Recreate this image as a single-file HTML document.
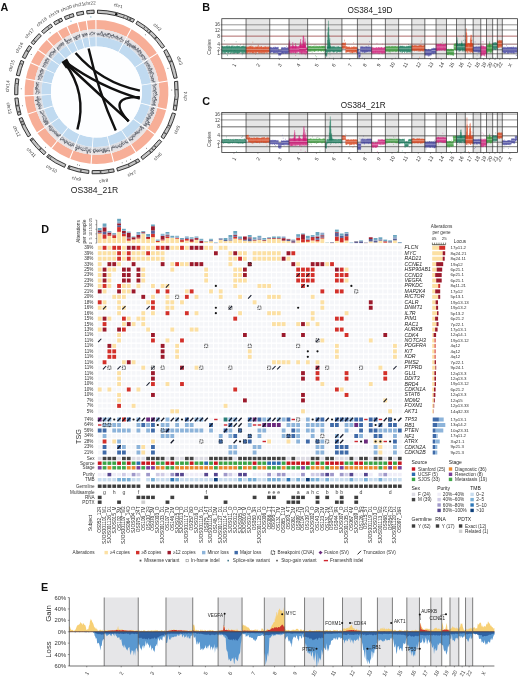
<!DOCTYPE html>
<html><head><meta charset="utf-8"><title>Figure</title>
<style>html,body{margin:0;padding:0;background:#fff;}svg{display:block;}</style></head>
<body><svg width="520" height="678" viewBox="0 0 520 678" font-family="'Liberation Sans', Arial, sans-serif">
<rect width="520" height="678" fill="#fff"/>
<text x="0.6" y="11" font-size="10.8" font-weight="bold" fill="#111">A</text>
<text x="202.3" y="11" font-size="10.8" font-weight="bold" fill="#111">B</text>
<text x="202.2" y="104.7" font-size="10.8" font-weight="bold" fill="#111">C</text>
<text x="41.2" y="233" font-size="10.8" font-weight="bold" fill="#111">D</text>
<text x="41" y="590.7" font-size="10.8" font-weight="bold" fill="#111">E</text>
<path d="M96.44,20.1A71.9,71.9 0 0 1 130.68,28.74L126.35,36.75A62.8,62.8 0 0 0 96.45,29.2Z" fill="#f7ae97"/>
<path d="M96.45,29.2A62.8,62.8 0 0 1 126.35,36.75L122.64,43.61A55,55 0 0 0 96.45,37Z" fill="#dcdde2"/>
<path d="M96.45,37A55,55 0 0 1 122.64,43.61L118.17,51.88A45.6,45.6 0 0 0 96.46,46.4Z" fill="#c0daf0"/>
<path d="M131.67,29.29A71.9,71.9 0 0 1 156.84,52.9L149.2,57.84A62.8,62.8 0 0 0 127.21,37.22Z" fill="#f7ae97"/>
<path d="M127.21,37.22A62.8,62.8 0 0 1 149.2,57.84L142.65,62.09A55,55 0 0 0 123.4,44.03Z" fill="#dcdde2"/>
<path d="M123.4,44.03A55,55 0 0 1 142.65,62.09L134.77,67.2A45.6,45.6 0 0 0 118.8,52.23Z" fill="#c0daf0"/>
<path d="M157.44,53.85A71.9,71.9 0 0 1 167.47,80.49L158.49,81.94A62.8,62.8 0 0 0 149.73,58.68Z" fill="#f7ae97"/>
<path d="M149.73,58.68A62.8,62.8 0 0 1 158.49,81.94L150.79,83.19A55,55 0 0 0 143.12,62.82Z" fill="#dcdde2"/>
<path d="M143.12,62.82A55,55 0 0 1 150.79,83.19L141.51,84.7A45.6,45.6 0 0 0 135.15,67.8Z" fill="#c0daf0"/>
<path d="M167.64,81.6A71.9,71.9 0 0 1 166.34,109.09L157.5,106.93A62.8,62.8 0 0 0 158.64,82.92Z" fill="#f7ae97"/>
<path d="M158.64,82.92A62.8,62.8 0 0 1 157.5,106.93L149.92,105.07A55,55 0 0 0 150.92,84.05Z" fill="#dcdde2"/>
<path d="M150.92,84.05A55,55 0 0 1 149.92,105.07L140.79,102.84A45.6,45.6 0 0 0 141.62,85.41Z" fill="#c0daf0"/>
<path d="M166.06,110.18A71.9,71.9 0 0 1 154.95,133.87L147.55,128.57A62.8,62.8 0 0 0 157.26,107.88Z" fill="#f7ae97"/>
<path d="M157.26,107.88A62.8,62.8 0 0 1 147.55,128.57L141.21,124.03A55,55 0 0 0 149.71,105.91Z" fill="#dcdde2"/>
<path d="M149.71,105.91A55,55 0 0 1 141.21,124.03L133.57,118.55A45.6,45.6 0 0 0 140.62,103.53Z" fill="#c0daf0"/>
<path d="M154.29,134.78A71.9,71.9 0 0 1 136.31,151.88L131.27,144.3A62.8,62.8 0 0 0 146.97,129.37Z" fill="#f7ae97"/>
<path d="M146.97,129.37A62.8,62.8 0 0 1 131.27,144.3L126.95,137.8A55,55 0 0 0 140.7,124.73Z" fill="#dcdde2"/>
<path d="M140.7,124.73A55,55 0 0 1 126.95,137.8L121.74,129.97A45.6,45.6 0 0 0 133.15,119.13Z" fill="#c0daf0"/>
<path d="M135.36,152.49A71.9,71.9 0 0 1 114.09,161.71L111.87,152.89A62.8,62.8 0 0 0 130.44,144.84Z" fill="#f7ae97"/>
<path d="M130.44,144.84A62.8,62.8 0 0 1 111.87,152.89L109.96,145.33A55,55 0 0 0 126.23,138.28Z" fill="#dcdde2"/>
<path d="M126.23,138.28A55,55 0 0 1 109.96,145.33L107.66,136.21A45.6,45.6 0 0 0 121.15,130.37Z" fill="#c0daf0"/>
<path d="M113,161.98A71.9,71.9 0 0 1 91.66,163.74L92.27,154.66A62.8,62.8 0 0 0 110.91,153.12Z" fill="#f7ae97"/>
<path d="M110.91,153.12A62.8,62.8 0 0 1 92.27,154.66L92.8,146.88A55,55 0 0 0 109.12,145.53Z" fill="#dcdde2"/>
<path d="M109.12,145.53A55,55 0 0 1 92.8,146.88L93.43,137.5A45.6,45.6 0 0 0 106.96,136.38Z" fill="#c0daf0"/>
<path d="M90.53,163.65A71.9,71.9 0 0 1 70.34,158.97L73.65,150.5A62.8,62.8 0 0 0 91.29,154.58Z" fill="#f7ae97"/>
<path d="M91.29,154.58A62.8,62.8 0 0 1 73.65,150.5L76.49,143.23A55,55 0 0 0 91.93,146.81Z" fill="#dcdde2"/>
<path d="M91.93,146.81A55,55 0 0 1 76.49,143.23L79.91,134.47A45.6,45.6 0 0 0 92.71,137.44Z" fill="#c0daf0"/>
<path d="M69.29,158.55A71.9,71.9 0 0 1 51.97,148.45L57.61,141.31A62.8,62.8 0 0 0 72.73,150.13Z" fill="#f7ae97"/>
<path d="M72.73,150.13A62.8,62.8 0 0 1 57.61,141.31L62.44,135.18A55,55 0 0 0 75.69,142.91Z" fill="#dcdde2"/>
<path d="M75.69,142.91A55,55 0 0 1 62.44,135.18L68.26,127.8A45.6,45.6 0 0 0 79.24,134.21Z" fill="#c0daf0"/>
<path d="M51.09,147.75A71.9,71.9 0 0 1 37.54,133.16L45.01,127.95A62.8,62.8 0 0 0 56.84,140.69Z" fill="#f7ae97"/>
<path d="M56.84,140.69A62.8,62.8 0 0 1 45.01,127.95L51.4,123.48A55,55 0 0 0 61.76,134.64Z" fill="#dcdde2"/>
<path d="M61.76,134.64A55,55 0 0 1 51.4,123.48L59.11,118.1A45.6,45.6 0 0 0 67.7,127.36Z" fill="#c0daf0"/>
<path d="M36.9,132.22A71.9,71.9 0 0 1 28.2,114.47L36.84,111.62A62.8,62.8 0 0 0 44.45,127.13Z" fill="#f7ae97"/>
<path d="M44.45,127.13A62.8,62.8 0 0 1 36.84,111.62L44.25,109.19A55,55 0 0 0 50.91,122.77Z" fill="#dcdde2"/>
<path d="M50.91,122.77A55,55 0 0 1 44.25,109.19L53.18,106.25A45.6,45.6 0 0 0 58.7,117.51Z" fill="#c0daf0"/>
<path d="M27.86,113.39A71.9,71.9 0 0 1 24.74,96.5L33.82,95.93A62.8,62.8 0 0 0 36.54,110.69Z" fill="#f7ae97"/>
<path d="M36.54,110.69A62.8,62.8 0 0 1 33.82,95.93L41.61,95.44A55,55 0 0 0 43.99,108.36Z" fill="#dcdde2"/>
<path d="M43.99,108.36A55,55 0 0 1 41.61,95.44L50.99,94.85A45.6,45.6 0 0 0 52.97,105.57Z" fill="#c0daf0"/>
<path d="M24.68,95.37A71.9,71.9 0 0 1 25.73,79.32L34.68,80.93A62.8,62.8 0 0 0 33.77,94.94Z" fill="#f7ae97"/>
<path d="M33.77,94.94A62.8,62.8 0 0 1 34.68,80.93L42.36,82.3A55,55 0 0 0 41.56,94.58Z" fill="#dcdde2"/>
<path d="M41.56,94.58A55,55 0 0 1 42.36,82.3L51.61,83.96A45.6,45.6 0 0 0 50.95,94.14Z" fill="#c0daf0"/>
<path d="M25.93,78.21A71.9,71.9 0 0 1 30.54,63.37L38.89,67A62.8,62.8 0 0 0 34.87,79.96Z" fill="#f7ae97"/>
<path d="M34.87,79.96A62.8,62.8 0 0 1 38.89,67L46.05,70.1A55,55 0 0 0 42.52,81.45Z" fill="#dcdde2"/>
<path d="M42.52,81.45A55,55 0 0 1 46.05,70.1L54.67,73.84A45.6,45.6 0 0 0 51.75,83.25Z" fill="#c0daf0"/>
<path d="M31,62.34A71.9,71.9 0 0 1 37.85,50.41L45.27,55.67A62.8,62.8 0 0 0 39.29,66.09Z" fill="#f7ae97"/>
<path d="M39.29,66.09A62.8,62.8 0 0 1 45.27,55.67L51.64,60.19A55,55 0 0 0 46.4,69.31Z" fill="#dcdde2"/>
<path d="M46.4,69.31A55,55 0 0 1 51.64,60.19L59.3,65.62A45.6,45.6 0 0 0 54.96,73.19Z" fill="#c0daf0"/>
<path d="M38.51,49.49A71.9,71.9 0 0 1 46.76,40.08L53.06,46.65A62.8,62.8 0 0 0 45.85,54.87Z" fill="#f7ae97"/>
<path d="M45.85,54.87A62.8,62.8 0 0 1 53.06,46.65L58.45,52.28A55,55 0 0 0 52.14,59.48Z" fill="#dcdde2"/>
<path d="M52.14,59.48A55,55 0 0 1 58.45,52.28L64.96,59.07A45.6,45.6 0 0 0 59.72,65.04Z" fill="#c0daf0"/>
<path d="M47.59,39.3A71.9,71.9 0 0 1 57.12,31.84L62.11,39.46A62.8,62.8 0 0 0 53.78,45.97Z" fill="#f7ae97"/>
<path d="M53.78,45.97A62.8,62.8 0 0 1 62.11,39.46L66.38,45.98A55,55 0 0 0 59.08,51.69Z" fill="#dcdde2"/>
<path d="M59.08,51.69A55,55 0 0 1 66.38,45.98L71.53,53.85A45.6,45.6 0 0 0 65.48,58.58Z" fill="#c0daf0"/>
<path d="M58.07,31.23A71.9,71.9 0 0 1 66.42,26.69L70.23,34.96A62.8,62.8 0 0 0 62.94,38.92Z" fill="#f7ae97"/>
<path d="M62.94,38.92A62.8,62.8 0 0 1 70.23,34.96L73.49,42.04A55,55 0 0 0 67.1,45.51Z" fill="#dcdde2"/>
<path d="M67.1,45.51A55,55 0 0 1 73.49,42.04L77.42,50.58A45.6,45.6 0 0 0 72.13,53.46Z" fill="#c0daf0"/>
<path d="M67.45,26.23A71.9,71.9 0 0 1 76.9,22.82L79.38,31.58A62.8,62.8 0 0 0 71.13,34.55Z" fill="#f7ae97"/>
<path d="M71.13,34.55A62.8,62.8 0 0 1 79.38,31.58L81.51,39.08A55,55 0 0 0 74.28,41.69Z" fill="#dcdde2"/>
<path d="M74.28,41.69A55,55 0 0 1 81.51,39.08L84.07,48.13A45.6,45.6 0 0 0 78.08,50.29Z" fill="#c0daf0"/>
<path d="M77.99,22.52A71.9,71.9 0 0 1 85.81,20.9L87.17,29.9A62.8,62.8 0 0 0 80.33,31.32Z" fill="#f7ae97"/>
<path d="M80.33,31.32A62.8,62.8 0 0 1 87.17,29.9L88.33,37.61A55,55 0 0 0 82.34,38.85Z" fill="#dcdde2"/>
<path d="M82.34,38.85A55,55 0 0 1 88.33,37.61L89.72,46.91A45.6,45.6 0 0 0 84.76,47.94Z" fill="#c0daf0"/>
<path d="M86.93,20.74A71.9,71.9 0 0 1 95.31,20.11L95.46,29.21A62.8,62.8 0 0 0 88.14,29.76Z" fill="#f7ae97"/>
<path d="M88.14,29.76A62.8,62.8 0 0 1 95.46,29.21L95.59,37.01A55,55 0 0 0 89.18,37.49Z" fill="#dcdde2"/>
<path d="M89.18,37.49A55,55 0 0 1 95.59,37.01L95.74,46.41A45.6,45.6 0 0 0 90.43,46.81Z" fill="#c0daf0"/>
<path d="M96.45,29.2A62.8,62.8 0 0 1 126.35,36.75L125.3,38.68A60.6,60.6 0 0 0 96.45,31.4Z" fill="#ece4e4"/>
<path d="M127.21,37.22A62.8,62.8 0 0 1 149.2,57.84L147.35,59.04A60.6,60.6 0 0 0 126.14,39.14Z" fill="#ece4e4"/>
<path d="M149.73,58.68A62.8,62.8 0 0 1 158.49,81.94L156.32,82.3A60.6,60.6 0 0 0 147.86,59.84Z" fill="#ece4e4"/>
<path d="M158.64,82.92A62.8,62.8 0 0 1 157.5,106.93L155.36,106.4A60.6,60.6 0 0 0 156.46,83.24Z" fill="#ece4e4"/>
<path d="M157.26,107.88A62.8,62.8 0 0 1 147.55,128.57L145.76,127.29A60.6,60.6 0 0 0 155.13,107.33Z" fill="#ece4e4"/>
<path d="M146.97,129.37A62.8,62.8 0 0 1 131.27,144.3L130.05,142.47A60.6,60.6 0 0 0 145.2,128.06Z" fill="#ece4e4"/>
<path d="M130.44,144.84A62.8,62.8 0 0 1 111.87,152.89L111.33,150.76A60.6,60.6 0 0 0 129.25,142.99Z" fill="#ece4e4"/>
<path d="M110.91,153.12A62.8,62.8 0 0 1 92.27,154.66L92.42,152.46A60.6,60.6 0 0 0 110.4,150.98Z" fill="#ece4e4"/>
<path d="M91.29,154.58A62.8,62.8 0 0 1 73.65,150.5L74.45,148.45A60.6,60.6 0 0 0 91.47,152.39Z" fill="#ece4e4"/>
<path d="M72.73,150.13A62.8,62.8 0 0 1 57.61,141.31L58.97,139.58A60.6,60.6 0 0 0 73.57,148.09Z" fill="#ece4e4"/>
<path d="M56.84,140.69A62.8,62.8 0 0 1 45.01,127.95L46.81,126.69A60.6,60.6 0 0 0 58.23,138.99Z" fill="#ece4e4"/>
<path d="M44.45,127.13A62.8,62.8 0 0 1 36.84,111.62L38.93,110.94A60.6,60.6 0 0 0 46.27,125.9Z" fill="#ece4e4"/>
<path d="M36.54,110.69A62.8,62.8 0 0 1 33.82,95.93L36.02,95.79A60.6,60.6 0 0 0 38.64,110.03Z" fill="#ece4e4"/>
<path d="M33.77,94.94A62.8,62.8 0 0 1 34.68,80.93L36.85,81.31A60.6,60.6 0 0 0 35.97,94.84Z" fill="#ece4e4"/>
<path d="M34.87,79.96A62.8,62.8 0 0 1 38.89,67L40.91,67.87A60.6,60.6 0 0 0 37.02,80.38Z" fill="#ece4e4"/>
<path d="M39.29,66.09A62.8,62.8 0 0 1 45.27,55.67L47.07,56.95A60.6,60.6 0 0 0 41.3,67Z" fill="#ece4e4"/>
<path d="M45.85,54.87A62.8,62.8 0 0 1 53.06,46.65L54.58,48.24A60.6,60.6 0 0 0 47.62,56.17Z" fill="#ece4e4"/>
<path d="M53.78,45.97A62.8,62.8 0 0 1 62.11,39.46L63.31,41.3A60.6,60.6 0 0 0 55.27,47.59Z" fill="#ece4e4"/>
<path d="M62.94,38.92A62.8,62.8 0 0 1 70.23,34.96L71.15,36.96A60.6,60.6 0 0 0 64.11,40.78Z" fill="#ece4e4"/>
<path d="M71.13,34.55A62.8,62.8 0 0 1 79.38,31.58L79.98,33.69A60.6,60.6 0 0 0 72.01,36.57Z" fill="#ece4e4"/>
<path d="M80.33,31.32A62.8,62.8 0 0 1 87.17,29.9L87.49,32.07A60.6,60.6 0 0 0 80.9,33.44Z" fill="#ece4e4"/>
<path d="M88.14,29.76A62.8,62.8 0 0 1 95.46,29.21L95.5,31.41A60.6,60.6 0 0 0 88.44,31.94Z" fill="#ece4e4"/>
<polyline points="97.01,33.27 97.64,34.67 98.31,33.41 98.9,34.93 99.59,33.79 100.24,33.86 100.92,33.41 101.75,31.37 102.25,33.23 102.8,34.18 103.21,36.22 104.11,34.1 104.79,33.98 105.49,33.7 105.89,35.29 106.58,35.02 107.15,35.46 108.28,33.06 108.57,34.92 109.58,33.36 110.01,34.44 110.6,34.82 110.92,36.18 111.89,35.04 112.35,35.8 113.45,34.38 113.56,36.28 114.2,36.41 114.95,36.2 115.45,36.75 115.9,37.41 117.18,35.8 117.48,36.88 117.67,38.18 118.55,37.73 118.97,38.41 119.53,38.73 120.14,38.94 121.85,36.77 121.64,38.79 121.85,39.86 122.49,40.01 123.04,40.35 123.72,40.44" fill="none" stroke="#5c6068" stroke-width="0.85" stroke-linejoin="round"/>
<polyline points="97.01,34.01 97.62,35.3 98.26,34.98 98.92,34.48 99.54,34.8 100.15,35.29 100.84,34.43 101.35,35.95 102.08,34.93 102.74,34.77 103.25,35.82 103.74,36.94 104.44,36.41 105.18,35.71 105.83,35.61 106.58,35.01 106.88,36.88 107.63,36.31 108.34,36 108.84,36.68 109.1,38.33 110.23,36.31 111.11,35.45 111.49,36.5 111.74,37.96 112.44,37.8 113.17,37.55 114.26,36.23 114.46,37.67 114.95,38.21 115.88,37.46 116.09,38.76 117.17,37.71 117.11,39.6 117.75,39.7 118.65,39.16 119.43,38.96 119.8,39.71 120.27,40.2 120.21,41.81 121.11,41.37 121.7,41.59 122.28,41.82 123.2,41.42" fill="none" stroke="#7a7e86" stroke-width="0.8" opacity="0.8"/>
<polyline points="126.12,40.35 125.38,42.9 126.48,42.31 127.9,41.23 129.05,40.66 127.68,44 127.25,45.78 129.49,43.59 130.24,43.66 129.42,45.92 131.17,44.59 131.45,45.31 132.18,45.42 131.6,47.21 133.64,45.68 132.59,48 135.26,45.79 134.11,48.15 135.81,47.2 135.19,48.87 135.55,49.43 136.33,49.54 138.5,48.2 137.64,50.05 138.07,50.53 137.76,51.74 140.44,50.07 140.06,51.34 140.08,52.22 141.42,51.9 140.38,53.7 141,54.02 141.79,54.2 142.49,54.47 141.11,56.42 143.43,55.41 143.54,56.16 144.41,56.32 144.6,57.01 143.96,58.27 145.4,58.06 145.86,58.54 145.12,59.82" fill="none" stroke="#5c6068" stroke-width="0.85" stroke-linejoin="round"/>
<polyline points="124.14,43.79 125.71,42.35 126.41,42.42 126.56,43.39 127.4,43.26 127.22,44.71 128.49,43.93 128.39,45.21 129.27,45.05 130.39,44.58 129.29,47.16 130.64,46.39 131.35,46.5 132.66,45.86 132.48,47.13 133.47,46.93 133.46,47.93 133.41,48.97 134.07,49.17 134.74,49.37 135.1,49.92 136,49.89 136.52,50.27 137.48,50.21 137.16,51.44 137.49,52.01 138.18,52.22 139.03,52.31 138.98,53.22 138.5,54.51 139.86,54.15 139.49,55.31 139.63,56 141.64,55.17 141.03,56.48 141.83,56.66 142.62,56.85 142.44,57.79 142.85,58.27 142.26,59.48 143.67,59.25 144.07,59.75 144.65,60.14" fill="none" stroke="#7a7e86" stroke-width="0.8" opacity="0.8"/>
<polyline points="147.41,60.8 145.8,62.55 146.24,63.03 147.71,62.93 147.56,63.76 148.66,63.91 149.01,64.48 147.93,65.77 149.69,65.61 150.1,66.15 149.22,67.3 149.54,67.87 148.57,69 150.74,68.77 152.32,68.82 149.4,70.73 150.73,70.89 151.79,71.18 150.92,72.2 150.37,73.08 153.27,72.77 153.58,73.37 152.98,74.26 152.68,75.04 152.29,75.84 152.65,76.41 151.46,77.4 151.14,78.13 153.52,78.2 152.85,79.03 153.59,79.53 152.17,80.49 153.74,80.83 152.84,81.65 155.38,81.87" fill="none" stroke="#5c6068" stroke-width="0.85" stroke-linejoin="round"/>
<polyline points="146,61.67 144.13,63.54 144.94,63.78 145.92,63.95 146.58,64.31 147.38,64.6 146.11,66 147.23,66.13 149.16,65.88 148.1,67.12 147.44,68.13 148.28,68.44 148.87,68.87 148.08,69.91 148.12,70.57 149.4,70.72 150.32,71.05 150.14,71.81 148.62,73.04 151.1,72.82 150.92,73.57 150.41,74.41 150.5,75.04 151.09,75.52 150.08,76.48 151.89,76.62 152.18,77.21 151.26,78.1 151.68,78.65 152.42,79.13 151,80.09 151.23,80.68 153.23,80.93 153.4,81.55 153.09,82.26" fill="none" stroke="#7a7e86" stroke-width="0.8" opacity="0.8"/>
<polyline points="155.2,84 156.44,84.5 154.86,85.36 154.95,86 154.62,86.69 155.31,87.28 154.6,87.98 155.79,88.56 155.81,89.22 156.02,89.87 153.8,90.59 155.22,91.2 155.71,91.85 157.01,92.52 155.22,93.16 156.24,93.84 157.37,94.55 155.44,95.12 155.32,95.77 154.69,96.38 153.93,96.96 156.02,97.81 155.13,98.38 154.97,99.02 157.04,99.95 153.72,100.16 154.91,100.99 153.71,101.46 155.33,102.4 154.71,102.95 153.95,103.47 154.06,104.16 155.57,105.16 151.74,104.95" fill="none" stroke="#5c6068" stroke-width="0.85" stroke-linejoin="round"/>
<polyline points="155,84.02 154.15,84.79 152.43,85.63 153.93,86.11 153.35,86.8 154.46,87.35 153.07,88.09 153.78,88.68 153.79,89.32 153.84,89.95 153.52,90.59 152.66,91.24 154.27,91.86 154.64,92.5 153.89,93.13 153.21,93.75 154.04,94.41 154.26,95.06 153.71,95.67 153.78,96.31 154.72,97.03 152.9,97.51 153.22,98.17 152.21,98.69 152.97,99.42 152.86,100.04 152.61,100.64 152.7,101.29 154.31,102.22 152.82,102.6 152.76,103.23 154.21,104.19 152.53,104.49 151.25,104.84" fill="none" stroke="#7a7e86" stroke-width="0.8" opacity="0.8"/>
<polyline points="152.82,107.3 154.43,108.43 152.36,108.53 151.03,108.8 153.65,110.31 153.47,110.96 152.51,111.34 152.47,112.02 154.03,113.31 151.2,112.96 150.62,113.44 152.49,114.9 151.04,115.03 150.95,115.71 150.49,116.23 148.54,116.06 150.78,117.83 150.17,118.28 149.73,118.81 146.99,118.14 148.66,119.75 148.03,120.16 147.04,120.36 149.53,122.54 147.97,122.41 147.57,122.95 149.83,125.15 145.61,123.29 146.51,124.65 145.46,124.76 146.39,126.19 143.58,125.04" fill="none" stroke="#5c6068" stroke-width="0.85" stroke-linejoin="round"/>
<polyline points="151.53,106.95 152.29,107.83 151.84,108.37 151.57,108.96 150.69,109.36 152.04,110.48 150.29,110.57 152.61,112.07 151.12,112.23 150.53,112.7 149.97,113.18 150.38,114.04 149.18,114.24 147.6,114.25 149.29,115.69 148.81,116.19 149.28,117.12 149.16,117.79 147.56,117.72 145.96,117.61 147.69,119.24 147.39,119.81 145.97,119.76 147.05,121.11 146.65,121.63 145.37,121.62 145.53,122.47 145.76,123.39 144.96,123.64 144.82,124.33 144.45,124.86 143.33,124.87" fill="none" stroke="#7a7e86" stroke-width="0.8" opacity="0.8"/>
<polyline points="143.12,127.22 143.75,128.5 140,126.38 141.55,128.4 141.64,129.3 141.54,130.05 140.33,129.86 139.92,130.34 139.12,130.47 139.16,131.36 139.26,132.32 139.09,133.05 137.34,132.24 137.61,133.4 137.07,133.76 134.91,132.4 136.01,134.48 135.2,134.53 135,135.25 134.98,136.2 134.57,136.69 133.76,136.73 132.77,136.52 132.29,136.92 132.41,138.1 132.95,139.86 131.92,139.58 130.9,139.27 130.9,140.37 129.63,139.69 129.51,140.63" fill="none" stroke="#5c6068" stroke-width="0.85" stroke-linejoin="round"/>
<polyline points="141.76,126.19 140.96,126.35 140.91,127.09 140.59,127.63 139.96,127.91 140.01,128.76 139.37,129.03 139.34,129.83 139.5,130.81 138.72,130.95 138.12,131.25 137.36,131.39 136.29,131.2 136.55,132.33 136.43,133.1 135.23,132.74 135.86,134.32 134.65,133.93 134.52,134.71 133.73,134.75 132.84,134.66 133.86,136.85 131.94,135.5 132.37,137.02 131.24,136.6 131.11,137.44 130.15,137.2 129.82,137.79 129.86,138.91 129.76,139.86 128.13,138.61" fill="none" stroke="#7a7e86" stroke-width="0.8" opacity="0.8"/>
<polyline points="128.37,142.67 127.04,141.8 127.13,143.23 125.46,141.7 125.32,142.77 124.8,143.19 124.36,143.77 123.86,144.24 123.37,144.74 121.74,142.96 121.67,144.3 121.93,146.4 121.07,146.13 120.79,147.18 119.95,146.93 118.92,146.22 118.3,146.43 117.82,147.04 117.42,147.85 116.6,147.57 115.65,146.86 115.16,147.46 114.39,147.25 113.89,147.84 112.86,146.68 112.53,147.87 111.72,147.42 111.93,150.75" fill="none" stroke="#5c6068" stroke-width="0.85" stroke-linejoin="round"/>
<polyline points="126.46,139.63 125.94,140.01 125.87,141.13 125.52,141.8 124.5,141.32 124.11,141.94 123.79,142.72 123.08,142.75 121.58,141.24 121.84,143.17 121.53,143.99 120.9,144.19 120.51,144.92 119.44,144.1 119.74,146.44 118.65,145.56 117.92,145.49 117.51,146.24 116.87,146.38 116.05,146.05 115.27,145.79 115.03,147.09 114.28,146.89 113.18,145.54 112.73,146.26 112.42,147.49 111.73,147.43 111.13,147.71" fill="none" stroke="#7a7e86" stroke-width="0.8" opacity="0.8"/>
<polyline points="109.58,149.99 109.2,151.4 108.31,150.43 107.73,150.93 106.88,149.97 106.47,151.54 105.63,150.49 105.26,152.57 104.05,148.66 103.59,150.23 103.24,153.03 102.42,151.7 101.6,150.03 101.02,150.96 100.33,150.67 99.68,150.68 99.06,151.68 98.34,149.93 97.73,151.75 97.06,151.98 96.39,150.05 95.73,151.19 95.07,150.8 94.33,153.1 93.69,152.21 93.15,149.85" fill="none" stroke="#5c6068" stroke-width="0.85" stroke-linejoin="round"/>
<polyline points="109.19,148.24 108.51,148.14 107.79,147.81 107.32,148.8 106.83,149.7 105.99,148.67 105.46,149.4 104.69,148.67 104.14,149.39 103.39,148.6 102.87,149.64 102.18,149.29 101.57,149.72 100.88,149.13 100.21,148.78 99.61,149.41 99.01,150.39 98.36,150.8 97.68,149.48 97.04,150.28 96.39,150.25 95.74,149.99 95.13,148.62 94.45,149.91 93.84,148.98 93.12,150.45" fill="none" stroke="#7a7e86" stroke-width="0.8" opacity="0.8"/>
<polyline points="90.95,151.69 90.16,152.72 89.8,149.92 89.03,150.76 88.43,150.2 87.27,153.48 86.99,150.81 86.46,149.98 85.8,149.92 85.1,150.04 84.24,150.91 83.75,149.98 82.95,150.45 82.18,150.76 81.89,149.16 81.1,149.55 80.59,148.86 80.03,148.42 79.59,147.61 78.39,149.22 78.26,147.44 77.22,148.45 75.7,150.73 76.38,146.85 75.25,147.97" fill="none" stroke="#5c6068" stroke-width="0.85" stroke-linejoin="round"/>
<polyline points="91.12,149.84 90.57,148.86 89.9,149.06 89.13,149.96 88.47,149.95 87.91,149.22 87.38,148.45 86.96,147.09 85.95,149.08 85.55,147.73 84.74,148.48 84.1,148.36 83.52,148 82.69,148.69 82.23,147.81 81.63,147.57 81.09,147.08 80.14,148.04 79.59,147.59 79.44,145.89 78.54,146.6 77.91,146.44 77.16,146.63 77.12,144.85 76.21,145.45" fill="none" stroke="#7a7e86" stroke-width="0.8" opacity="0.8"/>
<polyline points="73.9,145.81 73.09,146 73.06,144.44 71.93,145.33 70.76,146.25 70.86,144.5 70.05,144.63 68.93,145.34 68.52,144.66 68.47,143.34 67.48,143.76 67.17,142.94 67.1,141.75 66.21,141.97 64.54,143.39 64.9,141.56 64.11,141.55 64.11,140.35 64.05,139.27 63.07,139.53 61.98,139.92 61.49,139.45 60.28,139.94 60.79,138.18" fill="none" stroke="#5c6068" stroke-width="0.85" stroke-linejoin="round"/>
<polyline points="74.34,144.74 74,143.91 73.56,143.31 72.83,143.38 71.75,144.15 71.35,143.49 70.96,142.82 70.17,142.94 69.96,141.96 68.78,142.78 68.31,142.29 67.56,142.28 67.41,141.23 66.35,141.74 66.52,140.21 65.25,141.02 64.61,140.78 64.49,139.78 63.48,140.1 62.76,139.98 63.4,137.94 62.78,137.71 62.49,137.03 61.16,137.71" fill="none" stroke="#7a7e86" stroke-width="0.8" opacity="0.8"/>
<polyline points="59.9,136.06 60.37,134.51 57.83,136.48 58.04,135.25 56.66,135.8 57.26,134.17 56.17,134.38 55.66,133.96 54.91,133.79 54.73,133.03 55.04,131.82 53.93,131.98 53.41,131.56 52.63,131.38 52.4,130.7 51.92,130.24 50.94,130.2 49.71,130.34 50.05,129.2 49.79,128.55 50.43,127.22 49.5,127.1 50.03,125.9 48.6,126.12" fill="none" stroke="#5c6068" stroke-width="0.85" stroke-linejoin="round"/>
<polyline points="60.25,135.65 59.52,135.52 59.05,135.08 58.55,134.67 57.69,134.66 57.69,133.71 56.99,133.52 55.97,133.64 56.78,131.9 56.15,131.64 55.04,131.82 55.02,130.95 54.53,130.53 52.92,131.11 53.37,129.84 53.39,128.98 52.17,129.17 50.98,129.3 52.55,127.2 51.91,126.89 51.08,126.72 51.12,125.89 49.15,126.54 49.71,125.34" fill="none" stroke="#7a7e86" stroke-width="0.8" opacity="0.8"/>
<polyline points="47.08,124.67 47.69,123.49 44.92,124.47 48.12,121.71 47.51,121.33 44.22,122.51 46.04,120.7 43.51,121.36 43.94,120.36 43.52,119.83 43.64,119.02 43.57,118.31 43.39,117.67 42.79,117.22 42.8,116.49 43.5,115.46 42.97,114.98 42.53,114.46 42.3,113.85 42.31,113.15 40.59,113.1 41.36,112.11 39.93,111.92 40.5,111.02" fill="none" stroke="#5c6068" stroke-width="0.85" stroke-linejoin="round"/>
<polyline points="48.7,123.6 48.67,122.86 48.31,122.33 46.78,122.53 47.41,121.39 46.61,121.12 47.15,120.07 46.58,119.66 44.7,119.95 46.97,118.02 44.89,118.38 45.13,117.54 45,116.89 45.35,116.02 43.78,116.04 44.52,115.01 43.59,114.72 42.95,114.29 43.82,113.24 43.7,112.6 43.61,111.96 43.73,111.25 43.33,110.72 42.42,110.37" fill="none" stroke="#7a7e86" stroke-width="0.8" opacity="0.8"/>
<polyline points="40.68,108.81 38.9,108.66 39.39,107.83 39.56,107.12 39.3,106.51 38.39,106.06 40.1,104.99 38.24,104.75 36.6,104.42 38.43,103.37 39.18,102.57 37.84,102.15 37.7,101.51 38.38,100.74 34.97,100.56 38.57,99.41 37.94,98.84 38.04,98.18 36.72,97.65 37.97,96.88 37.34,96.28" fill="none" stroke="#5c6068" stroke-width="0.85" stroke-linejoin="round"/>
<polyline points="40.95,108.73 41.32,107.96 40.79,107.45 40.21,106.94 40.91,106.1 41.49,105.31 40.09,104.99 40.24,104.31 40.43,103.62 39.4,103.18 39.25,102.56 37.73,102.17 38.64,101.36 39.11,100.63 39.08,99.99 41.17,99.08 38.59,98.76 38.39,98.14 38.93,97.44 39.07,96.79 38.74,96.18" fill="none" stroke="#7a7e86" stroke-width="0.8" opacity="0.8"/>
<polyline points="35.93,94.26 35.77,93.57 36.25,92.88 36.34,92.19 36.52,91.5 37.11,90.83 36.43,90.14 35.51,89.41 37.86,88.84 35,87.98 36.81,87.42 36.93,86.75 35.96,85.97 37.72,85.46 38.24,84.85 35.92,83.86 36.9,83.3 36.38,82.53 36.98,81.93" fill="none" stroke="#5c6068" stroke-width="0.85" stroke-linejoin="round"/>
<polyline points="37.69,94.19 38.66,93.5 37.94,92.85 40.15,92.18 37.33,91.51 38.66,90.86 39.34,90.23 37.91,89.51 37.48,88.82 37.21,88.13 37.75,87.49 38.64,86.9 37.92,86.16 37.97,85.49 38.44,84.87 38.62,84.23 37.97,83.46 37.79,82.75 39.38,82.33" fill="none" stroke="#7a7e86" stroke-width="0.8" opacity="0.8"/>
<polyline points="37.93,79.97 38.13,79.34 39.36,78.95 39.03,78.21 39.43,77.65 37.94,76.58 38.77,76.12 40.13,75.83 40.06,75.14 39.73,74.36 41.35,74.2 41.56,73.6 40.33,72.5 41.12,72.09 39.9,70.95 41.29,70.78 41.06,69.99 43.22,70.17 41.12,68.59" fill="none" stroke="#5c6068" stroke-width="0.85" stroke-linejoin="round"/>
<polyline points="40.6,80.52 40.06,79.76 40.45,79.2 40.7,78.61 41.49,78.16 41.68,77.57 40.54,76.61 43.09,76.68 41.85,75.68 40.79,74.69 41.52,74.25 42.35,73.86 42.69,73.32 43.44,72.93 41.48,71.54 43.34,71.56 43.11,70.8 42.53,69.88 43.1,69.43" fill="none" stroke="#7a7e86" stroke-width="0.8" opacity="0.8"/>
<polyline points="42.96,67.13 42.85,66.33 43.98,66.12 43.61,65.18 44.41,64.83 44.18,63.94 43.98,63.05 44.52,62.56 46.3,62.81 46.2,61.97 45.2,60.56 46.69,60.68 45.84,59.34 46.75,59.11 48.45,59.43 47.31,57.82" fill="none" stroke="#5c6068" stroke-width="0.85" stroke-linejoin="round"/>
<polyline points="44.64,67.91 44.66,67.2 44.96,66.6 45.4,66.09 46.2,65.76 45.5,64.65 45.42,63.85 46.47,63.67 47.92,63.75 47.63,62.82 47.2,61.79 48.49,61.82 48.46,61.02 48.8,60.46 49.16,59.91 48.89,58.92" fill="none" stroke="#7a7e86" stroke-width="0.8" opacity="0.8"/>
<polyline points="50.16,57.34 49.09,55.71 49.76,55.41 50.31,55 49.87,53.79 50.73,53.64 50.87,52.89 50.91,52.04 52.19,52.29 53.6,52.68 53.05,51.28 54.68,51.93 54.45,50.81 55.22,50.66 53.86,48.33" fill="none" stroke="#5c6068" stroke-width="0.85" stroke-linejoin="round"/>
<polyline points="50.42,57.54 51.32,57.43 49.92,55.52 51.54,55.99 51.31,54.97 51.5,54.28 53.23,54.91 52.92,53.8 53.68,53.62 53.51,52.6 54.26,52.42 55.32,52.54 55.11,51.46 55.22,50.66 56.19,50.72" fill="none" stroke="#7a7e86" stroke-width="0.8" opacity="0.8"/>
<polyline points="58.65,50.43 57.12,47.74 57.69,47.36 58.4,47.14 58.99,46.79 59.13,45.9 59.3,45.01 60.1,44.92 61.45,45.58 60.8,43.56 62.1,44.19 62.02,42.9 62.68,42.64 64.13,43.57" fill="none" stroke="#5c6068" stroke-width="0.85" stroke-linejoin="round"/>
<polyline points="58.3,50.05 58.77,49.6 58.58,48.38 59.38,48.3 60.14,48.19 59.72,46.63 60.67,46.74 60.95,46.02 61.19,45.23 62.23,45.51 61.8,43.77 63.74,45.35 63.5,43.83 64.01,43.38" fill="none" stroke="#7a7e86" stroke-width="0.8" opacity="0.8"/>
<polyline points="65.45,41.83 64.4,38.81 67.46,42.62 67.12,40.73 67.95,40.85 68.22,39.96 68.95,39.9 70.04,40.57 70.13,39.29 71.05,39.66 71.19,38.42" fill="none" stroke="#5c6068" stroke-width="0.85" stroke-linejoin="round"/>
<polyline points="66.25,43.13 67.2,43.45 67.87,43.32 68.68,43.45 68.77,42.31 69.57,42.44 69.88,41.67 70.39,41.24 70.88,40.78 71.77,41.13 72.4,40.98" fill="none" stroke="#7a7e86" stroke-width="0.8" opacity="0.8"/>
<polyline points="73.2,37.86 73.71,37.39 74.56,37.76 75.16,37.52 76.67,39.69 76,36.1 76.83,36.49 77.29,35.84 77.83,35.38 78.63,35.76 79.66,36.9 79.55,34.28" fill="none" stroke="#5c6068" stroke-width="0.85" stroke-linejoin="round"/>
<polyline points="74.02,39.75 74.7,39.76 75.07,39.03 74.96,37.02 75.62,36.92 77.31,39.68 77.74,39.05 77.77,37.23 78.54,37.53 79.25,37.69 79.59,36.69 80.3,36.84" fill="none" stroke="#7a7e86" stroke-width="0.8" opacity="0.8"/>
<polyline points="81.77,34.47 82.48,34.52 83.71,36.83 83.78,34.11 84.48,34.12 85.07,33.58 86.06,35.22 86.36,33 87.36,34.94" fill="none" stroke="#5c6068" stroke-width="0.85" stroke-linejoin="round"/>
<polyline points="82.05,35.6 82.92,36.31 83.54,36.09 84.26,36.29 84.77,35.53 85.46,35.61 86.18,35.84 86.79,35.52 87.48,35.69" fill="none" stroke="#7a7e86" stroke-width="0.8" opacity="0.8"/>
<polyline points="89.28,34.04 90.04,34.42 90.66,33.42 91.28,32.34 92,32.18 92.75,32.35 93.5,32.81 94.27,33.86 94.94,32.32" fill="none" stroke="#5c6068" stroke-width="0.85" stroke-linejoin="round"/>
<polyline points="89.34,34.49 90.08,34.74 90.77,34.54 91.53,35.22 92.17,34.46 92.9,34.78 93.54,33.58 94.27,33.88 94.99,34.45" fill="none" stroke="#7a7e86" stroke-width="0.8" opacity="0.8"/>
<path d="M97.5,10.11A81.9,81.9 0 0 1 134.48,19.44L133,22.28A78.7,78.7 0 0 0 97.46,13.31Z" fill="#c4c4c4" stroke="#222" stroke-width="0.9"/>
<path d="M127.78,16.42A81.8,81.8 0 0 1 128.65,16.78L127.39,19.72A78.6,78.6 0 0 0 126.56,19.37Z" fill="#555"/>
<path d="M124.1,15A81.8,81.8 0 0 1 124.76,15.24L123.65,18.24A78.6,78.6 0 0 0 123.02,18.01Z" fill="#555"/>
<path d="M130.84,17.76A81.8,81.8 0 0 1 131.8,18.21L130.42,21.1A78.6,78.6 0 0 0 129.5,20.66Z" fill="#555"/>
<path d="M130.14,17.44A81.8,81.8 0 0 1 130.88,17.78L129.54,20.68A78.6,78.6 0 0 0 128.82,20.35Z" fill="#555"/>
<path d="M137.49,21.09A81.9,81.9 0 0 1 164.64,46.56L161.98,48.34A78.7,78.7 0 0 0 135.89,23.86Z" fill="#c4c4c4" stroke="#222" stroke-width="0.9"/>
<path d="M150.39,30.46A81.8,81.8 0 0 1 151.42,31.38L149.27,33.75A78.6,78.6 0 0 0 148.28,32.87Z" fill="#555"/>
<path d="M144.92,26.07A81.8,81.8 0 0 1 145.63,26.59L143.7,29.15A78.6,78.6 0 0 0 143.02,28.65Z" fill="#555"/>
<path d="M156.27,36.16A81.8,81.8 0 0 1 157.39,37.38L155.01,39.51A78.6,78.6 0 0 0 153.94,38.34Z" fill="#555"/>
<path d="M148.39,28.77A81.8,81.8 0 0 1 148.99,29.26L146.94,31.72A78.6,78.6 0 0 0 146.36,31.24Z" fill="#555"/>
<path d="M166.48,49.45A81.9,81.9 0 0 1 177.16,77.83L174.01,78.38A78.7,78.7 0 0 0 163.75,51.12Z" fill="#c4c4c4" stroke="#222" stroke-width="0.9"/>
<path d="M171.73,59.89A81.8,81.8 0 0 1 172.38,61.46L169.42,62.65A78.6,78.6 0 0 0 168.79,61.14Z" fill="#555"/>
<path d="M169.55,55.18A81.8,81.8 0 0 1 170.12,56.34L167.24,57.74A78.6,78.6 0 0 0 166.69,56.62Z" fill="#555"/>
<path d="M171.94,60.37A81.8,81.8 0 0 1 172.43,61.57L169.46,62.77A78.6,78.6 0 0 0 168.98,61.6Z" fill="#555"/>
<path d="M177.69,81.22A81.9,81.9 0 0 1 176.3,110.42L173.18,109.7A78.7,78.7 0 0 0 174.51,81.64Z" fill="#c4c4c4" stroke="#222" stroke-width="0.9"/>
<path d="M178.24,88.99A81.8,81.8 0 0 1 178.28,90.26L175.08,90.33A78.6,78.6 0 0 0 175.05,89.11Z" fill="#555"/>
<path d="M177.24,105.1A81.8,81.8 0 0 1 176.98,106.63L173.83,106.06A78.6,78.6 0 0 0 174.08,104.59Z" fill="#555"/>
<path d="M178,98.95A81.8,81.8 0 0 1 177.9,100.09L174.71,99.78A78.6,78.6 0 0 0 174.82,98.68Z" fill="#555"/>
<path d="M175.46,113.75A81.9,81.9 0 0 1 163.7,138.82L161.07,136.99A78.7,78.7 0 0 0 172.37,112.9Z" fill="#c4c4c4" stroke="#222" stroke-width="0.9"/>
<path d="M169.89,128.13A81.8,81.8 0 0 1 169.58,128.75L166.72,127.32A78.6,78.6 0 0 0 167.02,126.71Z" fill="#555"/>
<path d="M166.98,133.51A81.8,81.8 0 0 1 166.28,134.68L163.55,133.01A78.6,78.6 0 0 0 164.23,131.89Z" fill="#555"/>
<path d="M171,125.78A81.8,81.8 0 0 1 170.44,126.98L167.55,125.62A78.6,78.6 0 0 0 168.09,124.46Z" fill="#555"/>
<path d="M161.68,141.59A81.9,81.9 0 0 1 142.73,159.6L140.92,156.96A78.7,78.7 0 0 0 159.13,139.65Z" fill="#c4c4c4" stroke="#222" stroke-width="0.9"/>
<path d="M154.1,150.08A81.8,81.8 0 0 1 153.38,150.79L151.15,148.49A78.6,78.6 0 0 0 151.85,147.81Z" fill="#555"/>
<path d="M156.91,147.15A81.8,81.8 0 0 1 156.05,148.08L153.72,145.88A78.6,78.6 0 0 0 154.55,145Z" fill="#555"/>
<path d="M151.72,152.35A81.8,81.8 0 0 1 150.86,153.13L148.73,150.74A78.6,78.6 0 0 0 149.56,149.99Z" fill="#555"/>
<path d="M139.86,161.48A81.9,81.9 0 0 1 117.58,171.14L116.75,168.05A78.7,78.7 0 0 0 138.16,158.77Z" fill="#c4c4c4" stroke="#222" stroke-width="0.9"/>
<path d="M137.36,162.86A81.8,81.8 0 0 1 136.24,163.5L134.69,160.7A78.6,78.6 0 0 0 135.77,160.09Z" fill="#555"/>
<path d="M130.01,166.62A81.8,81.8 0 0 1 128.87,167.12L127.6,164.19A78.6,78.6 0 0 0 128.7,163.7Z" fill="#555"/>
<path d="M114.25,171.95A81.9,81.9 0 0 1 92.05,173.78L92.23,170.58A78.7,78.7 0 0 0 113.55,168.83Z" fill="#c4c4c4" stroke="#222" stroke-width="0.9"/>
<path d="M101.48,173.65A81.8,81.8 0 0 1 99.84,173.73L99.71,170.53A78.6,78.6 0 0 0 101.28,170.45Z" fill="#555"/>
<path d="M109.53,172.76A81.8,81.8 0 0 1 108.43,172.92L107.97,169.76A78.6,78.6 0 0 0 109.02,169.6Z" fill="#555"/>
<path d="M88.63,173.52A81.9,81.9 0 0 1 67.7,168.67L68.83,165.67A78.7,78.7 0 0 0 88.94,170.34Z" fill="#c4c4c4" stroke="#222" stroke-width="0.9"/>
<path d="M69.66,169.27A81.8,81.8 0 0 1 68.33,168.8L69.43,165.79A78.6,78.6 0 0 0 70.71,166.25Z" fill="#555"/>
<path d="M81.27,172.37A81.8,81.8 0 0 1 79.88,172.09L80.53,168.96A78.6,78.6 0 0 0 81.86,169.22Z" fill="#555"/>
<path d="M64.52,167.4A81.9,81.9 0 0 1 46.63,156.96L48.57,154.42A78.7,78.7 0 0 0 65.77,164.45Z" fill="#c4c4c4" stroke="#222" stroke-width="0.9"/>
<path d="M48.31,158.1A81.8,81.8 0 0 1 47.48,157.48L49.4,154.92A78.6,78.6 0 0 0 50.19,155.51Z" fill="#555"/>
<path d="M50,159.3A81.8,81.8 0 0 1 49.42,158.89L51.26,156.27A78.6,78.6 0 0 0 51.82,156.67Z" fill="#555"/>
<path d="M43.95,154.82A81.9,81.9 0 0 1 29.96,139.75L32.56,137.89A78.7,78.7 0 0 0 46,152.36Z" fill="#c4c4c4" stroke="#222" stroke-width="0.9"/>
<path d="M31.23,141.3A81.8,81.8 0 0 1 30.55,140.4L33.13,138.5A78.6,78.6 0 0 0 33.78,139.38Z" fill="#555"/>
<path d="M39.71,150.87A81.8,81.8 0 0 1 38.61,149.8L40.88,147.54A78.6,78.6 0 0 0 41.93,148.57Z" fill="#555"/>
<path d="M28.02,136.93A81.9,81.9 0 0 1 19.04,118.61L22.07,117.57A78.7,78.7 0 0 0 30.7,135.17Z" fill="#c4c4c4" stroke="#222" stroke-width="0.9"/>
<path d="M21.98,125.74A81.8,81.8 0 0 1 21.32,124.23L24.26,122.97A78.6,78.6 0 0 0 24.9,124.42Z" fill="#555"/>
<path d="M20.78,122.96A81.8,81.8 0 0 1 20.24,121.58L23.22,120.42A78.6,78.6 0 0 0 23.75,121.75Z" fill="#555"/>
<path d="M18,115.34A81.9,81.9 0 0 1 14.83,98.19L18.03,97.95A78.7,78.7 0 0 0 21.06,114.43Z" fill="#c4c4c4" stroke="#222" stroke-width="0.9"/>
<path d="M16.03,106.67A81.8,81.8 0 0 1 15.74,104.99L18.9,104.48A78.6,78.6 0 0 0 19.17,106.1Z" fill="#555"/>
<path d="M17.43,112.95A81.8,81.8 0 0 1 17.04,111.44L20.15,110.68A78.6,78.6 0 0 0 20.52,112.13Z" fill="#555"/>
<path d="M14.65,94.77A81.9,81.9 0 0 1 15.7,78.61L18.86,79.14A78.7,78.7 0 0 0 17.84,94.66Z" fill="#c4c4c4" stroke="#222" stroke-width="0.9"/>
<path d="M15.11,83.84A81.8,81.8 0 0 1 15.2,82.99L18.38,83.34A78.6,78.6 0 0 0 18.29,84.16Z" fill="#555"/>
<path d="M16.33,75.24A81.9,81.9 0 0 1 20.95,60.38L23.9,61.61A78.7,78.7 0 0 0 19.47,75.9Z" fill="#c4c4c4" stroke="#222" stroke-width="0.9"/>
<path d="M19.65,63.97A81.8,81.8 0 0 1 20.03,62.95L23.02,64.09A78.6,78.6 0 0 0 22.66,65.07Z" fill="#555"/>
<path d="M22.34,57.24A81.9,81.9 0 0 1 29.08,45.5L31.71,47.32A78.7,78.7 0 0 0 25.24,58.6Z" fill="#c4c4c4" stroke="#222" stroke-width="0.9"/>
<path d="M25.76,50.93A81.8,81.8 0 0 1 26.55,49.59L29.29,51.25A78.6,78.6 0 0 0 28.53,52.54Z" fill="#555"/>
<path d="M31.08,42.72A81.9,81.9 0 0 1 39.08,33.6L41.32,35.88A78.7,78.7 0 0 0 33.64,44.65Z" fill="#c4c4c4" stroke="#222" stroke-width="0.9"/>
<path d="M33,40.44A81.8,81.8 0 0 1 33.56,39.75L36.02,41.8A78.6,78.6 0 0 0 35.48,42.46Z" fill="#555"/>
<path d="M41.57,31.25A81.9,81.9 0 0 1 50.75,24.07L52.54,26.72A78.7,78.7 0 0 0 43.72,33.62Z" fill="#c4c4c4" stroke="#222" stroke-width="0.9"/>
<path d="M47.21,26.72A81.8,81.8 0 0 1 47.74,26.32L49.64,28.89A78.6,78.6 0 0 0 49.14,29.27Z" fill="#555"/>
<path d="M53.64,22.21A81.9,81.9 0 0 1 61.27,18.07L62.64,20.96A78.7,78.7 0 0 0 55.31,24.94Z" fill="#c4c4c4" stroke="#222" stroke-width="0.9"/>
<path d="M57.8,19.93A81.8,81.8 0 0 1 59.1,19.25L60.57,22.09A78.6,78.6 0 0 0 59.32,22.75Z" fill="#555"/>
<path d="M64.39,16.66A81.9,81.9 0 0 1 73.15,13.5L74.06,16.57A78.7,78.7 0 0 0 65.65,19.6Z" fill="#c4c4c4" stroke="#222" stroke-width="0.9"/>
<path d="M68.69,15.07A81.8,81.8 0 0 1 69.49,14.79L70.55,17.81A78.6,78.6 0 0 0 69.78,18.08Z" fill="#555"/>
<path d="M76.46,12.59A81.9,81.9 0 0 1 83.27,11.18L83.78,14.33A78.7,78.7 0 0 0 77.24,15.69Z" fill="#c4c4c4" stroke="#222" stroke-width="0.9"/>
<path d="M86.66,10.69A81.9,81.9 0 0 1 94.07,10.14L94.17,13.33A78.7,78.7 0 0 0 87.05,13.87Z" fill="#c4c4c4" stroke="#222" stroke-width="0.9"/>
<circle cx="116.2" cy="14.26" r="1.2" fill="#111"/>
<text x="118.28" y="5.71" transform="rotate(14.17 118.28 5.71)" font-size="4.7" fill="#3a3a3a" text-anchor="middle" dominant-baseline="central">chr1</text>
<text x="157.39" y="27.09" transform="rotate(43.17 157.39 27.09)" font-size="4.7" fill="#3a3a3a" text-anchor="middle" dominant-baseline="central">chr2</text>
<text x="179.79" y="60.64" transform="rotate(69.37 179.79 60.64)" font-size="4.7" fill="#3a3a3a" text-anchor="middle" dominant-baseline="central">chr3</text>
<text x="185.4" y="96.22" transform="rotate(-87.28 185.4 96.22)" font-size="4.7" fill="#3a3a3a" text-anchor="middle" dominant-baseline="central">chr4</text>
<text x="177.07" y="129.8" transform="rotate(-64.87 177.07 129.8)" font-size="4.7" fill="#3a3a3a" text-anchor="middle" dominant-baseline="central">chr5</text>
<text x="157.82" y="156.5" transform="rotate(-43.55 157.82 156.5)" font-size="4.7" fill="#3a3a3a" text-anchor="middle" dominant-baseline="central">chr6</text>
<text x="131.9" y="173.66" transform="rotate(-23.44 131.9 173.66)" font-size="4.7" fill="#3a3a3a" text-anchor="middle" dominant-baseline="central">chr7</text>
<text x="103.79" y="180.7" transform="rotate(-4.7 103.79 180.7)" font-size="4.7" fill="#3a3a3a" text-anchor="middle" dominant-baseline="central">chr8</text>
<text x="76.4" y="178.7" transform="rotate(13.05 76.4 178.7)" font-size="4.7" fill="#3a3a3a" text-anchor="middle" dominant-baseline="central">chr9</text>
<text x="51.66" y="168.88" transform="rotate(30.25 51.66 168.88)" font-size="4.7" fill="#3a3a3a" text-anchor="middle" dominant-baseline="central">chr10</text>
<text x="31.28" y="152.56" transform="rotate(47.12 31.28 152.56)" font-size="4.7" fill="#3a3a3a" text-anchor="middle" dominant-baseline="central">chr11</text>
<text x="16.58" y="131.17" transform="rotate(63.89 16.58 131.17)" font-size="4.7" fill="#3a3a3a" text-anchor="middle" dominant-baseline="central">chr12</text>
<text x="8.98" y="108.14" transform="rotate(79.55 8.98 108.14)" font-size="4.7" fill="#3a3a3a" text-anchor="middle" dominant-baseline="central">chr13</text>
<text x="7.69" y="86.2" transform="rotate(273.74 7.69 86.2)" font-size="4.7" fill="#3a3a3a" text-anchor="middle" dominant-baseline="central">chr14</text>
<text x="11.51" y="65.59" transform="rotate(287.26 11.51 65.59)" font-size="4.7" fill="#3a3a3a" text-anchor="middle" dominant-baseline="central">chr15</text>
<text x="19.31" y="47.7" transform="rotate(299.85 19.31 47.7)" font-size="4.7" fill="#3a3a3a" text-anchor="middle" dominant-baseline="central">chr16</text>
<text x="29.57" y="33.33" transform="rotate(311.24 29.57 33.33)" font-size="4.7" fill="#3a3a3a" text-anchor="middle" dominant-baseline="central">chr17</text>
<text x="41.66" y="21.9" transform="rotate(321.96 41.66 21.9)" font-size="4.7" fill="#3a3a3a" text-anchor="middle" dominant-baseline="central">chr18</text>
<text x="54.01" y="13.8" transform="rotate(331.48 54.01 13.8)" font-size="4.7" fill="#3a3a3a" text-anchor="middle" dominant-baseline="central">chr19</text>
<text x="66.32" y="8.27" transform="rotate(340.18 66.32 8.27)" font-size="4.7" fill="#3a3a3a" text-anchor="middle" dominant-baseline="central">chr20</text>
<text x="78.4" y="4.86" transform="rotate(348.27 78.4 4.86)" font-size="4.7" fill="#3a3a3a" text-anchor="middle" dominant-baseline="central">chr21</text>
<text x="89.83" y="3.25" transform="rotate(355.7 89.83 3.25)" font-size="4.7" fill="#3a3a3a" text-anchor="middle" dominant-baseline="central">chr22</text>
<circle cx="130.6" cy="159.13" r="0.5" fill="#666"/>
<circle cx="126.45" cy="161.09" r="0.5" fill="#666"/>
<circle cx="122.19" cy="162.78" r="0.5" fill="#666"/>
<circle cx="79.5" cy="165.36" r="0.5" fill="#666"/>
<circle cx="77.52" cy="164.87" r="0.5" fill="#666"/>
<circle cx="22.45" cy="105.66" r="0.5" fill="#666"/>
<circle cx="21.28" cy="88.64" r="0.5" fill="#666"/>
<circle cx="45.46" cy="147.36" r="0.5" fill="#666"/>
<circle cx="145.4" cy="34.74" r="0.5" fill="#666"/>
<circle cx="171.78" cy="90.06" r="0.5" fill="#666"/>
<circle cx="146.57" cy="148.25" r="0.5" fill="#666"/>
<circle cx="167.93" cy="68.16" r="0.5" fill="#666"/>
<circle cx="31.19" cy="54.52" r="0.5" fill="#666"/>
<circle cx="50.1" cy="32.69" r="0.5" fill="#666"/>
<circle cx="70.96" cy="21.16" r="0.7" fill="#7fb6cf"/>
<circle cx="90.86" cy="16.91" r="0.7" fill="#7fb6cf"/>
<circle cx="96.5" cy="92.0" r="45.5" fill="#fdfeff"/>
<path d="M64.5,62.5Q87.56,93.4 77.4,129.5" fill="none" stroke="#111" stroke-width="2.4" stroke-linecap="butt"/>
<path d="M65.5,62Q99.27,86.73 139.8,98.6" fill="none" stroke="#111" stroke-width="2.4" stroke-linecap="butt"/>
<path d="M66,63.5Q96.86,92.14 128.8,121.2" fill="none" stroke="#111" stroke-width="2.4" stroke-linecap="butt"/>
<path d="M75.6,53Q101.56,82.91 139.9,90.6" fill="none" stroke="#111" stroke-width="2.4" stroke-linecap="butt"/>
<path d="M88.6,48.4Q98.21,91.25 115.8,130.6" fill="none" stroke="#111" stroke-width="2.4" stroke-linecap="butt"/>
<path d="M139.8,97.2Q105.92,96.33 128.6,121.4" fill="none" stroke="#111" stroke-width="2.4" stroke-linecap="butt"/>
<path d="M61.5,62 L67,58.5 L71,66 L66,68.5 Z" fill="#111"/>
<text x="94.5" y="193" font-size="8.6" fill="#222" text-anchor="middle">OS384_21R</text>
<rect x="246.06" y="18.7" width="23.68" height="40" fill="#e6e6e6"/>
<rect x="289.03" y="18.7" width="18.61" height="40" fill="#e6e6e6"/>
<rect x="325.27" y="18.7" width="16.66" height="40" fill="#e6e6e6"/>
<rect x="357.42" y="18.7" width="14.22" height="40" fill="#e6e6e6"/>
<rect x="385.38" y="18.7" width="13.25" height="40" fill="#e6e6e6"/>
<rect x="411.79" y="18.7" width="13.06" height="40" fill="#e6e6e6"/>
<rect x="436.05" y="18.7" width="10.42" height="40" fill="#e6e6e6"/>
<rect x="456.51" y="18.7" width="8.77" height="40" fill="#e6e6e6"/>
<rect x="473.17" y="18.7" width="7.6" height="40" fill="#e6e6e6"/>
<rect x="486.51" y="18.7" width="6.14" height="40" fill="#e6e6e6"/>
<rect x="497.33" y="18.7" width="4.97" height="40" fill="#e6e6e6"/>
<line x1="221.8" x2="517.4" y1="24.8" y2="24.8" stroke="#7a7a7a" stroke-width="0.8"/>
<line x1="221.8" x2="517.4" y1="29.98" y2="29.98" stroke="#7a7a7a" stroke-width="0.8"/>
<line x1="221.8" x2="517.4" y1="36.13" y2="36.13" stroke="#9a4444" stroke-width="0.8"/>
<line x1="221.8" x2="517.4" y1="44.13" y2="44.13" stroke="#7a4444" stroke-width="0.8"/>
<line x1="221.8" x2="517.4" y1="49.8" y2="49.8" stroke="#555" stroke-width="0.8"/>
<line x1="221.8" x2="517.4" y1="53.8" y2="53.8" stroke="#555" stroke-width="0.8"/>
<path d="M221.94 45.99V52.89M222.23 45.99V53.7M222.52 46.4V51.53M222.81 45.76V52.95M223.1 46.24V52.7M223.39 46.69V51.94M223.68 46.87V53.24M223.97 46.18V51.77M224.25 46.78V51.93M224.54 46.67V53.51M224.83 46.09V52.69M225.12 46.07V53.69M225.41 46.66V53.57M225.7 46.89V51.83M225.99 46.2V52.13M226.28 45.88V52.15M226.57 46.38V52.17M226.85 45.65V51.59M227.14 45.84V53.2M227.43 47.1V52.78M227.72 45.68V51.86M228.01 45.72V53.22M228.3 46.57V52.23M228.59 46.95V53.27M228.88 45.82V53.32M229.16 46.19V52.22M229.45 45.73V52.22M229.74 46.63V52.16M230.03 46.89V51.64M230.32 46.87V53.84M230.61 46.3V53.81M230.9 46.21V51.99M231.19 46.47V52.49M231.48 45.85V52.58M231.76 45.69V53.16M232.05 46.95V53.3M232.34 45.84V51.79M232.63 45.62V52.48M232.92 46.42V53.78M233.21 46.38V53.15M233.5 46.89V52.37M233.79 45.67V53.82M234.07 46.6V52.59M234.36 46.56V53.5M234.65 46.06V53.26M234.94 46.56V53.23M235.23 46.37V52.09M235.52 46.66V53.06M235.81 46.23V52.95M236.1 46.73V52.71M236.38 45.88V52.51M236.67 46.58V53.32M236.96 45.87V53.17M237.25 45.8V53.44M237.54 45.68V53.78M237.83 46.86V52.66M238.12 46.39V53.68M238.41 46.01V53.13M238.7 46.23V53.28M238.98 46.17V52.41M239.27 46.02V52.92M239.56 46.78V52.96M239.85 47.05V52.91M240.14 47.03V51.97M240.43 46.84V52.17M240.72 46.4V51.55M241.01 46.22V52.86M241.29 47.12V53.59M241.58 46.49V52.08M241.87 46.18V51.55M242.16 46.59V52.7M242.45 45.88V53.74M242.74 46.14V53.36M243.03 46.21V51.78M243.32 45.66V53.73M243.6 45.77V52.25M243.89 46.9V52.87M244.18 46.54V53.56M244.47 46.67V51.97M244.76 45.67V52.31M245.05 46.72V52.82M245.34 46.48V52.59M245.63 46.36V53.81M245.92 46.93V52.54" stroke="#16785a" stroke-width="0.45" fill="none"/>
<path d="M222.81,53.89h0.6M223.1,48.37h0.6M223.97,40.71h0.6M225.7,49.01h0.6M225.99,51.45h0.6M226.85,54.54h0.6M227.14,47.97h0.6M227.43,55.56h0.6M228.88,47.06h0.6M230.32,49.94h0.6M231.19,47.98h0.6M231.48,49.84h0.6M234.07,50.51h0.6M235.81,41.74h0.6M239.27,46.3h0.6M240.14,44.87h0.6M241.58,46.78h0.6M241.87,54.78h0.6M243.6,44.48h0.6" stroke="#16785a" stroke-width="0.6" fill="none"/>
<path d="M221.8,49.13H246.06" stroke="#ffffff" stroke-width="0.45" fill="none" opacity="0.8"/>
<path d="M246.2 47.16V52.54M246.49 47.56V53.39M246.78 46.26V52.18M247.07 47.19V52.12M247.36 47.16V53.77M247.65 46.66V52.6M247.94 47.41V53.2M248.23 46.82V52.24M248.51 46.82V52.23M248.8 46.52V52.36M249.09 47.22V51.7M249.38 46.33V53.6M249.67 46.48V51.66M249.96 46.57V52.82M250.25 46.29V52.62M250.54 46.38V52.43M250.82 46.41V52.23M251.11 46.59V53.41M251.4 46.47V52.21M251.69 46.89V51.91M251.98 47.1V52.65M252.27 46.43V52.85M252.56 46.64V53.31M252.84 46.2V53.15M253.13 47.51V53.1M253.42 46.66V52.07M253.71 47.39V53.13M254 47.36V53.6M254.29 47.35V52.47M254.58 47.42V51.71M254.87 47.5V51.77M255.15 46.34V53.2M255.44 46.88V52.88M255.73 47.5V52.39M256.02 46.68V51.93M256.31 46.79V53.59M256.6 46.79V52.16M256.89 46.84V53.21M257.18 47.05V52.1M257.46 46.57V51.99M257.75 46.63V51.8M258.04 46.34V52.11M258.33 46.45V52.28M258.62 47.5V53.16M258.91 46.61V53.68M259.2 46.21V51.86M259.49 47.38V53.38M259.77 47.24V52.35M260.06 47.08V52.91M260.35 46.4V51.9M260.64 46.96V53.34M260.93 46.73V52.7M261.22 47.01V53.19M261.51 46.32V51.71M261.8 47.58V53.24M262.08 46.7V53.54M262.37 47.44V52.58M262.66 47.04V51.95M262.95 47.36V53.52M263.24 47.35V52.19M263.53 46.89V52.1M263.82 47.05V53.62M264.11 46.62V53.07M264.39 47.41V53.67M264.68 46.62V52.22M264.97 47.29V51.95M265.26 46.21V52.45M265.55 46.91V52.26M265.84 46.56V53.17M266.13 46.62V52.11M266.41 46.96V52.98M266.7 47.49V51.64M266.99 47.52V52.47M267.28 46.84V53.77M267.57 47.48V51.81M267.86 46.26V52.64M268.15 47.51V52.12M268.44 47.21V51.75M268.72 47.51V52.25M269.01 47V52.68M269.3 47.13V51.8M269.59 46.28V52.75" stroke="#d8431a" stroke-width="0.45" fill="none"/>
<path d="M250.82,45.87h0.6M252.27,48.34h0.6M252.56,42.17h0.6M255.15,54.22h0.6M256.89,47.75h0.6M257.75,45.32h0.6M258.33,45.32h0.6M261.22,46.48h0.6M263.53,48.78h0.6M264.97,49.21h0.6M267.86,47.58h0.6M268.72,46.64h0.6M269.3,50.03h0.6" stroke="#d8431a" stroke-width="0.6" fill="none"/>
<path d="M246.06,49.46H269.74" stroke="#ffffff" stroke-width="0.45" fill="none" opacity="0.8"/>
<path d="M269.88 47.77V53.45M270.17 47.55V52.86M270.45 46.86V53.18M270.74 46.97V52.62M271.03 47.64V52M271.32 46.98V53.27M271.61 47.95V52.02M271.89 47.49V51.94M272.18 47.98V52.24M272.47 47.79V51.87M272.76 47.93V52.48M273.05 47.07V52.37M273.33 47.19V53.53M273.62 47.47V52.87M273.91 46.81V53.03M274.2 47.7V53.13M274.49 47.88V52.5M274.77 47.68V53.07M275.06 47.32V53.25M275.35 46.93V52.45M275.64 47.75V52.95M275.93 47.62V52.46M276.21 46.97V52.89M276.5 47.35V51.96M276.79 47.46V53.14M277.08 47.9V53.32M277.37 47.44V53.57M277.65 47.05V52.61M277.94 46.79V52.79M278.23 46.99V51.97M278.52 49.58V54.49M278.8 50.29V56.16M279.09 50.53V54.91M279.38 49.85V55.07M279.67 50.47V55.06M279.96 49.74V56.07M280.24 50.61V55.15M280.53 50.74V55.33M280.82 49.89V54.58M281.11 49.8V54.77M281.4 47.21V53.55M281.68 47.85V53.8M281.97 47.57V53.19M282.26 47.93V52.94M282.55 47.42V53.12M282.84 47.27V54.21M283.12 47.46V53.57M283.41 47.87V53.8M283.7 47.66V53.54M283.99 48.25V52.34M284.28 47.34V53.33M284.56 47.12V52.78M284.85 48.27V53.62M285.14 47.09V53.52M285.43 47.24V53.56M285.71 48.08V53.4M286 48.04V54.01M286.29 47.83V53.26M286.58 48.12V52.95M286.87 47.15V54.02M287.15 48.22V52.94M287.44 47.4V53.28M287.73 48.07V53.99M288.02 47.52V52.7M288.31 47.51V52.51M288.59 48.28V52.62M288.88 47.19V53.87" stroke="#44449e" stroke-width="0.45" fill="none"/>
<path d="M269.88,56.7h0.6M271.03,51.18h0.6M274.49,48.15h0.6M274.77,46.94h0.6M275.06,47.65h0.6M275.93,49.05h0.6M278.52,58.17h0.6M281.68,52.97h0.6M282.26,52.05h0.6M286.29,46.37h0.6" stroke="#44449e" stroke-width="0.6" fill="none"/>
<path d="M269.74,49.8H278.42M278.42,52.44H281.31M281.31,50.14H289.03" stroke="#ffffff" stroke-width="0.45" fill="none" opacity="0.8"/>
<path d="M289.17 46.46V52.4M289.46 46.65V53.6M289.74 45.66V52.85M290.03 46.94V51.54M290.31 46.83V52.84M290.6 46.13V52.82M290.89 47.02V53.15M291.17 45.68V53.42M291.46 46.13V53.46M291.75 46.06V51.97M292.03 46.96V52.54M292.32 46.97V51.81M292.6 46.95V52.87M292.89 45.88V53.17M293.18 45.73V53.11M293.46 45.67V52.89M293.75 46.54V51.92M294.04 45.99V53.03M294.32 46.29V52.37M294.61 46.21V51.73M294.9 46.36V53.04M295.18 47.01V53.7M295.47 46.66V53.13M295.75 45.73V53.17M296.04 46.35V52.11M296.33 46.24V53.3M296.61 45.84V52.22M296.9 46.47V51.58M297.19 47V52.99M297.47 46.38V51.68M297.76 46.52V52.69M298.04 46.57V51.67M298.33 45.96V51.48M298.62 46.73V51.51M298.9 46.33V52.32M299.19 45.65V51.95M299.48 45.91V52.75M299.76 44.82V54.34M300.05 45.34V51.54M300.33 44.98V52.63M300.62 44.91V53.29M300.91 44.49V52.57M301.19 45.37V54.2M301.48 44.46V53.65M301.77 45.29V53.74M302.05 45.66V54.48M302.34 45.2V52.15M302.62 45.84V53.36M302.91 45.93V52.7M303.2 44.48V54.14M303.48 44.57V51.44M303.77 45.81V53.14M304.06 44.39V54.22M304.34 44.7V52.14M304.63 45.78V53.72M304.92 44.79V54.41M305.2 44.9V51.7M305.49 45.19V52.44M305.77 48.12V55.28M306.06 47.66V53.47M306.35 47.76V53.18M306.63 47.33V52.9M306.92 47.57V54.06M307.21 47.73V53M307.49 48.03V52.92M288.47 49.13V49.13M288.77 44.84V49.13M289.07 42.49V49.13M289.37 39.42V49.13M289.67 41.18V49.13M289.97 44.07V49.13M290.27 48.15V49.13M291.85 49.13V49.13M292.15 46.9V49.13M292.45 45.13V49.13M292.75 41.98V49.13M293.05 45.25V49.13M293.35 46.78V49.13M294.64 49.13V49.13M294.94 47.12V49.13M295.24 45.51V49.13M295.54 43.08V49.13M295.84 45.61V49.13M296.14 47.11V49.13M299.66 48.49V48.49M299.96 45.29V48.49M300.26 42.14V48.49M300.56 39.2V48.49M300.86 41.71V48.49M301.16 45.21V48.49M302.24 48.49V48.49M302.54 43.99V48.49M302.84 40.27V48.49M303.14 36.19V48.49M303.44 35.6V48.49M303.74 36.14V48.49M304.04 41.85V48.49M304.34 46.17V48.49M304.13 48.49V48.49M304.43 44.59V48.49M304.73 42.31V48.49M305.03 38.33V48.49M305.33 41.59V48.49M305.63 44.99V48.49" stroke="#cf1d78" stroke-width="0.45" fill="none"/>
<path d="M293.46,47.64h0.6M294.04,47.99h0.6M295.47,55.55h0.6M298.9,48.48h0.6M300.62,39.87h0.6M301.48,46.9h0.6M304.06,45.94h0.6M304.92,43.1h0.6M307.21,55.04h0.6" stroke="#cf1d78" stroke-width="0.6" fill="none"/>
<path d="M289.03,49.13H299.26M299.26,48.49H305.77M305.77,50.5H307.64" stroke="#ffffff" stroke-width="0.45" fill="none" opacity="0.8"/>
<path d="M307.78 46.58V51.33M308.07 46.34V51.76M308.36 46.72V50.57M308.65 46.19V51.52M308.94 45.82V51.1M309.23 46.74V51.26M309.51 46.13V51.3M309.8 46.75V51.9M310.09 46.32V50.39M310.38 46V51.79M310.67 45.85V51.35M310.96 46.89V50.77M311.25 45.78V51.13M311.54 46.62V50.53M311.83 46.63V51.89M312.12 46.79V50.86M312.41 46.09V51.31M312.69 46.28V50.51M312.98 46.18V51.02M313.27 46.56V50.52M313.56 45.79V51.17M313.85 46.37V51.39M314.14 46.52V51.69M314.43 46.56V51.79M314.72 45.72V51.35M315.01 46.47V51.57M315.3 46.83V51.25M315.59 46.1V50.91M315.87 46.38V50.71M316.16 46.81V50.44M316.45 45.82V50.95M316.74 46.66V50.77M317.03 45.79V51.61M317.32 46.37V50.45M317.61 46.19V50.33M317.9 46.26V50.46M318.19 46.31V51.89M318.48 46.79V51.17M318.77 46.35V51.18M319.05 45.7V51.19M319.34 46.25V50.62M319.63 46.11V50.91M319.92 45.89V50.81M320.21 46.82V50.51M320.5 46.34V51.05M320.79 46.27V51.23M321.08 46.57V51.53M321.37 46.14V51.55M321.66 46.03V50.61M321.95 45.67V50.45M322.23 46.12V51.02M322.52 46.03V50.55M322.81 46.58V51.24M323.1 46V50.37M323.39 46.1V51.26M323.68 45.76V51.76M323.97 45.81V50.83M324.26 46.37V50.97M324.55 46.08V50.49M324.84 46.89V51.5M325.13 45.84V50.79" stroke="#379837" stroke-width="0.45" fill="none"/>
<path d="M308.36,46.12h0.6M308.65,42.23h0.6M308.94,46.51h0.6M309.8,49.26h0.6M310.38,50.3h0.6M310.67,48.4h0.6M311.83,52.21h0.6M314.14,48.72h0.6M314.72,44.95h0.6M315.01,55.72h0.6M316.45,56.77h0.6M318.19,48.25h0.6M321.37,50.72h0.6M321.95,47.61h0.6M322.52,46.98h0.6M323.1,48.16h0.6M323.97,52.96h0.6" stroke="#379837" stroke-width="0.6" fill="none"/>
<path d="M307.64,48.49H325.27" stroke="#ffffff" stroke-width="0.45" fill="none" opacity="0.8"/>
<path d="M325.41 49.41V55.66M325.7 49.55V55.47M325.99 49.71V56.39M326.28 49.87V55.06M326.56 50.51V56.73M326.85 50.4V55.8M327.14 46.38V52.78M327.42 46.63V52.5M327.71 47.17V52.15M328 46.62V51.03M328.29 46.82V52.34M328.57 46.53V51.54M328.86 46.5V52.06M329.15 47.38V52.23M329.43 47.27V52.52M329.72 46.49V51.04M330.01 46.85V52.45M330.3 46.45V51.05M330.58 46.4V52.11M330.87 46.38V52.29M331.16 46.34V51.05M331.45 47.38V51.36M331.73 46.99V51.18M332.02 47.46V51.39M332.31 46.53V51.53M332.59 46.26V51.3M332.88 47.18V52.24M333.17 46.94V51.8M333.46 46.37V52.24M333.74 46.36V52.37M334.03 46.93V52.43M334.32 46.34V52.18M334.61 47.22V51.78M334.89 46.59V51.44M335.18 46.78V51.34M335.47 47.34V51.65M335.75 47.28V51.64M336.04 47.27V51.02M336.33 47.46V51.19M336.62 46.4V52.75M336.9 47.36V52.69M337.19 47.39V51.02M337.48 46.85V52.36M337.77 46.3V51.8M338.05 47.24V51.95M338.34 46.42V51.78M338.63 46.43V51.52M338.91 47.18V51.95M339.2 47.34V52.06M339.49 47.05V51.72M339.78 47.06V52.4M340.06 46.8V51.22M340.35 47.41V52.14M340.64 46.89V51.83M340.92 46.89V51.49M341.21 47.15V52.21M341.5 47.07V51.17M341.79 47.34V51.51M327.27 49.13V49.13M327.57 39.99V49.13M327.87 32.33V49.13M328.17 27.49V49.13M328.47 20.68V49.13M328.77 27.23V49.13M329.07 34.8V49.13M329.37 39.82V49.13M328.87 49.13V49.13M329.17 45V49.13M329.47 42.12V49.13M329.77 38.23V49.13M330.07 42.97V49.13M330.37 45.57V49.13" stroke="#16785a" stroke-width="0.45" fill="none"/>
<path d="M326.28,50.41h0.6M329.43,58.17h0.6M329.72,54.82h0.6M331.73,47.95h0.6M333.17,58.17h0.6M338.63,47.19h0.6M340.06,58.17h0.6M340.92,58.17h0.6" stroke="#16785a" stroke-width="0.6" fill="none"/>
<path d="M325.27,52.44H326.94M326.94,49.13H341.93" stroke="#ffffff" stroke-width="0.45" fill="none" opacity="0.8"/>
<path d="M342.07 43.24V47.85M342.36 43.13V48.25M342.65 42.82V48.89M342.93 42.76V48.54M343.22 43.42V48.11M343.51 43.18V48.96M343.79 42.79V48.44M344.08 42.6V48.14M344.37 43.51V49.01M344.66 43.21V48.48M344.94 42.97V47.41M345.23 42.65V47.94M345.52 42.45V48.91M345.8 47.52V52.97M346.09 46.94V51.96M346.38 46.55V52.85M346.66 46.65V52.09M346.95 46.79V51.62M347.24 47.39V52.22M347.52 46.56V52.13M347.81 46.95V51.85M348.1 47.16V52.51M348.38 46.7V51.45M348.67 47.11V51.83M348.96 46.6V52.3M349.25 47.31V51.94M349.53 46.56V51.68M349.82 47.4V52.3M350.11 47.46V51.47M350.39 47.47V52.85M350.68 47.6V51.45M350.97 47.35V53.25M351.25 47.61V51.51M351.54 46.57V52.76M351.83 47.42V52.84M352.11 47.67V51.87M352.4 47.12V52.72M352.69 46.81V52.98M352.97 47.03V53.1M353.26 47.39V52.44M353.55 47.16V51.85M353.84 46.53V52.05M354.12 46.79V52.95M354.41 47.24V51.97M354.7 46.65V52.55M354.98 47.56V51.92M355.27 47.46V52.46M355.56 46.89V51.76M355.84 46.81V51.89M356.13 47.6V53.12M356.42 46.81V52.69M356.7 46.94V53.02M356.99 47.51V51.53M357.28 47.63V52.38" stroke="#d8431a" stroke-width="0.45" fill="none"/>
<path d="M344.08,40.1h0.6M344.37,40.99h0.6M346.09,46.51h0.6M349.53,52.69h0.6M352.4,52.81h0.6M353.26,42.79h0.6M353.55,46.75h0.6M354.98,47.9h0.6M355.27,50.54h0.6" stroke="#d8431a" stroke-width="0.6" fill="none"/>
<path d="M341.93,45.38H345.8M345.8,49.46H357.42" stroke="#ffffff" stroke-width="0.45" fill="none" opacity="0.8"/>
<path d="M357.57 48.9V53.89M357.86 49.13V54.9M358.15 48.67V54.41M358.44 48.91V53.76M358.73 52.44V57.78M359.02 52.37V57.57M359.31 52.59V58.53M359.6 52.58V56.97M359.89 52.11V56.69M360.18 52.17V56.52M360.47 47.44V52.12M360.76 46.33V51.5M361.05 46.85V51.45M361.34 46.61V51.27M361.63 46.77V51.85M361.92 46.68V52.75M362.21 46.59V51.58M362.5 46.68V52.1M362.79 46.56V52.69M363.08 47.17V52.26M363.37 47.39V52.11M363.66 46.83V51.4M363.95 46.49V52.3M364.24 46.89V52.71M364.53 47.05V52.82M364.82 47.35V52.75M365.11 46.77V52.17M365.4 47.27V52.56M365.69 46.57V52.1M365.99 46.41V52.45M366.28 46.31V51.75M366.57 47.03V52.36M366.86 46.61V51.94M367.15 46.55V52.57M367.44 46.83V51.88M367.73 47.4V52M368.02 46.82V51.56M368.31 47.08V51.49M368.6 46.61V51.43M368.89 46.85V52.63M369.18 46.99V51.46M369.47 47.27V51.22M369.76 46.27V52.38M370.05 47.08V51.44M370.34 47.31V51.85M370.63 47.28V51.47M370.92 46.9V51.19M371.21 46.36V51.96M371.5 47.41V52.73" stroke="#44449e" stroke-width="0.45" fill="none"/>
<path d="M359.02,51.57h0.6M361.92,58.17h0.6M365.99,49.34h0.6M368.02,45.81h0.6M369.18,41.66h0.6" stroke="#44449e" stroke-width="0.6" fill="none"/>
<path d="M357.42,51.24H358.56M358.56,54.3H360.27M360.27,49.13H371.65" stroke="#ffffff" stroke-width="0.45" fill="none" opacity="0.8"/>
<path d="M371.79 48.36V53.01M372.08 47.4V54.22M372.36 48.36V53.82M372.65 47.15V53.1M372.93 47.05V52.48M373.22 48.25V52.78M373.51 47.75V53.21M373.79 47.72V54.13M374.08 48.03V53.75M374.36 48.04V52.39M374.65 47.65V53.42M374.94 47.66V53.53M375.22 48.33V52.47M375.51 47.9V53.53M375.8 47.7V52.79M376.08 47.71V53.91M376.37 47.17V52.35M376.65 47.4V52.75M376.94 48.3V53.51M377.23 47.56V53.88M377.51 48.28V52.64M377.8 47.76V52.54M378.09 47.7V54.02M378.37 47.1V52.45M378.66 47.18V53.13M378.94 47.92V54.2M379.23 47.12V53.88M379.52 47.98V52.33M379.8 47.45V54.04M380.09 47.89V52.86M380.38 47.66V52.62M380.66 47.8V52.7M380.95 47.35V53.37M381.23 47.19V52.25M381.52 47.53V53.7M381.81 47.78V53.63M382.09 48.21V52.61M382.38 47.1V54.14M382.66 47.98V52.99M382.95 48.13V53.15M383.24 48.3V54.08M383.52 47.5V52.61M383.81 47.95V52.76M384.1 47.7V53.17M384.38 47.1V53.11M384.67 47.12V53.78M384.95 47.3V53.35M385.24 47.8V52.56" stroke="#cf1d78" stroke-width="0.45" fill="none"/>
<path d="M375.22,50.72h0.6M376.08,49.77h0.6M376.65,43.36h0.6M379.8,58.17h0.6M381.23,47.78h0.6M382.09,44.16h0.6" stroke="#cf1d78" stroke-width="0.6" fill="none"/>
<path d="M371.65,50.14H385.38" stroke="#ffffff" stroke-width="0.45" fill="none" opacity="0.8"/>
<path d="M385.53 46.31V50.68M385.82 47.14V51.07M386.1 46.33V51.38M386.39 46.9V51.85M386.68 46.44V50.95M386.97 46.07V51.12M387.26 47V51.86M387.54 46.4V51.12M387.83 46.84V51.18M388.12 46.35V52.36M388.41 46.35V51.6M388.7 47.04V50.77M388.98 45.96V51.66M389.27 45.95V52.13M389.56 46.58V51.35M389.85 46.45V51.96M390.14 46.51V52.32M390.42 46.43V51.57M390.71 47.01V50.83M391 47.01V51.23M391.29 46.22V51.93M391.58 46.22V50.86M391.86 46.3V51.79M392.15 46.43V50.65M392.44 45.95V51.65M392.73 46.62V51.9M393.02 46.88V51.15M393.3 46.04V51.68M393.59 46.36V51.49M393.88 46.84V51.33M394.17 47.13V51.29M394.46 46.31V51.25M394.75 46.15V51.47M395.03 46.23V51.23M395.32 46.07V51.36M395.61 46.93V52.18M395.9 46.01V51.55M396.19 46.37V51.78M396.47 46.68V51.21M396.76 47.09V51.82M397.05 46.93V50.88M397.34 46.23V51.49M397.63 46.71V51.05M397.91 46.05V50.96M398.2 46.84V51.81M398.49 46.43V52.22" stroke="#379837" stroke-width="0.45" fill="none"/>
<path d="M385.82,50.86h0.6M389.85,52.97h0.6M395.32,58.17h0.6M396.47,50.88h0.6" stroke="#379837" stroke-width="0.6" fill="none"/>
<path d="M385.38,48.81H398.63" stroke="#ffffff" stroke-width="0.45" fill="none" opacity="0.8"/>
<path d="M398.78 45.7V52.05M399.06 46.72V51.14M399.35 47V50.95M399.63 46.32V51.35M399.92 46.2V51.46M400.21 46.21V52.42M400.49 45.88V51.96M400.78 45.82V51.08M401.06 45.78V50.88M401.35 46.04V52.56M401.64 45.95V51.08M401.92 46.62V51.77M402.21 46.36V52.74M402.49 45.67V52.85M402.78 46V51.23M403.07 46.06V51.77M403.35 46.72V52.02M403.64 46.41V51.92M403.92 45.75V51.13M404.21 46.85V51.52M404.5 46.5V52.84M404.78 46.05V52.83M405.07 46.77V51.69M405.35 46.77V51.5M405.64 46.6V51.87M405.93 46.84V51.13M406.21 46.28V51M406.5 46.63V52.39M406.78 45.73V52.76M407.07 46.35V52.72M407.35 46.25V51.75M407.64 46.49V52.36M407.93 46.41V52.25M408.21 46.2V51.57M408.5 45.78V51.76M408.78 46.06V52.21M409.07 45.92V52.88M409.36 45.72V51.82M409.64 46.57V52.03M409.93 45.72V51.8M410.21 45.71V52.87M410.5 46.23V52.5M410.79 46.65V51.05M411.07 45.98V51.13M411.36 46.15V51.18M411.64 46.01V52.61" stroke="#16785a" stroke-width="0.45" fill="none"/>
<path d="M399.63,58.17h0.6M400.49,51.72h0.6M407.93,49.4h0.6M408.21,44.5h0.6M410.21,45.32h0.6M410.79,47h0.6M411.36,45.68h0.6" stroke="#16785a" stroke-width="0.6" fill="none"/>
<path d="M398.63,48.81H411.79" stroke="#ffffff" stroke-width="0.45" fill="none" opacity="0.8"/>
<path d="M411.93 45.61V50.26M412.22 44.98V50.48M412.51 45.34V51.24M412.8 45.41V50.16M413.09 45.84V50.2M413.38 45.62V50.6M413.67 45.8V50.88M413.96 45.96V50.69M414.25 45.31V49.91M414.54 45.39V51.43M414.83 45.44V50.79M415.12 45.52V50.75M415.41 45.08V50.57M415.7 45.86V50.37M415.99 45.78V50.78M416.28 45.35V50.51M416.57 45.46V50.45M416.86 45.85V50.99M417.15 45.98V51.48M417.44 45.52V50.25M417.73 45.94V50.21M418.02 45.98V49.86M418.31 45.91V50.45M418.6 45.9V51.59M418.89 44.88V50.49M419.18 45.3V51.42M419.48 46.06V50.06M419.77 45.32V51.48M420.06 44.89V51.05M420.35 45.59V51.08M420.64 45.51V51.48M420.93 44.95V51.07M421.22 45.27V49.98M421.51 45.86V50.61M421.8 45.22V51.2M422.09 45.65V50.66M422.38 45.55V50.36M422.67 45.99V51.24M422.96 45.71V51.28M423.25 46.08V51.51M423.54 45.56V50.46M423.83 45.34V51.35M424.12 45.13V50.23M424.41 45.12V50.11M424.7 45.01V50.19" stroke="#d8431a" stroke-width="0.45" fill="none"/>
<path d="M412.51,55.28h0.6M419.18,57.28h0.6M419.77,45.54h0.6M420.64,42.15h0.6M420.93,40.74h0.6" stroke="#d8431a" stroke-width="0.6" fill="none"/>
<path d="M411.79,47.88H424.84" stroke="#ffffff" stroke-width="0.45" fill="none" opacity="0.8"/>
<path d="M424.99 48.89V55.67M425.27 49.46V55.36M425.56 48.91V55.34M425.85 49.28V54.75M426.14 49.3V54.97M426.42 49.68V55.93M426.71 49.97V54.81M427 49.03V54.45M427.28 49.88V55.08M427.57 49.87V56.11M427.86 50.03V55.26M428.15 50.05V55.03M428.43 48.92V56.27M428.72 49.18V54.77M429.01 49.63V56.16M429.3 49.26V55.86M429.58 50V54.91M429.87 50.16V56.39M430.16 49.61V54.84M430.44 50.07V54.55M430.73 49.22V54.91M431.02 49.51V55.6M431.31 50.15V55.06M431.59 48.75V53.67M431.88 48.23V53.77M432.17 48.69V53.71M432.46 48.69V52.7M432.74 48.49V53.83M433.03 48.5V53.67M433.32 48.71V54.18M433.6 47.65V53.97M433.89 48.32V52.7M434.18 48.16V54.04M434.47 48.25V53.22M434.75 48.58V52.57M435.04 47.9V53.4M435.33 48.11V53.75M435.62 48.59V53.3M435.9 48.21V54.04" stroke="#44449e" stroke-width="0.45" fill="none"/>
<path d="M428.15,56h0.6M430.44,54.93h0.6M435.9,58.17h0.6" stroke="#44449e" stroke-width="0.6" fill="none"/>
<path d="M424.84,52.03H431.56M431.56,50.5H436.05" stroke="#ffffff" stroke-width="0.45" fill="none" opacity="0.8"/>
<path d="M436.19 44.34V50.48M436.48 44.16V50.49M436.77 43.77V51.1M437.06 44.01V50.7M437.35 44.67V50.19M437.64 44.73V51.2M437.93 44.47V50.94M438.22 44.12V49.55M438.51 44.18V49.91M438.8 43.92V50.55M439.09 44.22V50.35M439.38 44.96V49.34M439.67 44.24V50.61M439.96 44.13V51.02M440.25 43.65V49.99M440.54 43.87V49.5M440.82 44.04V49.89M441.11 44.24V50.74M441.4 43.75V49.31M441.69 44.63V50.78M441.98 44.26V49.42M442.27 44.64V50.15M442.56 44.72V50.08M442.85 44.89V49.86M443.14 44.45V51.07M443.43 44.32V50.06M443.72 44.02V49.79M444.01 44.46V49.55M444.3 44.9V49.83M444.59 44.56V51.01M444.88 44.15V51.17M445.17 44.58V50.17M445.46 43.64V50.46M445.75 43.88V50.23M446.04 44.08V49.58M446.33 44.49V49.62" stroke="#cf1d78" stroke-width="0.45" fill="none"/>
<path d="M437.93,58.17h0.6M439.09,47.55h0.6M442.27,42.45h0.6M442.85,45.38h0.6M443.14,47.29h0.6M443.43,47.61h0.6" stroke="#cf1d78" stroke-width="0.6" fill="none"/>
<path d="M436.05,47H446.47" stroke="#ffffff" stroke-width="0.45" fill="none" opacity="0.8"/>
<path d="M446.61 49.38V53.77M446.9 49.37V54.73M447.19 49.19V55.15M447.48 49.49V54.89M447.76 48.93V54.55M448.05 49.6V55.01M448.34 49.84V54.7M448.62 48.85V54.63M448.91 48.8V55.48M449.2 49.66V54.09M449.48 49.68V54.33M449.77 49.54V54.11M450.06 49.81V55.16M450.34 49.12V54.78M450.63 48.78V55.37M450.92 49.81V54.36M451.2 49.02V53.75M451.49 48.76V55.26M451.78 49.41V55.14M452.06 49.57V55.02M452.35 49.15V54.66M452.64 49.23V55.45M452.92 49.17V55.48M453.21 49.54V54.64M453.5 49.82V55.66M453.78 49.76V54.65M454.07 44.46V49.54M454.36 43.48V50.03M454.64 43.92V49.62M454.93 44.54V49.72M455.22 43.42V50.01M455.5 43.61V50.59M455.79 43.61V49.88M456.08 44.54V49.66M456.36 44.43V49.44" stroke="#379837" stroke-width="0.45" fill="none"/>
<path d="M448.34,51.78h0.6M449.2,50.84h0.6M453.5,55.1h0.6" stroke="#379837" stroke-width="0.6" fill="none"/>
<path d="M446.47,51.63H454M454,46.72H456.51" stroke="#ffffff" stroke-width="0.45" fill="none" opacity="0.8"/>
<path d="M456.65 43.44V50.94M456.95 43.71V50.69M457.24 43.53V49.58M457.53 44.26V50.05M457.82 43.16V50.24M458.11 44V49.32M458.41 44.47V49.88M458.7 43.76V50.06M458.99 44.34V51.74M459.28 44.03V51.52M459.58 43.04V49.98M459.87 44.36V50.64M460.16 43.57V50.99M460.45 44.42V50.2M460.74 43.87V51.31M461.04 43.33V49.65M461.33 43.23V50.18M461.62 43.45V49.44M461.91 43.94V49.38M462.21 43.83V50.48M462.5 43.41V51.55M462.79 44.41V50.23M463.08 44.43V50.13M463.38 43.04V51.54M463.67 44.01V49.65M463.96 44.47V49.75M464.25 44.4V51.17M464.54 43.21V49.57M464.84 43.62V51.44M465.13 44.4V51.02M456.05 46.72V46.72M456.35 42.71V46.72M456.65 40.55V46.72M456.95 36.8V46.72M457.25 40.13V46.72M457.55 43.45V46.72M460.87 46.72V46.72M461.17 44.55V46.72M461.47 42.98V46.72M461.77 40.61V46.72M462.07 42.47V46.72M462.37 44.35V46.72" stroke="#16785a" stroke-width="0.45" fill="none"/>
<path d="M457.53,39.09h0.6M458.99,45.17h0.6M462.21,48.69h0.6M463.08,40.36h0.6M463.38,35.91h0.6M464.84,39.97h0.6" stroke="#16785a" stroke-width="0.6" fill="none"/>
<path d="M456.51,46.72H465.28" stroke="#ffffff" stroke-width="0.45" fill="none" opacity="0.8"/>
<path d="M465.42 43.53V51.36M465.71 44.25V51.94M466.01 44.15V50.91M466.3 44.48V51.02M466.59 44.3V51.27M466.88 43.29V53.02M467.18 44.07V52.01M467.47 43.41V50.52M467.76 43.13V53.29M468.05 44.15V52.89M468.34 42.94V50.83M468.64 42.85V50.87M468.93 43.11V50.97M469.22 43.05V52.27M469.51 43.62V51.17M469.81 43.79V52.53M470.1 44.4V50.71M470.39 43.2V53.29M470.68 43.19V52.08M470.98 43V51.45M471.27 43.62V52.27M471.56 43.19V52.08M471.85 43.01V51.61M472.14 43.85V52.91M472.44 44.28V52.97M472.73 43.05V52.71M473.02 43.74V52.02M465.51 47.29V47.29M465.81 39.63V47.29M466.11 31.98V47.29M466.41 28.44V47.29M466.71 32.9V47.29M467.01 35.74V47.29M467.31 44.68V47.29M469.77 47.29V47.29M470.07 43.48V47.29M470.37 39.5V47.29M470.67 37.5V47.29M470.97 34.73V47.29M471.27 34.95V47.29M471.57 40.08V47.29M471.87 42.97V47.29" stroke="#d8431a" stroke-width="0.45" fill="none"/>
<path d="M466.01,50.19h0.6M471.27,40.48h0.6M471.85,40.14h0.6" stroke="#d8431a" stroke-width="0.6" fill="none"/>
<path d="M465.28,47.29H473.17" stroke="#ffffff" stroke-width="0.45" fill="none" opacity="0.8"/>
<path d="M473.31 47.45V51.38M473.61 46.26V51.22M473.9 47.4V51.44M474.19 47.23V51.56M474.48 47.02V52.28M474.77 46.75V51.33M475.07 46.85V52.03M475.36 46.72V52.35M475.65 46.95V51.78M475.94 47.02V51.32M476.24 46.37V51.36M476.53 47.4V52.33M476.82 46.52V51.83M477.11 46.43V52.08M477.41 46.97V51.17M477.7 47.38V52.37M477.99 47.09V52.67M478.28 46.57V51.79M478.57 47.22V52.52M478.87 46.46V52.68M479.16 46.23V51.7M479.45 46.81V52.45M479.74 46.82V52.59M480.04 47.29V52.09M480.33 46.82V52.01M480.62 46.26V52.48" stroke="#44449e" stroke-width="0.45" fill="none"/>
<path d="M473.31,53.46h0.6M474.77,41.98h0.6M476.82,55.08h0.6M477.99,44.4h0.6M479.74,57.67h0.6" stroke="#44449e" stroke-width="0.6" fill="none"/>
<path d="M473.17,49.13H480.77" stroke="#ffffff" stroke-width="0.45" fill="none" opacity="0.8"/>
<path d="M480.91 46.54V56.69M481.2 45.32V55.79M481.49 45.59V55.96M481.77 45.39V55.22M482.06 46.35V55.02M482.35 46.9V54.56M482.63 45.94V55.81M482.92 45.29V53.09M483.21 45.66V53.97M483.5 46.43V55.5M483.78 46.05V55.42M484.07 46.13V54.97M484.36 46.96V55.88M484.65 46.79V56.31M484.93 46.24V53.91M485.22 46.12V53.69M485.51 46.74V53.54M485.8 47.15V53.4M486.08 47.1V56.73M486.37 46.76V55.07" stroke="#cf1d78" stroke-width="0.45" fill="none"/>
<path d="M481.77,41.79h0.6M482.92,41.86h0.6M484.36,51.41h0.6" stroke="#cf1d78" stroke-width="0.6" fill="none"/>
<path d="M480.77,49.8H486.51" stroke="#ffffff" stroke-width="0.45" fill="none" opacity="0.8"/>
<path d="M486.66 44.41V50.94M486.95 45.11V52.57M487.25 45.01V52.37M487.54 45.48V52.69M487.83 44.82V53.45M488.12 44V51.51M488.41 44.64V50.9M488.71 45.17V52.19M489 44.84V52.09M489.29 43.93V50.74M489.58 44.73V51.31M489.88 43.83V52.27M490.17 44.06V53.09M490.46 44.63V51.87M490.75 45.38V53.36M491.05 45.22V52.28M491.34 45.52V51.43M491.63 44.27V51.66M491.92 44.01V53.34M492.21 44.32V52.31M492.51 44.94V51.01M488.66 47.88V47.88M488.96 45.33V47.88M489.26 43.76V47.88M489.56 41.45V47.88M489.86 44V47.88M490.16 45.02V47.88M490.46 47.5V47.88" stroke="#379837" stroke-width="0.45" fill="none"/>
<path d="M486.95,49.36h0.6M489.58,43.89h0.6M490.46,58.17h0.6" stroke="#379837" stroke-width="0.6" fill="none"/>
<path d="M486.51,47.88H492.65" stroke="#ffffff" stroke-width="0.45" fill="none" opacity="0.8"/>
<path d="M492.8 43.01V50.2M493.09 43.39V50.24M493.38 42.23V48.06M493.68 43.33V49.04M493.97 43.23V49.09M494.26 43.29V49.65M494.55 42.08V49.32M494.85 43.47V50.01M495.14 42.36V48.33M495.43 42.57V49.86M495.72 42.18V50.15M496.01 42.68V49.39M496.31 43.24V48.06M496.6 42.83V48.9M496.89 42.4V48.84M497.18 43.18V49.87" stroke="#16785a" stroke-width="0.45" fill="none"/>
<path d="M493.09,58.17h0.6M495.14,58.17h0.6" stroke="#16785a" stroke-width="0.6" fill="none"/>
<path d="M492.65,45.64H497.33" stroke="#ffffff" stroke-width="0.45" fill="none" opacity="0.8"/>
<path d="M497.48 40.53V47.1M497.77 40.21V47.84M498.06 40.77V47.42M498.35 40.93V46.65M498.64 41.3V48.08M498.94 40.77V48.04M499.23 40.5V47.41M499.52 40.09V46.4M499.81 41.01V46.23M500.11 40.54V47.89M500.4 40.87V46.48M500.69 40.35V47.39M500.98 40.22V46.28M501.28 40.17V46.22M501.57 41.36V46.72M501.86 40.62V47.47M502.15 40.48V46.44" stroke="#d8431a" stroke-width="0.45" fill="none"/>
<path d="M497.48,42.15h0.6M498.64,40.04h0.6M501.28,47.13h0.6" stroke="#d8431a" stroke-width="0.6" fill="none"/>
<path d="M497.33,43.66H502.3" stroke="#ffffff" stroke-width="0.45" fill="none" opacity="0.8"/>
<path d="M502.44 47.81V51.86M502.73 48.01V52.08M503.02 47.06V52.45M503.31 47.72V52.75M503.61 46.8V52.17M503.9 47.93V53.46M504.19 47.29V53.03M504.48 46.81V52.62M504.77 47.87V53.65M505.06 47.81V53.12M505.35 47.9V53.23M505.64 46.9V53.08M505.93 46.96V52.29M506.22 47.74V52.46M506.51 47.78V52.01M506.8 47.79V52.03M507.09 47.49V53.7M507.38 46.8V52.8M507.67 46.91V53.59M507.96 47.61V53.49M508.25 46.85V52.4M508.54 47.74V53.75M508.83 47.3V53.21M509.12 46.91V52.02M509.41 46.96V52.74M509.7 47.84V52.68M509.99 47.17V52.92M510.28 47.55V53.15M510.58 47.05V52.45M510.87 47.19V52.75M511.16 46.78V53.02M511.45 47.07V53.48M511.74 47.83V52.91M512.03 46.89V51.84M512.32 47.47V52.93M512.61 47.56V53.2M512.9 46.82V52.18M513.19 47.35V53.56M513.48 47.71V53.08M513.77 46.89V53.31M514.06 47.21V53.07M514.35 47.62V53.75M514.64 47.63V51.83M514.93 47.51V52.67M515.22 47.2V51.82M515.51 47.57V51.99M515.8 47.5V53.21M516.09 46.79V52.69M516.38 48.02V52.77M516.67 47.81V52.14M516.96 46.85V51.98M517.25 47.31V52.7" stroke="#44449e" stroke-width="0.45" fill="none"/>
<path d="M502.44,58.17h0.6M506.22,45.65h0.6M511.74,48.78h0.6M513.19,47.02h0.6M513.48,50.11h0.6M515.8,55.29h0.6M516.38,55.38h0.6" stroke="#44449e" stroke-width="0.6" fill="none"/>
<path d="M502.3,49.8H517.4" stroke="#ffffff" stroke-width="0.45" fill="none" opacity="0.8"/>
<line x1="246.06" x2="246.06" y1="18.7" y2="58.7" stroke="#333" stroke-width="0.7"/>
<line x1="269.74" x2="269.74" y1="18.7" y2="58.7" stroke="#333" stroke-width="0.7"/>
<line x1="289.03" x2="289.03" y1="18.7" y2="58.7" stroke="#333" stroke-width="0.7"/>
<line x1="307.64" x2="307.64" y1="18.7" y2="58.7" stroke="#333" stroke-width="0.7"/>
<line x1="325.27" x2="325.27" y1="18.7" y2="58.7" stroke="#333" stroke-width="0.7"/>
<line x1="341.93" x2="341.93" y1="18.7" y2="58.7" stroke="#333" stroke-width="0.7"/>
<line x1="357.42" x2="357.42" y1="18.7" y2="58.7" stroke="#333" stroke-width="0.7"/>
<line x1="371.65" x2="371.65" y1="18.7" y2="58.7" stroke="#333" stroke-width="0.7"/>
<line x1="385.38" x2="385.38" y1="18.7" y2="58.7" stroke="#333" stroke-width="0.7"/>
<line x1="398.63" x2="398.63" y1="18.7" y2="58.7" stroke="#333" stroke-width="0.7"/>
<line x1="411.79" x2="411.79" y1="18.7" y2="58.7" stroke="#333" stroke-width="0.7"/>
<line x1="424.84" x2="424.84" y1="18.7" y2="58.7" stroke="#333" stroke-width="0.7"/>
<line x1="436.05" x2="436.05" y1="18.7" y2="58.7" stroke="#333" stroke-width="0.7"/>
<line x1="446.47" x2="446.47" y1="18.7" y2="58.7" stroke="#333" stroke-width="0.7"/>
<line x1="456.51" x2="456.51" y1="18.7" y2="58.7" stroke="#333" stroke-width="0.7"/>
<line x1="465.28" x2="465.28" y1="18.7" y2="58.7" stroke="#333" stroke-width="0.7"/>
<line x1="473.17" x2="473.17" y1="18.7" y2="58.7" stroke="#333" stroke-width="0.7"/>
<line x1="480.77" x2="480.77" y1="18.7" y2="58.7" stroke="#333" stroke-width="0.7"/>
<line x1="486.51" x2="486.51" y1="18.7" y2="58.7" stroke="#333" stroke-width="0.7"/>
<line x1="492.65" x2="492.65" y1="18.7" y2="58.7" stroke="#333" stroke-width="0.7"/>
<line x1="497.33" x2="497.33" y1="18.7" y2="58.7" stroke="#333" stroke-width="0.7"/>
<line x1="502.3" x2="502.3" y1="18.7" y2="58.7" stroke="#333" stroke-width="0.7"/>
<rect x="221.8" y="18.7" width="295.6" height="40" fill="none" stroke="#333" stroke-width="0.8"/>
<line x1="233.93" x2="233.93" y1="58.7" y2="59.9" stroke="#333" stroke-width="0.5"/>
<text x="233.93" y="64.9" font-size="5.1" fill="#333" text-anchor="middle" dominant-baseline="central" transform="rotate(-60 233.93 64.9)">1</text>
<line x1="257.9" x2="257.9" y1="58.7" y2="59.9" stroke="#333" stroke-width="0.5"/>
<text x="257.9" y="64.9" font-size="5.1" fill="#333" text-anchor="middle" dominant-baseline="central" transform="rotate(-60 257.9 64.9)">2</text>
<line x1="279.38" x2="279.38" y1="58.7" y2="59.9" stroke="#333" stroke-width="0.5"/>
<text x="279.38" y="64.9" font-size="5.1" fill="#333" text-anchor="middle" dominant-baseline="central" transform="rotate(-60 279.38 64.9)">3</text>
<line x1="298.33" x2="298.33" y1="58.7" y2="59.9" stroke="#333" stroke-width="0.5"/>
<text x="298.33" y="64.9" font-size="5.1" fill="#333" text-anchor="middle" dominant-baseline="central" transform="rotate(-60 298.33 64.9)">4</text>
<line x1="316.45" x2="316.45" y1="58.7" y2="59.9" stroke="#333" stroke-width="0.5"/>
<text x="316.45" y="64.9" font-size="5.1" fill="#333" text-anchor="middle" dominant-baseline="central" transform="rotate(-60 316.45 64.9)">5</text>
<line x1="333.6" x2="333.6" y1="58.7" y2="59.9" stroke="#333" stroke-width="0.5"/>
<text x="333.6" y="64.9" font-size="5.1" fill="#333" text-anchor="middle" dominant-baseline="central" transform="rotate(-60 333.6 64.9)">6</text>
<line x1="349.68" x2="349.68" y1="58.7" y2="59.9" stroke="#333" stroke-width="0.5"/>
<text x="349.68" y="64.9" font-size="5.1" fill="#333" text-anchor="middle" dominant-baseline="central" transform="rotate(-60 349.68 64.9)">7</text>
<line x1="364.53" x2="364.53" y1="58.7" y2="59.9" stroke="#333" stroke-width="0.5"/>
<text x="364.53" y="64.9" font-size="5.1" fill="#333" text-anchor="middle" dominant-baseline="central" transform="rotate(-60 364.53 64.9)">8</text>
<line x1="378.51" x2="378.51" y1="58.7" y2="59.9" stroke="#333" stroke-width="0.5"/>
<text x="378.51" y="64.9" font-size="5.1" fill="#333" text-anchor="middle" dominant-baseline="central" transform="rotate(-60 378.51 64.9)">9</text>
<line x1="392.01" x2="392.01" y1="58.7" y2="59.9" stroke="#333" stroke-width="0.5"/>
<text x="392.01" y="64.9" font-size="5.1" fill="#333" text-anchor="middle" dominant-baseline="central" transform="rotate(-60 392.01 64.9)">10</text>
<line x1="405.21" x2="405.21" y1="58.7" y2="59.9" stroke="#333" stroke-width="0.5"/>
<text x="405.21" y="64.9" font-size="5.1" fill="#333" text-anchor="middle" dominant-baseline="central" transform="rotate(-60 405.21 64.9)">11</text>
<line x1="418.31" x2="418.31" y1="58.7" y2="59.9" stroke="#333" stroke-width="0.5"/>
<text x="418.31" y="64.9" font-size="5.1" fill="#333" text-anchor="middle" dominant-baseline="central" transform="rotate(-60 418.31 64.9)">12</text>
<line x1="430.44" x2="430.44" y1="58.7" y2="59.9" stroke="#333" stroke-width="0.5"/>
<text x="430.44" y="64.9" font-size="5.1" fill="#333" text-anchor="middle" dominant-baseline="central" transform="rotate(-60 430.44 64.9)">13</text>
<line x1="441.26" x2="441.26" y1="58.7" y2="59.9" stroke="#333" stroke-width="0.5"/>
<text x="441.26" y="64.9" font-size="5.1" fill="#333" text-anchor="middle" dominant-baseline="central" transform="rotate(-60 441.26 64.9)">14</text>
<line x1="451.49" x2="451.49" y1="58.7" y2="59.9" stroke="#333" stroke-width="0.5"/>
<text x="451.49" y="64.9" font-size="5.1" fill="#333" text-anchor="middle" dominant-baseline="central" transform="rotate(-60 451.49 64.9)">15</text>
<line x1="460.89" x2="460.89" y1="58.7" y2="59.9" stroke="#333" stroke-width="0.5"/>
<text x="460.89" y="64.9" font-size="5.1" fill="#333" text-anchor="middle" dominant-baseline="central" transform="rotate(-60 460.89 64.9)">16</text>
<line x1="469.22" x2="469.22" y1="58.7" y2="59.9" stroke="#333" stroke-width="0.5"/>
<text x="469.22" y="64.9" font-size="5.1" fill="#333" text-anchor="middle" dominant-baseline="central" transform="rotate(-60 469.22 64.9)">17</text>
<line x1="476.97" x2="476.97" y1="58.7" y2="59.9" stroke="#333" stroke-width="0.5"/>
<text x="476.97" y="64.9" font-size="5.1" fill="#333" text-anchor="middle" dominant-baseline="central" transform="rotate(-60 476.97 64.9)">18</text>
<line x1="483.64" x2="483.64" y1="58.7" y2="59.9" stroke="#333" stroke-width="0.5"/>
<text x="483.64" y="64.9" font-size="5.1" fill="#333" text-anchor="middle" dominant-baseline="central" transform="rotate(-60 483.64 64.9)">19</text>
<line x1="489.58" x2="489.58" y1="58.7" y2="59.9" stroke="#333" stroke-width="0.5"/>
<text x="489.58" y="64.9" font-size="5.1" fill="#333" text-anchor="middle" dominant-baseline="central" transform="rotate(-60 489.58 64.9)">20</text>
<line x1="494.99" x2="494.99" y1="58.7" y2="59.9" stroke="#333" stroke-width="0.5"/>
<text x="494.99" y="64.9" font-size="5.1" fill="#333" text-anchor="middle" dominant-baseline="central" transform="rotate(-60 494.99 64.9)">21</text>
<line x1="499.81" x2="499.81" y1="58.7" y2="59.9" stroke="#333" stroke-width="0.5"/>
<text x="499.81" y="64.9" font-size="5.1" fill="#333" text-anchor="middle" dominant-baseline="central" transform="rotate(-60 499.81 64.9)">22</text>
<line x1="509.85" x2="509.85" y1="58.7" y2="59.9" stroke="#333" stroke-width="0.5"/>
<text x="509.85" y="64.9" font-size="5.1" fill="#333" text-anchor="middle" dominant-baseline="central" transform="rotate(-60 509.85 64.9)">X</text>
<text x="220.1" y="26.4" font-size="4.9" fill="#444" text-anchor="end">16</text>
<line x1="220.6" x2="221.8" y1="24.8" y2="24.8" stroke="#333" stroke-width="0.5"/>
<text x="220.1" y="31.58" font-size="4.9" fill="#444" text-anchor="end">12</text>
<line x1="220.6" x2="221.8" y1="29.98" y2="29.98" stroke="#333" stroke-width="0.5"/>
<text x="220.1" y="37.73" font-size="4.9" fill="#444" text-anchor="end">8</text>
<line x1="220.6" x2="221.8" y1="36.13" y2="36.13" stroke="#333" stroke-width="0.5"/>
<text x="220.1" y="45.73" font-size="4.9" fill="#444" text-anchor="end">4</text>
<line x1="220.6" x2="221.8" y1="44.13" y2="44.13" stroke="#333" stroke-width="0.5"/>
<text x="220.1" y="51.4" font-size="4.9" fill="#444" text-anchor="end">2</text>
<line x1="220.6" x2="221.8" y1="49.8" y2="49.8" stroke="#333" stroke-width="0.5"/>
<text x="220.1" y="55.4" font-size="4.9" fill="#444" text-anchor="end">1</text>
<line x1="220.6" x2="221.8" y1="53.8" y2="53.8" stroke="#333" stroke-width="0.5"/>
<text x="210.6" y="46.97" font-size="5.0" fill="#444" text-anchor="middle" transform="rotate(-90 210.6 46.97)">Copies</text>
<text x="370" y="12.9" font-size="8.2" fill="#222" text-anchor="middle">OS384_19D</text>
<rect x="246.06" y="112.5" width="23.68" height="40" fill="#e6e6e6"/>
<rect x="289.03" y="112.5" width="18.61" height="40" fill="#e6e6e6"/>
<rect x="325.27" y="112.5" width="16.66" height="40" fill="#e6e6e6"/>
<rect x="357.42" y="112.5" width="14.22" height="40" fill="#e6e6e6"/>
<rect x="385.38" y="112.5" width="13.25" height="40" fill="#e6e6e6"/>
<rect x="411.79" y="112.5" width="13.06" height="40" fill="#e6e6e6"/>
<rect x="436.05" y="112.5" width="10.42" height="40" fill="#e6e6e6"/>
<rect x="456.51" y="112.5" width="8.77" height="40" fill="#e6e6e6"/>
<rect x="473.17" y="112.5" width="7.6" height="40" fill="#e6e6e6"/>
<rect x="486.51" y="112.5" width="6.14" height="40" fill="#e6e6e6"/>
<rect x="497.33" y="112.5" width="4.97" height="40" fill="#e6e6e6"/>
<line x1="221.8" x2="517.4" y1="114.1" y2="114.1" stroke="#7a7a7a" stroke-width="0.8"/>
<line x1="221.8" x2="517.4" y1="119.92" y2="119.92" stroke="#7a7a7a" stroke-width="0.8"/>
<line x1="221.8" x2="517.4" y1="126.83" y2="126.83" stroke="#444" stroke-width="0.8"/>
<line x1="221.8" x2="517.4" y1="135.83" y2="135.83" stroke="#444" stroke-width="0.8"/>
<line x1="221.8" x2="517.4" y1="142.2" y2="142.2" stroke="#555" stroke-width="0.8"/>
<line x1="221.8" x2="517.4" y1="146.7" y2="146.7" stroke="#555" stroke-width="0.8"/>
<path d="M221.94 139.69V142.81M222.23 139.32V142.52M222.52 139.34V142.5M222.81 139.42V142.54M223.1 139.62V142.58M223.39 139.28V143.58M223.68 139.8V143.62M223.97 139.7V142.77M224.25 139.05V142.8M224.54 139.22V143.13M224.83 139.78V143.09M225.12 139.53V142.94M225.41 139.55V142.97M225.7 139.6V143.27M225.99 138.99V143.06M226.28 138.89V142.77M226.57 139.1V142.93M226.85 139.8V143.01M227.14 139.28V143.35M227.43 139.16V142.8M227.72 139.39V143.13M228.01 139.38V143.58M228.3 139.16V142.5M228.59 139.04V143.64M228.88 139.19V142.89M229.16 139.78V142.57M229.45 139.6V142.58M229.74 139.76V143.49M230.03 138.98V143.09M230.32 139.57V143.48M230.61 138.98V142.86M230.9 139.67V142.61M231.19 139.37V142.71M231.48 139.84V142.74M231.76 139.29V142.87M232.05 139.34V143.26M232.34 139.79V143.24M232.63 138.99V143.37M232.92 139.45V142.9M233.21 139.78V143.19M233.5 139.79V142.83M233.79 139.74V142.61M234.07 138.99V142.46M234.36 139.59V142.61M234.65 139.72V142.86M234.94 139.38V143.64M235.23 139.74V142.53M235.52 139.03V142.74M235.81 138.92V142.46M236.1 139.31V142.6M236.38 139.16V143.48M236.67 139.68V142.87M236.96 139.08V143.07M237.25 139.05V142.69M237.54 139.06V143.46M237.83 139.62V143.32M238.12 139.81V142.85M238.41 139.59V142.76M238.7 139.4V143.6M238.98 138.91V143.64M239.27 139.62V142.69M239.56 139.23V142.67M239.85 139.37V143.45M240.14 139.76V143.4M240.43 139.08V143.54M240.72 139.67V143M241.01 139.06V142.83M241.29 139.45V142.9M241.58 139.67V143.3M241.87 139.7V143.41M242.16 139.2V143.63M242.45 139.71V143.09M242.74 139.21V143.61M243.03 139.42V143.57M243.32 139.63V143.43M243.6 139.6V142.78M243.89 139.43V142.74M244.18 139.27V142.98M244.47 138.95V142.93M244.76 139.33V143.07M245.05 139.66V142.96M245.34 139.13V143M245.63 139.33V142.82M245.92 139.74V143.38" stroke="#16785a" stroke-width="0.45" fill="none"/>
<path d="M222.52,142.25h0.6M223.97,140.6h0.6M224.83,139.81h0.6M226.28,136.93h0.6M228.88,143.11h0.6M232.92,140.63h0.6M233.21,140.6h0.6M233.5,139.33h0.6M236.1,151.61h0.6M238.12,142.74h0.6M241.58,137.42h0.6M242.45,136.14h0.6M243.89,138.71h0.6M244.76,142.79h0.6M245.05,140.49h0.6" stroke="#16785a" stroke-width="0.6" fill="none"/>
<path d="M221.8,141.09H246.06" stroke="#ffffff" stroke-width="0.45" fill="none" opacity="0.8"/>
<path d="M246.2 135.32V138.68M246.49 135.02V139.01M246.78 135.15V139.53M247.07 135.07V139M247.36 135.05V138.94M247.65 134.88V139.57M247.94 135.34V139.57M248.23 134.73V139.57M248.51 137.96V141.93M248.8 137.55V142.78M249.09 137.63V141.98M249.38 137.43V141.96M249.67 137.35V142.08M249.96 137.31V142.49M250.25 137.97V141.99M250.54 138.25V142.26M250.82 138.47V142.86M251.11 138.47V142.42M251.4 137.87V142.71M251.69 137.54V143.29M251.98 138.17V141.9M252.27 137.98V141.94M252.56 138.18V143.02M252.84 137.8V143.18M253.13 138.42V141.88M253.42 138.41V142.39M253.71 137.53V142.72M254 137.94V143.09M254.29 137.38V142.59M254.58 137.85V141.94M254.87 138.3V141.91M255.15 138.11V142.05M255.44 138.14V142.92M255.73 138.07V142.01M256.02 137.83V142.88M256.31 137.37V142.47M256.6 137.97V143.02M256.89 138.02V143.04M257.18 137.32V142.81M257.46 137.64V143.04M257.75 138.07V142.36M258.04 138.18V142.89M258.33 137.48V141.87M258.62 138.15V142.78M258.91 137.94V142.19M259.2 138.17V142.42M259.49 137.83V143.27M259.77 138.12V143.26M260.06 138.03V141.75M260.35 138.25V142.51M260.64 138.17V141.75M260.93 138.44V142.35M261.22 137.85V142.64M261.51 137.63V142.76M261.8 138.1V142.34M262.08 137.62V141.97M262.37 137.49V141.81M262.66 137.61V142.71M262.95 137.86V141.95M263.24 137.52V143.04M263.53 137.42V142.64M263.82 138.21V142.82M264.11 138.05V141.94M264.39 137.74V142.71M264.68 138.49V142.49M264.97 137.88V142.9M265.26 138.41V142.76M265.55 138.4V142.13M265.84 138.24V142.87M266.13 137.89V143.28M266.41 137.67V142.48M266.7 137.72V142.69M266.99 138.18V141.97M267.28 137.81V142.21M267.57 137.66V142.78M267.86 137.87V142.18M268.15 138.35V142.46M268.44 137.32V142.04M268.72 137.94V141.77M269.01 137.95V143.26M269.3 137.36V142.06M269.59 138.32V142.64" stroke="#d8431a" stroke-width="0.45" fill="none"/>
<path d="M248.23,139.07h0.6M248.51,139.95h0.6M251.4,138.54h0.6M251.98,139.47h0.6M252.56,143.55h0.6M253.71,139.14h0.6M254.87,141.27h0.6M255.73,140.05h0.6M256.31,139.35h0.6M257.75,139.01h0.6M260.64,138.95h0.6M260.93,141.06h0.6M263.82,137.46h0.6M264.11,137.57h0.6M266.7,145.26h0.6M267.28,137.29h0.6" stroke="#d8431a" stroke-width="0.6" fill="none"/>
<path d="M246.06,136.95H248.43M248.43,140.04H269.74" stroke="#ffffff" stroke-width="0.45" fill="none" opacity="0.8"/>
<path d="M269.88 140.73V144.92M270.17 139.96V144.31M270.45 139.95V143.95M270.74 140.87V143.68M271.03 140.56V144.24M271.32 140.54V144.1M271.61 140.09V143.65M271.89 139.92V143.8M272.18 140.57V144.85M272.47 139.84V144.16M272.76 140.42V144.12M273.05 140.77V143.71M273.33 139.91V144.02M273.62 140.34V143.99M273.91 139.89V144.13M274.2 140.22V144.73M274.49 140.3V144.9M274.77 140.11V143.71M275.06 140.2V144.64M275.35 139.92V143.71M275.64 140.11V144.03M275.93 140.19V143.99M276.21 140.46V144.38M276.5 140.65V143.86M276.79 140.64V144.3M277.08 140.4V144.98M277.37 140.78V143.9M277.65 140.62V143.77M277.94 139.96V144.4M278.23 140.44V144.19M278.52 143.14V147.68M278.8 142.94V147.24M279.09 143.3V148.6M279.38 143.07V147.46M279.67 142.53V148.78M279.96 143.53V147.07M280.24 142.98V148.66M280.53 143.08V147.03M280.82 142.52V148.52M281.11 143.43V147.46M281.4 140.51V144.79M281.68 140.54V145.07M281.97 140.64V144.7M282.26 140.98V145.15M282.55 140.9V144.96M282.84 141.11V145.03M283.12 140.61V144.79M283.41 140.59V144.38M283.7 140.55V145.41M283.99 140.98V144.72M284.28 140.48V145.41M284.56 140.7V144.11M284.85 140.95V144.64M285.14 140.99V145.36M285.43 140.78V144.53M285.71 140.39V144.34M286 141.01V144.76M286.29 140.36V144.5M286.58 140.43V144.38M286.87 140.7V145.4M287.15 140.78V144.38M287.44 141.07V145.39M287.73 140.21V144.36M288.02 140.28V144.61M288.31 140.18V145.08M288.59 141.03V144.52M288.88 141.2V145.1" stroke="#44449e" stroke-width="0.45" fill="none"/>
<path d="M271.03,141.21h0.6M275.35,145.73h0.6M277.08,141.66h0.6M278.52,147.29h0.6M281.97,135.24h0.6M282.55,142.64h0.6M282.84,138.19h0.6M283.41,143.9h0.6M285.14,139.23h0.6M287.73,141.45h0.6" stroke="#44449e" stroke-width="0.6" fill="none"/>
<path d="M269.74,142.2H278.42M278.42,145.18H281.31M281.31,142.59H289.03" stroke="#ffffff" stroke-width="0.45" fill="none" opacity="0.8"/>
<path d="M289.17 138.79V144.66M289.46 139.38V144.19M289.74 137.89V144.6M290.03 139.05V146.08M290.31 138.09V145.72M290.6 138.63V143.93M290.89 139.07V145.96M291.17 139.33V145.91M291.46 138.18V145.69M291.75 138.97V145.96M292.03 138.84V145.91M292.32 138.41V146.06M292.6 138.88V145.46M292.89 138.2V143.83M293.18 137.91V145.26M293.46 138.63V144.33M293.75 138.77V146.05M294.04 138.6V144.78M294.32 138.12V144.22M294.61 138.17V145.72M294.9 138.87V144.54M295.18 139.26V145.62M295.47 138.99V145.55M295.75 137.86V144.54M296.04 138.96V146.14M296.33 138.59V144.03M296.61 139.01V144.82M296.9 138.32V145.23M297.19 138.33V145.78M297.47 138.79V145.1M297.76 138.99V144.26M298.04 138V144.15M298.33 138.75V144.54M298.62 139.01V144.96M298.9 137.84V145.3M299.19 138.1V144.88M299.48 139.32V145.95M299.76 139.08V144.08M300.05 137.93V145.14M300.33 138.67V145.83M300.62 137.91V145.61M300.91 138.79V144.3M301.19 138.97V144.27M301.48 139.06V145.3M301.77 138.88V144.22M302.05 138.51V145.65M302.34 138.75V144.04M302.62 139.24V145.27M302.91 138.73V145.41M303.2 137.9V144.5M303.48 138.81V145.1M303.77 137.83V145.82M304.06 138.24V144.25M304.34 137.97V143.83M304.63 138.74V145.71M304.92 139.12V144.85M305.2 139.24V145.94M305.49 138.58V144.64M305.77 138.56V144.44M306.06 138.6V144.06M306.35 139.07V146.08M306.63 139.3V144.9M306.92 137.97V144.68M307.21 139.12V145.72M307.49 138.74V144.31M293.68 141.45V141.45M293.98 137.27V141.45M294.28 133.72V141.45M294.58 130.07V141.45M294.88 132.27V141.45M295.18 136.17V141.45M295.48 140.54V141.45M298.36 141.45V141.45M298.66 138.57V141.45M298.96 135.81V141.45M299.26 135.31V141.45M299.56 136.32V141.45M299.86 138.54V141.45M302.8 141.45V141.45M303.1 135.31V141.45M303.4 132.59V141.45M303.7 127.35V141.45M304 125.99V141.45M304.3 129.34V141.45M304.6 134.27V141.45M304.9 138.85V141.45M304.87 141.45V141.45M305.17 137.98V141.45M305.47 134.58V141.45M305.77 132.39V141.45M306.07 135.02V141.45M306.37 138.45V141.45" stroke="#cf1d78" stroke-width="0.45" fill="none"/>
<path d="M289.74,140.84h0.6M291.46,139.62h0.6M293.18,141.03h0.6M295.47,135.67h0.6M296.04,140.04h0.6M297.19,139.14h0.6M298.9,145.93h0.6M300.62,150.02h0.6M300.91,146.62h0.6M301.48,145.93h0.6M302.05,135.3h0.6M304.92,151.61h0.6M305.49,144.18h0.6M306.35,130.89h0.6" stroke="#cf1d78" stroke-width="0.6" fill="none"/>
<path d="M289.03,141.45H307.64" stroke="#ffffff" stroke-width="0.45" fill="none" opacity="0.8"/>
<path d="M307.78 139.04V142.77M308.07 138.76V142.94M308.36 139.06V142.25M308.65 139.1V142.19M308.94 138.9V142.09M309.23 138.77V142.91M309.51 139.03V142.11M309.8 139.38V143.17M310.09 138.81V143.23M310.38 138.57V142.27M310.67 138.64V143.18M310.96 138.62V142.97M311.25 138.65V142.23M311.54 139.37V143.01M311.83 139.31V143.13M312.12 139.2V142.63M312.41 139.36V142.26M312.69 138.66V142.84M312.98 139.4V142.97M313.27 139.16V142.79M313.56 138.95V142.69M313.85 138.56V142.17M314.14 138.75V142.5M314.43 138.96V143.22M314.72 139.08V142.94M315.01 139.47V142.92M315.3 138.9V142.34M315.59 138.87V142.73M315.87 139.48V142.05M316.16 138.66V142.64M316.45 138.88V142.31M316.74 139.17V142.17M317.03 138.94V142.73M317.32 139.05V142.78M317.61 139.28V143.15M317.9 138.76V143.07M318.19 139.5V142.35M318.48 139.17V142.7M318.77 138.62V142.56M319.05 138.65V142.33M319.34 139.12V142.66M319.63 138.76V142.11M319.92 139.32V142.21M320.21 138.89V142.64M320.5 139.21V142.25M320.79 138.66V142.1M321.08 139.51V142.89M321.37 139.06V142.92M321.66 139.29V142.57M321.95 139.48V142.31M322.23 138.84V142.93M322.52 139.25V142.88M322.81 138.76V142.55M323.1 138.89V142.35M323.39 138.67V142.3M323.68 138.61V142.92M323.97 138.67V142.42M324.26 138.64V142.32M324.55 138.87V142.86M324.84 138.71V142.59M325.13 139.09V143.06" stroke="#379837" stroke-width="0.45" fill="none"/>
<path d="M308.36,144.07h0.6M308.65,144.73h0.6M308.94,139.44h0.6M310.96,144.24h0.6M312.12,136.9h0.6M315.87,143.46h0.6M316.16,143.14h0.6M316.45,138h0.6M317.32,140.68h0.6M317.61,137.36h0.6M319.05,138.35h0.6M319.63,150.98h0.6M321.66,143.29h0.6M323.39,140.88h0.6" stroke="#379837" stroke-width="0.6" fill="none"/>
<path d="M307.64,140.73H325.27" stroke="#ffffff" stroke-width="0.45" fill="none" opacity="0.8"/>
<path d="M325.41 143.18V148.04M325.7 143.47V148.14M325.99 143.53V147.28M326.28 143.14V148.73M326.56 142.79V148.27M326.85 139.78V143.32M327.14 139.04V142.86M327.42 139.78V143.51M327.71 138.92V143.54M328 139.73V142.67M328.29 139.04V143.19M328.57 139.74V142.77M328.86 139.64V143.35M329.15 139.82V142.94M329.43 139.14V142.77M329.72 138.91V142.81M330.01 139.24V143.46M330.3 139.5V143.36M330.58 139.63V143.07M330.87 139.04V142.54M331.16 139.64V142.43M331.45 139.84V143.62M331.73 139.06V143.02M332.02 139.5V143.02M332.31 138.92V142.74M332.59 139.16V142.68M332.88 139.22V142.56M333.17 139.16V143.38M333.46 139.49V143.18M333.74 138.98V142.9M334.03 139.58V142.67M334.32 139.47V143.03M334.61 139.39V142.71M334.89 139.11V143.34M335.18 139.52V142.84M335.47 139.19V143.45M335.75 139.41V142.63M336.04 139.72V143.12M336.33 139.61V143.51M336.62 139.15V142.79M336.9 139.69V142.61M337.19 139.33V142.82M337.48 139.66V142.82M337.77 139.74V143.31M338.05 139.46V142.55M338.34 139.13V143.39M338.63 139.22V142.66M338.91 139.46V142.67M339.2 139.35V143.27M339.49 139.7V142.98M339.78 139.12V142.91M340.06 139.28V142.94M340.35 139.62V142.93M340.64 139.09V143.5M340.92 139.18V143.46M341.21 139.53V142.97M341.5 139.43V142.55M341.79 139.23V143.29M329.1 141.09V141.09M329.4 132.67V141.09M329.7 125.8V141.09M330 121.53V141.09M330.3 116.46V141.09M330.6 120.12V141.09M330.9 128.77V141.09M331.2 133.89V141.09M330.7 141.09V141.09M331 138.64V141.09M331.3 136.32V141.09M331.6 133.32V141.09M331.9 137V141.09M332.2 138.51V141.09" stroke="#16785a" stroke-width="0.45" fill="none"/>
<path d="M325.99,142.36h0.6M326.28,144h0.6M327.71,140.92h0.6M328,137.98h0.6M328.57,146.95h0.6M330.01,144.36h0.6M332.88,139.38h0.6M333.74,140.54h0.6M338.63,141.56h0.6M338.91,146.61h0.6" stroke="#16785a" stroke-width="0.6" fill="none"/>
<path d="M325.27,145.18H326.6M326.6,141.09H341.93" stroke="#ffffff" stroke-width="0.45" fill="none" opacity="0.8"/>
<path d="M342.07 135.58V139.53M342.36 136.33V140M342.65 135.65V140.03M342.93 135.53V140.17M343.22 135.41V139.86M343.51 136.01V140.23M343.79 135.37V139.48M344.08 136.13V139.39M344.37 135.98V139.34M344.66 136.05V140.25M344.94 135.63V139.61M345.23 136.2V140.01M345.52 136.2V139.83M345.8 139.37V144.67M346.09 139.66V144.19M346.38 139.9V144.98M346.66 139.36V144.74M346.95 139.67V143.92M347.24 140V144.79M347.52 139.81V143.86M347.81 139.47V143.49M348.1 139.96V143.85M348.38 139.57V144.13M348.67 139.24V144.02M348.96 139.35V143.57M349.25 140.15V144.68M349.53 140.3V144.44M349.82 139.55V144.96M350.11 140.15V143.63M350.39 139.91V144.67M350.68 139.39V144.88M350.97 139.6V144.86M351.25 139.28V144.5M351.54 140.08V144.77M351.83 139.45V144.28M352.11 139.66V144.84M352.4 140.15V143.83M352.69 139.77V143.57M352.97 139.31V144.3M353.26 139.76V144.77M353.55 139.34V144.49M353.84 139.2V144.11M354.12 139.6V143.52M354.41 139.92V144.92M354.7 139.75V144.25M354.98 139.48V143.53M355.27 139.31V143.99M355.56 139.7V144.2M355.84 139.8V143.79M356.13 139.35V144.32M356.42 139.84V144.75M356.7 139.72V143.89M356.99 139.39V144.48M357.28 139.96V143.96" stroke="#d8431a" stroke-width="0.45" fill="none"/>
<path d="M345.52,134.37h0.6M346.95,140.07h0.6M349.53,145.42h0.6M352.69,147.44h0.6M352.97,141.57h0.6M353.84,146.03h0.6" stroke="#d8431a" stroke-width="0.6" fill="none"/>
<path d="M341.93,137.83H345.8M345.8,141.82H357.42" stroke="#ffffff" stroke-width="0.45" fill="none" opacity="0.8"/>
<path d="M357.57 143.42V149.51M357.86 143.29V149.71M358.15 144.04V148.31M358.44 143.58V149.45M358.73 143.64V150.14M359.02 143.53V149.49M359.31 144.15V149.61M359.6 143.45V149.13M359.89 144.39V148.57M360.18 143.58V150.15M360.47 143.42V149.94M360.76 144.04V148.72M361.05 139.16V143.12M361.34 139.58V144.02M361.63 139.51V142.72M361.92 138.62V143.49M362.21 139.2V142.69M362.5 138.55V144.03M362.79 139.53V143.25M363.08 139.47V142.96M363.37 138.56V142.84M363.66 139.5V143.93M363.95 139.43V143.72M364.24 138.84V143.78M364.53 139.55V143.72M364.82 139.12V143.69M365.11 138.57V143.02M365.4 139.63V142.68M365.69 139.55V143.85M365.99 139.45V143.72M366.28 139.58V143.36M366.57 139.15V143.49M366.86 138.75V142.87M367.15 138.93V143.59M367.44 138.76V143.21M367.73 139V143.8M368.02 138.56V142.75M368.31 139.27V143.86M368.6 138.71V144.09M368.89 139.16V143.1M369.18 138.87V143.2M369.47 138.74V143.97M369.76 139.34V142.67M370.05 138.73V143.5M370.34 138.71V142.73M370.63 139V143.92M370.92 138.74V143.9M371.21 139.25V143.99M371.5 138.8V142.95" stroke="#44449e" stroke-width="0.45" fill="none"/>
<path d="M357.57,151.61h0.6M358.15,142.79h0.6M359.6,138.79h0.6M363.08,136.13h0.6M363.37,140.92h0.6M363.66,141.63h0.6M363.95,144.12h0.6M371.21,149.66h0.6" stroke="#44449e" stroke-width="0.6" fill="none"/>
<path d="M357.42,146.17H360.98M360.98,141.09H371.65" stroke="#ffffff" stroke-width="0.45" fill="none" opacity="0.8"/>
<path d="M371.79 142.42V146.87M372.08 142.9V147.26M372.36 142.21V147.76M372.65 142.19V146.63M372.93 142.46V146.86M373.22 142.52V148M373.51 142.92V147.47M373.79 142.31V146.78M374.08 142.66V147.43M374.36 143.1V146.73M374.65 143.02V147.1M374.94 142.96V147.82M375.22 142.53V147.05M375.51 141.98V146.54M375.8 142.47V147.29M376.08 142.64V147.81M376.37 142.18V147.79M376.65 143.1V146.9M376.94 143.05V146.78M377.23 142.03V147.24M377.51 142.43V146.59M377.8 142.02V146.68M378.09 139.57V144.34M378.37 139.85V144.5M378.66 139.2V143.72M378.94 140.27V143.81M379.23 139.27V144.01M379.52 140.26V144.77M379.8 139.56V144.56M380.09 140.14V143.56M380.38 139.52V144.94M380.66 139.43V144.38M380.95 140.01V143.97M381.23 140.15V143.84M381.52 139.48V143.5M381.81 139.24V143.53M382.09 139.31V144.93M382.38 139.79V143.69M382.66 139.34V144.92M382.95 139.91V144.16M383.24 139.58V144.2M383.52 139.67V144.57M383.81 140V144.82M384.1 139.99V143.71M384.38 140.12V143.98M384.67 139.27V143.96M384.95 139.53V144.86M385.24 139.98V144.2" stroke="#cf1d78" stroke-width="0.45" fill="none"/>
<path d="M375.22,147.44h0.6M376.94,151.61h0.6M380.66,144.94h0.6M380.95,144.41h0.6M382.38,141.54h0.6M383.24,141.58h0.6M383.52,140.55h0.6M384.67,140.54h0.6" stroke="#cf1d78" stroke-width="0.6" fill="none"/>
<path d="M371.65,144.71H377.83M377.83,141.82H385.38" stroke="#ffffff" stroke-width="0.45" fill="none" opacity="0.8"/>
<path d="M385.53 139.16V142.28M385.82 138.63V143.23M386.1 138.65V142.38M386.39 139.5V143.21M386.68 139.38V142.44M386.97 139V143.03M387.26 138.64V142.55M387.54 139.38V142.71M387.83 138.83V142.95M388.12 139.43V142.14M388.41 139.25V142.62M388.7 138.83V142.76M388.98 139.32V142.73M389.27 139.46V142.89M389.56 138.71V142.43M389.85 139.5V142.62M390.14 138.68V142.6M390.42 138.72V142.26M390.71 139.15V142.23M391 139.01V142.05M391.29 139.4V142.65M391.58 138.68V143.01M391.86 139.14V142.88M392.15 138.68V142.12M392.44 139.02V142.62M392.73 139.49V142.67M393.02 139.34V142.3M393.3 138.73V142.33M393.59 139.5V142.27M393.88 139.01V142.72M394.17 138.68V142.16M394.46 139.39V142.1M394.75 139.24V142.63M395.03 139.38V142.52M395.32 139.37V143.06M395.61 139.35V142.92M395.9 139.14V143.16M396.19 139.01V143.04M396.47 138.77V143.16M396.76 139.19V142.32M397.05 138.74V143.21M397.34 138.7V143.01M397.63 139.27V143.15M397.91 139.16V142.79M398.2 139.09V142.13M398.49 139.38V142.07" stroke="#379837" stroke-width="0.45" fill="none"/>
<path d="M385.82,140.88h0.6M386.1,141.12h0.6M386.68,143.57h0.6M388.98,141.09h0.6M393.02,144.33h0.6M393.3,137.1h0.6M394.75,138.14h0.6M397.34,151.61h0.6" stroke="#379837" stroke-width="0.6" fill="none"/>
<path d="M385.38,140.73H398.63" stroke="#ffffff" stroke-width="0.45" fill="none" opacity="0.8"/>
<path d="M398.78 138.6V143.79M399.06 138.65V143.84M399.35 138.92V142.71M399.63 139.33V143.64M399.92 138.94V144.01M400.21 139.15V143.41M400.49 139.3V143.07M400.78 138.97V142.83M401.06 139.34V143.4M401.35 139.47V143.43M401.64 139.31V142.85M401.92 139.37V143.07M402.21 139V143.54M402.49 138.84V142.95M402.78 138.95V143.45M403.07 139.37V143.1M403.35 139.21V143.4M403.64 139.24V142.68M403.92 139.01V143M404.21 138.54V143.07M404.5 139.46V143.78M404.78 141.85V146.82M405.07 142.23V146.6M405.35 141.52V146.96M405.64 141.95V145.97M405.93 141.39V146.4M406.21 141.52V146.25M406.5 141.81V146.63M406.78 141.32V146.55M407.07 142.35V146.82M407.35 141.78V146.36M407.64 141.87V146.33M407.93 141.66V146.82M408.21 141.83V146.15M408.5 139.52V143.49M408.78 139.6V143.63M409.07 139.4V144.33M409.36 139.62V143.33M409.64 138.93V143.19M409.93 139.02V144.33M410.21 139.48V143.36M410.5 139.92V143.08M410.79 138.93V143.8M411.07 138.84V143.86M411.36 139.19V143.83M411.64 139.29V143.59" stroke="#16785a" stroke-width="0.45" fill="none"/>
<path d="M401.35,142.15h0.6M401.92,150.91h0.6M404.5,143.3h0.6M404.78,147.48h0.6M406.78,141.35h0.6M409.36,146.88h0.6" stroke="#16785a" stroke-width="0.6" fill="none"/>
<path d="M398.63,141.09H404.55M404.55,143.82H408.5M408.5,141.45H411.79" stroke="#ffffff" stroke-width="0.45" fill="none" opacity="0.8"/>
<path d="M411.93 138.57V143.62M412.22 138.9V142.41M412.51 138.68V143.05M412.8 138.78V143.64M413.09 138.22V143.14M413.38 138.42V143.01M413.67 138.24V142.71M413.96 139.19V142.99M414.25 138.41V143.24M414.54 138.85V143.53M414.83 138.75V142.67M415.12 139.11V142.53M415.41 138.92V143.11M415.7 139.27V143.16M415.99 138.97V143.38M416.28 138.98V142.28M416.57 138.58V143.09M416.86 138.7V142.96M417.15 138.73V143.18M417.44 138.86V143.07M417.73 138.48V142.49M418.02 138.41V143M418.31 139.25V143.41M418.6 138.96V143.36M418.89 139.13V142.76M419.18 138.32V142.41M419.48 138.82V142.75M419.77 138.34V142.35M420.06 138.83V143.63M420.35 139.27V142.62M420.64 138.97V143.48M420.93 138.98V143.42M421.22 138.77V143.63M421.51 138.88V142.61M421.8 138.97V142.58M422.09 138.44V142.95M422.38 138.92V142.51M422.67 138.99V143.65M422.96 138.72V142.43M423.25 139.24V142.83M423.54 139.1V142.61M423.83 139.28V142.6M424.12 139.14V142.74M424.41 139.02V142.4M424.7 138.82V142.45" stroke="#d8431a" stroke-width="0.45" fill="none"/>
<path d="M417.44,143.12h0.6M417.73,139h0.6M418.31,139.46h0.6M423.25,139.23h0.6" stroke="#d8431a" stroke-width="0.6" fill="none"/>
<path d="M411.79,140.73H424.84" stroke="#ffffff" stroke-width="0.45" fill="none" opacity="0.8"/>
<path d="M424.99 142.29V147.86M425.27 142V147.68M425.56 141.26V146.66M425.85 141.9V146.7M426.14 142.16V147.65M426.42 142.01V147.41M426.71 142.22V147.45M427 141.82V146.5M427.28 141.49V146.78M427.57 141.75V147.55M427.86 142.39V147.01M428.15 142.08V147.96M428.43 141.76V146.47M428.72 142.11V147.23M429.01 141.56V146.51M429.3 141.31V147.04M429.58 141.37V148.02M429.87 142.47V146.79M430.16 142.03V147.56M430.44 141.58V147.55M430.73 142.03V147.95M431.02 142.35V146.61M431.31 141.56V147.71M431.59 142.1V146.64M431.88 142.09V146.35M432.17 141.4V146.61M432.46 142.16V147.67M432.74 142.04V147.6M433.03 141.48V147.92M433.32 141.38V146.35M433.6 142.18V146.36M433.89 141.51V148.09M434.18 141.98V147.63M434.47 142.13V147.91M434.75 141.59V148.13M435.04 141.67V147.91M435.33 141.58V146.37M435.62 141.29V147.25M435.9 142.45V147.77" stroke="#44449e" stroke-width="0.45" fill="none"/>
<path d="M425.85,148.93h0.6M428.72,145.58h0.6M429.58,141.46h0.6M431.31,141.8h0.6M432.74,143.59h0.6M433.6,143.46h0.6M433.89,147.83h0.6M434.47,140.25h0.6M435.62,145.99h0.6" stroke="#44449e" stroke-width="0.6" fill="none"/>
<path d="M424.84,144.26H436.05" stroke="#ffffff" stroke-width="0.45" fill="none" opacity="0.8"/>
<path d="M436.19 137.66V143M436.48 137.16V143.3M436.77 137.93V142.02M437.06 137.73V142.3M437.35 137.07V141.82M437.64 137.68V142M437.93 136.77V142.35M438.22 136.84V142.1M438.51 137.28V143.02M438.8 137.12V141.88M439.09 136.99V142.38M439.38 137.62V141.79M439.67 137.92V141.94M439.96 137.08V141.93M440.25 137.57V141.79M440.54 137.78V142.21M440.82 136.7V141.61M441.11 137.06V141.74M441.4 137.86V142.56M441.69 137.75V142.34M441.98 136.8V141.61M442.27 136.78V142.68M442.56 137.68V142.02M442.85 137.61V143.06M443.14 136.89V142.7M443.43 136.97V141.88M443.72 137.57V142.88M444.01 137.58V143.03M444.3 137.51V142.54M444.59 137.95V142M444.88 136.92V142.68M445.17 136.76V143.18M445.46 137.79V142.45M445.75 137.9V142.59M446.04 137.41V141.87M446.33 137.95V141.75" stroke="#cf1d78" stroke-width="0.45" fill="none"/>
<path d="M438.22,143.91h0.6M440.54,141.34h0.6M442.56,133.28h0.6" stroke="#cf1d78" stroke-width="0.6" fill="none"/>
<path d="M436.05,139.71H446.47" stroke="#ffffff" stroke-width="0.45" fill="none" opacity="0.8"/>
<path d="M446.61 141.18V146.1M446.9 141.02V147.34M447.19 141.75V146.53M447.48 141.57V146.7M447.76 141.26V146.56M448.05 141.9V147.47M448.34 141.39V146.57M448.62 142.01V146.11M448.91 140.87V146.6M449.2 140.87V147.39M449.48 141.07V146.9M449.77 141.38V146.29M450.06 141.28V146.64M450.34 140.98V146.38M450.63 141.24V146.1M450.92 141.26V145.91M451.2 141.57V146.83M451.49 141.6V146.8M451.78 141.97V146.76M452.06 142V146.21M452.35 141.48V146.21M452.64 141.37V146.17M452.92 141.35V146.7M453.21 141.01V146.56M453.5 135.89V142.04M453.78 135.94V142.57M454.07 135.62V141.04M454.36 136.75V142.15M454.64 136.61V140.83M454.93 136.11V140.76M455.22 135.96V141.27M455.5 136.08V142.37M455.79 135.67V141.75M456.08 135.91V141.03M456.36 136V142.13" stroke="#379837" stroke-width="0.45" fill="none"/>
<path d="M446.61,142.54h0.6M449.48,146.93h0.6M450.34,151.5h0.6M451.49,140.27h0.6M452.64,136.95h0.6M452.92,145.39h0.6M453.5,137.77h0.6M453.78,136.6h0.6" stroke="#379837" stroke-width="0.6" fill="none"/>
<path d="M446.47,143.82H453.5M453.5,138.75H456.51" stroke="#ffffff" stroke-width="0.45" fill="none" opacity="0.8"/>
<path d="M456.65 135.99V141.43M456.95 135.42V143.35M457.24 136.44V142.52M457.53 136.42V142.99M457.82 136.18V142.69M458.11 135.24V142.15M458.41 136.57V141.41M458.7 136.12V142.4M458.99 136.37V142M459.28 135.47V142.37M459.58 136.58V143.35M459.87 135.78V141.49M460.16 136.55V142.99M460.45 135.49V143.03M460.74 136.34V142.22M461.04 135.18V142.03M461.33 136.06V141.32M461.62 135.63V143.22M461.91 136.01V141.53M462.21 135.96V142.46M462.5 135.65V141.17M462.79 135.85V141.2M463.08 136.36V141.26M463.38 136.15V141.76M463.67 135.67V141.73M463.96 134.99V143.37M464.25 135.34V143.16M464.54 136V142.59M464.84 135.18V142.98M465.13 136.1V142.7M459.84 138.75V138.75M460.14 135.26V138.75M460.44 131.99V138.75M460.74 129.98V138.75M461.04 129.4V138.75M461.34 132.41V138.75M461.64 135.73V138.75M461.94 138.69V138.75" stroke="#16785a" stroke-width="0.45" fill="none"/>
<path d="M456.95,144.58h0.6M458.41,137.65h0.6M461.62,142.57h0.6M463.96,151.61h0.6" stroke="#16785a" stroke-width="0.6" fill="none"/>
<path d="M456.51,138.75H465.28" stroke="#ffffff" stroke-width="0.45" fill="none" opacity="0.8"/>
<path d="M465.42 134.95V143.26M465.71 136.35V143.39M466.01 136.57V143.33M466.3 135.95V144.94M466.59 136.24V143.99M466.88 136.24V142.53M467.18 135.76V144.48M467.47 135.07V143.31M467.76 136.48V142.57M468.05 136.13V145.33M468.34 135.17V143.57M468.64 136.33V143.12M468.93 136.31V142.81M469.22 136.05V142.96M469.51 135.18V144.09M469.81 135.42V142.9M470.1 136.68V144.08M470.39 136.17V144.95M470.68 135.6V144.95M470.98 136.19V142.94M471.27 136.04V144.23M471.56 136.72V143.3M471.85 135.62V142.48M472.14 135.68V143.76M472.44 136.81V143.67M472.73 134.95V143.97M473.02 135.44V144.12M466.06 139.38V139.38M466.36 131.65V139.38M466.66 125.81V139.38M466.96 117.52V139.38M467.26 124.43V139.38M467.56 127.62V139.38M467.86 136.38V139.38M469.06 139.38V139.38M469.36 133.29V139.38M469.66 128.55V139.38M469.96 124.03V139.38M470.26 122.86V139.38M470.56 127.76V139.38M470.86 131.07V139.38M471.16 137.21V139.38" stroke="#d8431a" stroke-width="0.45" fill="none"/>
<path d="M466.01,144.44h0.6M468.34,151.61h0.6M468.64,138.02h0.6M470.39,136.42h0.6M472.73,132.76h0.6" stroke="#d8431a" stroke-width="0.6" fill="none"/>
<path d="M465.28,139.38H473.17" stroke="#ffffff" stroke-width="0.45" fill="none" opacity="0.8"/>
<path d="M473.31 139.1V144.12M473.61 139.09V143.52M473.9 139.65V143.73M474.19 139.82V144.48M474.48 139.56V144.22M474.77 139.11V143.4M475.07 139.82V143.11M475.36 138.91V143.33M475.65 139.77V143.28M475.94 139.79V144.45M476.24 139.69V144.22M476.53 139.25V143.8M476.82 139.44V144.26M477.11 139.85V144.42M477.41 139.23V143.16M477.7 139.91V144.36M477.99 138.93V143.67M478.28 139.72V143.99M478.57 139.47V143.45M478.87 139.11V143.36M479.16 138.85V143.5M479.45 139.79V143.9M479.74 139.67V144.37M480.04 139.65V144.29M480.33 138.96V143.78M480.62 139.29V144.08" stroke="#44449e" stroke-width="0.45" fill="none"/>
<path d="M474.19,148.57h0.6M474.77,140.62h0.6M475.07,147.47h0.6M475.94,141.51h0.6" stroke="#44449e" stroke-width="0.6" fill="none"/>
<path d="M473.17,141.45H480.77" stroke="#ffffff" stroke-width="0.45" fill="none" opacity="0.8"/>
<path d="M480.91 138.62V146.12M481.2 139.45V146.93M481.49 139.74V146.87M481.77 139.55V147.24M482.06 138.57V144.73M482.35 139.88V146.53M482.63 139.89V146.39M482.92 138.88V147.03M483.21 139.99V147.2M483.5 138.92V146.68M483.78 139.66V145.93M484.07 140.01V144.95M484.36 138.62V145.46M484.65 139.75V145.73M484.93 138.84V145.05M485.22 139.46V144.97M485.51 139.47V147.03M485.8 138.62V147.16M486.08 139.75V145.35M486.37 139.97V144.87" stroke="#cf1d78" stroke-width="0.45" fill="none"/>
<path d="M481.77,133.02h0.6M483.5,134.21h0.6M484.36,145.7h0.6" stroke="#cf1d78" stroke-width="0.6" fill="none"/>
<path d="M480.77,142.2H486.51" stroke="#ffffff" stroke-width="0.45" fill="none" opacity="0.8"/>
<path d="M486.66 136.73V142.21M486.95 136.54V141.47M487.25 136.74V142.48M487.54 136.28V143.36M487.83 137.07V142.2M488.12 136.97V143.34M488.41 137.32V142.22M488.71 136.65V141.46M489 136.65V141.92M489.29 137.24V141.9M489.58 136.41V143.07M489.88 136.53V141.54M490.17 136.74V142.68M490.46 137.53V143.34M490.75 136.79V143.1M491.05 137.19V143.39M491.34 136.98V142.87M491.63 136.77V142.19M491.92 137.06V142.74M492.21 137.2V142.48M492.51 136.23V141.94M488.66 139.38V139.38M488.96 137.08V139.38M489.26 135.08V139.38M489.56 133.7V139.38M489.86 135.3V139.38M490.16 136.44V139.38M490.46 139.05V139.38" stroke="#379837" stroke-width="0.45" fill="none"/>
<path d="M489.29,139.18h0.6" stroke="#379837" stroke-width="0.6" fill="none"/>
<path d="M486.51,139.38H492.65" stroke="#ffffff" stroke-width="0.45" fill="none" opacity="0.8"/>
<path d="M492.8 135.66V140.95M493.09 136.14V140.45M493.38 135.51V140.84M493.68 135.21V141.62M493.97 136.21V141.48M494.26 136.24V140.47M494.55 135.67V141.45M494.85 135.84V140.19M495.14 135.77V141.26M495.43 135.35V141.45M495.72 135.88V141.23M496.01 135.87V140.45M496.31 136.36V140.7M496.6 136.3V141.03M496.89 136V141.3M497.18 135.25V140.46" stroke="#16785a" stroke-width="0.45" fill="none"/>
<path d="M493.68,146.07h0.6M495.43,132.97h0.6M497.18,145.4h0.6" stroke="#16785a" stroke-width="0.6" fill="none"/>
<path d="M492.65,138.13H497.33" stroke="#ffffff" stroke-width="0.45" fill="none" opacity="0.8"/>
<path d="M497.48 132.85V137.65M497.77 132.92V138.41M498.06 132.93V138.08M498.35 132.87V137.82M498.64 132.95V138.77M498.94 132.14V138.33M499.23 132.44V139.07M499.52 132.98V138.49M499.81 132.74V138.24M500.11 133.43V138.66M500.4 132.79V138.12M500.69 132.78V138.03M500.98 132.75V138.08M501.28 132.5V138.79M501.57 133.4V138.01M501.86 132.36V138.29M502.15 133.14V137.5" stroke="#d8431a" stroke-width="0.45" fill="none"/>
<path d="M497.77,144.21h0.6M499.52,135.12h0.6M502.15,140.58h0.6" stroke="#d8431a" stroke-width="0.6" fill="none"/>
<path d="M497.33,135.3H502.3" stroke="#ffffff" stroke-width="0.45" fill="none" opacity="0.8"/>
<path d="M502.44 141.12V145.2M502.73 140.51V144.15M503.02 141.17V144.73M503.31 140.61V144.64M503.61 140.31V145.2M503.9 140.68V144.53M504.19 140.89V144.43M504.48 140.64V145.26M504.77 141.18V144.65M505.06 140.38V145.27M505.35 141.01V144.42M505.64 140.83V144.81M505.93 140.61V144.74M506.22 141.01V145.18M506.51 141.18V144.83M506.8 140.79V144.8M507.09 140.94V144.51M507.38 140.48V144.47M507.67 140.74V144.88M507.96 140.3V144.68M508.25 140.32V144.15M508.54 141.04V144.89M508.83 140.38V144.84M509.12 140.51V145M509.41 140.35V144.36M509.7 141.13V144.21M509.99 140.79V145.39M510.28 140.28V144.42M510.58 141.17V144.29M510.87 140.35V144.14M511.16 140.61V144.39M511.45 139.14V143.05M511.74 138.39V142.72M512.03 138.24V143.4M512.32 138.89V142.32M512.61 138.71V142.58M512.9 138.51V142.92M513.19 139.19V143.22M513.48 138.3V142.44M513.77 138.73V143.6M514.06 138.49V142.75M514.35 139.21V143.59M514.64 138.65V143.49M514.93 139.16V142.4M515.22 135.78V140.86M515.51 136.68V140.91M515.8 136.33V140.97M516.09 136.66V140.53M516.38 136.44V140.25M516.67 135.85V139.88M516.96 136.1V139.74M517.25 136.2V140.45" stroke="#44449e" stroke-width="0.45" fill="none"/>
<path d="M502.44,142.49h0.6M503.61,148.22h0.6M503.9,139.98h0.6M505.35,142.79h0.6M507.96,148.32h0.6M508.25,140.66h0.6M509.41,140.62h0.6M512.61,142.02h0.6M516.96,145.68h0.6M517.25,140.29h0.6" stroke="#44449e" stroke-width="0.6" fill="none"/>
<path d="M502.3,142.59H511.36M511.36,140.73H515.13M515.13,138.13H517.4" stroke="#ffffff" stroke-width="0.45" fill="none" opacity="0.8"/>
<line x1="246.06" x2="246.06" y1="112.5" y2="152.5" stroke="#333" stroke-width="0.7"/>
<line x1="269.74" x2="269.74" y1="112.5" y2="152.5" stroke="#333" stroke-width="0.7"/>
<line x1="289.03" x2="289.03" y1="112.5" y2="152.5" stroke="#333" stroke-width="0.7"/>
<line x1="307.64" x2="307.64" y1="112.5" y2="152.5" stroke="#333" stroke-width="0.7"/>
<line x1="325.27" x2="325.27" y1="112.5" y2="152.5" stroke="#333" stroke-width="0.7"/>
<line x1="341.93" x2="341.93" y1="112.5" y2="152.5" stroke="#333" stroke-width="0.7"/>
<line x1="357.42" x2="357.42" y1="112.5" y2="152.5" stroke="#333" stroke-width="0.7"/>
<line x1="371.65" x2="371.65" y1="112.5" y2="152.5" stroke="#333" stroke-width="0.7"/>
<line x1="385.38" x2="385.38" y1="112.5" y2="152.5" stroke="#333" stroke-width="0.7"/>
<line x1="398.63" x2="398.63" y1="112.5" y2="152.5" stroke="#333" stroke-width="0.7"/>
<line x1="411.79" x2="411.79" y1="112.5" y2="152.5" stroke="#333" stroke-width="0.7"/>
<line x1="424.84" x2="424.84" y1="112.5" y2="152.5" stroke="#333" stroke-width="0.7"/>
<line x1="436.05" x2="436.05" y1="112.5" y2="152.5" stroke="#333" stroke-width="0.7"/>
<line x1="446.47" x2="446.47" y1="112.5" y2="152.5" stroke="#333" stroke-width="0.7"/>
<line x1="456.51" x2="456.51" y1="112.5" y2="152.5" stroke="#333" stroke-width="0.7"/>
<line x1="465.28" x2="465.28" y1="112.5" y2="152.5" stroke="#333" stroke-width="0.7"/>
<line x1="473.17" x2="473.17" y1="112.5" y2="152.5" stroke="#333" stroke-width="0.7"/>
<line x1="480.77" x2="480.77" y1="112.5" y2="152.5" stroke="#333" stroke-width="0.7"/>
<line x1="486.51" x2="486.51" y1="112.5" y2="152.5" stroke="#333" stroke-width="0.7"/>
<line x1="492.65" x2="492.65" y1="112.5" y2="152.5" stroke="#333" stroke-width="0.7"/>
<line x1="497.33" x2="497.33" y1="112.5" y2="152.5" stroke="#333" stroke-width="0.7"/>
<line x1="502.3" x2="502.3" y1="112.5" y2="152.5" stroke="#333" stroke-width="0.7"/>
<rect x="221.8" y="112.5" width="295.6" height="40" fill="none" stroke="#333" stroke-width="0.8"/>
<line x1="233.93" x2="233.93" y1="152.5" y2="153.7" stroke="#333" stroke-width="0.5"/>
<text x="233.93" y="158.7" font-size="5.1" fill="#333" text-anchor="middle" dominant-baseline="central" transform="rotate(-60 233.93 158.7)">1</text>
<line x1="257.9" x2="257.9" y1="152.5" y2="153.7" stroke="#333" stroke-width="0.5"/>
<text x="257.9" y="158.7" font-size="5.1" fill="#333" text-anchor="middle" dominant-baseline="central" transform="rotate(-60 257.9 158.7)">2</text>
<line x1="279.38" x2="279.38" y1="152.5" y2="153.7" stroke="#333" stroke-width="0.5"/>
<text x="279.38" y="158.7" font-size="5.1" fill="#333" text-anchor="middle" dominant-baseline="central" transform="rotate(-60 279.38 158.7)">3</text>
<line x1="298.33" x2="298.33" y1="152.5" y2="153.7" stroke="#333" stroke-width="0.5"/>
<text x="298.33" y="158.7" font-size="5.1" fill="#333" text-anchor="middle" dominant-baseline="central" transform="rotate(-60 298.33 158.7)">4</text>
<line x1="316.45" x2="316.45" y1="152.5" y2="153.7" stroke="#333" stroke-width="0.5"/>
<text x="316.45" y="158.7" font-size="5.1" fill="#333" text-anchor="middle" dominant-baseline="central" transform="rotate(-60 316.45 158.7)">5</text>
<line x1="333.6" x2="333.6" y1="152.5" y2="153.7" stroke="#333" stroke-width="0.5"/>
<text x="333.6" y="158.7" font-size="5.1" fill="#333" text-anchor="middle" dominant-baseline="central" transform="rotate(-60 333.6 158.7)">6</text>
<line x1="349.68" x2="349.68" y1="152.5" y2="153.7" stroke="#333" stroke-width="0.5"/>
<text x="349.68" y="158.7" font-size="5.1" fill="#333" text-anchor="middle" dominant-baseline="central" transform="rotate(-60 349.68 158.7)">7</text>
<line x1="364.53" x2="364.53" y1="152.5" y2="153.7" stroke="#333" stroke-width="0.5"/>
<text x="364.53" y="158.7" font-size="5.1" fill="#333" text-anchor="middle" dominant-baseline="central" transform="rotate(-60 364.53 158.7)">8</text>
<line x1="378.51" x2="378.51" y1="152.5" y2="153.7" stroke="#333" stroke-width="0.5"/>
<text x="378.51" y="158.7" font-size="5.1" fill="#333" text-anchor="middle" dominant-baseline="central" transform="rotate(-60 378.51 158.7)">9</text>
<line x1="392.01" x2="392.01" y1="152.5" y2="153.7" stroke="#333" stroke-width="0.5"/>
<text x="392.01" y="158.7" font-size="5.1" fill="#333" text-anchor="middle" dominant-baseline="central" transform="rotate(-60 392.01 158.7)">10</text>
<line x1="405.21" x2="405.21" y1="152.5" y2="153.7" stroke="#333" stroke-width="0.5"/>
<text x="405.21" y="158.7" font-size="5.1" fill="#333" text-anchor="middle" dominant-baseline="central" transform="rotate(-60 405.21 158.7)">11</text>
<line x1="418.31" x2="418.31" y1="152.5" y2="153.7" stroke="#333" stroke-width="0.5"/>
<text x="418.31" y="158.7" font-size="5.1" fill="#333" text-anchor="middle" dominant-baseline="central" transform="rotate(-60 418.31 158.7)">12</text>
<line x1="430.44" x2="430.44" y1="152.5" y2="153.7" stroke="#333" stroke-width="0.5"/>
<text x="430.44" y="158.7" font-size="5.1" fill="#333" text-anchor="middle" dominant-baseline="central" transform="rotate(-60 430.44 158.7)">13</text>
<line x1="441.26" x2="441.26" y1="152.5" y2="153.7" stroke="#333" stroke-width="0.5"/>
<text x="441.26" y="158.7" font-size="5.1" fill="#333" text-anchor="middle" dominant-baseline="central" transform="rotate(-60 441.26 158.7)">14</text>
<line x1="451.49" x2="451.49" y1="152.5" y2="153.7" stroke="#333" stroke-width="0.5"/>
<text x="451.49" y="158.7" font-size="5.1" fill="#333" text-anchor="middle" dominant-baseline="central" transform="rotate(-60 451.49 158.7)">15</text>
<line x1="460.89" x2="460.89" y1="152.5" y2="153.7" stroke="#333" stroke-width="0.5"/>
<text x="460.89" y="158.7" font-size="5.1" fill="#333" text-anchor="middle" dominant-baseline="central" transform="rotate(-60 460.89 158.7)">16</text>
<line x1="469.22" x2="469.22" y1="152.5" y2="153.7" stroke="#333" stroke-width="0.5"/>
<text x="469.22" y="158.7" font-size="5.1" fill="#333" text-anchor="middle" dominant-baseline="central" transform="rotate(-60 469.22 158.7)">17</text>
<line x1="476.97" x2="476.97" y1="152.5" y2="153.7" stroke="#333" stroke-width="0.5"/>
<text x="476.97" y="158.7" font-size="5.1" fill="#333" text-anchor="middle" dominant-baseline="central" transform="rotate(-60 476.97 158.7)">18</text>
<line x1="483.64" x2="483.64" y1="152.5" y2="153.7" stroke="#333" stroke-width="0.5"/>
<text x="483.64" y="158.7" font-size="5.1" fill="#333" text-anchor="middle" dominant-baseline="central" transform="rotate(-60 483.64 158.7)">19</text>
<line x1="489.58" x2="489.58" y1="152.5" y2="153.7" stroke="#333" stroke-width="0.5"/>
<text x="489.58" y="158.7" font-size="5.1" fill="#333" text-anchor="middle" dominant-baseline="central" transform="rotate(-60 489.58 158.7)">20</text>
<line x1="494.99" x2="494.99" y1="152.5" y2="153.7" stroke="#333" stroke-width="0.5"/>
<text x="494.99" y="158.7" font-size="5.1" fill="#333" text-anchor="middle" dominant-baseline="central" transform="rotate(-60 494.99 158.7)">21</text>
<line x1="499.81" x2="499.81" y1="152.5" y2="153.7" stroke="#333" stroke-width="0.5"/>
<text x="499.81" y="158.7" font-size="5.1" fill="#333" text-anchor="middle" dominant-baseline="central" transform="rotate(-60 499.81 158.7)">22</text>
<line x1="509.85" x2="509.85" y1="152.5" y2="153.7" stroke="#333" stroke-width="0.5"/>
<text x="509.85" y="158.7" font-size="5.1" fill="#333" text-anchor="middle" dominant-baseline="central" transform="rotate(-60 509.85 158.7)">X</text>
<text x="220.1" y="115.7" font-size="4.9" fill="#444" text-anchor="end">16</text>
<line x1="220.6" x2="221.8" y1="114.1" y2="114.1" stroke="#333" stroke-width="0.5"/>
<text x="220.1" y="121.52" font-size="4.9" fill="#444" text-anchor="end">12</text>
<line x1="220.6" x2="221.8" y1="119.92" y2="119.92" stroke="#333" stroke-width="0.5"/>
<text x="220.1" y="128.43" font-size="4.9" fill="#444" text-anchor="end">8</text>
<line x1="220.6" x2="221.8" y1="126.83" y2="126.83" stroke="#333" stroke-width="0.5"/>
<text x="220.1" y="137.43" font-size="4.9" fill="#444" text-anchor="end">4</text>
<line x1="220.6" x2="221.8" y1="135.83" y2="135.83" stroke="#333" stroke-width="0.5"/>
<text x="220.1" y="143.8" font-size="4.9" fill="#444" text-anchor="end">2</text>
<line x1="220.6" x2="221.8" y1="142.2" y2="142.2" stroke="#333" stroke-width="0.5"/>
<text x="220.1" y="148.3" font-size="4.9" fill="#444" text-anchor="end">1</text>
<line x1="220.6" x2="221.8" y1="146.7" y2="146.7" stroke="#333" stroke-width="0.5"/>
<text x="210.6" y="139.27" font-size="5.0" fill="#444" text-anchor="middle" transform="rotate(-90 210.6 139.27)">Copies</text>
<text x="363.2" y="107.7" font-size="8.2" fill="#222" text-anchor="middle">OS384_21R</text>
<defs><pattern id="pg1" x="97.8" y="245.8" width="4.84" height="5.45" patternUnits="userSpaceOnUse"><rect width="3.8" height="4.0" fill="#f5f6f9"/></pattern><pattern id="pg2" x="97.8" y="417.5" width="4.84" height="5.5" patternUnits="userSpaceOnUse"><rect width="3.8" height="4.0" fill="#f5f6f9"/></pattern></defs>
<rect x="97.8" y="245.8" width="304.92" height="168.95" fill="url(#pg1)"/>
<rect x="97.8" y="417.5" width="304.92" height="38.5" fill="url(#pg2)"/>
<rect x="97.8" y="245.8" width="3.8" height="4" fill="#fce0a3"/>
<rect x="102.64" y="245.8" width="3.8" height="4" fill="#d3302a"/>
<rect x="107.48" y="245.8" width="3.8" height="4" fill="#fce0a3"/>
<rect x="112.32" y="245.8" width="3.8" height="4" fill="#d3302a"/>
<rect x="117.16" y="245.8" width="3.8" height="4" fill="#d3302a"/>
<rect x="122" y="245.8" width="3.8" height="4" fill="#fce0a3"/>
<rect x="126.84" y="245.8" width="3.8" height="4" fill="#9b1a2c"/>
<rect x="131.68" y="245.8" width="3.8" height="4" fill="#9b1a2c"/>
<rect x="136.52" y="245.8" width="3.8" height="4" fill="#d3302a"/>
<rect x="141.36" y="245.8" width="3.8" height="4" fill="#fce0a3"/>
<rect x="146.2" y="245.8" width="3.8" height="4" fill="#fce0a3"/>
<rect x="151.04" y="245.8" width="3.8" height="4" fill="#fce0a3"/>
<rect x="155.88" y="245.8" width="3.8" height="4" fill="#d3302a"/>
<rect x="160.72" y="245.8" width="3.8" height="4" fill="#d3302a"/>
<rect x="165.56" y="245.8" width="3.8" height="4" fill="#9b1a2c"/>
<rect x="170.4" y="245.8" width="3.8" height="4" fill="#fce0a3"/>
<rect x="175.24" y="245.8" width="3.8" height="4" fill="#fce0a3"/>
<rect x="180.08" y="245.8" width="3.8" height="4" fill="#d3302a"/>
<rect x="184.92" y="245.8" width="3.8" height="4" fill="#fce0a3"/>
<rect x="189.76" y="245.8" width="3.8" height="4" fill="#9b1a2c"/>
<rect x="194.6" y="245.8" width="3.8" height="4" fill="#9b1a2c"/>
<rect x="199.44" y="245.8" width="3.8" height="4" fill="#9b1a2c"/>
<rect x="204.28" y="245.8" width="3.8" height="4" fill="#fce0a3"/>
<rect x="209.12" y="245.8" width="3.8" height="4" fill="#fce0a3"/>
<rect x="218.8" y="245.8" width="3.8" height="4" fill="#fce0a3"/>
<rect x="223.64" y="245.8" width="3.8" height="4" fill="#fce0a3"/>
<rect x="97.8" y="251.25" width="3.8" height="4" fill="#fce0a3"/>
<rect x="102.64" y="251.25" width="3.8" height="4" fill="#fce0a3"/>
<rect x="107.48" y="251.25" width="3.8" height="4" fill="#fce0a3"/>
<rect x="112.32" y="251.25" width="3.8" height="4" fill="#fce0a3"/>
<rect x="117.16" y="251.25" width="3.8" height="4" fill="#d3302a"/>
<rect x="122" y="251.25" width="3.8" height="4" fill="#fce0a3"/>
<rect x="126.84" y="251.25" width="3.8" height="4" fill="#d3302a"/>
<rect x="131.68" y="251.25" width="3.8" height="4" fill="#fce0a3"/>
<rect x="136.52" y="251.25" width="3.8" height="4" fill="#fce0a3"/>
<rect x="141.36" y="251.25" width="3.8" height="4" fill="#fce0a3"/>
<rect x="146.2" y="251.25" width="3.8" height="4" fill="#d3302a"/>
<rect x="151.04" y="251.25" width="3.8" height="4" fill="#fce0a3"/>
<rect x="155.88" y="251.25" width="3.8" height="4" fill="#fce0a3"/>
<rect x="160.72" y="251.25" width="3.8" height="4" fill="#fce0a3"/>
<rect x="213.96" y="251.25" width="3.8" height="4" fill="#9b1a2c"/>
<rect x="228.48" y="251.25" width="3.8" height="4" fill="#fce0a3"/>
<rect x="233.32" y="251.25" width="3.8" height="4" fill="#9b1a2c"/>
<rect x="238.16" y="251.25" width="3.8" height="4" fill="#fce0a3"/>
<rect x="243" y="251.25" width="3.8" height="4" fill="#fce0a3"/>
<rect x="252.68" y="251.25" width="3.8" height="4" fill="#fce0a3"/>
<rect x="257.52" y="251.25" width="3.8" height="4" fill="#fce0a3"/>
<rect x="262.36" y="251.25" width="3.8" height="4" fill="#fce0a3"/>
<rect x="267.2" y="251.25" width="3.8" height="4" fill="#fce0a3"/>
<rect x="272.04" y="251.25" width="3.8" height="4" fill="#fce0a3"/>
<rect x="276.88" y="251.25" width="3.8" height="4" fill="#fce0a3"/>
<rect x="286.56" y="251.25" width="3.8" height="4" fill="#9b1a2c"/>
<rect x="291.4" y="251.25" width="3.8" height="4" fill="#d3302a"/>
<rect x="97.8" y="256.7" width="3.8" height="4" fill="#fce0a3"/>
<rect x="102.64" y="256.7" width="3.8" height="4" fill="#fce0a3"/>
<rect x="107.48" y="256.7" width="3.8" height="4" fill="#fce0a3"/>
<rect x="112.32" y="256.7" width="3.8" height="4" fill="#fce0a3"/>
<rect x="117.16" y="256.7" width="3.8" height="4" fill="#d3302a"/>
<rect x="122" y="256.7" width="3.8" height="4" fill="#fce0a3"/>
<rect x="126.84" y="256.7" width="3.8" height="4" fill="#d3302a"/>
<rect x="131.68" y="256.7" width="3.8" height="4" fill="#fce0a3"/>
<rect x="136.52" y="256.7" width="3.8" height="4" fill="#fce0a3"/>
<rect x="141.36" y="256.7" width="3.8" height="4" fill="#fce0a3"/>
<rect x="146.2" y="256.7" width="3.8" height="4" fill="#fce0a3"/>
<rect x="151.04" y="256.7" width="3.8" height="4" fill="#fce0a3"/>
<rect x="155.88" y="256.7" width="3.8" height="4" fill="#fce0a3"/>
<rect x="160.72" y="256.7" width="3.8" height="4" fill="#fce0a3"/>
<rect x="228.48" y="256.7" width="3.8" height="4" fill="#fce0a3"/>
<rect x="233.32" y="256.7" width="3.8" height="4" fill="#fce0a3"/>
<rect x="238.16" y="256.7" width="3.8" height="4" fill="#d3302a"/>
<rect x="243" y="256.7" width="3.8" height="4" fill="#fce0a3"/>
<rect x="252.68" y="256.7" width="3.8" height="4" fill="#fce0a3"/>
<rect x="257.52" y="256.7" width="3.8" height="4" fill="#fce0a3"/>
<rect x="262.36" y="256.7" width="3.8" height="4" fill="#fce0a3"/>
<rect x="267.2" y="256.7" width="3.8" height="4" fill="#fce0a3"/>
<rect x="272.04" y="256.7" width="3.8" height="4" fill="#fce0a3"/>
<rect x="276.88" y="256.7" width="3.8" height="4" fill="#fce0a3"/>
<rect x="281.72" y="256.7" width="3.8" height="4" fill="#9b1a2c"/>
<rect x="286.56" y="256.7" width="3.8" height="4" fill="#fce0a3"/>
<rect x="97.8" y="262.15" width="3.8" height="4" fill="#fce0a3"/>
<rect x="107.48" y="262.15" width="3.8" height="4" fill="#9b1a2c"/>
<rect x="112.32" y="262.15" width="3.8" height="4" fill="#9b1a2c"/>
<rect x="117.16" y="262.15" width="3.8" height="4" fill="#fce0a3"/>
<rect x="131.68" y="262.15" width="3.8" height="4" fill="#9b1a2c"/>
<rect x="160.72" y="262.15" width="3.8" height="4" fill="#9b1a2c"/>
<rect x="170.4" y="262.15" width="3.8" height="4" fill="#fce0a3"/>
<rect x="175.24" y="262.15" width="3.8" height="4" fill="#d3302a"/>
<rect x="180.08" y="262.15" width="3.8" height="4" fill="#fce0a3"/>
<rect x="184.92" y="262.15" width="3.8" height="4" fill="#fce0a3"/>
<rect x="189.76" y="262.15" width="3.8" height="4" fill="#9b1a2c"/>
<rect x="194.6" y="262.15" width="3.8" height="4" fill="#9b1a2c"/>
<rect x="199.44" y="262.15" width="3.8" height="4" fill="#9b1a2c"/>
<rect x="228.48" y="262.15" width="3.8" height="4" fill="#fce0a3"/>
<rect x="247.84" y="262.15" width="3.8" height="4" fill="#9b1a2c"/><rect x="248.19" y="262.5" width="3.1" height="3.3" fill="none" stroke="#222" stroke-width="0.8" stroke-dasharray="1.1 0.7"/>
<rect x="291.4" y="262.15" width="3.8" height="4" fill="#9b1a2c"/>
<rect x="296.24" y="262.15" width="3.8" height="4" fill="#fce0a3"/>
<rect x="310.76" y="262.15" width="3.8" height="4" fill="#9b1a2c"/>
<rect x="315.6" y="262.15" width="3.8" height="4" fill="#9b1a2c"/>
<rect x="320.44" y="262.15" width="3.8" height="4" fill="#9b1a2c"/>
<rect x="325.28" y="262.15" width="3.8" height="4" fill="#fce0a3"/>
<rect x="330.12" y="262.15" width="3.8" height="4" fill="#d3302a"/>
<rect x="97.8" y="267.6" width="3.8" height="4" fill="#fce0a3"/>
<rect x="102.64" y="267.6" width="3.8" height="4" fill="#9b1a2c"/>
<rect x="107.48" y="267.6" width="3.8" height="4" fill="#fce0a3"/>
<rect x="112.32" y="267.6" width="3.8" height="4" fill="#fce0a3"/>
<rect x="122" y="267.6" width="3.8" height="4" fill="#9b1a2c"/>
<rect x="126.84" y="267.6" width="3.8" height="4" fill="#9b1a2c"/>
<rect x="136.52" y="267.6" width="3.8" height="4" fill="#9b1a2c"/>
<rect x="141.36" y="267.6" width="3.8" height="4" fill="#fce0a3"/>
<rect x="170.4" y="267.6" width="3.8" height="4" fill="#fce0a3"/>
<rect x="204.28" y="267.6" width="3.8" height="4" fill="#fce0a3"/>
<rect x="233.32" y="267.6" width="3.8" height="4" fill="#fce0a3"/>
<rect x="238.16" y="267.6" width="3.8" height="4" fill="#fce0a3"/>
<rect x="243" y="267.6" width="3.8" height="4" fill="#9b1a2c"/>
<rect x="296.24" y="267.6" width="3.8" height="4" fill="#d3302a"/>
<rect x="301.08" y="267.6" width="3.8" height="4" fill="#d3302a"/>
<rect x="305.92" y="267.6" width="3.8" height="4" fill="#d3302a"/>
<rect x="310.76" y="267.6" width="3.8" height="4" fill="#d3302a"/>
<rect x="334.96" y="267.6" width="3.8" height="4" fill="#9b1a2c"/>
<rect x="339.8" y="267.6" width="3.8" height="4" fill="#d3302a"/>
<rect x="344.64" y="267.6" width="3.8" height="4" fill="#fce0a3"/>
<rect x="97.8" y="273.05" width="3.8" height="4" fill="#fce0a3"/>
<rect x="102.64" y="273.05" width="3.8" height="4" fill="#9b1a2c"/>
<rect x="107.48" y="273.05" width="3.8" height="4" fill="#fce0a3"/>
<rect x="122" y="273.05" width="3.8" height="4" fill="#9b1a2c"/>
<rect x="126.84" y="273.05" width="3.8" height="4" fill="#9b1a2c"/>
<rect x="136.52" y="273.05" width="3.8" height="4" fill="#9b1a2c"/>
<rect x="141.36" y="273.05" width="3.8" height="4" fill="#fce0a3"/>
<rect x="204.28" y="273.05" width="3.8" height="4" fill="#fce0a3"/>
<rect x="233.32" y="273.05" width="3.8" height="4" fill="#fce0a3"/>
<rect x="238.16" y="273.05" width="3.8" height="4" fill="#fce0a3"/>
<rect x="243" y="273.05" width="3.8" height="4" fill="#9b1a2c"/>
<rect x="296.24" y="273.05" width="3.8" height="4" fill="#d3302a"/><path d="M296.54,276.75L299.74,273.35" stroke="#151a2a" stroke-width="1.05"/>
<rect x="301.08" y="273.05" width="3.8" height="4" fill="#d3302a"/>
<rect x="305.92" y="273.05" width="3.8" height="4" fill="#d3302a"/><path d="M306.22,276.75L309.42,273.35" stroke="#151a2a" stroke-width="1.05"/>
<rect x="310.76" y="273.05" width="3.8" height="4" fill="#d3302a"/>
<rect x="334.96" y="273.05" width="3.8" height="4" fill="#d3302a"/>
<rect x="339.8" y="273.05" width="3.8" height="4" fill="#d3302a"/>
<rect x="344.64" y="273.05" width="3.8" height="4" fill="#d3302a"/>
<rect x="97.8" y="278.5" width="3.8" height="4" fill="#fce0a3"/>
<rect x="102.64" y="278.5" width="3.8" height="4" fill="#9b1a2c"/>
<rect x="107.48" y="278.5" width="3.8" height="4" fill="#fce0a3"/>
<rect x="122" y="278.5" width="3.8" height="4" fill="#9b1a2c"/>
<rect x="126.84" y="278.5" width="3.8" height="4" fill="#9b1a2c"/>
<rect x="136.52" y="278.5" width="3.8" height="4" fill="#9b1a2c"/>
<rect x="141.36" y="278.5" width="3.8" height="4" fill="#fce0a3"/>
<rect x="204.28" y="278.5" width="3.8" height="4" fill="#fce0a3"/>
<rect x="233.32" y="278.5" width="3.8" height="4" fill="#fce0a3"/>
<rect x="238.16" y="278.5" width="3.8" height="4" fill="#fce0a3"/>
<rect x="243" y="278.5" width="3.8" height="4" fill="#fce0a3"/>
<rect x="296.24" y="278.5" width="3.8" height="4" fill="#d3302a"/>
<rect x="301.08" y="278.5" width="3.8" height="4" fill="#d3302a"/>
<rect x="305.92" y="278.5" width="3.8" height="4" fill="#d3302a"/>
<rect x="310.76" y="278.5" width="3.8" height="4" fill="#d3302a"/>
<rect x="334.96" y="278.5" width="3.8" height="4" fill="#d3302a"/>
<rect x="339.8" y="278.5" width="3.8" height="4" fill="#d3302a"/>
<rect x="344.64" y="278.5" width="3.8" height="4" fill="#fce0a3"/>
<rect x="97.8" y="283.95" width="3.8" height="4" fill="#fce0a3"/>
<rect x="102.64" y="283.95" width="3.8" height="4" fill="#d3302a"/>
<rect x="107.48" y="283.95" width="3.8" height="4" fill="#fce0a3"/>
<rect x="117.16" y="283.95" width="3.8" height="4" fill="#d3302a"/>
<rect x="122" y="283.95" width="3.8" height="4" fill="#fce0a3"/>
<rect x="126.84" y="283.95" width="3.8" height="4" fill="#fce0a3"/>
<rect x="136.52" y="283.95" width="3.8" height="4" fill="#fce0a3"/>
<rect x="151.04" y="283.95" width="3.8" height="4" fill="#fce0a3"/>
<rect x="160.72" y="283.95" width="3.8" height="4" fill="#fce0a3"/>
<rect x="165.56" y="283.95" width="3.8" height="4" fill="#fce0a3"/><path d="M165.86,287.65L169.06,284.25" stroke="#151a2a" stroke-width="1.05"/>
<circle cx="215.86" cy="285.95" r="1.1" fill="#151515"/>
<rect x="233.32" y="283.95" width="3.8" height="4" fill="#fce0a3"/>
<rect x="257.52" y="283.95" width="3.8" height="4" fill="#fce0a3"/>
<rect x="262.36" y="283.95" width="3.8" height="4" fill="#fce0a3"/>
<rect x="267.2" y="283.95" width="3.8" height="4" fill="#fce0a3"/>
<rect x="301.08" y="283.95" width="3.8" height="4" fill="#d3302a"/><path d="M301.38,287.65L304.58,284.25" stroke="#151a2a" stroke-width="1.05"/>
<circle cx="307.82" cy="285.95" r="1.1" fill="#151515"/>
<circle cx="351.38" cy="285.95" r="1.1" fill="#151515"/>
<rect x="97.8" y="289.4" width="3.8" height="4" fill="#9b1a2c"/>
<rect x="102.64" y="289.4" width="3.8" height="4" fill="#fce0a3"/>
<rect x="117.16" y="289.4" width="3.8" height="4" fill="#9b1a2c"/>
<rect x="122" y="289.4" width="3.8" height="4" fill="#fce0a3"/>
<rect x="126.84" y="289.4" width="3.8" height="4" fill="#fce0a3"/>
<rect x="131.68" y="289.4" width="3.8" height="4" fill="#9b1a2c"/>
<rect x="155.88" y="289.4" width="3.8" height="4" fill="#d3302a"/>
<rect x="165.56" y="289.4" width="3.8" height="4" fill="#d3302a"/>
<rect x="184.92" y="289.4" width="3.8" height="4" fill="#fce0a3"/>
<rect x="189.76" y="289.4" width="3.8" height="4" fill="#d3302a"/>
<rect x="209.12" y="289.4" width="3.8" height="4" fill="#fce0a3"/>
<rect x="218.8" y="289.4" width="3.8" height="4" fill="#fce0a3"/>
<rect x="320.44" y="289.4" width="3.8" height="4" fill="#d3302a"/>
<rect x="334.96" y="289.4" width="3.8" height="4" fill="#d3302a"/>
<rect x="339.8" y="289.4" width="3.8" height="4" fill="#d3302a"/>
<rect x="354.67" y="289.75" width="3.1" height="3.3" fill="none" stroke="#222" stroke-width="0.8" stroke-dasharray="1.1 0.7"/>
<rect x="112.32" y="294.85" width="3.8" height="4" fill="#fce0a3"/>
<rect x="117.16" y="294.85" width="3.8" height="4" fill="#fce0a3"/>
<rect x="122" y="294.85" width="3.8" height="4" fill="#fce0a3"/>
<rect x="141.36" y="294.85" width="3.8" height="4" fill="#9b1a2c"/>
<rect x="151.04" y="294.85" width="3.8" height="4" fill="#fce0a3"/>
<rect x="165.56" y="294.85" width="3.8" height="4" fill="#fce0a3"/>
<rect x="175.59" y="295.2" width="3.1" height="3.3" fill="none" stroke="#222" stroke-width="0.8" stroke-dasharray="1.1 0.7"/>
<rect x="184.92" y="294.85" width="3.8" height="4" fill="#d3302a"/>
<rect x="194.6" y="294.85" width="3.8" height="4" fill="#fce0a3"/>
<rect x="218.8" y="294.85" width="3.8" height="4" fill="#fce0a3"/>
<rect x="238.16" y="294.85" width="3.8" height="4" fill="#fce0a3"/>
<path d="M248.14,298.55L251.34,295.15" stroke="#151a2a" stroke-width="1.05"/>
<rect x="267.2" y="294.85" width="3.8" height="4" fill="#fce0a3"/>
<rect x="272.04" y="294.85" width="3.8" height="4" fill="#fce0a3"/>
<rect x="276.88" y="294.85" width="3.8" height="4" fill="#fce0a3"/>
<rect x="310.76" y="294.85" width="3.8" height="4" fill="#fce0a3"/>
<rect x="97.8" y="300.3" width="3.8" height="4" fill="#d3302a"/>
<rect x="102.64" y="300.3" width="3.8" height="4" fill="#fce0a3"/>
<rect x="117.16" y="300.3" width="3.8" height="4" fill="#fce0a3"/>
<rect x="146.2" y="300.3" width="3.8" height="4" fill="#fce0a3"/>
<rect x="151.04" y="300.3" width="3.8" height="4" fill="#d3302a"/>
<rect x="165.56" y="300.3" width="3.8" height="4" fill="#fce0a3"/>
<rect x="170.4" y="300.3" width="3.8" height="4" fill="#fce0a3"/>
<rect x="180.08" y="300.3" width="3.8" height="4" fill="#fce0a3"/>
<rect x="252.68" y="300.3" width="3.8" height="4" fill="#fce0a3"/>
<rect x="320.44" y="300.3" width="3.8" height="4" fill="#fce0a3"/>
<rect x="368.84" y="300.3" width="3.8" height="4" fill="#9b1a2c"/>
<rect x="97.8" y="305.75" width="3.8" height="4" fill="#fce0a3"/>
<rect x="102.64" y="305.75" width="3.8" height="4" fill="#fce0a3"/><path d="M102.94,309.45L106.14,306.05" stroke="#151a2a" stroke-width="1.05"/>
<rect x="117.16" y="305.75" width="3.8" height="4" fill="#fce0a3"/>
<rect x="122" y="305.75" width="3.8" height="4" fill="#fce0a3"/><path d="M122.3,309.45L125.5,306.05" stroke="#151a2a" stroke-width="1.05"/>
<path d="M146.5,309.45L149.7,306.05" stroke="#151a2a" stroke-width="1.05"/>
<rect x="151.04" y="305.75" width="3.8" height="4" fill="#d3302a"/>
<rect x="165.56" y="305.75" width="3.8" height="4" fill="#fce0a3"/>
<rect x="170.4" y="305.75" width="3.8" height="4" fill="#fce0a3"/>
<circle cx="215.86" cy="307.75" r="1.1" fill="#151515"/>
<rect x="228.83" y="306.1" width="3.1" height="3.3" fill="none" stroke="#222" stroke-width="0.8" stroke-dasharray="1.1 0.7"/><path d="M228.78,309.45L231.98,306.05" stroke="#151a2a" stroke-width="1.05"/>
<rect x="257.87" y="306.1" width="3.1" height="3.3" fill="none" stroke="#222" stroke-width="0.8" stroke-dasharray="1.1 0.7"/>
<circle cx="298.14" cy="307.75" r="1.1" fill="#151515"/>
<rect x="320.44" y="305.75" width="3.8" height="4" fill="#fce0a3"/>
<rect x="368.84" y="305.75" width="3.8" height="4" fill="#9b1a2c"/>
<rect x="117.16" y="311.2" width="3.8" height="4" fill="#fce0a3"/>
<rect x="141.36" y="311.2" width="3.8" height="4" fill="#fce0a3"/>
<rect x="151.04" y="311.2" width="3.8" height="4" fill="#fce0a3"/>
<rect x="165.56" y="311.2" width="3.8" height="4" fill="#d3302a"/>
<rect x="184.92" y="311.2" width="3.8" height="4" fill="#d3302a"/>
<rect x="194.6" y="311.2" width="3.8" height="4" fill="#fce0a3"/>
<circle cx="215.86" cy="313.2" r="1.1" fill="#151515"/>
<rect x="238.16" y="311.2" width="3.8" height="4" fill="#fce0a3"/>
<rect x="267.2" y="311.2" width="3.8" height="4" fill="#fce0a3"/>
<rect x="272.04" y="311.2" width="3.8" height="4" fill="#fce0a3"/>
<rect x="276.88" y="311.2" width="3.8" height="4" fill="#fce0a3"/>
<rect x="310.76" y="311.2" width="3.8" height="4" fill="#fce0a3"/>
<rect x="344.64" y="311.2" width="3.8" height="4" fill="#fce0a3"/>
<rect x="97.8" y="316.65" width="3.8" height="4" fill="#fce0a3"/>
<rect x="102.64" y="316.65" width="3.8" height="4" fill="#9b1a2c"/>
<rect x="107.48" y="316.65" width="3.8" height="4" fill="#fce0a3"/>
<rect x="122" y="316.65" width="3.8" height="4" fill="#d3302a"/>
<rect x="126.84" y="316.65" width="3.8" height="4" fill="#fce0a3"/>
<rect x="136.52" y="316.65" width="3.8" height="4" fill="#fce0a3"/>
<rect x="141.36" y="316.65" width="3.8" height="4" fill="#fce0a3"/>
<rect x="233.32" y="316.65" width="3.8" height="4" fill="#d3302a"/>
<rect x="310.76" y="316.65" width="3.8" height="4" fill="#fce0a3"/>
<rect x="334.96" y="316.65" width="3.8" height="4" fill="#d3302a"/>
<rect x="339.8" y="316.65" width="3.8" height="4" fill="#d3302a"/>
<rect x="102.64" y="322.1" width="3.8" height="4" fill="#d3302a"/>
<rect x="122" y="322.1" width="3.8" height="4" fill="#fce0a3"/>
<rect x="126.84" y="322.1" width="3.8" height="4" fill="#9b1a2c"/>
<rect x="131.68" y="322.1" width="3.8" height="4" fill="#fce0a3"/>
<rect x="141.36" y="322.1" width="3.8" height="4" fill="#fce0a3"/>
<rect x="272.04" y="322.1" width="3.8" height="4" fill="#fce0a3"/>
<rect x="276.88" y="322.1" width="3.8" height="4" fill="#fce0a3"/>
<rect x="281.72" y="322.1" width="3.8" height="4" fill="#fce0a3"/>
<rect x="296.24" y="322.1" width="3.8" height="4" fill="#fce0a3"/>
<rect x="301.08" y="322.1" width="3.8" height="4" fill="#9b1a2c"/>
<rect x="305.92" y="322.1" width="3.8" height="4" fill="#fce0a3"/>
<rect x="315.6" y="322.1" width="3.8" height="4" fill="#fce0a3"/>
<rect x="97.8" y="327.55" width="3.8" height="4" fill="#fce0a3"/>
<rect x="102.64" y="327.55" width="3.8" height="4" fill="#9b1a2c"/>
<rect x="117.16" y="327.55" width="3.8" height="4" fill="#9b1a2c"/>
<rect x="122" y="327.55" width="3.8" height="4" fill="#d3302a"/>
<rect x="146.2" y="327.55" width="3.8" height="4" fill="#fce0a3"/>
<rect x="170.4" y="327.55" width="3.8" height="4" fill="#fce0a3"/>
<rect x="189.76" y="327.55" width="3.8" height="4" fill="#fce0a3"/>
<rect x="194.6" y="327.55" width="3.8" height="4" fill="#fce0a3"/>
<rect x="334.96" y="327.55" width="3.8" height="4" fill="#d3302a"/>
<rect x="339.8" y="327.55" width="3.8" height="4" fill="#d3302a"/>
<rect x="117.16" y="333" width="3.8" height="4" fill="#fce0a3"/>
<rect x="151.04" y="333" width="3.8" height="4" fill="#9b1a2c"/>
<rect x="243" y="333" width="3.8" height="4" fill="#9b1a2c"/>
<rect x="281.72" y="333" width="3.8" height="4" fill="#9b1a2c"/>
<rect x="301.08" y="333" width="3.8" height="4" fill="#9b1a2c"/>
<rect x="344.64" y="333" width="3.8" height="4" fill="#d3302a"/>
<rect x="383.36" y="333" width="3.8" height="4" fill="#9b1a2c"/>
<path d="M98.1,342.15L101.3,338.75" stroke="#151a2a" stroke-width="1.05"/>
<rect x="117.16" y="338.45" width="3.8" height="4" fill="#fce0a3"/>
<rect x="151.04" y="338.45" width="3.8" height="4" fill="#d3302a"/>
<rect x="165.56" y="338.45" width="3.8" height="4" fill="#fce0a3"/>
<rect x="180.08" y="338.45" width="3.8" height="4" fill="#d3302a"/>
<rect x="315.95" y="338.8" width="3.1" height="3.3" fill="none" stroke="#222" stroke-width="0.8" stroke-dasharray="1.1 0.7"/><path d="M315.9,342.15L319.1,338.75" stroke="#151a2a" stroke-width="1.05"/>
<rect x="320.44" y="338.45" width="3.8" height="4" fill="#fce0a3"/>
<rect x="368.84" y="338.45" width="3.8" height="4" fill="#fce0a3"/>
<rect x="107.48" y="343.9" width="3.8" height="4" fill="#9b1a2c"/>
<rect x="112.32" y="343.9" width="3.8" height="4" fill="#fce0a3"/>
<rect x="160.72" y="343.9" width="3.8" height="4" fill="#9b1a2c"/>
<rect x="175.24" y="343.9" width="3.8" height="4" fill="#fce0a3"/>
<rect x="204.63" y="344.25" width="3.1" height="3.3" fill="none" stroke="#222" stroke-width="0.8" stroke-dasharray="1.1 0.7"/>
<rect x="248.19" y="344.25" width="3.1" height="3.3" fill="none" stroke="#222" stroke-width="0.8" stroke-dasharray="1.1 0.7"/>
<rect x="296.59" y="344.25" width="3.1" height="3.3" fill="none" stroke="#222" stroke-width="0.8" stroke-dasharray="1.1 0.7"/>
<rect x="334.96" y="343.9" width="3.8" height="4" fill="#fce0a3"/>
<rect x="393.04" y="343.9" width="3.8" height="4" fill="#fce0a3"/>
<rect x="107.48" y="349.35" width="3.8" height="4" fill="#d3302a"/>
<rect x="112.32" y="349.35" width="3.8" height="4" fill="#d3302a"/>
<rect x="160.72" y="349.35" width="3.8" height="4" fill="#9b1a2c"/>
<rect x="175.24" y="349.35" width="3.8" height="4" fill="#fce0a3"/>
<rect x="247.84" y="349.35" width="3.8" height="4" fill="#fce0a3"/>
<circle cx="307.82" cy="351.35" r="1.1" fill="#151515"/>
<circle cx="317.5" cy="351.35" r="1.1" fill="#151515"/>
<rect x="334.96" y="349.35" width="3.8" height="4" fill="#fce0a3"/>
<rect x="393.04" y="349.35" width="3.8" height="4" fill="#fce0a3"/>
<rect x="107.48" y="354.8" width="3.8" height="4" fill="#d3302a"/>
<rect x="112.32" y="354.8" width="3.8" height="4" fill="#d3302a"/>
<rect x="160.72" y="354.8" width="3.8" height="4" fill="#9b1a2c"/>
<rect x="175.24" y="354.8" width="3.8" height="4" fill="#fce0a3"/>
<rect x="247.84" y="354.8" width="3.8" height="4" fill="#fce0a3"/>
<circle cx="307.82" cy="356.8" r="1.1" fill="#151515"/>
<rect x="334.96" y="354.8" width="3.8" height="4" fill="#fce0a3"/>
<rect x="393.04" y="354.8" width="3.8" height="4" fill="#fce0a3"/>
<rect x="102.64" y="360.25" width="3.8" height="4" fill="#d3302a"/>
<rect x="122" y="360.25" width="3.8" height="4" fill="#fce0a3"/>
<rect x="126.84" y="360.25" width="3.8" height="4" fill="#9b1a2c"/>
<rect x="131.68" y="360.25" width="3.8" height="4" fill="#fce0a3"/>
<rect x="272.04" y="360.25" width="3.8" height="4" fill="#fce0a3"/>
<rect x="276.88" y="360.25" width="3.8" height="4" fill="#fce0a3"/>
<rect x="281.72" y="360.25" width="3.8" height="4" fill="#fce0a3"/>
<rect x="286.56" y="360.25" width="3.8" height="4" fill="#fce0a3"/>
<rect x="296.24" y="360.25" width="3.8" height="4" fill="#fce0a3"/>
<rect x="305.92" y="360.25" width="3.8" height="4" fill="#fce0a3"/>
<rect x="315.6" y="360.25" width="3.8" height="4" fill="#fce0a3"/>
<path d="M102.94,369.4L106.14,366" stroke="#151a2a" stroke-width="1.05"/>
<rect x="107.83" y="366.05" width="3.1" height="3.3" fill="none" stroke="#222" stroke-width="0.8" stroke-dasharray="1.1 0.7"/>
<path d="M117.46,369.4L120.66,366" stroke="#151a2a" stroke-width="1.05"/>
<rect x="122.35" y="366.05" width="3.1" height="3.3" fill="none" stroke="#222" stroke-width="0.8" stroke-dasharray="1.1 0.7"/>
<rect x="141.36" y="365.7" width="3.8" height="4" fill="#fce0a3"/>
<rect x="151.39" y="366.05" width="3.1" height="3.3" fill="none" stroke="#222" stroke-width="0.8" stroke-dasharray="1.1 0.7"/><path d="M151.34,369.4L154.54,366" stroke="#151a2a" stroke-width="1.05"/>
<rect x="161.07" y="366.05" width="3.1" height="3.3" fill="none" stroke="#222" stroke-width="0.8" stroke-dasharray="1.1 0.7"/>
<rect x="180.08" y="365.7" width="3.8" height="4" fill="#9b1a2c"/><path d="M180.38,369.4L183.58,366" stroke="#151a2a" stroke-width="1.05"/>
<rect x="194.6" y="365.7" width="3.8" height="4" fill="#fce0a3"/>
<rect x="199.79" y="366.05" width="3.1" height="3.3" fill="none" stroke="#222" stroke-width="0.8" stroke-dasharray="1.1 0.7"/>
<rect x="228.83" y="366.05" width="3.1" height="3.3" fill="none" stroke="#222" stroke-width="0.8" stroke-dasharray="1.1 0.7"/>
<rect x="267.55" y="366.05" width="3.1" height="3.3" fill="none" stroke="#222" stroke-width="0.8" stroke-dasharray="1.1 0.7"/>
<path d="M272.34,369.4L275.54,366" stroke="#151a2a" stroke-width="1.05"/>
<path d="M277.18,369.4L280.38,366" stroke="#151a2a" stroke-width="1.05"/>
<rect x="315.6" y="365.7" width="3.8" height="4" fill="#9b1a2c"/><path d="M315.9,369.4L319.1,366" stroke="#151a2a" stroke-width="1.05"/>
<rect x="325.63" y="366.05" width="3.1" height="3.3" fill="none" stroke="#222" stroke-width="0.8" stroke-dasharray="1.1 0.7"/>
<rect x="359.51" y="366.05" width="3.1" height="3.3" fill="none" stroke="#222" stroke-width="0.8" stroke-dasharray="1.1 0.7"/>
<rect x="378.52" y="365.7" width="3.8" height="4" fill="#fce0a3"/>
<path d="M393.34,369.4L396.54,366" stroke="#151a2a" stroke-width="1.05"/>
<rect x="117.16" y="371.15" width="3.8" height="4" fill="#fce0a3"/>
<rect x="151.04" y="371.15" width="3.8" height="4" fill="#9b1a2c"/>
<rect x="301.08" y="371.15" width="3.8" height="4" fill="#9b1a2c"/>
<rect x="315.6" y="371.15" width="3.8" height="4" fill="#d3302a"/>
<rect x="344.64" y="371.15" width="3.8" height="4" fill="#d3302a"/>
<rect x="383.36" y="371.15" width="3.8" height="4" fill="#d3302a"/>
<rect x="117.16" y="376.6" width="3.8" height="4" fill="#fce0a3"/>
<rect x="151.04" y="376.6" width="3.8" height="4" fill="#9b1a2c"/>
<rect x="301.08" y="376.6" width="3.8" height="4" fill="#9b1a2c"/>
<rect x="315.6" y="376.6" width="3.8" height="4" fill="#d3302a"/>
<rect x="344.64" y="376.6" width="3.8" height="4" fill="#d3302a"/>
<rect x="383.36" y="376.6" width="3.8" height="4" fill="#d3302a"/>
<rect x="117.16" y="382.05" width="3.8" height="4" fill="#fce0a3"/>
<path d="M146.5,385.75L149.7,382.35" stroke="#151a2a" stroke-width="1.05"/>
<rect x="151.04" y="382.05" width="3.8" height="4" fill="#d3302a"/>
<rect x="165.56" y="382.05" width="3.8" height="4" fill="#fce0a3"/>
<rect x="180.08" y="382.05" width="3.8" height="4" fill="#d3302a"/>
<rect x="320.44" y="382.05" width="3.8" height="4" fill="#fce0a3"/>
<rect x="368.84" y="382.05" width="3.8" height="4" fill="#fce0a3"/>
<rect x="97.8" y="387.5" width="3.8" height="4" fill="#fce0a3"/>
<rect x="107.48" y="387.5" width="3.8" height="4" fill="#fce0a3"/>
<rect x="126.84" y="387.5" width="3.8" height="4" fill="#d3302a"/>
<rect x="136.52" y="387.5" width="3.8" height="4" fill="#fce0a3"/>
<rect x="233.32" y="387.5" width="3.8" height="4" fill="#d3302a"/>
<rect x="334.96" y="387.5" width="3.8" height="4" fill="#d3302a"/>
<rect x="339.8" y="387.5" width="3.8" height="4" fill="#fce0a3"/>
<rect x="117.16" y="392.95" width="3.8" height="4" fill="#fce0a3"/>
<rect x="151.04" y="392.95" width="3.8" height="4" fill="#9b1a2c"/>
<rect x="301.08" y="392.95" width="3.8" height="4" fill="#9b1a2c"/>
<rect x="344.64" y="392.95" width="3.8" height="4" fill="#d3302a"/>
<rect x="117.16" y="398.4" width="3.8" height="4" fill="#fce0a3"/>
<rect x="243" y="398.4" width="3.8" height="4" fill="#9b1a2c"/>
<rect x="301.08" y="398.4" width="3.8" height="4" fill="#9b1a2c"/>
<rect x="383.36" y="398.4" width="3.8" height="4" fill="#fce0a3"/><path d="M383.66,402.1L386.86,398.7" stroke="#151a2a" stroke-width="1.05"/>
<rect x="117.16" y="403.85" width="3.8" height="4" fill="#d3302a"/>
<rect x="131.68" y="403.85" width="3.8" height="4" fill="#fce0a3"/>
<rect x="223.64" y="403.85" width="3.8" height="4" fill="#fce0a3"/>
<rect x="170.4" y="409.3" width="3.8" height="4" fill="#fce0a3"/>
<rect x="175.24" y="409.3" width="3.8" height="4" fill="#fce0a3"/>
<rect x="301.08" y="409.3" width="3.8" height="4" fill="#fce0a3"/>
<rect x="388.2" y="409.3" width="3.8" height="4" fill="#fce0a3"/>
<rect x="97.8" y="417.5" width="3.8" height="4" fill="#6b2a7d"/><path d="M98.1,421.2L101.3,417.8" stroke="#151a2a" stroke-width="1.3"/>
<rect x="102.64" y="417.5" width="3.8" height="4" fill="#8db4da"/><path d="M102.94,421.2L106.14,417.8" stroke="#151a2a" stroke-width="1.3"/>
<rect x="107.48" y="417.5" width="3.8" height="4" fill="#8db4da"/><path d="M107.78,421.2L110.98,417.8" stroke="#151a2a" stroke-width="1.3"/>
<circle cx="114.22" cy="419.5" r="1.1" fill="#151515"/>
<rect x="117.16" y="417.5" width="3.8" height="4" fill="#8db4da"/><path d="M117.46,421.2L120.66,417.8" stroke="#151a2a" stroke-width="1.3"/>
<rect x="122" y="417.5" width="3.8" height="4" fill="#d3302a"/><path d="M122.3,421.2L125.5,417.8" stroke="#151a2a" stroke-width="1.3"/>
<rect x="126.84" y="417.5" width="3.8" height="4" fill="#3f6aa8"/><path d="M127.14,421.2L130.34,417.8" stroke="#151a2a" stroke-width="1.3"/>
<circle cx="133.58" cy="419.5" r="1.1" fill="#151515"/>
<rect x="136.52" y="417.5" width="3.8" height="4" fill="#8db4da"/><path d="M136.82,421.2L140.02,417.8" stroke="#151a2a" stroke-width="1.3"/>
<path d="M141.66,421.2L144.86,417.8" stroke="#151a2a" stroke-width="1.3"/>
<rect x="146.2" y="417.5" width="3.8" height="4" fill="#6b2a7d"/>
<rect x="151.04" y="417.5" width="3.8" height="4" fill="#6b2a7d"/><path d="M151.34,421.2L154.54,417.8" stroke="#151a2a" stroke-width="1.3"/>
<rect x="155.88" y="417.5" width="3.8" height="4" fill="#8db4da"/><path d="M156.18,421.2L159.38,417.8" stroke="#151a2a" stroke-width="1.3"/>
<path d="M161.02,421.2L164.22,417.8" stroke="#151a2a" stroke-width="1.3"/>
<rect x="165.56" y="417.5" width="3.8" height="4" fill="#8db4da"/>
<path d="M170.7,421.2L173.9,417.8" stroke="#151a2a" stroke-width="1.3"/>
<rect x="175.24" y="417.5" width="3.8" height="4" fill="#8db4da"/><path d="M175.54,421.2L178.74,417.8" stroke="#151a2a" stroke-width="1.3"/>
<circle cx="181.98" cy="419.5" r="1.1" fill="#151515"/>
<rect x="184.92" y="417.5" width="3.8" height="4" fill="#3f6aa8"/><path d="M185.22,421.2L188.42,417.8" stroke="#151a2a" stroke-width="1.3"/>
<path d="M190.06,421.2L193.26,417.8" stroke="#151a2a" stroke-width="1.3"/>
<rect x="194.6" y="417.5" width="3.8" height="4" fill="#8db4da"/><path d="M194.9,421.2L198.1,417.8" stroke="#151a2a" stroke-width="1.3"/>
<rect x="199.44" y="417.5" width="3.8" height="4" fill="#8db4da"/><path d="M199.74,421.2L202.94,417.8" stroke="#151a2a" stroke-width="1.3"/>
<path d="M204.58,421.2L207.78,417.8" stroke="#151a2a" stroke-width="1.3"/>
<rect x="214.16" y="418.8" width="3.4" height="1.4" fill="#d0262e"/>
<rect x="223.64" y="417.5" width="3.8" height="4" fill="#2a7f78"/>
<rect x="228.48" y="417.5" width="3.8" height="4" fill="#8db4da"/><path d="M228.78,421.2L231.98,417.8" stroke="#151a2a" stroke-width="1.3"/>
<rect x="233.32" y="417.5" width="3.8" height="4" fill="#8db4da"/><path d="M233.62,421.2L236.82,417.8" stroke="#151a2a" stroke-width="1.3"/>
<path d="M238.46,421.2L241.66,417.8" stroke="#151a2a" stroke-width="1.3"/>
<rect x="247.84" y="417.5" width="3.8" height="4" fill="#3f6aa8"/><path d="M248.14,421.2L251.34,417.8" stroke="#151a2a" stroke-width="1.3"/>
<rect x="252.68" y="417.5" width="3.8" height="4" fill="#6b2a7d"/><path d="M252.98,421.2L256.18,417.8" stroke="#151a2a" stroke-width="1.3"/>
<rect x="257.52" y="417.5" width="3.8" height="4" fill="#3f6aa8"/>
<rect x="262.36" y="417.5" width="3.8" height="4" fill="#8db4da"/>
<rect x="267.2" y="417.5" width="3.8" height="4" fill="#8db4da"/><path d="M267.5,421.2L270.7,417.8" stroke="#151a2a" stroke-width="1.3"/>
<path d="M272.34,421.2L275.54,417.8" stroke="#151a2a" stroke-width="1.3"/>
<rect x="276.88" y="417.5" width="3.8" height="4" fill="#8db4da"/><path d="M277.18,421.2L280.38,417.8" stroke="#151a2a" stroke-width="1.3"/>
<rect x="281.72" y="417.5" width="3.8" height="4" fill="#8db4da"/>
<rect x="286.56" y="417.5" width="3.8" height="4" fill="#3f6aa8"/>
<rect x="291.6" y="418.8" width="3.4" height="1.4" fill="#d0262e"/>
<rect x="296.59" y="417.85" width="3.1" height="3.3" fill="none" stroke="#222" stroke-width="0.8" stroke-dasharray="1.1 0.7"/>
<rect x="305.92" y="417.5" width="3.8" height="4" fill="#8db4da"/>
<circle cx="312.66" cy="419.5" r="1.1" fill="#151515"/>
<rect x="315.6" y="417.5" width="3.8" height="4" fill="#3f6aa8"/><path d="M315.9,421.2L319.1,417.8" stroke="#151a2a" stroke-width="1.3"/>
<rect x="320.44" y="417.5" width="3.8" height="4" fill="#3f6aa8"/>
<path d="M325.58,421.2L328.78,417.8" stroke="#151a2a" stroke-width="1.3"/>
<circle cx="332.02" cy="419.5" r="1.1" fill="#151515"/>
<rect x="334.96" y="417.5" width="3.8" height="4" fill="#3f6aa8"/><path d="M335.26,421.2L338.46,417.8" stroke="#151a2a" stroke-width="1.3"/>
<rect x="339.8" y="417.5" width="3.8" height="4" fill="#3f6aa8"/><path d="M340.1,421.2L343.3,417.8" stroke="#151a2a" stroke-width="1.3"/>
<rect x="344.64" y="417.5" width="3.8" height="4" fill="#3f6aa8"/><path d="M344.94,421.2L348.14,417.8" stroke="#151a2a" stroke-width="1.3"/>
<rect x="349.48" y="417.5" width="3.8" height="4" fill="#8db4da"/><path d="M349.78,421.2L352.98,417.8" stroke="#151a2a" stroke-width="1.3"/>
<rect x="354.32" y="417.5" width="3.8" height="4" fill="#3f6aa8"/>
<rect x="359.16" y="417.5" width="3.8" height="4" fill="#3f6aa8"/>
<rect x="364.2" y="418.8" width="3.4" height="1.4" fill="#d0262e"/>
<rect x="368.84" y="417.5" width="3.8" height="4" fill="#3f6aa8"/>
<rect x="373.68" y="417.5" width="3.8" height="4" fill="#3f6aa8"/><path d="M373.98,421.2L377.18,417.8" stroke="#151a2a" stroke-width="1.3"/>
<rect x="378.72" y="418.8" width="3.4" height="1.4" fill="#d0262e"/>
<path d="M383.66,421.2L386.86,417.8" stroke="#151a2a" stroke-width="1.3"/>
<rect x="388.2" y="417.5" width="3.8" height="4" fill="#3f6aa8"/><rect x="388.55" y="417.85" width="3.1" height="3.3" fill="none" stroke="#222" stroke-width="0.8" stroke-dasharray="1.1 0.7"/>
<circle cx="394.94" cy="419.5" r="1.1" fill="#151515"/>
<path d="M398.18,421.2L401.38,417.8" stroke="#151a2a" stroke-width="1.3"/>
<rect x="98" y="424.3" width="3.4" height="1.4" fill="#d0262e"/>
<rect x="102.64" y="423" width="3.8" height="4" fill="#8db4da"/><rect x="102.99" y="423.35" width="3.1" height="3.3" fill="none" stroke="#222" stroke-width="0.8" stroke-dasharray="1.1 0.7"/>
<rect x="107.48" y="423" width="3.8" height="4" fill="#8db4da"/><rect x="107.83" y="423.35" width="3.1" height="3.3" fill="none" stroke="#222" stroke-width="0.8" stroke-dasharray="1.1 0.7"/>
<rect x="112.32" y="423" width="3.8" height="4" fill="#8db4da"/>
<rect x="117.16" y="423" width="3.8" height="4" fill="#8db4da"/>
<rect x="136.52" y="423" width="3.8" height="4" fill="#8db4da"/>
<rect x="141.36" y="423" width="3.8" height="4" fill="#3f6aa8"/>
<rect x="146.2" y="423" width="3.8" height="4" fill="#8db4da"/>
<rect x="151.04" y="423" width="3.8" height="4" fill="#3f6aa8"/>
<circle cx="157.78" cy="425" r="1.1" fill="#151515"/>
<rect x="160.72" y="423" width="3.8" height="4" fill="#8db4da"/>
<rect x="165.56" y="423" width="3.8" height="4" fill="#8db4da"/>
<rect x="175.24" y="423" width="3.8" height="4" fill="#8db4da"/>
<rect x="184.92" y="423" width="3.8" height="4" fill="#8db4da"/>
<rect x="189.76" y="423" width="3.8" height="4" fill="#8db4da"/>
<rect x="209.12" y="423" width="3.8" height="4" fill="#3f6aa8"/><path d="M209.42,426.7L212.62,423.3" stroke="#151a2a" stroke-width="1.3"/>
<rect x="223.84" y="424.3" width="3.4" height="1.4" fill="#d0262e"/>
<rect x="228.48" y="423" width="3.8" height="4" fill="#3f6aa8"/><path d="M228.78,426.7L231.98,423.3" stroke="#151a2a" stroke-width="1.3"/>
<path d="M233.62,426.7L236.82,423.3" stroke="#151a2a" stroke-width="1.3"/>
<path d="M238.46,426.7L241.66,423.3" stroke="#151a2a" stroke-width="1.3"/>
<rect x="247.84" y="423" width="3.8" height="4" fill="#8db4da"/>
<rect x="252.88" y="424.3" width="3.4" height="1.4" fill="#d0262e"/>
<rect x="257.72" y="424.3" width="3.4" height="1.4" fill="#d0262e"/>
<rect x="262.36" y="423" width="3.8" height="4" fill="#6b2a7d"/><path d="M262.66,426.7L265.86,423.3" stroke="#151a2a" stroke-width="1.3"/>
<rect x="267.2" y="423" width="3.8" height="4" fill="#6b2a7d"/>
<rect x="272.04" y="423" width="3.8" height="4" fill="#6b2a7d"/>
<rect x="276.88" y="423" width="3.8" height="4" fill="#6b2a7d"/>
<rect x="286.56" y="423" width="3.8" height="4" fill="#8db4da"/>
<rect x="291.4" y="423" width="3.8" height="4" fill="#8db4da"/>
<rect x="296.24" y="423" width="3.8" height="4" fill="#8db4da"/>
<rect x="305.92" y="423" width="3.8" height="4" fill="#8db4da"/>
<rect x="310.76" y="423" width="3.8" height="4" fill="#8db4da"/>
<rect x="315.6" y="423" width="3.8" height="4" fill="#8db4da"/>
<rect x="320.44" y="423" width="3.8" height="4" fill="#8db4da"/>
<rect x="330.12" y="423" width="3.8" height="4" fill="#3f6aa8"/>
<rect x="334.96" y="423" width="3.8" height="4" fill="#3f6aa8"/>
<rect x="344.64" y="423" width="3.8" height="4" fill="#8db4da"/>
<rect x="349.48" y="423" width="3.8" height="4" fill="#8db4da"/>
<rect x="354.32" y="423" width="3.8" height="4" fill="#6b2a7d"/>
<rect x="359.16" y="423" width="3.8" height="4" fill="#3f6aa8"/>
<rect x="368.84" y="423" width="3.8" height="4" fill="#3f6aa8"/>
<circle cx="375.58" cy="425" r="1.1" fill="#151515"/>
<rect x="378.52" y="423" width="3.8" height="4" fill="#3f6aa8"/><path d="M378.82,426.7L382.02,423.3" stroke="#151a2a" stroke-width="1.3"/>
<rect x="388.2" y="423" width="3.8" height="4" fill="#3f6aa8"/>
<rect x="393.04" y="423" width="3.8" height="4" fill="#3f6aa8"/>
<rect x="97.8" y="428.5" width="3.8" height="4" fill="#3f6aa8"/>
<rect x="102.64" y="428.5" width="3.8" height="4" fill="#3f6aa8"/>
<rect x="112.32" y="428.5" width="3.8" height="4" fill="#8db4da"/>
<rect x="117.16" y="428.5" width="3.8" height="4" fill="#8db4da"/>
<rect x="122" y="428.5" width="3.8" height="4" fill="#8db4da"/>
<rect x="126.84" y="428.5" width="3.8" height="4" fill="#8db4da"/>
<rect x="136.52" y="428.5" width="3.8" height="4" fill="#8db4da"/>
<rect x="146.2" y="428.5" width="3.8" height="4" fill="#8db4da"/>
<rect x="151.04" y="428.5" width="3.8" height="4" fill="#3f6aa8"/>
<rect x="160.72" y="428.5" width="3.8" height="4" fill="#8db4da"/><rect x="161.07" y="428.85" width="3.1" height="3.3" fill="none" stroke="#222" stroke-width="0.8" stroke-dasharray="1.1 0.7"/>
<rect x="165.56" y="428.5" width="3.8" height="4" fill="#3f6aa8"/><path d="M165.86,432.2L169.06,428.8" stroke="#151a2a" stroke-width="1.3"/>
<rect x="170.4" y="428.5" width="3.8" height="4" fill="#8db4da"/>
<rect x="175.24" y="428.5" width="3.8" height="4" fill="#8db4da"/>
<rect x="180.08" y="428.5" width="3.8" height="4" fill="#8db4da"/>
<rect x="184.92" y="428.5" width="3.8" height="4" fill="#8db4da"/>
<rect x="189.76" y="428.5" width="3.8" height="4" fill="#8db4da"/>
<rect x="194.6" y="428.5" width="3.8" height="4" fill="#8db4da"/>
<rect x="199.44" y="428.5" width="3.8" height="4" fill="#8db4da"/>
<rect x="209.12" y="428.5" width="3.8" height="4" fill="#8db4da"/>
<rect x="223.64" y="428.5" width="3.8" height="4" fill="#3f6aa8"/><path d="M223.94,432.2L227.14,428.8" stroke="#151a2a" stroke-width="1.3"/>
<rect x="228.48" y="428.5" width="3.8" height="4" fill="#8db4da"/>
<rect x="238.16" y="428.5" width="3.8" height="4" fill="#3f6aa8"/><rect x="238.51" y="428.85" width="3.1" height="3.3" fill="none" stroke="#222" stroke-width="0.8" stroke-dasharray="1.1 0.7"/>
<rect x="257.52" y="428.5" width="3.8" height="4" fill="#8db4da"/>
<rect x="262.36" y="428.5" width="3.8" height="4" fill="#8db4da"/>
<rect x="281.72" y="428.5" width="3.8" height="4" fill="#8db4da"/>
<rect x="291.4" y="428.5" width="3.8" height="4" fill="#3f6aa8"/>
<rect x="296.24" y="428.5" width="3.8" height="4" fill="#8db4da"/>
<rect x="305.92" y="428.5" width="3.8" height="4" fill="#8db4da"/>
<rect x="310.76" y="428.5" width="3.8" height="4" fill="#8db4da"/>
<rect x="320.44" y="428.5" width="3.8" height="4" fill="#8db4da"/>
<rect x="344.64" y="428.5" width="3.8" height="4" fill="#8db4da"/>
<rect x="359.16" y="428.5" width="3.8" height="4" fill="#3f6aa8"/>
<rect x="368.84" y="428.5" width="3.8" height="4" fill="#3f6aa8"/>
<rect x="373.68" y="428.5" width="3.8" height="4" fill="#3f6aa8"/>
<rect x="378.52" y="428.5" width="3.8" height="4" fill="#8db4da"/>
<rect x="383.36" y="428.5" width="3.8" height="4" fill="#8db4da"/>
<rect x="388.2" y="428.5" width="3.8" height="4" fill="#8db4da"/>
<rect x="393.04" y="428.5" width="3.8" height="4" fill="#8db4da"/>
<rect x="397.88" y="428.5" width="3.8" height="4" fill="#3f6aa8"/>
<rect x="102.64" y="434" width="3.8" height="4" fill="#8db4da"/>
<rect x="160.72" y="434" width="3.8" height="4" fill="#8db4da"/>
<rect x="165.56" y="434" width="3.8" height="4" fill="#8db4da"/>
<rect x="170.4" y="434" width="3.8" height="4" fill="#8db4da"/>
<rect x="218.8" y="434" width="3.8" height="4" fill="#8db4da"/>
<rect x="228.48" y="434" width="3.8" height="4" fill="#8db4da"/>
<rect x="233.32" y="434" width="3.8" height="4" fill="#3f6aa8"/>
<rect x="247.84" y="434" width="3.8" height="4" fill="#3f6aa8"/><rect x="248.19" y="434.35" width="3.1" height="3.3" fill="none" stroke="#222" stroke-width="0.8" stroke-dasharray="1.1 0.7"/>
<rect x="257.52" y="434" width="3.8" height="4" fill="#8db4da"/>
<rect x="281.72" y="434" width="3.8" height="4" fill="#8db4da"/>
<rect x="286.56" y="434" width="3.8" height="4" fill="#3f6aa8"/><rect x="286.91" y="434.35" width="3.1" height="3.3" fill="none" stroke="#222" stroke-width="0.8" stroke-dasharray="1.1 0.7"/>
<rect x="291.4" y="434" width="3.8" height="4" fill="#3f6aa8"/>
<rect x="296.24" y="434" width="3.8" height="4" fill="#8db4da"/>
<rect x="310.76" y="434" width="3.8" height="4" fill="#8db4da"/>
<rect x="320.79" y="434.35" width="3.1" height="3.3" fill="none" stroke="#222" stroke-width="0.8" stroke-dasharray="1.1 0.7"/>
<rect x="334.96" y="434" width="3.8" height="4" fill="#8db4da"/><path d="M335.26,437.7L338.46,434.3" stroke="#151a2a" stroke-width="1.3"/>
<path d="M340.1,437.7L343.3,434.3" stroke="#151a2a" stroke-width="1.3"/>
<rect x="354.32" y="434" width="3.8" height="4" fill="#3f6aa8"/>
<rect x="359.16" y="434" width="3.8" height="4" fill="#8db4da"/>
<rect x="373.68" y="434" width="3.8" height="4" fill="#3f6aa8"/>
<rect x="378.52" y="434" width="3.8" height="4" fill="#3f6aa8"/>
<rect x="393.04" y="434" width="3.8" height="4" fill="#8db4da"/>
<rect x="102.64" y="439.5" width="3.8" height="4" fill="#d3302a"/>
<rect x="112.32" y="439.5" width="3.8" height="4" fill="#fce0a3"/>
<rect x="117.16" y="439.5" width="3.8" height="4" fill="#8db4da"/>
<rect x="151.04" y="439.5" width="3.8" height="4" fill="#fce0a3"/>
<path d="M170.7,443.2L173.9,439.8" stroke="#151a2a" stroke-width="1.3"/>
<rect x="199.79" y="439.85" width="3.1" height="3.3" fill="none" stroke="#222" stroke-width="0.8" stroke-dasharray="1.1 0.7"/>
<rect x="218.8" y="439.5" width="3.8" height="4" fill="#3f6aa8"/><rect x="219.15" y="439.85" width="3.1" height="3.3" fill="none" stroke="#222" stroke-width="0.8" stroke-dasharray="1.1 0.7"/>
<path d="M233.62,443.2L236.82,439.8" stroke="#151a2a" stroke-width="1.3"/>
<circle cx="240.06" cy="441.5" r="1.1" fill="#151515"/>
<rect x="243" y="439.5" width="3.8" height="4" fill="#3f6aa8"/><rect x="243.35" y="439.85" width="3.1" height="3.3" fill="none" stroke="#222" stroke-width="0.8" stroke-dasharray="1.1 0.7"/>
<rect x="247.84" y="439.5" width="3.8" height="4" fill="#3f6aa8"/>
<rect x="262.56" y="440.8" width="3.4" height="1.4" fill="#d0262e"/>
<rect x="267.2" y="439.5" width="3.8" height="4" fill="#fce0a3"/>
<rect x="286.56" y="439.5" width="3.8" height="4" fill="#fce0a3"/>
<rect x="296.24" y="439.5" width="3.8" height="4" fill="#8db4da"/>
<rect x="305.92" y="439.5" width="3.8" height="4" fill="#3f6aa8"/>
<rect x="315.6" y="439.5" width="3.8" height="4" fill="#3f6aa8"/><rect x="315.95" y="439.85" width="3.1" height="3.3" fill="none" stroke="#222" stroke-width="0.8" stroke-dasharray="1.1 0.7"/>
<rect x="320.44" y="439.5" width="3.8" height="4" fill="#8db4da"/>
<rect x="325.63" y="439.85" width="3.1" height="3.3" fill="none" stroke="#222" stroke-width="0.8" stroke-dasharray="1.1 0.7"/>
<rect x="334.96" y="439.5" width="3.8" height="4" fill="#3f6aa8"/><path d="M335.26,443.2L338.46,439.8" stroke="#151a2a" stroke-width="1.3"/>
<path d="M340.1,443.2L343.3,439.8" stroke="#151a2a" stroke-width="1.3"/>
<rect x="354.52" y="440.8" width="3.4" height="1.4" fill="#d0262e"/>
<circle cx="361.06" cy="441.5" r="1.1" fill="#151515"/>
<rect x="364" y="439.5" width="3.8" height="4" fill="#6b2a7d"/>
<rect x="373.68" y="439.5" width="3.8" height="4" fill="#fce0a3"/><circle cx="375.58" cy="441.5" r="1.1" fill="#151515"/>
<rect x="378.52" y="439.5" width="3.8" height="4" fill="#fce0a3"/><circle cx="380.42" cy="441.5" r="1.1" fill="#151515"/>
<rect x="383.56" y="440.8" width="3.4" height="1.4" fill="#d0262e"/>
<circle cx="390.1" cy="441.5" r="1.1" fill="#151515"/>
<rect x="393.04" y="439.5" width="3.8" height="4" fill="#3f6aa8"/>
<rect x="102.64" y="445" width="3.8" height="4" fill="#3f6aa8"/>
<rect x="117.16" y="445" width="3.8" height="4" fill="#3f6aa8"/><path d="M117.46,448.7L120.66,445.3" stroke="#151a2a" stroke-width="1.3"/>
<rect x="122" y="445" width="3.8" height="4" fill="#8db4da"/>
<rect x="136.52" y="445" width="3.8" height="4" fill="#8db4da"/>
<rect x="141.36" y="445" width="3.8" height="4" fill="#fce0a3"/>
<rect x="151.04" y="445" width="3.8" height="4" fill="#3f6aa8"/>
<rect x="228.48" y="445" width="3.8" height="4" fill="#8db4da"/>
<rect x="233.32" y="445" width="3.8" height="4" fill="#8db4da"/>
<rect x="252.68" y="445" width="3.8" height="4" fill="#8db4da"/>
<rect x="257.52" y="445" width="3.8" height="4" fill="#8db4da"/>
<rect x="315.6" y="445" width="3.8" height="4" fill="#8db4da"/>
<rect x="320.44" y="445" width="3.8" height="4" fill="#8db4da"/>
<rect x="334.96" y="445" width="3.8" height="4" fill="#3f6aa8"/>
<rect x="339.8" y="445" width="3.8" height="4" fill="#3f6aa8"/>
<rect x="344.64" y="445" width="3.8" height="4" fill="#3f6aa8"/>
<rect x="373.68" y="445" width="3.8" height="4" fill="#8db4da"/>
<rect x="378.52" y="445" width="3.8" height="4" fill="#fce0a3"/>
<rect x="393.04" y="445" width="3.8" height="4" fill="#8db4da"/>
<rect x="102.64" y="450.5" width="3.8" height="4" fill="#3f6aa8"/>
<rect x="117.16" y="450.5" width="3.8" height="4" fill="#3f6aa8"/>
<rect x="122" y="450.5" width="3.8" height="4" fill="#3f6aa8"/>
<rect x="136.52" y="450.5" width="3.8" height="4" fill="#8db4da"/>
<rect x="141.36" y="450.5" width="3.8" height="4" fill="#fce0a3"/>
<rect x="151.04" y="450.5" width="3.8" height="4" fill="#3f6aa8"/>
<rect x="228.48" y="450.5" width="3.8" height="4" fill="#8db4da"/>
<rect x="233.32" y="450.5" width="3.8" height="4" fill="#8db4da"/>
<rect x="252.68" y="450.5" width="3.8" height="4" fill="#8db4da"/>
<rect x="315.6" y="450.5" width="3.8" height="4" fill="#8db4da"/>
<rect x="320.44" y="450.5" width="3.8" height="4" fill="#8db4da"/>
<rect x="334.96" y="450.5" width="3.8" height="4" fill="#3f6aa8"/>
<rect x="339.8" y="450.5" width="3.8" height="4" fill="#3f6aa8"/>
<rect x="344.64" y="450.5" width="3.8" height="4" fill="#3f6aa8"/>
<rect x="373.68" y="450.5" width="3.8" height="4" fill="#8db4da"/>
<rect x="378.52" y="450.5" width="3.8" height="4" fill="#fce0a3"/>
<rect x="393.04" y="450.5" width="3.8" height="4" fill="#8db4da"/>
<text x="93.4" y="249.2" font-size="4.6" fill="#333" text-anchor="end">39%</text>
<text x="93.4" y="254.65" font-size="4.6" fill="#333" text-anchor="end">39%</text>
<text x="93.4" y="260.1" font-size="4.6" fill="#333" text-anchor="end">38%</text>
<text x="93.4" y="265.55" font-size="4.6" fill="#333" text-anchor="end">33%</text>
<text x="93.4" y="271" font-size="4.6" fill="#333" text-anchor="end">25%</text>
<text x="93.4" y="276.45" font-size="4.6" fill="#333" text-anchor="end">23%</text>
<text x="93.4" y="281.9" font-size="4.6" fill="#333" text-anchor="end">23%</text>
<text x="93.4" y="287.35" font-size="4.6" fill="#333" text-anchor="end">23%</text>
<text x="93.4" y="292.8" font-size="4.6" fill="#333" text-anchor="end">21%</text>
<text x="93.4" y="298.25" font-size="4.6" fill="#333" text-anchor="end">20%</text>
<text x="93.4" y="303.7" font-size="4.6" fill="#333" text-anchor="end">18%</text>
<text x="93.4" y="309.15" font-size="4.6" fill="#333" text-anchor="end">16%</text>
<text x="93.4" y="314.6" font-size="4.6" fill="#333" text-anchor="end">16%</text>
<text x="93.4" y="320.05" font-size="4.6" fill="#333" text-anchor="end">15%</text>
<text x="93.4" y="325.5" font-size="4.6" fill="#333" text-anchor="end">15%</text>
<text x="93.4" y="330.95" font-size="4.6" fill="#333" text-anchor="end">13%</text>
<text x="93.4" y="336.4" font-size="4.6" fill="#333" text-anchor="end">11%</text>
<text x="93.4" y="341.85" font-size="4.6" fill="#333" text-anchor="end">11%</text>
<text x="93.4" y="347.3" font-size="4.6" fill="#333" text-anchor="end">11%</text>
<text x="93.4" y="352.75" font-size="4.6" fill="#333" text-anchor="end">11%</text>
<text x="93.4" y="358.2" font-size="4.6" fill="#333" text-anchor="end">11%</text>
<text x="93.4" y="363.65" font-size="4.6" fill="#333" text-anchor="end">11%</text>
<text x="93.4" y="369.1" font-size="4.6" fill="#333" text-anchor="end">11%</text>
<text x="93.4" y="374.55" font-size="4.6" fill="#333" text-anchor="end">11%</text>
<text x="93.4" y="380" font-size="4.6" fill="#333" text-anchor="end">11%</text>
<text x="93.4" y="385.45" font-size="4.6" fill="#333" text-anchor="end">10%</text>
<text x="93.4" y="390.9" font-size="4.6" fill="#333" text-anchor="end">10%</text>
<text x="93.4" y="396.35" font-size="4.6" fill="#333" text-anchor="end">10%</text>
<text x="93.4" y="401.8" font-size="4.6" fill="#333" text-anchor="end">7%</text>
<text x="93.4" y="407.25" font-size="4.6" fill="#333" text-anchor="end">7%</text>
<text x="93.4" y="412.7" font-size="4.6" fill="#333" text-anchor="end">5%</text>
<text x="93.4" y="420.9" font-size="4.6" fill="#333" text-anchor="end">74%</text>
<text x="93.4" y="426.4" font-size="4.6" fill="#333" text-anchor="end">64%</text>
<text x="93.4" y="431.9" font-size="4.6" fill="#333" text-anchor="end">56%</text>
<text x="93.4" y="437.4" font-size="4.6" fill="#333" text-anchor="end">34%</text>
<text x="93.4" y="442.9" font-size="4.6" fill="#333" text-anchor="end">28%</text>
<text x="93.4" y="448.4" font-size="4.6" fill="#333" text-anchor="end">23%</text>
<text x="93.4" y="453.9" font-size="4.6" fill="#333" text-anchor="end">21%</text>
<text x="81" y="436.5" font-size="7.2" fill="#333" text-anchor="middle" transform="rotate(-90 81 436.5)">TSG</text>
<text x="404.6" y="249.3" font-size="5.2" font-style="italic" fill="#222">FLCN</text>
<text x="450.5" y="249.2" font-size="4.4" fill="#333">17p11.2</text>
<text x="404.6" y="254.75" font-size="5.2" font-style="italic" fill="#222">MYC</text>
<text x="450.5" y="254.65" font-size="4.4" fill="#333">8q24.21</text>
<text x="404.6" y="260.2" font-size="5.2" font-style="italic" fill="#222">RAD21</text>
<text x="450.5" y="260.1" font-size="4.4" fill="#333">8q24.11</text>
<text x="404.6" y="265.65" font-size="5.2" font-style="italic" fill="#222">CCNE1</text>
<text x="450.5" y="265.55" font-size="4.4" fill="#333">19q12</text>
<text x="404.6" y="271.1" font-size="5.2" font-style="italic" fill="#222">HSP90AB1</text>
<text x="450.5" y="271" font-size="4.4" fill="#333">6p21.1</text>
<text x="404.6" y="276.55" font-size="5.2" font-style="italic" fill="#222">CCND3</text>
<text x="450.5" y="276.45" font-size="4.4" fill="#333">6p21.1</text>
<text x="404.6" y="282" font-size="5.2" font-style="italic" fill="#222">VEGFA</text>
<text x="450.5" y="281.9" font-size="4.4" fill="#333">6p21.1</text>
<text x="404.6" y="287.45" font-size="5.2" font-style="italic" fill="#222">PRKDC</text>
<text x="450.5" y="287.35" font-size="4.4" fill="#333">8q11.21</text>
<text x="404.6" y="292.9" font-size="5.2" font-style="italic" fill="#222">MAP2K4</text>
<text x="450.5" y="292.8" font-size="4.4" fill="#333">17p12</text>
<text x="404.6" y="298.35" font-size="5.2" font-style="italic" fill="#222">RICTOR</text>
<text x="450.5" y="298.25" font-size="4.4" fill="#333">5p13.1</text>
<text x="404.6" y="303.8" font-size="5.2" font-style="italic" fill="#222">CALR</text>
<text x="450.5" y="303.7" font-size="4.4" fill="#333">19p13.13</text>
<text x="404.6" y="309.25" font-size="5.2" font-style="italic" fill="#222">DNMT1</text>
<text x="450.5" y="309.15" font-size="4.4" fill="#333">19p13.2</text>
<text x="404.6" y="314.7" font-size="5.2" font-style="italic" fill="#222">IL7R</text>
<text x="450.5" y="314.6" font-size="4.4" fill="#333">5p13.2</text>
<text x="404.6" y="320.15" font-size="5.2" font-style="italic" fill="#222">PIM1</text>
<text x="450.5" y="320.05" font-size="4.4" fill="#333">6p21.2</text>
<text x="404.6" y="325.6" font-size="5.2" font-style="italic" fill="#222">RAC1</text>
<text x="450.5" y="325.5" font-size="4.4" fill="#333">7p22.1</text>
<text x="404.6" y="331.05" font-size="5.2" font-style="italic" fill="#222">AURKB</text>
<text x="450.5" y="330.95" font-size="4.4" fill="#333">17p13.1</text>
<text x="404.6" y="336.5" font-size="5.2" font-style="italic" fill="#222">CDK4</text>
<text x="450.5" y="336.4" font-size="4.4" fill="#333">12q14.1</text>
<text x="404.6" y="341.95" font-size="5.2" font-style="italic" fill="#222">NOTCH3</text>
<text x="450.5" y="341.85" font-size="4.4" fill="#333">19p13.12</text>
<text x="404.6" y="347.4" font-size="5.2" font-style="italic" fill="#222">PDGFRA</text>
<text x="450.5" y="347.3" font-size="4.4" fill="#333">4q12</text>
<text x="404.6" y="352.85" font-size="5.2" font-style="italic" fill="#222">KIT</text>
<text x="450.5" y="352.75" font-size="4.4" fill="#333">4q12</text>
<text x="404.6" y="358.3" font-size="5.2" font-style="italic" fill="#222">KDR</text>
<text x="450.5" y="358.2" font-size="4.4" fill="#333">4q12</text>
<text x="404.6" y="363.75" font-size="5.2" font-style="italic" fill="#222">PMS2</text>
<text x="450.5" y="363.65" font-size="4.4" fill="#333">7p22.1</text>
<text x="404.6" y="369.2" font-size="5.2" font-style="italic" fill="#222">PTPRD</text>
<text x="450.5" y="369.1" font-size="4.4" fill="#333">9p24.1</text>
<text x="404.6" y="374.65" font-size="5.2" font-style="italic" fill="#222">GLI1</text>
<text x="450.5" y="374.55" font-size="4.4" fill="#333">12q13.3</text>
<text x="404.6" y="380.1" font-size="5.2" font-style="italic" fill="#222">DDIT3</text>
<text x="450.5" y="380" font-size="4.4" fill="#333">12q13.3</text>
<text x="404.6" y="385.55" font-size="5.2" font-style="italic" fill="#222">BRD4</text>
<text x="450.5" y="385.45" font-size="4.4" fill="#333">19p13.12</text>
<text x="404.6" y="391" font-size="5.2" font-style="italic" fill="#222">CDKN1A</text>
<text x="450.5" y="390.9" font-size="4.4" fill="#333">6p21.2</text>
<text x="404.6" y="396.45" font-size="5.2" font-style="italic" fill="#222">STAT6</text>
<text x="450.5" y="396.35" font-size="4.4" fill="#333">12q13.3</text>
<text x="404.6" y="401.9" font-size="5.2" font-style="italic" fill="#222">MDM2</text>
<text x="450.5" y="401.8" font-size="4.4" fill="#333">12q15</text>
<text x="404.6" y="407.35" font-size="5.2" font-style="italic" fill="#222">FOXM1</text>
<text x="450.5" y="407.25" font-size="4.4" fill="#333">12p13.33</text>
<text x="404.6" y="412.8" font-size="5.2" font-style="italic" fill="#222">AKT1</text>
<text x="450.5" y="412.7" font-size="4.4" fill="#333">14q32.33</text>
<text x="404.6" y="421" font-size="5.2" font-style="italic" fill="#222">TP53</text>
<text x="450.5" y="420.9" font-size="4.4" fill="#333">17p13.1</text>
<text x="404.6" y="426.5" font-size="5.2" font-style="italic" fill="#222">RB1</text>
<text x="450.5" y="426.4" font-size="4.4" fill="#333">13q14.2</text>
<text x="404.6" y="432" font-size="5.2" font-style="italic" fill="#222">PTEN</text>
<text x="450.5" y="431.9" font-size="4.4" fill="#333">10q23.31</text>
<text x="404.6" y="437.5" font-size="5.2" font-style="italic" fill="#222">NF1</text>
<text x="450.5" y="437.4" font-size="4.4" fill="#333">17q11.2</text>
<text x="404.6" y="443" font-size="5.2" font-style="italic" fill="#222">ATRX</text>
<text x="450.5" y="442.9" font-size="4.4" fill="#333">Xq21.1</text>
<text x="404.6" y="448.5" font-size="5.2" font-style="italic" fill="#222">CDKN2A</text>
<text x="450.5" y="448.4" font-size="4.4" fill="#333">9p21.3</text>
<text x="404.6" y="454" font-size="5.2" font-style="italic" fill="#222">CDKN2B</text>
<text x="450.5" y="453.9" font-size="4.4" fill="#333">9p21.3</text>
<rect x="432.2" y="245.8" width="7" height="4" fill="#fce0a3"/>
<rect x="439.2" y="245.8" width="6" height="4" fill="#d3302a"/>
<rect x="432.2" y="251.25" width="10.5" height="4" fill="#fce0a3"/>
<rect x="442.7" y="251.25" width="2.5" height="4" fill="#9b1a2c"/>
<rect x="432.2" y="256.7" width="10.5" height="4" fill="#fce0a3"/>
<rect x="442.7" y="256.7" width="2" height="4" fill="#9b1a2c"/>
<rect x="432.2" y="262.15" width="4" height="4" fill="#fce0a3"/>
<rect x="436.2" y="262.15" width="7" height="4" fill="#9b1a2c"/>
<rect x="432.2" y="267.6" width="4.5" height="4" fill="#fce0a3"/>
<rect x="436.7" y="267.6" width="5.5" height="4" fill="#9b1a2c"/>
<rect x="432.2" y="273.05" width="3" height="4" fill="#fce0a3"/>
<rect x="435.2" y="273.05" width="6.5" height="4" fill="#9b1a2c"/>
<rect x="432.2" y="278.5" width="4" height="4" fill="#fce0a3"/>
<rect x="436.2" y="278.5" width="5.5" height="4" fill="#9b1a2c"/>
<rect x="432.2" y="283.95" width="6" height="4" fill="#fce0a3"/>
<rect x="438.2" y="283.95" width="2" height="4" fill="#d3302a"/>
<rect x="432.2" y="289.4" width="3" height="4" fill="#fce0a3"/>
<rect x="435.2" y="289.4" width="5" height="4" fill="#9b1a2c"/>
<rect x="432.2" y="294.85" width="6" height="4" fill="#fce0a3"/>
<rect x="438.2" y="294.85" width="2" height="4" fill="#9b1a2c"/>
<rect x="432.2" y="300.3" width="3.4" height="4" fill="#fce0a3"/>
<rect x="435.6" y="300.3" width="2.4" height="4" fill="#9b1a2c"/>
<rect x="432.2" y="305.75" width="3.9" height="4" fill="#fce0a3"/>
<rect x="436.1" y="305.75" width="2" height="4" fill="#9b1a2c"/>
<rect x="432.2" y="311.2" width="4.8" height="4" fill="#fce0a3"/>
<rect x="437" y="311.2" width="1.5" height="4" fill="#9b1a2c"/>
<rect x="432.2" y="316.65" width="2.9" height="4" fill="#fce0a3"/>
<rect x="435.1" y="316.65" width="3" height="4" fill="#9b1a2c"/>
<rect x="432.2" y="322.1" width="4.3" height="4" fill="#fce0a3"/>
<rect x="436.5" y="322.1" width="2" height="4" fill="#9b1a2c"/>
<rect x="432.2" y="327.55" width="2.9" height="4" fill="#fce0a3"/>
<rect x="435.1" y="327.55" width="2.5" height="4" fill="#9b1a2c"/>
<rect x="432.2" y="333" width="1.4" height="4" fill="#fce0a3"/>
<rect x="433.6" y="333" width="2.5" height="4" fill="#9b1a2c"/>
<rect x="432.2" y="338.45" width="2.4" height="4" fill="#fce0a3"/>
<rect x="434.6" y="338.45" width="1" height="4" fill="#d3302a"/>
<rect x="432.2" y="343.9" width="2.4" height="4" fill="#fce0a3"/>
<rect x="434.6" y="343.9" width="1" height="4" fill="#d3302a"/>
<rect x="432.2" y="349.35" width="2.4" height="4" fill="#fce0a3"/>
<rect x="434.6" y="349.35" width="1" height="4" fill="#d3302a"/>
<rect x="432.2" y="354.8" width="2.4" height="4" fill="#fce0a3"/>
<rect x="434.6" y="354.8" width="1" height="4" fill="#d3302a"/>
<rect x="432.2" y="360.25" width="2.4" height="4" fill="#fce0a3"/>
<rect x="434.6" y="360.25" width="1.4" height="4" fill="#9b1a2c"/>
<rect x="432.2" y="365.7" width="3.2" height="4" fill="#fce0a3"/>
<rect x="435.4" y="365.7" width="0.8" height="4" fill="#9b1a2c"/>
<rect x="432.2" y="371.15" width="2.2" height="4" fill="#fce0a3"/>
<rect x="434.4" y="371.15" width="1.6" height="4" fill="#9b1a2c"/>
<rect x="432.2" y="376.6" width="2.2" height="4" fill="#fce0a3"/>
<rect x="434.4" y="376.6" width="1.6" height="4" fill="#9b1a2c"/>
<rect x="432.2" y="382.05" width="2.4" height="4" fill="#fce0a3"/>
<rect x="434.6" y="382.05" width="1.4" height="4" fill="#9b1a2c"/>
<rect x="432.2" y="387.5" width="1.8" height="4" fill="#fce0a3"/>
<rect x="434" y="387.5" width="1.6" height="4" fill="#9b1a2c"/>
<rect x="432.2" y="392.95" width="1.4" height="4" fill="#fce0a3"/>
<rect x="433.6" y="392.95" width="1.8" height="4" fill="#9b1a2c"/>
<rect x="432.2" y="398.4" width="1.6" height="4" fill="#fce0a3"/>
<rect x="433.8" y="398.4" width="1" height="4" fill="#9b1a2c"/>
<rect x="432.2" y="403.85" width="1.4" height="4" fill="#fce0a3"/>
<rect x="433.6" y="403.85" width="0.6" height="4" fill="#9b1a2c"/>
<rect x="432.2" y="409.3" width="1.2" height="4" fill="#fce0a3"/>
<rect x="433.4" y="409.3" width="0.3" height="4" fill="#9b1a2c"/>
<rect x="432.7" y="417.5" width="6.2" height="4" fill="#3f6aa8"/>
<rect x="438.9" y="417.5" width="4.8" height="4" fill="#8db4da"/>
<rect x="432.7" y="423" width="4.8" height="4" fill="#3f6aa8"/>
<rect x="437.5" y="423" width="7.8" height="4" fill="#8db4da"/>
<rect x="432.7" y="428.5" width="3" height="4" fill="#3f6aa8"/>
<rect x="435.7" y="428.5" width="7.6" height="4" fill="#8db4da"/>
<rect x="432.7" y="434" width="3.5" height="4" fill="#3f6aa8"/>
<rect x="436.2" y="434" width="1.5" height="4" fill="#8db4da"/>
<rect x="432.7" y="439.5" width="2.5" height="4" fill="#3f6aa8"/>
<rect x="435.2" y="439.5" width="4.5" height="4" fill="#8db4da"/>
<rect x="432.7" y="445" width="2.3" height="4" fill="#3f6aa8"/>
<rect x="435" y="445" width="2.3" height="4" fill="#8db4da"/>
<rect x="432.7" y="450.5" width="2.3" height="4" fill="#3f6aa8"/>
<rect x="435" y="450.5" width="2.3" height="4" fill="#8db4da"/>
<line x1="432.2" x2="445.6" y1="244.7" y2="244.7" stroke="#3a3a2a" stroke-width="0.8"/>
<line x1="432.4" x2="432.4" y1="242.6" y2="244.7" stroke="#3a3a2a" stroke-width="0.6"/>
<line x1="434.6" x2="434.6" y1="242.6" y2="244.7" stroke="#3a3a2a" stroke-width="0.6"/>
<line x1="436.8" x2="436.8" y1="242.6" y2="244.7" stroke="#3a3a2a" stroke-width="0.6"/>
<line x1="439" x2="439" y1="242.6" y2="244.7" stroke="#3a3a2a" stroke-width="0.6"/>
<line x1="441.2" x2="441.2" y1="242.6" y2="244.7" stroke="#3a3a2a" stroke-width="0.6"/>
<line x1="443.4" x2="443.4" y1="242.6" y2="244.7" stroke="#3a3a2a" stroke-width="0.6"/>
<line x1="445.6" x2="445.6" y1="242.6" y2="244.7" stroke="#3a3a2a" stroke-width="0.6"/>
<text x="431.8" y="239.6" font-size="4.4" fill="#333">0</text>
<text x="434.0" y="239.6" font-size="4.4" fill="#333">5</text>
<text x="441.8" y="239.6" font-size="4.4" fill="#333">25</text>
<text x="441.5" y="227.8" font-size="4.6" fill="#333" text-anchor="middle">Alterations</text>
<text x="441.5" y="233.6" font-size="4.6" fill="#333" text-anchor="middle">per gene</text>
<text x="460" y="243.4" font-size="4.6" fill="#333" text-anchor="middle">Locus</text>
<rect x="97.8" y="233.56" width="3.8" height="9.54" fill="#fce0a3"/>
<rect x="97.8" y="232.77" width="3.8" height="0.79" fill="#d3302a"/>
<rect x="97.8" y="231.97" width="3.8" height="0.79" fill="#5a5f96"/>
<rect x="97.8" y="230.38" width="3.8" height="1.59" fill="#9b1a2c"/>
<rect x="97.8" y="228" width="3.8" height="2.38" fill="#6aa6bf"/>
<rect x="102.64" y="238.72" width="3.8" height="4.38" fill="#fce0a3"/>
<rect x="102.64" y="234.33" width="3.8" height="4.38" fill="#d3302a"/>
<rect x="102.64" y="231.7" width="3.8" height="2.63" fill="#5a5f96"/>
<rect x="102.64" y="227.31" width="3.8" height="4.38" fill="#9b1a2c"/>
<rect x="102.64" y="226.13" width="3.8" height="1.18" fill="#8eaacb"/>
<rect x="102.64" y="223.5" width="3.8" height="2.63" fill="#6aa6bf"/>
<rect x="107.48" y="235.79" width="3.8" height="7.31" fill="#fce0a3"/>
<rect x="107.48" y="234.17" width="3.8" height="1.62" fill="#d3302a"/>
<rect x="107.48" y="232.54" width="3.8" height="1.62" fill="#9b1a2c"/>
<rect x="107.48" y="231.81" width="3.8" height="0.73" fill="#8eaacb"/>
<rect x="107.48" y="231" width="3.8" height="0.81" fill="#6aa6bf"/>
<rect x="112.32" y="238.01" width="3.8" height="5.09" fill="#fce0a3"/>
<rect x="112.32" y="235.46" width="3.8" height="2.55" fill="#d3302a"/>
<rect x="112.32" y="234.61" width="3.8" height="0.85" fill="#9b1a2c"/>
<rect x="112.32" y="233.85" width="3.8" height="0.76" fill="#8eaacb"/>
<rect x="112.32" y="233" width="3.8" height="0.85" fill="#6aa6bf"/>
<rect x="117.16" y="231.8" width="3.8" height="11.3" fill="#fce0a3"/>
<rect x="117.16" y="227.09" width="3.8" height="4.71" fill="#d3302a"/>
<rect x="117.16" y="225.2" width="3.8" height="1.88" fill="#5a5f96"/>
<rect x="117.16" y="223.32" width="3.8" height="1.88" fill="#9b1a2c"/>
<rect x="117.16" y="221.63" width="3.8" height="1.7" fill="#8eaacb"/>
<rect x="117.16" y="218.8" width="3.8" height="2.83" fill="#6aa6bf"/>
<rect x="122" y="236.29" width="3.8" height="6.81" fill="#fce0a3"/>
<rect x="122" y="234.02" width="3.8" height="2.27" fill="#d3302a"/>
<rect x="122" y="233.26" width="3.8" height="0.76" fill="#5a5f96"/>
<rect x="122" y="230.99" width="3.8" height="2.27" fill="#9b1a2c"/>
<rect x="122" y="230.31" width="3.8" height="0.68" fill="#8eaacb"/>
<rect x="122" y="228.8" width="3.8" height="1.51" fill="#6aa6bf"/>
<rect x="126.84" y="240.71" width="3.8" height="2.39" fill="#fce0a3"/>
<rect x="126.84" y="238.32" width="3.8" height="2.39" fill="#d3302a"/>
<rect x="126.84" y="237.53" width="3.8" height="0.8" fill="#5a5f96"/>
<rect x="126.84" y="232.75" width="3.8" height="4.78" fill="#9b1a2c"/>
<rect x="126.84" y="232.4" width="3.8" height="0.36" fill="#8eaacb"/>
<rect x="126.84" y="231.6" width="3.8" height="0.8" fill="#6aa6bf"/>
<rect x="131.68" y="239.43" width="3.8" height="3.67" fill="#fce0a3"/>
<rect x="131.68" y="237.23" width="3.8" height="2.2" fill="#9b1a2c"/>
<rect x="131.68" y="236.5" width="3.8" height="0.73" fill="#6aa6bf"/>
<rect x="136.52" y="238.57" width="3.8" height="4.53" fill="#fce0a3"/>
<rect x="136.52" y="237.66" width="3.8" height="0.91" fill="#d3302a"/>
<rect x="136.52" y="234.94" width="3.8" height="2.72" fill="#9b1a2c"/>
<rect x="136.52" y="232.91" width="3.8" height="2.04" fill="#8eaacb"/>
<rect x="136.52" y="232" width="3.8" height="0.91" fill="#6aa6bf"/>
<rect x="141.36" y="233.42" width="3.8" height="9.68" fill="#fce0a3"/>
<rect x="141.36" y="232.61" width="3.8" height="0.81" fill="#5a5f96"/>
<rect x="141.36" y="231.81" width="3.8" height="0.81" fill="#9b1a2c"/>
<rect x="141.36" y="231" width="3.8" height="0.81" fill="#6aa6bf"/>
<rect x="146.2" y="239.01" width="3.8" height="4.09" fill="#fce0a3"/>
<rect x="146.2" y="237.99" width="3.8" height="1.02" fill="#d3302a"/>
<rect x="146.2" y="236.97" width="3.8" height="1.02" fill="#9b1a2c"/>
<rect x="146.2" y="236.04" width="3.8" height="0.92" fill="#8eaacb"/>
<rect x="146.2" y="234" width="3.8" height="2.04" fill="#6aa6bf"/>
<rect x="151.04" y="237.18" width="3.8" height="5.92" fill="#fce0a3"/>
<rect x="151.04" y="233.8" width="3.8" height="3.38" fill="#d3302a"/>
<rect x="151.04" y="230.42" width="3.8" height="3.38" fill="#5a5f96"/>
<rect x="151.04" y="226.19" width="3.8" height="4.23" fill="#9b1a2c"/>
<rect x="151.04" y="224.5" width="3.8" height="1.69" fill="#6aa6bf"/>
<rect x="155.88" y="242.01" width="3.8" height="1.09" fill="#fce0a3"/>
<rect x="155.88" y="240.93" width="3.8" height="1.09" fill="#d3302a"/>
<rect x="155.88" y="240.69" width="3.8" height="0.24" fill="#8eaacb"/>
<rect x="155.88" y="239.6" width="3.8" height="1.09" fill="#6aa6bf"/>
<rect x="160.72" y="240.4" width="3.8" height="2.7" fill="#fce0a3"/>
<rect x="160.72" y="239.51" width="3.8" height="0.9" fill="#d3302a"/>
<rect x="160.72" y="235.91" width="3.8" height="3.59" fill="#9b1a2c"/>
<rect x="160.72" y="234.7" width="3.8" height="1.21" fill="#8eaacb"/>
<rect x="160.72" y="233.8" width="3.8" height="0.9" fill="#6aa6bf"/>
<rect x="165.56" y="238.11" width="3.8" height="4.99" fill="#fce0a3"/>
<rect x="165.56" y="236.45" width="3.8" height="1.66" fill="#d3302a"/>
<rect x="165.56" y="235.62" width="3.8" height="0.83" fill="#5a5f96"/>
<rect x="165.56" y="234.79" width="3.8" height="0.83" fill="#9b1a2c"/>
<rect x="165.56" y="233.66" width="3.8" height="1.12" fill="#8eaacb"/>
<rect x="165.56" y="232" width="3.8" height="1.66" fill="#6aa6bf"/>
<rect x="170.4" y="237.94" width="3.8" height="5.16" fill="#fce0a3"/>
<rect x="170.4" y="237.27" width="3.8" height="0.66" fill="#8eaacb"/>
<rect x="170.4" y="235.8" width="3.8" height="1.47" fill="#6aa6bf"/>
<rect x="175.24" y="238.73" width="3.8" height="4.37" fill="#fce0a3"/>
<rect x="175.24" y="237.85" width="3.8" height="0.87" fill="#d3302a"/>
<rect x="175.24" y="236.67" width="3.8" height="1.18" fill="#8eaacb"/>
<rect x="175.24" y="235.8" width="3.8" height="0.87" fill="#6aa6bf"/>
<rect x="180.08" y="241.89" width="3.8" height="1.21" fill="#fce0a3"/>
<rect x="180.08" y="240.08" width="3.8" height="1.81" fill="#d3302a"/>
<rect x="180.08" y="239.48" width="3.8" height="0.6" fill="#9b1a2c"/>
<rect x="180.08" y="239.21" width="3.8" height="0.27" fill="#8eaacb"/>
<rect x="180.08" y="238" width="3.8" height="1.21" fill="#6aa6bf"/>
<rect x="184.92" y="240.59" width="3.8" height="2.51" fill="#fce0a3"/>
<rect x="184.92" y="238.92" width="3.8" height="1.67" fill="#d3302a"/>
<rect x="184.92" y="238.09" width="3.8" height="0.84" fill="#5a5f96"/>
<rect x="184.92" y="237.34" width="3.8" height="0.75" fill="#8eaacb"/>
<rect x="184.92" y="236.5" width="3.8" height="0.84" fill="#6aa6bf"/>
<rect x="189.76" y="242.12" width="3.8" height="0.98" fill="#fce0a3"/>
<rect x="189.76" y="241.13" width="3.8" height="0.98" fill="#d3302a"/>
<rect x="189.76" y="239.17" width="3.8" height="1.97" fill="#9b1a2c"/>
<rect x="189.76" y="238.28" width="3.8" height="0.88" fill="#8eaacb"/>
<rect x="189.76" y="237.3" width="3.8" height="0.98" fill="#6aa6bf"/>
<rect x="194.6" y="239.76" width="3.8" height="3.34" fill="#fce0a3"/>
<rect x="194.6" y="238.09" width="3.8" height="1.67" fill="#9b1a2c"/>
<rect x="194.6" y="237.34" width="3.8" height="0.75" fill="#8eaacb"/>
<rect x="194.6" y="236.5" width="3.8" height="0.84" fill="#6aa6bf"/>
<rect x="199.44" y="240.89" width="3.8" height="2.21" fill="#9b1a2c"/>
<rect x="199.44" y="239.9" width="3.8" height="0.99" fill="#8eaacb"/>
<rect x="199.44" y="238.8" width="3.8" height="1.1" fill="#6aa6bf"/>
<rect x="204.28" y="241.42" width="3.8" height="1.68" fill="#fce0a3"/>
<rect x="204.28" y="241" width="3.8" height="0.42" fill="#6aa6bf"/>
<rect x="209.12" y="241.17" width="3.8" height="1.93" fill="#fce0a3"/>
<rect x="209.12" y="240.2" width="3.8" height="0.97" fill="#5a5f96"/>
<rect x="209.12" y="239.77" width="3.8" height="0.43" fill="#8eaacb"/>
<rect x="209.12" y="238.8" width="3.8" height="0.97" fill="#6aa6bf"/>
<rect x="213.96" y="242.98" width="3.8" height="0.12" fill="#9b1a2c"/>
<rect x="213.96" y="242.5" width="3.8" height="0.48" fill="#6aa6bf"/>
<rect x="218.8" y="239.66" width="3.8" height="3.44" fill="#fce0a3"/>
<rect x="218.8" y="238.52" width="3.8" height="1.15" fill="#5a5f96"/>
<rect x="218.8" y="238" width="3.8" height="0.52" fill="#8eaacb"/>
<rect x="223.64" y="241.06" width="3.8" height="2.04" fill="#fce0a3"/>
<rect x="223.64" y="240.04" width="3.8" height="1.02" fill="#5a5f96"/>
<rect x="223.64" y="238" width="3.8" height="2.04" fill="#6aa6bf"/>
<rect x="228.48" y="240.47" width="3.8" height="2.63" fill="#fce0a3"/>
<rect x="228.48" y="239.6" width="3.8" height="0.88" fill="#5a5f96"/>
<rect x="228.48" y="237.63" width="3.8" height="1.97" fill="#8eaacb"/>
<rect x="228.48" y="235" width="3.8" height="2.63" fill="#6aa6bf"/>
<rect x="233.32" y="238.57" width="3.8" height="4.53" fill="#fce0a3"/>
<rect x="233.32" y="236.76" width="3.8" height="1.81" fill="#d3302a"/>
<rect x="233.32" y="235.85" width="3.8" height="0.91" fill="#5a5f96"/>
<rect x="233.32" y="234.94" width="3.8" height="0.91" fill="#9b1a2c"/>
<rect x="233.32" y="233.72" width="3.8" height="1.22" fill="#8eaacb"/>
<rect x="233.32" y="231" width="3.8" height="2.72" fill="#6aa6bf"/>
<rect x="238.16" y="239.5" width="3.8" height="3.6" fill="#fce0a3"/>
<rect x="238.16" y="238.9" width="3.8" height="0.6" fill="#d3302a"/>
<rect x="238.16" y="238.3" width="3.8" height="0.6" fill="#5a5f96"/>
<rect x="238.16" y="236.5" width="3.8" height="1.8" fill="#6aa6bf"/>
<rect x="243" y="240.62" width="3.8" height="2.47" fill="#fce0a3"/>
<rect x="243" y="239.8" width="3.8" height="0.82" fill="#5a5f96"/>
<rect x="243" y="236.5" width="3.8" height="3.3" fill="#9b1a2c"/>
<rect x="247.84" y="241.18" width="3.8" height="1.92" fill="#fce0a3"/>
<rect x="247.84" y="238.31" width="3.8" height="2.88" fill="#5a5f96"/>
<rect x="247.84" y="237.35" width="3.8" height="0.96" fill="#9b1a2c"/>
<rect x="247.84" y="236.92" width="3.8" height="0.43" fill="#8eaacb"/>
<rect x="247.84" y="235" width="3.8" height="1.92" fill="#6aa6bf"/>
<rect x="252.68" y="240.58" width="3.8" height="2.52" fill="#fce0a3"/>
<rect x="252.68" y="239.74" width="3.8" height="0.84" fill="#9b1a2c"/>
<rect x="252.68" y="238.98" width="3.8" height="0.76" fill="#8eaacb"/>
<rect x="252.68" y="237.3" width="3.8" height="1.68" fill="#6aa6bf"/>
<rect x="257.52" y="239.65" width="3.8" height="3.45" fill="#fce0a3"/>
<rect x="257.52" y="238.5" width="3.8" height="1.15" fill="#5a5f96"/>
<rect x="257.52" y="236.95" width="3.8" height="1.55" fill="#8eaacb"/>
<rect x="257.52" y="235.8" width="3.8" height="1.15" fill="#6aa6bf"/>
<rect x="262.36" y="240.88" width="3.8" height="2.22" fill="#fce0a3"/>
<rect x="262.36" y="240.14" width="3.8" height="0.74" fill="#9b1a2c"/>
<rect x="262.36" y="239.48" width="3.8" height="0.67" fill="#8eaacb"/>
<rect x="262.36" y="238" width="3.8" height="1.48" fill="#6aa6bf"/>
<rect x="267.2" y="238.98" width="3.8" height="4.12" fill="#fce0a3"/>
<rect x="267.2" y="238.3" width="3.8" height="0.69" fill="#9b1a2c"/>
<rect x="267.2" y="237.99" width="3.8" height="0.31" fill="#8eaacb"/>
<rect x="267.2" y="237.3" width="3.8" height="0.69" fill="#6aa6bf"/>
<rect x="272.04" y="238.7" width="3.8" height="4.4" fill="#fce0a3"/>
<rect x="272.04" y="237.97" width="3.8" height="0.73" fill="#9b1a2c"/>
<rect x="272.04" y="236.5" width="3.8" height="1.47" fill="#6aa6bf"/>
<rect x="276.88" y="238.91" width="3.8" height="4.19" fill="#fce0a3"/>
<rect x="276.88" y="238.21" width="3.8" height="0.7" fill="#9b1a2c"/>
<rect x="276.88" y="237.9" width="3.8" height="0.31" fill="#8eaacb"/>
<rect x="276.88" y="236.5" width="3.8" height="1.4" fill="#6aa6bf"/>
<rect x="281.72" y="240.63" width="3.8" height="2.47" fill="#fce0a3"/>
<rect x="281.72" y="238.17" width="3.8" height="2.47" fill="#9b1a2c"/>
<rect x="281.72" y="236.5" width="3.8" height="1.67" fill="#8eaacb"/>
<rect x="286.56" y="241.1" width="3.8" height="2" fill="#fce0a3"/>
<rect x="286.56" y="239.77" width="3.8" height="1.33" fill="#5a5f96"/>
<rect x="286.56" y="239.1" width="3.8" height="0.67" fill="#9b1a2c"/>
<rect x="286.56" y="238.8" width="3.8" height="0.3" fill="#8eaacb"/>
<rect x="291.4" y="242.46" width="3.8" height="0.64" fill="#d3302a"/>
<rect x="291.4" y="241.17" width="3.8" height="1.28" fill="#5a5f96"/>
<rect x="291.4" y="240.53" width="3.8" height="0.64" fill="#9b1a2c"/>
<rect x="291.4" y="240.24" width="3.8" height="0.29" fill="#8eaacb"/>
<rect x="291.4" y="239.6" width="3.8" height="0.64" fill="#6aa6bf"/>
<rect x="296.24" y="240.38" width="3.8" height="2.72" fill="#fce0a3"/>
<rect x="296.24" y="237.65" width="3.8" height="2.72" fill="#d3302a"/>
<rect x="296.24" y="236.02" width="3.8" height="1.63" fill="#8eaacb"/>
<rect x="296.24" y="234.2" width="3.8" height="1.82" fill="#6aa6bf"/>
<rect x="301.08" y="242.3" width="3.8" height="0.8" fill="#fce0a3"/>
<rect x="301.08" y="239.1" width="3.8" height="3.2" fill="#d3302a"/>
<rect x="301.08" y="234.3" width="3.8" height="4.8" fill="#9b1a2c"/>
<rect x="301.08" y="233.5" width="3.8" height="0.8" fill="#6aa6bf"/>
<rect x="305.92" y="241.81" width="3.8" height="1.29" fill="#fce0a3"/>
<rect x="305.92" y="239.88" width="3.8" height="1.93" fill="#d3302a"/>
<rect x="305.92" y="239.24" width="3.8" height="0.64" fill="#5a5f96"/>
<rect x="305.92" y="238.37" width="3.8" height="0.87" fill="#8eaacb"/>
<rect x="305.92" y="235.8" width="3.8" height="2.57" fill="#6aa6bf"/>
<rect x="310.76" y="240.5" width="3.8" height="2.6" fill="#fce0a3"/>
<rect x="310.76" y="237.9" width="3.8" height="2.6" fill="#d3302a"/>
<rect x="310.76" y="237.04" width="3.8" height="0.87" fill="#9b1a2c"/>
<rect x="310.76" y="235.87" width="3.8" height="1.17" fill="#8eaacb"/>
<rect x="310.76" y="235" width="3.8" height="0.87" fill="#6aa6bf"/>
<rect x="315.6" y="241.44" width="3.8" height="1.66" fill="#fce0a3"/>
<rect x="315.6" y="239.77" width="3.8" height="1.66" fill="#d3302a"/>
<rect x="315.6" y="238.11" width="3.8" height="1.66" fill="#5a5f96"/>
<rect x="315.6" y="236.45" width="3.8" height="1.66" fill="#9b1a2c"/>
<rect x="315.6" y="235.33" width="3.8" height="1.12" fill="#8eaacb"/>
<rect x="315.6" y="232" width="3.8" height="3.33" fill="#6aa6bf"/>
<rect x="320.44" y="238.6" width="3.8" height="4.5" fill="#fce0a3"/>
<rect x="320.44" y="237.48" width="3.8" height="1.12" fill="#d3302a"/>
<rect x="320.44" y="236.35" width="3.8" height="1.12" fill="#5a5f96"/>
<rect x="320.44" y="235.23" width="3.8" height="1.12" fill="#9b1a2c"/>
<rect x="320.44" y="232.7" width="3.8" height="2.53" fill="#8eaacb"/>
<rect x="325.28" y="242.8" width="3.8" height="0.3" fill="#fce0a3"/>
<rect x="325.28" y="242.5" width="3.8" height="0.3" fill="#6aa6bf"/>
<rect x="330.12" y="242.73" width="3.8" height="0.37" fill="#d3302a"/>
<rect x="330.12" y="242.37" width="3.8" height="0.37" fill="#5a5f96"/>
<rect x="330.12" y="242" width="3.8" height="0.37" fill="#6aa6bf"/>
<rect x="334.96" y="240.9" width="3.8" height="2.2" fill="#fce0a3"/>
<rect x="334.96" y="236.51" width="3.8" height="4.39" fill="#d3302a"/>
<rect x="334.96" y="232.86" width="3.8" height="3.66" fill="#5a5f96"/>
<rect x="334.96" y="232.12" width="3.8" height="0.73" fill="#9b1a2c"/>
<rect x="334.96" y="231.8" width="3.8" height="0.33" fill="#8eaacb"/>
<rect x="334.96" y="229.6" width="3.8" height="2.2" fill="#6aa6bf"/>
<rect x="339.8" y="242.36" width="3.8" height="0.74" fill="#fce0a3"/>
<rect x="339.8" y="237.93" width="3.8" height="4.43" fill="#d3302a"/>
<rect x="339.8" y="235.72" width="3.8" height="2.22" fill="#5a5f96"/>
<rect x="339.8" y="233.5" width="3.8" height="2.22" fill="#6aa6bf"/>
<rect x="344.64" y="240.52" width="3.8" height="2.58" fill="#fce0a3"/>
<rect x="344.64" y="236.22" width="3.8" height="4.3" fill="#d3302a"/>
<rect x="344.64" y="233.63" width="3.8" height="2.58" fill="#5a5f96"/>
<rect x="344.64" y="232.86" width="3.8" height="0.77" fill="#8eaacb"/>
<rect x="344.64" y="232" width="3.8" height="0.86" fill="#6aa6bf"/>
<rect x="349.48" y="242.91" width="3.8" height="0.19" fill="#8eaacb"/>
<rect x="349.48" y="242.5" width="3.8" height="0.41" fill="#6aa6bf"/>
<rect x="354.32" y="242.05" width="3.8" height="1.05" fill="#5a5f96"/>
<rect x="354.32" y="241.52" width="3.8" height="0.53" fill="#9b1a2c"/>
<rect x="354.32" y="241" width="3.8" height="0.53" fill="#6aa6bf"/>
<rect x="359.16" y="241.28" width="3.8" height="1.82" fill="#5a5f96"/>
<rect x="359.16" y="241.01" width="3.8" height="0.27" fill="#8eaacb"/>
<rect x="359.16" y="240.4" width="3.8" height="0.61" fill="#6aa6bf"/>
<rect x="364" y="242.8" width="3.8" height="0.3" fill="#9b1a2c"/>
<rect x="364" y="242.5" width="3.8" height="0.3" fill="#6aa6bf"/>
<rect x="368.84" y="241.44" width="3.8" height="1.66" fill="#fce0a3"/>
<rect x="368.84" y="238.96" width="3.8" height="2.49" fill="#5a5f96"/>
<rect x="368.84" y="237.3" width="3.8" height="1.66" fill="#9b1a2c"/>
<rect x="373.68" y="242.45" width="3.8" height="0.65" fill="#fce0a3"/>
<rect x="373.68" y="240.52" width="3.8" height="1.94" fill="#5a5f96"/>
<rect x="373.68" y="239.94" width="3.8" height="0.58" fill="#8eaacb"/>
<rect x="373.68" y="238" width="3.8" height="1.94" fill="#6aa6bf"/>
<rect x="378.52" y="240.64" width="3.8" height="2.46" fill="#fce0a3"/>
<rect x="378.52" y="239.42" width="3.8" height="1.23" fill="#5a5f96"/>
<rect x="378.52" y="239.14" width="3.8" height="0.28" fill="#8eaacb"/>
<rect x="378.52" y="237.3" width="3.8" height="1.84" fill="#6aa6bf"/>
<rect x="383.36" y="242.63" width="3.8" height="0.47" fill="#fce0a3"/>
<rect x="383.36" y="241.69" width="3.8" height="0.94" fill="#d3302a"/>
<rect x="383.36" y="241.22" width="3.8" height="0.47" fill="#9b1a2c"/>
<rect x="383.36" y="241.01" width="3.8" height="0.21" fill="#8eaacb"/>
<rect x="383.36" y="239.6" width="3.8" height="1.41" fill="#6aa6bf"/>
<rect x="388.2" y="242.49" width="3.8" height="0.61" fill="#fce0a3"/>
<rect x="388.2" y="241.28" width="3.8" height="1.21" fill="#5a5f96"/>
<rect x="388.2" y="241.01" width="3.8" height="0.27" fill="#8eaacb"/>
<rect x="388.2" y="240.4" width="3.8" height="0.61" fill="#6aa6bf"/>
<rect x="393.04" y="240.34" width="3.8" height="2.76" fill="#fce0a3"/>
<rect x="393.04" y="238.5" width="3.8" height="1.84" fill="#5a5f96"/>
<rect x="393.04" y="236.84" width="3.8" height="1.66" fill="#8eaacb"/>
<rect x="393.04" y="235" width="3.8" height="1.84" fill="#6aa6bf"/>
<rect x="397.88" y="242.55" width="3.8" height="0.55" fill="#5a5f96"/>
<rect x="397.88" y="242" width="3.8" height="0.55" fill="#6aa6bf"/>
<line x1="96.7" x2="96.7" y1="220.1" y2="243.1" stroke="#333" stroke-width="0.55"/>
<line x1="95.4" x2="96.7" y1="243.1" y2="243.1" stroke="#333" stroke-width="0.45"/>
<text x="92.0" y="243.1" font-size="3.9" fill="#444" text-anchor="middle" transform="rotate(-90 92.0 243.1)">0</text>
<line x1="95.4" x2="96.7" y1="238.5" y2="238.5" stroke="#333" stroke-width="0.45"/>
<text x="92.0" y="238.5" font-size="3.9" fill="#444" text-anchor="middle" transform="rotate(-90 92.0 238.5)">5</text>
<line x1="95.4" x2="96.7" y1="233.9" y2="233.9" stroke="#333" stroke-width="0.45"/>
<text x="92.0" y="233.9" font-size="3.9" fill="#444" text-anchor="middle" transform="rotate(-90 92.0 233.9)">10</text>
<line x1="95.4" x2="96.7" y1="229.3" y2="229.3" stroke="#333" stroke-width="0.45"/>
<text x="92.0" y="229.3" font-size="3.9" fill="#444" text-anchor="middle" transform="rotate(-90 92.0 229.3)">15</text>
<line x1="95.4" x2="96.7" y1="224.7" y2="224.7" stroke="#333" stroke-width="0.45"/>
<text x="92.0" y="224.7" font-size="3.9" fill="#444" text-anchor="middle" transform="rotate(-90 92.0 224.7)">20</text>
<line x1="95.4" x2="96.7" y1="220.1" y2="220.1" stroke="#333" stroke-width="0.45"/>
<text x="92.0" y="220.1" font-size="3.9" fill="#444" text-anchor="middle" transform="rotate(-90 92.0 220.1)">25</text>
<text x="80" y="231.5" font-size="4.8" fill="#333" text-anchor="middle" transform="rotate(-90 80 231.5)">Alterations</text>
<text x="85.6" y="231.5" font-size="4.8" fill="#333" text-anchor="middle" transform="rotate(-90 85.6 231.5)">per sample</text>
<rect x="97.8" y="456.8" width="3.8" height="3.4" fill="#dcdbe3"/>
<rect x="97.8" y="461.5" width="3.8" height="3.4" fill="#c9161f"/>
<rect x="97.8" y="466.1" width="3.8" height="3.4" fill="#7b3f9a"/>
<rect x="97.8" y="472.9" width="3.8" height="3.4" fill="#efedf7"/>
<rect x="97.8" y="478" width="3.8" height="3.4" fill="#c8dcee"/>
<rect x="97.8" y="484.5" width="3.8" height="3.4" fill="#3f3f3f"/>
<rect x="97.8" y="495.7" width="3.8" height="3.4" fill="#3f3f3f"/>
<rect x="97.8" y="500.5" width="3.8" height="3.4" fill="#3f3f3f"/>
<rect x="102.64" y="456.8" width="3.8" height="3.4" fill="#454545"/>
<rect x="102.64" y="461.5" width="3.8" height="3.4" fill="#3aa346"/>
<rect x="102.64" y="466.1" width="3.8" height="3.4" fill="#42a74a"/>
<rect x="102.64" y="472.9" width="3.8" height="3.4" fill="#efedf7"/>
<rect x="102.64" y="478" width="3.8" height="3.4" fill="#c8dcee"/>
<rect x="102.64" y="484.5" width="3.8" height="3.4" fill="#3f3f3f"/>
<text x="104.54" y="493.9" font-size="5.2" fill="#444" text-anchor="middle">g</text>
<rect x="107.48" y="456.8" width="3.8" height="3.4" fill="#454545"/>
<rect x="107.48" y="461.5" width="3.8" height="3.4" fill="#3aa346"/>
<rect x="107.48" y="466.1" width="3.8" height="3.4" fill="#e8892f"/>
<rect x="107.48" y="472.9" width="3.8" height="3.4" fill="#56468f"/>
<rect x="107.48" y="478" width="3.8" height="3.4" fill="#c8dcee"/>
<rect x="107.48" y="484.5" width="3.8" height="3.4" fill="#3f3f3f"/>
<rect x="112.32" y="456.8" width="3.8" height="3.4" fill="#454545"/>
<rect x="112.32" y="461.5" width="3.8" height="3.4" fill="#3aa346"/>
<rect x="112.32" y="466.1" width="3.8" height="3.4" fill="#42a74a"/>
<rect x="112.32" y="472.9" width="3.8" height="3.4" fill="#efedf7"/>
<rect x="112.32" y="478" width="3.8" height="3.4" fill="#c8dcee"/>
<rect x="112.32" y="484.5" width="3.8" height="3.4" fill="#3f3f3f"/>
<text x="114.22" y="493.9" font-size="5.2" fill="#444" text-anchor="middle">h</text>
<rect x="117.16" y="456.8" width="3.8" height="3.4" fill="#dcdbe3"/>
<rect x="117.16" y="461.5" width="3.8" height="3.4" fill="#c9161f"/>
<rect x="117.16" y="466.1" width="3.8" height="3.4" fill="#42a74a"/>
<rect x="117.16" y="472.9" width="3.8" height="3.4" fill="#efedf7"/>
<rect x="117.16" y="478" width="3.8" height="3.4" fill="#79afd6"/>
<rect x="117.16" y="484.5" width="3.8" height="3.4" fill="#3f3f3f"/>
<rect x="117.16" y="500.5" width="3.8" height="3.4" fill="#3f3f3f"/>
<rect x="122" y="456.8" width="3.8" height="3.4" fill="#454545"/>
<rect x="122" y="461.5" width="3.8" height="3.4" fill="#3aa346"/>
<rect x="122" y="466.1" width="3.8" height="3.4" fill="#42a74a"/>
<rect x="122" y="472.9" width="3.8" height="3.4" fill="#cfcbe5"/>
<rect x="122" y="478" width="3.8" height="3.4" fill="#79afd6"/>
<rect x="122" y="484.5" width="3.8" height="3.4" fill="#3f3f3f"/>
<text x="123.9" y="493.9" font-size="5.2" fill="#444" text-anchor="middle">g</text>
<rect x="126.84" y="456.8" width="3.8" height="3.4" fill="#454545"/>
<rect x="126.84" y="461.5" width="3.8" height="3.4" fill="#c9161f"/>
<rect x="126.84" y="466.1" width="3.8" height="3.4" fill="#e8892f"/>
<rect x="126.84" y="472.9" width="3.8" height="3.4" fill="#efedf7"/>
<rect x="126.84" y="478" width="3.8" height="3.4" fill="#79afd6"/>
<rect x="126.84" y="484.5" width="3.8" height="3.4" fill="#3f3f3f"/>
<rect x="131.68" y="456.8" width="3.8" height="3.4" fill="#dcdbe3"/>
<rect x="131.68" y="461.5" width="3.8" height="3.4" fill="#3aa346"/>
<rect x="131.68" y="466.1" width="3.8" height="3.4" fill="#e8892f"/>
<rect x="131.68" y="472.9" width="3.8" height="3.4" fill="#9f98c9"/>
<rect x="131.68" y="478" width="3.8" height="3.4" fill="#c8dcee"/>
<rect x="131.68" y="484.5" width="3.8" height="3.4" fill="#3f3f3f"/>
<rect x="136.52" y="456.8" width="3.8" height="3.4" fill="#dcdbe3"/>
<rect x="136.52" y="461.5" width="3.8" height="3.4" fill="#2b6cb0"/>
<rect x="136.52" y="466.1" width="3.8" height="3.4" fill="#7b3f9a"/>
<rect x="136.52" y="472.9" width="3.8" height="3.4" fill="#cfcbe5"/>
<rect x="136.52" y="478" width="3.8" height="3.4" fill="#c8dcee"/>
<rect x="136.52" y="484.5" width="3.8" height="3.4" fill="#3f3f3f"/>
<rect x="136.52" y="495.7" width="3.8" height="3.4" fill="#3f3f3f"/>
<text x="138.42" y="493.9" font-size="5.2" fill="#444" text-anchor="middle">f</text>
<rect x="141.36" y="456.8" width="3.8" height="3.4" fill="#dcdbe3"/>
<rect x="141.36" y="461.5" width="3.8" height="3.4" fill="#c9161f"/>
<rect x="141.36" y="466.1" width="3.8" height="3.4" fill="#42a74a"/>
<rect x="141.36" y="495.7" width="3.8" height="3.4" fill="#3f3f3f"/>
<rect x="141.36" y="500.5" width="3.8" height="3.4" fill="#cfcfcf"/>
<rect x="146.2" y="456.8" width="3.8" height="3.4" fill="#454545"/>
<rect x="146.2" y="461.5" width="3.8" height="3.4" fill="#c9161f"/>
<rect x="146.2" y="466.1" width="3.8" height="3.4" fill="#7b3f9a"/>
<rect x="146.2" y="472.9" width="3.8" height="3.4" fill="#9f98c9"/>
<rect x="146.2" y="478" width="3.8" height="3.4" fill="#c8dcee"/>
<rect x="146.2" y="484.5" width="3.8" height="3.4" fill="#3f3f3f"/>
<rect x="146.2" y="495.7" width="3.8" height="3.4" fill="#3f3f3f"/>
<rect x="151.04" y="456.8" width="3.8" height="3.4" fill="#454545"/>
<rect x="151.04" y="461.5" width="3.8" height="3.4" fill="#c9161f"/>
<rect x="151.04" y="466.1" width="3.8" height="3.4" fill="#7b3f9a"/>
<rect x="151.04" y="478" width="3.8" height="3.4" fill="#79afd6"/>
<rect x="151.04" y="484.5" width="3.8" height="3.4" fill="#3f3f3f"/>
<rect x="151.04" y="495.7" width="3.8" height="3.4" fill="#3f3f3f"/>
<rect x="155.88" y="456.8" width="3.8" height="3.4" fill="#454545"/>
<rect x="155.88" y="461.5" width="3.8" height="3.4" fill="#3aa346"/>
<rect x="155.88" y="466.1" width="3.8" height="3.4" fill="#e8892f"/>
<rect x="155.88" y="472.9" width="3.8" height="3.4" fill="#cfcbe5"/>
<rect x="155.88" y="478" width="3.8" height="3.4" fill="#c8dcee"/>
<rect x="155.88" y="484.5" width="3.8" height="3.4" fill="#3f3f3f"/>
<rect x="160.72" y="456.8" width="3.8" height="3.4" fill="#454545"/>
<rect x="160.72" y="461.5" width="3.8" height="3.4" fill="#3aa346"/>
<rect x="160.72" y="466.1" width="3.8" height="3.4" fill="#e8892f"/>
<rect x="160.72" y="472.9" width="3.8" height="3.4" fill="#cfcbe5"/>
<rect x="160.72" y="478" width="3.8" height="3.4" fill="#c8dcee"/>
<rect x="160.72" y="484.5" width="3.8" height="3.4" fill="#3f3f3f"/>
<rect x="165.56" y="456.8" width="3.8" height="3.4" fill="#dcdbe3"/>
<rect x="165.56" y="461.5" width="3.8" height="3.4" fill="#c9161f"/>
<rect x="165.56" y="466.1" width="3.8" height="3.4" fill="#42a74a"/>
<rect x="165.56" y="472.9" width="3.8" height="3.4" fill="#efedf7"/>
<rect x="165.56" y="478" width="3.8" height="3.4" fill="#c8dcee"/>
<rect x="165.56" y="484.5" width="3.8" height="3.4" fill="#3f3f3f"/>
<rect x="165.56" y="500.5" width="3.8" height="3.4" fill="#3f3f3f"/>
<rect x="170.4" y="456.8" width="3.8" height="3.4" fill="#454545"/>
<rect x="170.4" y="461.5" width="3.8" height="3.4" fill="#c9161f"/>
<rect x="170.4" y="466.1" width="3.8" height="3.4" fill="#42a74a"/>
<rect x="170.4" y="472.9" width="3.8" height="3.4" fill="#9f98c9"/>
<rect x="170.4" y="478" width="3.8" height="3.4" fill="#2f78b8"/>
<rect x="170.4" y="484.5" width="3.8" height="3.4" fill="#3f3f3f"/>
<rect x="170.4" y="495.7" width="3.8" height="3.4" fill="#3f3f3f"/>
<rect x="175.24" y="456.8" width="3.8" height="3.4" fill="#dcdbe3"/>
<rect x="175.24" y="461.5" width="3.8" height="3.4" fill="#3aa346"/>
<rect x="175.24" y="466.1" width="3.8" height="3.4" fill="#e8892f"/>
<rect x="175.24" y="472.9" width="3.8" height="3.4" fill="#56468f"/>
<rect x="175.24" y="478" width="3.8" height="3.4" fill="#79afd6"/>
<rect x="175.24" y="484.5" width="3.8" height="3.4" fill="#3f3f3f"/>
<rect x="180.08" y="456.8" width="3.8" height="3.4" fill="#dcdbe3"/>
<rect x="180.08" y="461.5" width="3.8" height="3.4" fill="#3aa346"/>
<rect x="180.08" y="466.1" width="3.8" height="3.4" fill="#e8892f"/>
<rect x="180.08" y="472.9" width="3.8" height="3.4" fill="#56468f"/>
<rect x="180.08" y="478" width="3.8" height="3.4" fill="#c8dcee"/>
<rect x="180.08" y="484.5" width="3.8" height="3.4" fill="#3f3f3f"/>
<rect x="184.92" y="456.8" width="3.8" height="3.4" fill="#454545"/>
<rect x="184.92" y="461.5" width="3.8" height="3.4" fill="#3aa346"/>
<rect x="184.92" y="466.1" width="3.8" height="3.4" fill="#e8892f"/>
<rect x="184.92" y="472.9" width="3.8" height="3.4" fill="#efedf7"/>
<rect x="184.92" y="478" width="3.8" height="3.4" fill="#c8dcee"/>
<rect x="184.92" y="484.5" width="3.8" height="3.4" fill="#3f3f3f"/>
<rect x="189.76" y="456.8" width="3.8" height="3.4" fill="#454545"/>
<rect x="189.76" y="461.5" width="3.8" height="3.4" fill="#c9161f"/>
<rect x="189.76" y="466.1" width="3.8" height="3.4" fill="#e8892f"/>
<rect x="189.76" y="472.9" width="3.8" height="3.4" fill="#efedf7"/>
<rect x="189.76" y="478" width="3.8" height="3.4" fill="#c8dcee"/>
<rect x="189.76" y="484.5" width="3.8" height="3.4" fill="#3f3f3f"/>
<rect x="194.6" y="456.8" width="3.8" height="3.4" fill="#dcdbe3"/>
<rect x="194.6" y="461.5" width="3.8" height="3.4" fill="#3aa346"/>
<rect x="194.6" y="466.1" width="3.8" height="3.4" fill="#e8892f"/>
<rect x="194.6" y="472.9" width="3.8" height="3.4" fill="#efedf7"/>
<rect x="194.6" y="478" width="3.8" height="3.4" fill="#c8dcee"/>
<rect x="194.6" y="484.5" width="3.8" height="3.4" fill="#3f3f3f"/>
<rect x="199.44" y="456.8" width="3.8" height="3.4" fill="#dcdbe3"/>
<rect x="199.44" y="461.5" width="3.8" height="3.4" fill="#3aa346"/>
<rect x="199.44" y="466.1" width="3.8" height="3.4" fill="#e8892f"/>
<rect x="199.44" y="472.9" width="3.8" height="3.4" fill="#efedf7"/>
<rect x="199.44" y="478" width="3.8" height="3.4" fill="#c8dcee"/>
<rect x="199.44" y="484.5" width="3.8" height="3.4" fill="#3f3f3f"/>
<rect x="204.28" y="456.8" width="3.8" height="3.4" fill="#dcdbe3"/>
<rect x="204.28" y="461.5" width="3.8" height="3.4" fill="#2b6cb0"/>
<rect x="204.28" y="466.1" width="3.8" height="3.4" fill="#e8892f"/>
<rect x="204.28" y="472.9" width="3.8" height="3.4" fill="#56468f"/>
<rect x="204.28" y="478" width="3.8" height="3.4" fill="#c8dcee"/>
<rect x="204.28" y="484.5" width="3.8" height="3.4" fill="#3f3f3f"/>
<rect x="204.28" y="495.7" width="3.8" height="3.4" fill="#3f3f3f"/>
<text x="206.18" y="493.9" font-size="5.2" fill="#444" text-anchor="middle">f</text>
<rect x="209.12" y="456.8" width="3.8" height="3.4" fill="#454545"/>
<rect x="209.12" y="461.5" width="3.8" height="3.4" fill="#3aa346"/>
<rect x="209.12" y="466.1" width="3.8" height="3.4" fill="#e8892f"/>
<rect x="209.12" y="478" width="3.8" height="3.4" fill="#c8dcee"/>
<rect x="209.12" y="484.5" width="3.8" height="3.4" fill="#3f3f3f"/>
<rect x="213.96" y="456.8" width="3.8" height="3.4" fill="#454545"/>
<rect x="213.96" y="461.5" width="3.8" height="3.4" fill="#c9161f"/>
<rect x="213.96" y="466.1" width="3.8" height="3.4" fill="#42a74a"/>
<rect x="213.96" y="472.9" width="3.8" height="3.4" fill="#56468f"/>
<rect x="213.96" y="478" width="3.8" height="3.4" fill="#0d3f7a"/>
<rect x="213.96" y="484.5" width="3.8" height="3.4" fill="#3f3f3f"/>
<rect x="218.8" y="456.8" width="3.8" height="3.4" fill="#454545"/>
<rect x="218.8" y="461.5" width="3.8" height="3.4" fill="#3aa346"/>
<rect x="218.8" y="466.1" width="3.8" height="3.4" fill="#e8892f"/>
<rect x="218.8" y="478" width="3.8" height="3.4" fill="#c8dcee"/>
<rect x="218.8" y="484.5" width="3.8" height="3.4" fill="#3f3f3f"/>
<rect x="223.64" y="456.8" width="3.8" height="3.4" fill="#454545"/>
<rect x="223.64" y="461.5" width="3.8" height="3.4" fill="#3aa346"/>
<rect x="223.64" y="466.1" width="3.8" height="3.4" fill="#e8892f"/>
<rect x="223.64" y="472.9" width="3.8" height="3.4" fill="#9f98c9"/>
<rect x="223.64" y="478" width="3.8" height="3.4" fill="#c8dcee"/>
<rect x="223.64" y="484.5" width="3.8" height="3.4" fill="#3f3f3f"/>
<rect x="223.64" y="500.5" width="3.8" height="3.4" fill="#3f3f3f"/>
<rect x="228.48" y="456.8" width="3.8" height="3.4" fill="#454545"/>
<rect x="228.48" y="461.5" width="3.8" height="3.4" fill="#3aa346"/>
<rect x="228.48" y="466.1" width="3.8" height="3.4" fill="#e8892f"/>
<rect x="228.48" y="472.9" width="3.8" height="3.4" fill="#cfcbe5"/>
<rect x="228.48" y="478" width="3.8" height="3.4" fill="#c8dcee"/>
<rect x="228.48" y="484.5" width="3.8" height="3.4" fill="#3f3f3f"/>
<rect x="233.32" y="456.8" width="3.8" height="3.4" fill="#dcdbe3"/>
<rect x="233.32" y="461.5" width="3.8" height="3.4" fill="#3aa346"/>
<rect x="233.32" y="466.1" width="3.8" height="3.4" fill="#e8892f"/>
<rect x="233.32" y="472.9" width="3.8" height="3.4" fill="#efedf7"/>
<rect x="233.32" y="478" width="3.8" height="3.4" fill="#c8dcee"/>
<rect x="233.32" y="484.5" width="3.8" height="3.4" fill="#3f3f3f"/>
<rect x="238.16" y="456.8" width="3.8" height="3.4" fill="#454545"/>
<rect x="238.16" y="461.5" width="3.8" height="3.4" fill="#3aa346"/>
<rect x="238.16" y="466.1" width="3.8" height="3.4" fill="#42a74a"/>
<rect x="238.16" y="472.9" width="3.8" height="3.4" fill="#56468f"/>
<rect x="238.16" y="478" width="3.8" height="3.4" fill="#79afd6"/>
<rect x="238.16" y="484.5" width="3.8" height="3.4" fill="#3f3f3f"/>
<rect x="243" y="456.8" width="3.8" height="3.4" fill="#454545"/>
<rect x="243" y="461.5" width="3.8" height="3.4" fill="#3aa346"/>
<rect x="243" y="466.1" width="3.8" height="3.4" fill="#e8892f"/>
<rect x="243" y="472.9" width="3.8" height="3.4" fill="#56468f"/>
<rect x="243" y="478" width="3.8" height="3.4" fill="#c8dcee"/>
<rect x="243" y="484.5" width="3.8" height="3.4" fill="#3f3f3f"/>
<rect x="247.84" y="456.8" width="3.8" height="3.4" fill="#454545"/>
<rect x="247.84" y="461.5" width="3.8" height="3.4" fill="#3aa346"/>
<rect x="247.84" y="466.1" width="3.8" height="3.4" fill="#e8892f"/>
<rect x="247.84" y="478" width="3.8" height="3.4" fill="#79afd6"/>
<rect x="247.84" y="484.5" width="3.8" height="3.4" fill="#3f3f3f"/>
<rect x="252.68" y="456.8" width="3.8" height="3.4" fill="#454545"/>
<rect x="252.68" y="461.5" width="3.8" height="3.4" fill="#c9161f"/>
<rect x="252.68" y="466.1" width="3.8" height="3.4" fill="#42a74a"/>
<rect x="252.68" y="472.9" width="3.8" height="3.4" fill="#efedf7"/>
<rect x="252.68" y="478" width="3.8" height="3.4" fill="#79afd6"/>
<rect x="252.68" y="484.5" width="3.8" height="3.4" fill="#3f3f3f"/>
<rect x="252.68" y="495.7" width="3.8" height="3.4" fill="#3f3f3f"/>
<rect x="257.52" y="456.8" width="3.8" height="3.4" fill="#454545"/>
<rect x="257.52" y="461.5" width="3.8" height="3.4" fill="#3aa346"/>
<rect x="257.52" y="466.1" width="3.8" height="3.4" fill="#e8892f"/>
<rect x="257.52" y="472.9" width="3.8" height="3.4" fill="#efedf7"/>
<rect x="257.52" y="478" width="3.8" height="3.4" fill="#c8dcee"/>
<rect x="257.52" y="484.5" width="3.8" height="3.4" fill="#3f3f3f"/>
<rect x="262.36" y="456.8" width="3.8" height="3.4" fill="#454545"/>
<rect x="262.36" y="461.5" width="3.8" height="3.4" fill="#3aa346"/>
<rect x="262.36" y="466.1" width="3.8" height="3.4" fill="#e8892f"/>
<rect x="262.36" y="472.9" width="3.8" height="3.4" fill="#efedf7"/>
<rect x="262.36" y="478" width="3.8" height="3.4" fill="#c8dcee"/>
<rect x="262.36" y="484.5" width="3.8" height="3.4" fill="#3f3f3f"/>
<rect x="267.2" y="456.8" width="3.8" height="3.4" fill="#454545"/>
<rect x="267.2" y="461.5" width="3.8" height="3.4" fill="#2b6cb0"/>
<rect x="267.2" y="466.1" width="3.8" height="3.4" fill="#42a74a"/>
<rect x="267.2" y="472.9" width="3.8" height="3.4" fill="#9f98c9"/>
<rect x="267.2" y="478" width="3.8" height="3.4" fill="#79afd6"/>
<rect x="267.2" y="484.5" width="3.8" height="3.4" fill="#3f3f3f"/>
<rect x="267.2" y="495.7" width="3.8" height="3.4" fill="#3f3f3f"/>
<text x="269.1" y="493.9" font-size="5.2" fill="#444" text-anchor="middle">e</text>
<rect x="272.04" y="456.8" width="3.8" height="3.4" fill="#454545"/>
<rect x="272.04" y="461.5" width="3.8" height="3.4" fill="#2b6cb0"/>
<rect x="272.04" y="466.1" width="3.8" height="3.4" fill="#42a74a"/>
<rect x="272.04" y="472.9" width="3.8" height="3.4" fill="#efedf7"/>
<rect x="272.04" y="478" width="3.8" height="3.4" fill="#79afd6"/>
<rect x="272.04" y="484.5" width="3.8" height="3.4" fill="#3f3f3f"/>
<rect x="272.04" y="495.7" width="3.8" height="3.4" fill="#3f3f3f"/>
<text x="273.94" y="493.9" font-size="5.2" fill="#444" text-anchor="middle">e</text>
<rect x="276.88" y="456.8" width="3.8" height="3.4" fill="#454545"/>
<rect x="276.88" y="461.5" width="3.8" height="3.4" fill="#2b6cb0"/>
<rect x="276.88" y="466.1" width="3.8" height="3.4" fill="#42a74a"/>
<rect x="276.88" y="472.9" width="3.8" height="3.4" fill="#9f98c9"/>
<rect x="276.88" y="478" width="3.8" height="3.4" fill="#79afd6"/>
<rect x="276.88" y="484.5" width="3.8" height="3.4" fill="#3f3f3f"/>
<text x="278.78" y="493.9" font-size="5.2" fill="#444" text-anchor="middle">e</text>
<rect x="281.72" y="456.8" width="3.8" height="3.4" fill="#454545"/>
<rect x="281.72" y="461.5" width="3.8" height="3.4" fill="#3aa346"/>
<rect x="281.72" y="466.1" width="3.8" height="3.4" fill="#e8892f"/>
<rect x="281.72" y="472.9" width="3.8" height="3.4" fill="#9f98c9"/>
<rect x="281.72" y="478" width="3.8" height="3.4" fill="#c8dcee"/>
<rect x="281.72" y="484.5" width="3.8" height="3.4" fill="#3f3f3f"/>
<rect x="286.56" y="456.8" width="3.8" height="3.4" fill="#dcdbe3"/>
<rect x="286.56" y="461.5" width="3.8" height="3.4" fill="#c9161f"/>
<rect x="286.56" y="466.1" width="3.8" height="3.4" fill="#42a74a"/>
<rect x="286.56" y="472.9" width="3.8" height="3.4" fill="#efedf7"/>
<rect x="286.56" y="478" width="3.8" height="3.4" fill="#2f78b8"/>
<rect x="286.56" y="484.5" width="3.8" height="3.4" fill="#3f3f3f"/>
<rect x="286.56" y="500.5" width="3.8" height="3.4" fill="#3f3f3f"/>
<rect x="291.4" y="456.8" width="3.8" height="3.4" fill="#454545"/>
<rect x="291.4" y="461.5" width="3.8" height="3.4" fill="#c9161f"/>
<rect x="291.4" y="466.1" width="3.8" height="3.4" fill="#42a74a"/>
<rect x="291.4" y="472.9" width="3.8" height="3.4" fill="#efedf7"/>
<rect x="291.4" y="478" width="3.8" height="3.4" fill="#c8dcee"/>
<rect x="291.4" y="484.5" width="3.8" height="3.4" fill="#3f3f3f"/>
<rect x="291.4" y="495.7" width="3.8" height="3.4" fill="#3f3f3f"/>
<rect x="291.4" y="500.5" width="3.8" height="3.4" fill="#3f3f3f"/>
<rect x="296.24" y="456.8" width="3.8" height="3.4" fill="#dcdbe3"/>
<rect x="296.24" y="461.5" width="3.8" height="3.4" fill="#c9161f"/>
<rect x="296.24" y="466.1" width="3.8" height="3.4" fill="#42a74a"/>
<rect x="296.24" y="472.9" width="3.8" height="3.4" fill="#efedf7"/>
<rect x="296.24" y="478" width="3.8" height="3.4" fill="#79afd6"/>
<rect x="296.24" y="484.5" width="3.8" height="3.4" fill="#3f3f3f"/>
<rect x="296.24" y="495.7" width="3.8" height="3.4" fill="#3f3f3f"/>
<rect x="296.24" y="500.5" width="3.8" height="3.4" fill="#3f3f3f"/>
<text x="298.14" y="493.9" font-size="5.2" fill="#444" text-anchor="middle">a</text>
<rect x="301.08" y="456.8" width="3.8" height="3.4" fill="#dcdbe3"/>
<rect x="301.08" y="461.5" width="3.8" height="3.4" fill="#c9161f"/>
<rect x="301.08" y="466.1" width="3.8" height="3.4" fill="#7b3f9a"/>
<rect x="301.08" y="472.9" width="3.8" height="3.4" fill="#9f98c9"/>
<rect x="301.08" y="478" width="3.8" height="3.4" fill="#c8dcee"/>
<rect x="301.08" y="484.5" width="3.8" height="3.4" fill="#3f3f3f"/>
<rect x="301.08" y="495.7" width="3.8" height="3.4" fill="#3f3f3f"/>
<rect x="305.92" y="456.8" width="3.8" height="3.4" fill="#dcdbe3"/>
<rect x="305.92" y="461.5" width="3.8" height="3.4" fill="#c9161f"/>
<rect x="305.92" y="466.1" width="3.8" height="3.4" fill="#42a74a"/>
<rect x="305.92" y="478" width="3.8" height="3.4" fill="#0d3f7a"/>
<rect x="305.92" y="484.5" width="3.8" height="3.4" fill="#3f3f3f"/>
<text x="307.82" y="493.9" font-size="5.2" fill="#444" text-anchor="middle">a</text>
<rect x="310.76" y="456.8" width="3.8" height="3.4" fill="#454545"/>
<rect x="310.76" y="461.5" width="3.8" height="3.4" fill="#3aa346"/>
<rect x="310.76" y="466.1" width="3.8" height="3.4" fill="#e8892f"/>
<rect x="310.76" y="472.9" width="3.8" height="3.4" fill="#cfcbe5"/>
<rect x="310.76" y="478" width="3.8" height="3.4" fill="#79afd6"/>
<rect x="310.76" y="484.5" width="3.8" height="3.4" fill="#3f3f3f"/>
<text x="312.66" y="493.9" font-size="5.2" fill="#444" text-anchor="middle">h</text>
<rect x="315.6" y="456.8" width="3.8" height="3.4" fill="#454545"/>
<rect x="315.6" y="461.5" width="3.8" height="3.4" fill="#c9161f"/>
<rect x="315.6" y="466.1" width="3.8" height="3.4" fill="#e8892f"/>
<rect x="315.6" y="472.9" width="3.8" height="3.4" fill="#cfcbe5"/>
<rect x="315.6" y="478" width="3.8" height="3.4" fill="#79afd6"/>
<rect x="315.6" y="484.5" width="3.8" height="3.4" fill="#3f3f3f"/>
<rect x="315.6" y="495.7" width="3.8" height="3.4" fill="#3f3f3f"/>
<rect x="315.6" y="500.5" width="3.8" height="3.4" fill="#3f3f3f"/>
<text x="317.5" y="493.9" font-size="5.2" fill="#444" text-anchor="middle">c</text>
<rect x="320.44" y="456.8" width="3.8" height="3.4" fill="#dcdbe3"/>
<rect x="320.44" y="461.5" width="3.8" height="3.4" fill="#3aa346"/>
<rect x="320.44" y="466.1" width="3.8" height="3.4" fill="#e8892f"/>
<rect x="320.44" y="472.9" width="3.8" height="3.4" fill="#9f98c9"/>
<rect x="320.44" y="478" width="3.8" height="3.4" fill="#c8dcee"/>
<rect x="320.44" y="484.5" width="3.8" height="3.4" fill="#3f3f3f"/>
<rect x="325.28" y="456.8" width="3.8" height="3.4" fill="#454545"/>
<rect x="325.28" y="461.5" width="3.8" height="3.4" fill="#c9161f"/>
<rect x="325.28" y="466.1" width="3.8" height="3.4" fill="#42a74a"/>
<rect x="325.28" y="472.9" width="3.8" height="3.4" fill="#56468f"/>
<rect x="325.28" y="478" width="3.8" height="3.4" fill="#79afd6"/>
<rect x="325.28" y="484.5" width="3.8" height="3.4" fill="#3f3f3f"/>
<rect x="325.28" y="495.7" width="3.8" height="3.4" fill="#3f3f3f"/>
<text x="327.18" y="493.9" font-size="5.2" fill="#444" text-anchor="middle">b</text>
<rect x="330.12" y="456.8" width="3.8" height="3.4" fill="#454545"/>
<rect x="330.12" y="461.5" width="3.8" height="3.4" fill="#c9161f"/>
<rect x="330.12" y="466.1" width="3.8" height="3.4" fill="#e8892f"/>
<rect x="330.12" y="472.9" width="3.8" height="3.4" fill="#9f98c9"/>
<rect x="330.12" y="478" width="3.8" height="3.4" fill="#c8dcee"/>
<rect x="330.12" y="484.5" width="3.8" height="3.4" fill="#3f3f3f"/>
<rect x="334.96" y="456.8" width="3.8" height="3.4" fill="#dcdbe3"/>
<rect x="334.96" y="461.5" width="3.8" height="3.4" fill="#c9161f"/>
<rect x="334.96" y="466.1" width="3.8" height="3.4" fill="#e8892f"/>
<rect x="334.96" y="478" width="3.8" height="3.4" fill="#c8dcee"/>
<rect x="334.96" y="484.5" width="3.8" height="3.4" fill="#3f3f3f"/>
<rect x="334.96" y="500.5" width="3.8" height="3.4" fill="#3f3f3f"/>
<text x="336.86" y="493.9" font-size="5.2" fill="#444" text-anchor="middle">b</text>
<rect x="339.8" y="456.8" width="3.8" height="3.4" fill="#dcdbe3"/>
<rect x="339.8" y="461.5" width="3.8" height="3.4" fill="#c9161f"/>
<rect x="339.8" y="466.1" width="3.8" height="3.4" fill="#7b3f9a"/>
<rect x="339.8" y="472.9" width="3.8" height="3.4" fill="#9f98c9"/>
<rect x="339.8" y="478" width="3.8" height="3.4" fill="#c8dcee"/>
<rect x="339.8" y="484.5" width="3.8" height="3.4" fill="#3f3f3f"/>
<rect x="339.8" y="495.7" width="3.8" height="3.4" fill="#3f3f3f"/>
<rect x="339.8" y="500.5" width="3.8" height="3.4" fill="#3f3f3f"/>
<text x="341.7" y="493.9" font-size="5.2" fill="#444" text-anchor="middle">b</text>
<rect x="344.64" y="456.8" width="3.8" height="3.4" fill="#dcdbe3"/>
<rect x="344.64" y="461.5" width="3.8" height="3.4" fill="#3aa346"/>
<rect x="344.64" y="466.1" width="3.8" height="3.4" fill="#e8892f"/>
<rect x="344.64" y="472.9" width="3.8" height="3.4" fill="#cfcbe5"/>
<rect x="344.64" y="478" width="3.8" height="3.4" fill="#c8dcee"/>
<rect x="344.64" y="484.5" width="3.8" height="3.4" fill="#3f3f3f"/>
<rect x="349.48" y="456.8" width="3.8" height="3.4" fill="#454545"/>
<rect x="349.48" y="461.5" width="3.8" height="3.4" fill="#3aa346"/>
<rect x="349.48" y="466.1" width="3.8" height="3.4" fill="#e8892f"/>
<rect x="349.48" y="472.9" width="3.8" height="3.4" fill="#56468f"/>
<rect x="349.48" y="478" width="3.8" height="3.4" fill="#79afd6"/>
<rect x="349.48" y="484.5" width="3.8" height="3.4" fill="#3f3f3f"/>
<rect x="354.32" y="456.8" width="3.8" height="3.4" fill="#dcdbe3"/>
<rect x="354.32" y="461.5" width="3.8" height="3.4" fill="#c9161f"/>
<rect x="354.32" y="466.1" width="3.8" height="3.4" fill="#e8892f"/>
<rect x="354.32" y="472.9" width="3.8" height="3.4" fill="#efedf7"/>
<rect x="354.32" y="478" width="3.8" height="3.4" fill="#c8dcee"/>
<rect x="354.32" y="484.5" width="3.8" height="3.4" fill="#3f3f3f"/>
<rect x="354.32" y="495.7" width="3.8" height="3.4" fill="#3f3f3f"/>
<rect x="354.32" y="500.5" width="3.8" height="3.4" fill="#3f3f3f"/>
<rect x="359.16" y="456.8" width="3.8" height="3.4" fill="#454545"/>
<rect x="359.16" y="461.5" width="3.8" height="3.4" fill="#c9161f"/>
<rect x="359.16" y="466.1" width="3.8" height="3.4" fill="#e8892f"/>
<rect x="359.16" y="472.9" width="3.8" height="3.4" fill="#efedf7"/>
<rect x="359.16" y="478" width="3.8" height="3.4" fill="#c8dcee"/>
<rect x="359.16" y="484.5" width="3.8" height="3.4" fill="#3f3f3f"/>
<text x="361.06" y="493.9" font-size="5.2" fill="#444" text-anchor="middle">d</text>
<rect x="364" y="456.8" width="3.8" height="3.4" fill="#454545"/>
<rect x="364" y="461.5" width="3.8" height="3.4" fill="#3aa346"/>
<rect x="364" y="466.1" width="3.8" height="3.4" fill="#e8892f"/>
<rect x="364" y="472.9" width="3.8" height="3.4" fill="#56468f"/>
<rect x="364" y="478" width="3.8" height="3.4" fill="#79afd6"/>
<rect x="364" y="484.5" width="3.8" height="3.4" fill="#3f3f3f"/>
<rect x="368.84" y="456.8" width="3.8" height="3.4" fill="#dcdbe3"/>
<rect x="368.84" y="461.5" width="3.8" height="3.4" fill="#3aa346"/>
<rect x="368.84" y="466.1" width="3.8" height="3.4" fill="#e8892f"/>
<rect x="368.84" y="472.9" width="3.8" height="3.4" fill="#efedf7"/>
<rect x="368.84" y="478" width="3.8" height="3.4" fill="#c8dcee"/>
<rect x="368.84" y="484.5" width="3.8" height="3.4" fill="#3f3f3f"/>
<rect x="373.68" y="456.8" width="3.8" height="3.4" fill="#454545"/>
<rect x="373.68" y="461.5" width="3.8" height="3.4" fill="#3aa346"/>
<rect x="373.68" y="466.1" width="3.8" height="3.4" fill="#e8892f"/>
<rect x="373.68" y="478" width="3.8" height="3.4" fill="#c8dcee"/>
<rect x="373.68" y="484.5" width="3.8" height="3.4" fill="#3f3f3f"/>
<rect x="378.52" y="456.8" width="3.8" height="3.4" fill="#454545"/>
<rect x="378.52" y="461.5" width="3.8" height="3.4" fill="#3aa346"/>
<rect x="378.52" y="466.1" width="3.8" height="3.4" fill="#42a74a"/>
<rect x="378.52" y="472.9" width="3.8" height="3.4" fill="#cfcbe5"/>
<rect x="378.52" y="478" width="3.8" height="3.4" fill="#79afd6"/>
<rect x="378.52" y="484.5" width="3.8" height="3.4" fill="#3f3f3f"/>
<rect x="383.36" y="456.8" width="3.8" height="3.4" fill="#dcdbe3"/>
<rect x="383.36" y="461.5" width="3.8" height="3.4" fill="#3aa346"/>
<rect x="383.36" y="466.1" width="3.8" height="3.4" fill="#e8892f"/>
<rect x="383.36" y="472.9" width="3.8" height="3.4" fill="#9f98c9"/>
<rect x="383.36" y="478" width="3.8" height="3.4" fill="#c8dcee"/>
<rect x="383.36" y="484.5" width="3.8" height="3.4" fill="#3f3f3f"/>
<rect x="388.2" y="456.8" width="3.8" height="3.4" fill="#454545"/>
<rect x="388.2" y="461.5" width="3.8" height="3.4" fill="#c9161f"/>
<rect x="388.2" y="466.1" width="3.8" height="3.4" fill="#7b3f9a"/>
<rect x="388.2" y="472.9" width="3.8" height="3.4" fill="#efedf7"/>
<rect x="388.2" y="478" width="3.8" height="3.4" fill="#c8dcee"/>
<rect x="388.2" y="484.5" width="3.8" height="3.4" fill="#3f3f3f"/>
<text x="390.1" y="493.9" font-size="5.2" fill="#444" text-anchor="middle">d</text>
<rect x="393.04" y="456.8" width="3.8" height="3.4" fill="#dcdbe3"/>
<rect x="393.04" y="461.5" width="3.8" height="3.4" fill="#3aa346"/>
<rect x="393.04" y="466.1" width="3.8" height="3.4" fill="#e8892f"/>
<rect x="393.04" y="472.9" width="3.8" height="3.4" fill="#efedf7"/>
<rect x="393.04" y="478" width="3.8" height="3.4" fill="#c8dcee"/>
<rect x="393.04" y="484.5" width="3.8" height="3.4" fill="#3f3f3f"/>
<rect x="397.88" y="456.8" width="3.8" height="3.4" fill="#454545"/>
<rect x="397.88" y="461.5" width="3.8" height="3.4" fill="#c9161f"/>
<rect x="397.88" y="466.1" width="3.8" height="3.4" fill="#7b3f9a"/>
<rect x="397.88" y="472.9" width="3.8" height="3.4" fill="#efedf7"/>
<rect x="397.88" y="478" width="3.8" height="3.4" fill="#c8dcee"/>
<rect x="397.88" y="484.5" width="3.8" height="3.4" fill="#3f3f3f"/>
<text x="94.6" y="460.1" font-size="4.6" fill="#333" text-anchor="end">Sex</text>
<text x="94.6" y="464.8" font-size="4.6" fill="#333" text-anchor="end">Source</text>
<text x="94.6" y="469.4" font-size="4.6" fill="#333" text-anchor="end">Stage</text>
<text x="94.6" y="476.2" font-size="4.6" fill="#333" text-anchor="end">Purity</text>
<text x="94.6" y="481.3" font-size="4.6" fill="#333" text-anchor="end">TMB</text>
<text x="94.6" y="487.8" font-size="4.6" fill="#333" text-anchor="end">Germline</text>
<text x="94.6" y="493.8" font-size="4.6" fill="#333" text-anchor="end">Multisample</text>
<text x="94.6" y="499" font-size="4.6" fill="#333" text-anchor="end">RNA</text>
<text x="94.6" y="503.8" font-size="4.6" fill="#333" text-anchor="end">PDTX</text>
<text x="101.15" y="506.4" font-size="4.8" fill="#2a2a2a" text-anchor="end" transform="rotate(-90 101.15 506.4)">OS052_12R</text>
<text x="105.99" y="506.4" font-size="4.8" fill="#2a2a2a" text-anchor="end" transform="rotate(-90 105.99 506.4)">SJOS001101_M1</text>
<text x="110.83" y="506.4" font-size="4.8" fill="#2a2a2a" text-anchor="end" transform="rotate(-90 110.83 506.4)">SJOS001126_D1</text>
<text x="115.67" y="506.4" font-size="4.8" fill="#2a2a2a" text-anchor="end" transform="rotate(-90 115.67 506.4)">SJOS015_M</text>
<text x="120.51" y="506.4" font-size="4.8" fill="#2a2a2a" text-anchor="end" transform="rotate(-90 120.51 506.4)">OS102_3M</text>
<text x="125.35" y="506.4" font-size="4.8" fill="#2a2a2a" text-anchor="end" transform="rotate(-90 125.35 506.4)">SJOS001107_M2</text>
<text x="130.19" y="506.4" font-size="4.8" fill="#2a2a2a" text-anchor="end" transform="rotate(-90 130.19 506.4)">OS064_14D</text>
<text x="135.03" y="506.4" font-size="4.8" fill="#2a2a2a" text-anchor="end" transform="rotate(-90 135.03 506.4)">SJOS004_D</text>
<text x="139.87" y="506.4" font-size="4.8" fill="#2a2a2a" text-anchor="end" transform="rotate(-90 139.87 506.4)">OS075_24T</text>
<text x="144.71" y="506.4" font-size="4.8" fill="#2a2a2a" text-anchor="end" transform="rotate(-90 144.71 506.4)">OS106_7M</text>
<text x="149.55" y="506.4" font-size="4.8" fill="#2a2a2a" text-anchor="end" transform="rotate(-90 149.55 506.4)">OS100_2R</text>
<text x="154.39" y="506.4" font-size="4.8" fill="#2a2a2a" text-anchor="end" transform="rotate(-90 154.39 506.4)">OS078_3M</text>
<text x="159.23" y="506.4" font-size="4.8" fill="#2a2a2a" text-anchor="end" transform="rotate(-90 159.23 506.4)">SJOS003_O</text>
<text x="164.07" y="506.4" font-size="4.8" fill="#2a2a2a" text-anchor="end" transform="rotate(-90 164.07 506.4)">SJOS001103_D1</text>
<text x="168.91" y="506.4" font-size="4.8" fill="#2a2a2a" text-anchor="end" transform="rotate(-90 168.91 506.4)">OS107_7M</text>
<text x="173.75" y="506.4" font-size="4.8" fill="#2a2a2a" text-anchor="end" transform="rotate(-90 173.75 506.4)">OS146_2M</text>
<text x="178.59" y="506.4" font-size="4.8" fill="#2a2a2a" text-anchor="end" transform="rotate(-90 178.59 506.4)">SJOS015_O</text>
<text x="183.43" y="506.4" font-size="4.8" fill="#2a2a2a" text-anchor="end" transform="rotate(-90 183.43 506.4)">SJOS013_O</text>
<text x="188.27" y="506.4" font-size="4.8" fill="#2a2a2a" text-anchor="end" transform="rotate(-90 188.27 506.4)">SJOS001117_D1</text>
<text x="193.11" y="506.4" font-size="4.8" fill="#2a2a2a" text-anchor="end" transform="rotate(-90 193.11 506.4)">OS057_8O</text>
<text x="197.95" y="506.4" font-size="4.8" fill="#2a2a2a" text-anchor="end" transform="rotate(-90 197.95 506.4)">SJOS016_O</text>
<text x="202.79" y="506.4" font-size="4.8" fill="#2a2a2a" text-anchor="end" transform="rotate(-90 202.79 506.4)">SJOS001116_D1</text>
<text x="207.63" y="506.4" font-size="4.8" fill="#2a2a2a" text-anchor="end" transform="rotate(-90 207.63 506.4)">OS075_14T</text>
<text x="212.47" y="506.4" font-size="4.8" fill="#2a2a2a" text-anchor="end" transform="rotate(-90 212.47 506.4)">SJOS001118_D1</text>
<text x="217.31" y="506.4" font-size="4.8" fill="#2a2a2a" text-anchor="end" transform="rotate(-90 217.31 506.4)">OS148_10M</text>
<text x="222.15" y="506.4" font-size="4.8" fill="#2a2a2a" text-anchor="end" transform="rotate(-90 222.15 506.4)">SJOS001127_D1</text>
<text x="226.99" y="506.4" font-size="4.8" fill="#2a2a2a" text-anchor="end" transform="rotate(-90 226.99 506.4)">SJOS001114_D1</text>
<text x="231.83" y="506.4" font-size="4.8" fill="#2a2a2a" text-anchor="end" transform="rotate(-90 231.83 506.4)">SJOS011_O</text>
<text x="236.67" y="506.4" font-size="4.8" fill="#2a2a2a" text-anchor="end" transform="rotate(-90 236.67 506.4)">SJOS012_O</text>
<text x="241.51" y="506.4" font-size="4.8" fill="#2a2a2a" text-anchor="end" transform="rotate(-90 241.51 506.4)">SJOS005_M</text>
<text x="246.35" y="506.4" font-size="4.8" fill="#2a2a2a" text-anchor="end" transform="rotate(-90 246.35 506.4)">SJOS016_M</text>
<text x="251.19" y="506.4" font-size="4.8" fill="#2a2a2a" text-anchor="end" transform="rotate(-90 251.19 506.4)">SJOS014_O</text>
<text x="256.03" y="506.4" font-size="4.8" fill="#2a2a2a" text-anchor="end" transform="rotate(-90 256.03 506.4)">OS050_3R</text>
<text x="260.87" y="506.4" font-size="4.8" fill="#2a2a2a" text-anchor="end" transform="rotate(-90 260.87 506.4)">SJOS001125_D1</text>
<text x="265.71" y="506.4" font-size="4.8" fill="#2a2a2a" text-anchor="end" transform="rotate(-90 265.71 506.4)">SJOS006_O</text>
<text x="270.55" y="506.4" font-size="4.8" fill="#2a2a2a" text-anchor="end" transform="rotate(-90 270.55 506.4)">OS086_1T</text>
<text x="275.39" y="506.4" font-size="4.8" fill="#2a2a2a" text-anchor="end" transform="rotate(-90 275.39 506.4)">OS095_2T</text>
<text x="280.23" y="506.4" font-size="4.8" fill="#2a2a2a" text-anchor="end" transform="rotate(-90 280.23 506.4)">OS131_7M</text>
<text x="285.07" y="506.4" font-size="4.8" fill="#2a2a2a" text-anchor="end" transform="rotate(-90 285.07 506.4)">OS085_11M</text>
<text x="289.91" y="506.4" font-size="4.8" fill="#2a2a2a" text-anchor="end" transform="rotate(-90 289.91 506.4)">OS093_4T</text>
<text x="294.75" y="506.4" font-size="4.8" fill="#2a2a2a" text-anchor="end" transform="rotate(-90 294.75 506.4)">OS081_2M</text>
<text x="299.59" y="506.4" font-size="4.8" fill="#2a2a2a" text-anchor="end" transform="rotate(-90 299.59 506.4)">OS099_7R</text>
<text x="304.43" y="506.4" font-size="4.8" fill="#2a2a2a" text-anchor="end" transform="rotate(-90 304.43 506.4)">OS104_1M</text>
<text x="309.27" y="506.4" font-size="4.8" fill="#2a2a2a" text-anchor="end" transform="rotate(-90 309.27 506.4)">OS109_2D</text>
<text x="314.11" y="506.4" font-size="4.8" fill="#2a2a2a" text-anchor="end" transform="rotate(-90 314.11 506.4)">SJOS002_O</text>
<text x="318.95" y="506.4" font-size="4.8" fill="#2a2a2a" text-anchor="end" transform="rotate(-90 318.95 506.4)">OS140_3M</text>
<text x="323.79" y="506.4" font-size="4.8" fill="#2a2a2a" text-anchor="end" transform="rotate(-90 323.79 506.4)">OS123_2M</text>
<text x="328.63" y="506.4" font-size="4.8" fill="#2a2a2a" text-anchor="end" transform="rotate(-90 328.63 506.4)">OS131_2M</text>
<text x="333.47" y="506.4" font-size="4.8" fill="#2a2a2a" text-anchor="end" transform="rotate(-90 333.47 506.4)">OS043_1R</text>
<text x="338.31" y="506.4" font-size="4.8" fill="#2a2a2a" text-anchor="end" transform="rotate(-90 338.31 506.4)">OS044_9R</text>
<text x="343.15" y="506.4" font-size="4.8" fill="#2a2a2a" text-anchor="end" transform="rotate(-90 343.15 506.4)">SJOS007_O</text>
<text x="347.99" y="506.4" font-size="4.8" fill="#2a2a2a" text-anchor="end" transform="rotate(-90 347.99 506.4)">SJOS001105_D1</text>
<text x="352.83" y="506.4" font-size="4.8" fill="#2a2a2a" text-anchor="end" transform="rotate(-90 352.83 506.4)">OS067_4M</text>
<text x="357.67" y="506.4" font-size="4.8" fill="#2a2a2a" text-anchor="end" transform="rotate(-90 357.67 506.4)">SJOS009_O</text>
<text x="362.51" y="506.4" font-size="4.8" fill="#2a2a2a" text-anchor="end" transform="rotate(-90 362.51 506.4)">OS126_5R</text>
<text x="367.35" y="506.4" font-size="4.8" fill="#2a2a2a" text-anchor="end" transform="rotate(-90 367.35 506.4)">OS115_5T</text>
<text x="372.19" y="506.4" font-size="4.8" fill="#2a2a2a" text-anchor="end" transform="rotate(-90 372.19 506.4)">SJOS001119_D1</text>
<text x="377.03" y="506.4" font-size="4.8" fill="#2a2a2a" text-anchor="end" transform="rotate(-90 377.03 506.4)">SJOS010_O</text>
<text x="381.87" y="506.4" font-size="4.8" fill="#2a2a2a" text-anchor="end" transform="rotate(-90 381.87 506.4)">SJOS001113_M2</text>
<text x="386.71" y="506.4" font-size="4.8" fill="#2a2a2a" text-anchor="end" transform="rotate(-90 386.71 506.4)">OS068_7R</text>
<text x="391.55" y="506.4" font-size="4.8" fill="#2a2a2a" text-anchor="end" transform="rotate(-90 391.55 506.4)">OS054_7R</text>
<text x="396.39" y="506.4" font-size="4.8" fill="#2a2a2a" text-anchor="end" transform="rotate(-90 396.39 506.4)">SJOS001120_D1</text>
<text x="401.23" y="506.4" font-size="4.8" fill="#2a2a2a" text-anchor="end" transform="rotate(-90 401.23 506.4)">OS097_16R</text>
<text x="91.5" y="523" font-size="4.8" fill="#333" text-anchor="middle" transform="rotate(-90 91.5 523)">Subject</text>
<text x="72.5" y="554.2" font-size="4.7" fill="#333" text-anchor="start">Alterations</text>
<rect x="104.5" y="550.9" width="3.4" height="3.4" fill="#fce0a3"/>
<text x="109.9" y="554.2" font-size="4.7" fill="#333" text-anchor="start">≥4 copies</text>
<rect x="136" y="550.9" width="3.4" height="3.4" fill="#d3302a"/>
<text x="141.4" y="554.2" font-size="4.7" fill="#333" text-anchor="start">≥8 copies</text>
<rect x="167.5" y="550.9" width="3.4" height="3.4" fill="#9b1a2c"/>
<text x="172.9" y="554.2" font-size="4.7" fill="#333" text-anchor="start">≥12 copies</text>
<rect x="202" y="550.9" width="3.4" height="3.4" fill="#8db4da"/>
<text x="207.4" y="554.2" font-size="4.7" fill="#333" text-anchor="start">Minor loss</text>
<rect x="234.5" y="550.9" width="3.4" height="3.4" fill="#3f6aa8"/>
<text x="239.9" y="554.2" font-size="4.7" fill="#333" text-anchor="start">Major loss</text>
<rect x="271.2" y="550.9" width="3.4" height="3.4" fill="none" stroke="#111" stroke-width="0.9" stroke-dasharray="1 0.7"/>
<text x="277.5" y="554.2" font-size="4.7" fill="#333" text-anchor="start">Breakpoint (CNA)</text>
<path d="M318.6,552.6L320.4,550.7L322.6,552.6L320.4,554.5Z" fill="#6b2a7d"/>
<text x="324.2" y="554.2" font-size="4.7" fill="#333" text-anchor="start">Fusion (SV)</text>
<path d="M357.6,554.4L361,550.8" stroke="#111" stroke-width="0.9"/>
<text x="363.2" y="554.2" font-size="4.7" fill="#333" text-anchor="start">Truncation (SV)</text>
<rect x="139.6" y="559.7" width="1.8" height="1.8" fill="#555"/>
<text x="144.2" y="562.2" font-size="4.7" fill="#333" text-anchor="start">Missense variant</text>
<rect x="186.0" y="559.4" width="2.4" height="2.4" fill="none" stroke="#777" stroke-width="0.5"/>
<text x="191" y="562.2" font-size="4.7" fill="#333" text-anchor="start">In-frame indel</text>
<rect x="227.4" y="559.8" width="1.6" height="1.6" fill="#4a7d8f"/>
<text x="232.8" y="562.2" font-size="4.7" fill="#333" text-anchor="start">Splice-site variant</text>
<rect x="276.2" y="559.8" width="1.6" height="1.6" fill="#555"/>
<text x="281.2" y="562.2" font-size="4.7" fill="#333" text-anchor="start">Stop-gain variant</text>
<rect x="323.8" y="559.9" width="4.2" height="1.4" fill="#d0262e"/>
<text x="330" y="562.2" font-size="4.7" fill="#333" text-anchor="start">Frameshift indel</text>
<text x="411.5" y="464" font-size="5.0" fill="#222" text-anchor="start">Source</text>
<rect x="411.8" y="467.3" width="3.4" height="3.4" fill="#c9161f"/>
<text x="418" y="470.7" font-size="4.7" fill="#333" text-anchor="start">Stanford (25)</text>
<rect x="411.8" y="472.6" width="3.4" height="3.4" fill="#2b6cb0"/>
<text x="418" y="476" font-size="4.7" fill="#333" text-anchor="start">UCSF (5)</text>
<rect x="411.8" y="477.7" width="3.4" height="3.4" fill="#3aa346"/>
<text x="418" y="481.1" font-size="4.7" fill="#333" text-anchor="start">SJOS (33)</text>
<text x="448.8" y="464" font-size="5.0" fill="#222" text-anchor="start">Stage</text>
<rect x="448.8" y="467.3" width="3.4" height="3.4" fill="#e8892f"/>
<text x="455" y="470.7" font-size="4.7" fill="#333" text-anchor="start">Diagnostic (36)</text>
<rect x="448.8" y="472.6" width="3.4" height="3.4" fill="#7b3f9a"/>
<text x="455" y="476" font-size="4.7" fill="#333" text-anchor="start">Resection (8)</text>
<rect x="448.8" y="477.7" width="3.4" height="3.4" fill="#42a74a"/>
<text x="455" y="481.1" font-size="4.7" fill="#333" text-anchor="start">Metastasis (19)</text>
<text x="411.5" y="489.8" font-size="5.0" fill="#222" text-anchor="start">Sex</text>
<rect x="411.8" y="492.7" width="3.4" height="3.4" fill="#dcdbe3"/>
<text x="418" y="496.1" font-size="4.7" fill="#333" text-anchor="start">F (24)</text>
<rect x="411.8" y="497.9" width="3.4" height="3.4" fill="#454545"/>
<text x="418" y="501.3" font-size="4.7" fill="#333" text-anchor="start">M (39)</text>
<text x="437.2" y="489.8" font-size="5.0" fill="#222" text-anchor="start">Purity</text>
<rect x="437.4" y="492.7" width="3.4" height="3.4" fill="#efedf7"/>
<text x="442.8" y="496.1" font-size="4.7" fill="#333" text-anchor="start">20%–40%</text>
<rect x="437.4" y="497.9" width="3.4" height="3.4" fill="#cfcbe5"/>
<text x="442.8" y="501.3" font-size="4.7" fill="#333" text-anchor="start">40%–60%</text>
<rect x="437.4" y="503.3" width="3.4" height="3.4" fill="#9f98c9"/>
<text x="442.8" y="506.7" font-size="4.7" fill="#333" text-anchor="start">60%–80%</text>
<rect x="437.4" y="508.7" width="3.4" height="3.4" fill="#56468f"/>
<text x="442.8" y="512.1" font-size="4.7" fill="#333" text-anchor="start">80%–100%</text>
<text x="470.2" y="489.8" font-size="5.0" fill="#222" text-anchor="start">TMB</text>
<rect x="470.4" y="492.7" width="3.4" height="3.4" fill="#c8dcee"/>
<text x="476.2" y="496.1" font-size="4.7" fill="#333" text-anchor="start">0–2</text>
<rect x="470.4" y="497.9" width="3.4" height="3.4" fill="#79afd6"/>
<text x="476.2" y="501.3" font-size="4.7" fill="#333" text-anchor="start">2–5</text>
<rect x="470.4" y="503.3" width="3.4" height="3.4" fill="#2f78b8"/>
<text x="476.2" y="506.7" font-size="4.7" fill="#333" text-anchor="start">5–10</text>
<rect x="470.4" y="508.7" width="3.4" height="3.4" fill="#0d3f7a"/>
<text x="476.2" y="512.1" font-size="4.7" fill="#333" text-anchor="start">&gt;10</text>
<text x="411.5" y="521.3" font-size="5.0" fill="#222" text-anchor="start">Germline</text>
<rect x="411.8" y="524.3" width="3.4" height="3.4" fill="#3f3f3f"/>
<text x="418" y="527.7" font-size="4.7" fill="#333" text-anchor="start">Y (62)</text>
<text x="435.2" y="521.3" font-size="5.0" fill="#222" text-anchor="start">RNA</text>
<rect x="435.8" y="524.3" width="3.4" height="3.4" fill="#3f3f3f"/>
<text x="441.8" y="527.7" font-size="4.7" fill="#333" text-anchor="start">Y (17)</text>
<text x="457.8" y="521.3" font-size="5.0" fill="#222" text-anchor="start">PDTX</text>
<rect x="458.9" y="524.3" width="3.4" height="3.4" fill="#3f3f3f"/>
<text x="465" y="527.7" font-size="4.7" fill="#333" text-anchor="start">Exact (12)</text>
<rect x="458.9" y="529.6" width="3.4" height="3.4" fill="#cfcfcf"/>
<text x="465" y="533" font-size="4.7" fill="#333" text-anchor="start">Related (1)</text>
<rect x="104.19" y="597.5" width="34.05" height="68.5" fill="#e6e6e8"/>
<rect x="165.98" y="597.5" width="26.76" height="68.5" fill="#e6e6e8"/>
<rect x="218.1" y="597.5" width="23.96" height="68.5" fill="#e6e6e8"/>
<rect x="264.34" y="597.5" width="20.46" height="68.5" fill="#e6e6e8"/>
<rect x="304.55" y="597.5" width="19.06" height="68.5" fill="#e6e6e8"/>
<rect x="342.52" y="597.5" width="18.78" height="68.5" fill="#e6e6e8"/>
<rect x="377.41" y="597.5" width="14.99" height="68.5" fill="#e6e6e8"/>
<rect x="406.83" y="597.5" width="12.61" height="68.5" fill="#e6e6e8"/>
<rect x="430.79" y="597.5" width="10.93" height="68.5" fill="#e6e6e8"/>
<rect x="449.98" y="597.5" width="8.83" height="68.5" fill="#e6e6e8"/>
<rect x="465.54" y="597.5" width="7.15" height="68.5" fill="#e6e6e8"/>
<path d="M69.3,631.75L69.3,626.5L69.93,626.62L70.57,628.8L71.2,629.72L71.84,630L72.47,629.7L73.11,630.23L73.74,630.91L74.37,630.62L75.01,630.15L75.64,629.28L76.28,627.74L76.91,626.04L77.55,625.35L78.18,624.51L78.81,625.21L79.45,623.92L80.08,623.43L80.72,621.77L81.35,623.97L81.99,622.77L82.62,625.32L83.26,623.06L83.89,623.98L84.52,624.9L85.16,624.98L85.79,626.81L86.43,630.2L87.06,629.47L87.7,629.21L88.33,629.15L88.96,625.63L89.6,624.81L90.23,618.53L90.87,621.18L91.5,619.36L92.14,621.64L92.77,622.71L93.4,623.89L94.04,626.48L94.67,627.22L95.31,628.91L95.94,627.23L96.58,629.26L97.21,629.23L97.84,630.57L98.48,630.64L99.11,630.49L99.75,629.69L100.38,629.78L101.02,630.1L101.65,630.64L102.28,629.47L102.92,630.95L103.55,630.93L104.19,630.36L104.19,631.75ZM104.19,631.75L104.19,630.05L104.82,630.51L105.45,629.91L106.08,630.36L106.71,630.61L107.34,630.82L107.97,629.82L108.6,630.39L109.23,630.03L109.86,630.12L110.49,631.37L111.12,629.99L111.75,630.47L112.38,630.04L113.01,629.97L113.65,631.14L114.28,630.33L114.91,630.17L115.54,629.9L116.17,629.57L116.8,630.42L117.43,629.02L118.06,625.78L118.69,629.57L119.32,629.03L119.95,630.57L120.58,629.37L121.21,630.02L121.84,629.11L122.47,629.58L123.1,630.17L123.73,631.07L124.36,630.13L124.99,630.04L125.63,629.95L126.26,630.91L126.89,630.7L127.52,630.69L128.15,630.16L128.78,630.77L129.41,630.41L130.04,629.89L130.67,630.59L131.3,629.73L131.93,630.27L132.56,630.56L133.19,629.92L133.82,630.23L134.45,630.64L135.08,630.8L135.71,630.56L136.34,630.39L136.97,630.02L137.6,630.46L138.24,630.9L138.24,631.75ZM138.24,631.75L138.24,630.99L138.87,629.85L139.5,630.6L140.13,630.88L140.76,630.69L141.39,630.39L142.02,630.88L142.65,631.05L143.28,630.56L143.91,630.15L144.54,630.28L145.17,630.99L145.8,630.85L146.43,631.24L147.06,631.21L147.69,630.51L148.32,630.82L148.95,630.37L149.58,631.02L150.21,630.6L150.85,630.76L151.48,630.34L152.11,630.18L152.74,630.87L153.37,630.57L154,630.49L154.63,630.4L155.26,629.67L155.89,630.98L156.52,630L157.15,630.53L157.78,629.92L158.41,631.35L159.04,630.37L159.67,631.07L160.3,630.69L160.93,630.73L161.56,629.98L162.19,630.25L162.82,631.25L163.46,631.03L164.09,630.56L164.72,629.89L165.35,631.19L165.98,630.17L165.98,631.75ZM165.98,631.75L165.98,630.29L166.61,630.63L167.25,631.25L167.89,630.64L168.53,631.05L169.16,630.41L169.8,629.44L170.44,630.44L171.07,630.18L171.71,629.61L172.35,630.84L172.99,629.68L173.62,629.61L174.26,629.32L174.9,630.26L175.53,630.61L176.17,629.64L176.81,630.07L177.45,630.39L178.08,629.9L178.72,630.96L179.36,631.64L180,629.54L180.63,630.54L181.27,629.87L181.91,630.74L182.54,631.23L183.18,630.87L183.82,629.88L184.46,630.17L185.09,630.7L185.73,630.06L186.37,630.57L187,630.36L187.64,630.99L188.28,631.59L188.92,630.46L189.55,630.2L190.19,630.97L190.83,629.8L191.46,630.45L192.1,629.77L192.74,630.31L192.74,631.75ZM192.74,631.75L192.74,623.46L193.37,625.54L194.01,624.18L194.64,626.57L195.27,630.46L195.91,630.02L196.54,629.85L197.18,630.29L197.81,630.19L198.44,630.07L199.08,630.73L199.71,630.88L200.35,630.13L200.98,629.23L201.61,630.62L202.25,630.68L202.88,629.56L203.52,630.85L204.15,630.92L204.78,629.68L205.42,630.31L206.05,630.29L206.69,631.65L207.32,630.03L207.95,630.75L208.59,630.16L209.22,630.38L209.86,629.76L210.49,630.23L211.12,629.76L211.76,630.94L212.39,630.1L213.03,630.34L213.66,630.87L214.29,631.28L214.93,630.73L215.56,631.04L216.2,630.84L216.83,630.86L217.47,630.94L218.1,630.57L218.1,631.75ZM218.1,631.75L218.1,630.23L218.73,630.31L219.36,631.14L219.99,629.84L220.62,630.58L221.25,629.68L221.88,630.06L222.51,630.05L223.14,629.9L223.77,625.54L224.4,626.34L225.03,630L225.67,630.23L226.3,630.58L226.93,629.11L227.56,631.36L228.19,629.54L228.82,628.29L229.45,630.3L230.08,629.63L230.71,631.09L231.34,629.55L231.97,628.97L232.6,630.27L233.23,630.11L233.86,629.81L234.49,629.88L235.12,629.39L235.75,630.25L236.38,630.42L237.01,628.59L237.64,630.28L238.28,630.44L238.91,630.28L239.54,630.66L240.17,630.44L240.8,630.29L241.43,631.11L242.06,631.44L242.06,631.75ZM242.06,631.75L242.06,621.93L242.69,626.07L243.33,624.4L243.97,625.54L244.6,625.42L245.24,625.34L245.88,626.57L246.51,626.34L247.15,627.85L247.79,626.67L248.42,627.46L249.06,628.28L249.7,629.03L250.33,630.51L250.97,630.07L251.61,629.7L252.24,630.89L252.88,630.02L253.52,630.15L254.15,630.33L254.79,629.5L255.42,629.87L256.06,629.33L256.7,630.28L257.33,629.94L257.97,629.26L258.61,631.19L259.24,630.45L259.88,630.21L260.52,630.88L261.15,629.91L261.79,628.25L262.43,628.44L263.06,629.56L263.7,629.96L264.34,629L264.34,631.75ZM264.34,631.75L264.34,631.69L264.98,629.72L265.61,630.42L266.25,630.84L266.89,629.37L267.53,628.81L268.17,629.4L268.81,629.45L269.45,629.93L270.09,629.38L270.73,627.78L271.37,626.63L272.01,625.05L272.65,624.41L273.29,623.12L273.92,621.97L274.56,622.11L275.2,615.15L275.84,619.94L276.48,612L277.12,612.58L277.76,616.02L278.4,610.21L279.04,609.76L279.68,608.19L280.32,610.14L280.96,610.78L281.6,610.38L282.24,610.03L282.87,614.28L283.51,606.94L284.15,614.14L284.79,611.37L284.79,631.75ZM284.79,631.75L284.79,629.65L285.43,629.26L286.07,630.15L286.7,630L287.34,630.42L287.98,629.74L288.62,629.93L289.25,630L289.89,630.79L290.53,630.69L291.17,629.65L291.8,630.67L292.44,629.92L293.08,629.27L293.71,630.09L294.35,629.65L294.99,630.18L295.63,629.78L296.26,628.82L296.9,629.01L297.54,628.78L298.18,629.3L298.81,630.36L299.45,630.88L300.09,629.41L300.72,629.51L301.36,629.84L302,629.42L302.64,631.17L303.27,629.7L303.91,629.99L304.55,630L304.55,631.75ZM304.55,631.75L304.55,631.13L305.18,630.99L305.82,630.86L306.45,630.49L307.09,631.18L307.72,630.69L308.36,631.75L308.99,630.05L309.63,630.11L310.26,629.68L310.9,630.81L311.54,630.69L312.17,630.9L312.81,630.73L313.44,631.16L314.08,630.6L314.71,630.46L315.35,631.65L315.98,629.73L316.62,630.18L317.25,630.36L317.89,630.72L318.52,630.14L319.16,630.35L319.79,630.37L320.43,630.56L321.06,630.94L321.7,630.63L322.33,630.87L322.97,630.8L323.6,630.95L323.6,631.75ZM323.6,631.75L323.6,629.08L324.23,630.59L324.86,630.89L325.49,630.3L326.13,630.26L326.76,629.99L327.39,629.86L328.02,630.77L328.65,630.75L329.28,630.68L329.91,629.79L330.54,630.32L331.17,631.03L331.8,630.65L332.43,630.74L333.06,631.36L333.69,629.46L334.32,630.13L334.95,629.95L335.58,630.3L336.21,630.96L336.84,629.72L337.47,629.97L338.1,630.88L338.74,631.18L339.37,630.76L340,630.07L340.63,630.48L341.26,630.72L341.89,630.55L342.52,630.75L342.52,631.75ZM342.52,631.75L342.52,628.77L343.14,629.41L343.77,628.02L344.4,628.48L345.02,628.56L345.65,629.1L346.27,628.34L346.9,628.08L347.53,627.83L348.15,628.78L348.78,626.95L349.4,627.91L350.03,625.54L350.65,626.44L351.28,624.94L351.91,624.89L352.53,627.47L353.16,627.92L353.78,628.48L354.41,628.34L355.04,629.64L355.66,630.05L356.29,628.46L356.91,629.42L357.54,630.06L358.16,629.4L358.79,630.32L359.42,630.23L360.04,629.89L360.67,629.87L361.29,630.07L361.29,631.75ZM361.29,631.75L361.29,631.4L361.94,630.8L362.58,631.38L363.23,630.74L363.87,631.26L364.52,630.83L365.16,631.01L365.81,631.15L366.45,630.93L367.09,631.46L367.74,630.88L368.38,631.25L369.03,631.75L369.67,630.52L370.32,631.75L370.96,630.97L371.61,631.11L372.25,631.58L372.89,631.16L373.54,631.12L374.18,630.83L374.83,631.59L375.47,630.95L376.12,631.75L376.76,630.8L377.41,631.58L377.41,631.75ZM377.41,631.75L377.41,629.87L378.06,629.93L378.71,629.65L379.36,630L380.01,629.77L380.67,628.14L381.32,627.99L381.97,629.83L382.62,627.53L383.27,629.62L383.92,627.23L384.58,628.7L385.23,628.72L385.88,629.81L386.53,628.61L387.18,628.7L387.84,629.6L388.49,628.32L389.14,628.79L389.79,629.26L390.44,628.97L391.09,630.42L391.75,628.87L392.4,629.93L392.4,631.75ZM392.4,631.75L392.4,630.11L393.03,630.31L393.65,630.91L394.28,629.61L394.91,630.43L395.54,629.76L396.16,630.86L396.79,630.92L397.42,630.76L398.05,630.71L398.67,630.71L399.3,629.87L399.93,630.02L400.56,630.46L401.18,629.6L401.81,631.3L402.44,630.5L403.07,631.5L403.69,630.79L404.32,630.2L404.95,630.62L405.58,630.44L406.2,630.47L406.83,630.53L406.83,631.75ZM406.83,631.75L406.83,630.57L407.46,629.97L408.09,630.34L408.72,631.67L409.35,630.9L409.98,630.72L410.61,631.14L411.24,630.8L411.87,630.56L412.5,630.4L413.14,630.33L413.77,630.89L414.4,630.18L415.03,631.06L415.66,629.58L416.29,630.59L416.92,630.31L417.55,630.65L418.18,630.66L418.81,630.74L419.44,630.4L419.44,631.75ZM419.44,631.75L419.44,629.09L420.07,626.45L420.7,622.24L421.33,626.61L421.96,627.48L422.59,628.3L423.22,629.31L423.85,631L424.48,629.73L425.11,628.36L425.75,629.22L426.38,628.56L427.01,628.86L427.64,628.85L428.27,628.63L428.9,629.51L429.53,628.51L430.16,630.48L430.79,630.32L430.79,631.75ZM430.79,631.75L430.79,629.47L431.43,630L432.07,629.22L432.72,630.5L433.36,629.21L434,629.54L434.65,628.08L435.29,627.63L435.93,628.28L436.57,627.58L437.22,629.49L437.86,628.38L438.5,628.59L439.15,629.39L439.79,628.48L440.43,629.19L441.07,629.73L441.72,629.35L441.72,631.75ZM441.72,631.75L441.72,629.78L442.35,622.06L442.99,625.31L443.63,630.66L444.26,630.52L444.9,629.85L445.53,628.34L446.17,625.32L446.81,622.91L447.44,629.06L448.08,629.08L448.71,629.64L449.35,629.34L449.98,630.16L449.98,631.75ZM449.98,631.75L449.98,629.28L450.61,629.05L451.25,627.48L451.88,628.69L452.51,625.97L453.14,627.3L453.77,627.39L454.4,627.78L455.03,627.61L455.66,628.77L456.29,627.2L456.92,628.73L457.55,628.07L458.18,629.36L458.81,628.48L458.81,631.75ZM458.81,631.75L458.81,629.77L459.48,627.56L460.16,626.87L460.83,623.32L461.5,624.03L462.17,623.32L462.85,626.95L463.52,628.8L464.19,630.65L464.86,629.78L465.54,630.64L465.54,631.75ZM465.54,631.75L465.54,630.06L466.19,629.78L466.84,628.57L467.49,629.69L468.14,629.67L468.78,628.58L469.43,629.03L470.08,627.47L470.73,628.78L471.38,628.04L472.03,629.09L472.68,629.46L472.68,631.75ZM472.68,631.75L472.68,627.39L473.32,628.09L473.96,626.98L474.6,627.62L475.24,628.17L475.88,628.8L476.52,628L477.15,628.39L477.79,623.52L478.43,624.68L479.07,624.09L479.71,622.76L480.35,622.51L480.99,623.3L481.63,626.26L482.26,627.07L482.9,625.21L483.54,627.42L484.18,626.53L484.82,625.68L485.46,627.08L486.1,625.01L486.74,623.54L487.37,624.47L488.01,621.18L488.65,622.58L489.29,623.32L489.93,623.95L490.57,625.7L491.21,625.47L491.85,627.09L492.48,627.04L493.12,628.3L493.76,628.47L494.4,627.91L494.4,631.75Z" fill="#f7cd6e" opacity="0.95"/>
<path d="M69.3,631.75L69.3,631.57L69.93,631.51L70.57,631.47L71.2,631.52L71.84,631.5L72.47,631.52L73.11,631.55L73.74,631.68L74.37,631.58L75.01,631.52L75.64,631.6L76.28,631.55L76.91,631.51L77.55,631.45L78.18,631.59L78.81,631.55L79.45,631.51L80.08,631.49L80.72,631.59L81.35,631.43L81.99,631.56L82.62,631.47L83.26,631.53L83.89,631.5L84.52,631.44L85.16,631.48L85.79,631.51L86.43,631.57L87.06,631.55L87.7,631.59L88.33,631.42L88.96,631.6L89.6,631.65L90.23,631.44L90.87,631.46L91.5,631.54L92.14,631.48L92.77,631.56L93.4,631.55L94.04,631.49L94.67,631.5L95.31,631.54L95.94,631.44L96.58,631.48L97.21,631.51L97.84,631.58L98.48,631.51L99.11,631.54L99.75,631.52L100.38,631.48L101.02,631.55L101.65,631.51L102.28,631.48L102.92,631.5L103.55,631.4L104.19,631.61L104.19,631.75ZM104.19,631.75L104.19,631.29L104.82,631.11L105.45,631.04L106.08,630.91L106.71,631.03L107.34,631.07L107.97,630.77L108.6,630.84L109.23,630.92L109.86,630.5L110.49,630.54L111.12,630.6L111.75,630.52L112.38,630.62L113.01,630.3L113.65,630.48L114.28,630.43L114.91,630.36L115.54,630.45L116.17,630.01L116.8,629.84L117.43,629.95L118.06,630.45L118.69,630.13L119.32,630.23L119.95,630.07L120.58,630.57L121.21,630.6L121.84,630.33L122.47,630.11L123.1,630.35L123.73,629.99L124.36,630.53L124.99,630.42L125.63,630.49L126.26,630.63L126.89,630.37L127.52,630.76L128.15,630.76L128.78,630.69L129.41,630.74L130.04,630.57L130.67,630.82L131.3,630.72L131.93,630.88L132.56,630.71L133.19,630.9L133.82,630.9L134.45,631.14L135.08,630.93L135.71,631.1L136.34,630.99L136.97,631.06L137.6,631.1L138.24,631.08L138.24,631.75ZM138.24,631.75L138.24,631.52L138.87,631.57L139.5,631.65L140.13,631.49L140.76,631.6L141.39,631.58L142.02,631.42L142.65,631.6L143.28,631.54L143.91,631.55L144.54,631.58L145.17,631.63L145.8,631.54L146.43,631.58L147.06,631.54L147.69,631.56L148.32,631.64L148.95,631.58L149.58,631.66L150.21,631.51L150.85,631.65L151.48,631.52L152.11,631.69L152.74,631.65L153.37,631.58L154,631.7L154.63,631.59L155.26,631.61L155.89,631.62L156.52,631.6L157.15,631.61L157.78,631.55L158.41,631.55L159.04,631.58L159.67,631.58L160.3,631.54L160.93,631.55L161.56,631.58L162.19,631.59L162.82,631.59L163.46,631.6L164.09,631.62L164.72,631.58L165.35,631.65L165.98,631.56L165.98,631.75ZM165.98,631.75L165.98,631.08L166.61,631.12L167.25,631.15L167.89,630.67L168.53,630.66L169.16,630.64L169.8,630.77L170.44,630.42L171.07,630.62L171.71,630.28L172.35,630.12L172.99,630.1L173.62,630.29L174.26,629.94L174.9,630.06L175.53,630.03L176.17,629.94L176.81,630.33L177.45,630.4L178.08,630.66L178.72,630.08L179.36,630.5L180,630.2L180.63,630.39L181.27,630.3L181.91,630.49L182.54,630.49L183.18,630.64L183.82,630.58L184.46,630.82L185.09,630.58L185.73,630.97L186.37,630.86L187,630.88L187.64,630.86L188.28,630.92L188.92,631.06L189.55,630.98L190.19,631.3L190.83,631.14L191.46,631.11L192.1,631.21L192.74,631.1L192.74,631.75ZM192.74,631.75L192.74,630.02L193.37,630.5L194.01,630.72L194.64,630.87L195.27,631.23L195.91,631.22L196.54,631.26L197.18,631.34L197.81,631.21L198.44,631.27L199.08,631.19L199.71,631.21L200.35,631.22L200.98,631.11L201.61,631.25L202.25,631.09L202.88,631.15L203.52,630.96L204.15,631.26L204.78,631.24L205.42,631.15L206.05,631.12L206.69,631.21L207.32,631.12L207.95,631.17L208.59,631.31L209.22,631.16L209.86,631.11L210.49,631.15L211.12,631.19L211.76,631.26L212.39,631.12L213.03,631.06L213.66,631.3L214.29,631.13L214.93,631.34L215.56,631.16L216.2,631.41L216.83,631.2L217.47,631.13L218.1,631.31L218.1,631.75ZM218.1,631.75L218.1,631.31L218.73,630.99L219.36,630.85L219.99,630.73L220.62,630.82L221.25,630.63L221.88,630.3L222.51,630.54L223.14,630.41L223.77,625.35L224.4,626.91L225.03,629.95L225.67,630.11L226.3,629.79L226.93,630.12L227.56,630.22L228.19,630.05L228.82,630.76L229.45,630.26L230.08,630.47L230.71,630.4L231.34,630.38L231.97,630.2L232.6,630.52L233.23,630.67L233.86,630.51L234.49,630.71L235.12,630.75L235.75,630.93L236.38,630.72L237.01,630.95L237.64,630.74L238.28,630.9L238.91,630.91L239.54,631.1L240.17,631.01L240.8,631.19L241.43,631.19L242.06,631.12L242.06,631.75ZM242.06,631.75L242.06,630.41L242.69,630.8L243.33,630.71L243.97,630.55L244.6,630.47L245.24,630.54L245.88,630.63L246.51,630.7L247.15,630.6L247.79,630.74L248.42,630.72L249.06,630.79L249.7,630.81L250.33,630.73L250.97,630.87L251.61,630.96L252.24,630.79L252.88,630.73L253.52,630.85L254.15,630.96L254.79,630.83L255.42,630.91L256.06,630.93L256.7,631L257.33,630.9L257.97,630.91L258.61,631.03L259.24,631.16L259.88,630.95L260.52,631.05L261.15,631.07L261.79,631.09L262.43,630.93L263.06,631.07L263.7,631.08L264.34,631.12L264.34,631.75ZM264.34,631.75L264.34,631.08L264.98,631.22L265.61,630.96L266.25,630.77L266.89,630.48L267.53,630.5L268.17,630.02L268.81,630.03L269.45,630.06L270.09,629.38L270.73,629.58L271.37,628.8L272.01,627.97L272.65,628.31L273.29,628.14L273.92,628.4L274.56,626.96L275.2,627.49L275.84,627.48L276.48,626.96L277.12,628.09L277.76,627.41L278.4,627.1L279.04,627.1L279.68,627.54L280.32,625.96L280.96,626.39L281.6,624.79L282.24,625.19L282.87,624.26L283.51,626.82L284.15,626.04L284.79,627.91L284.79,631.75ZM284.79,631.75L284.79,631.53L285.43,631.5L286.07,631.48L286.7,631.48L287.34,631.53L287.98,631.4L288.62,631.51L289.25,631.49L289.89,631.45L290.53,631.46L291.17,631.43L291.8,631.49L292.44,631.42L293.08,631.44L293.71,631.45L294.35,631.4L294.99,631.4L295.63,631.44L296.26,631.51L296.9,631.52L297.54,631.5L298.18,631.49L298.81,631.54L299.45,631.41L300.09,631.49L300.72,631.36L301.36,631.44L302,631.4L302.64,631.4L303.27,631.52L303.91,631.47L304.55,631.41L304.55,631.75ZM304.55,631.75L304.55,631.53L305.18,631.39L305.82,631.43L306.45,631.3L307.09,631.55L307.72,631.38L308.36,631.44L308.99,631.49L309.63,631.41L310.26,631.48L310.9,631.46L311.54,631.49L312.17,631.49L312.81,631.45L313.44,631.49L314.08,631.52L314.71,631.52L315.35,631.44L315.98,631.46L316.62,631.52L317.25,631.46L317.89,631.45L318.52,631.44L319.16,631.45L319.79,631.36L320.43,631.4L321.06,631.39L321.7,631.39L322.33,631.4L322.97,631.45L323.6,631.58L323.6,631.75ZM323.6,631.75L323.6,631.42L324.23,631.44L324.86,631.44L325.49,631.52L326.13,631.4L326.76,631.44L327.39,631.51L328.02,631.44L328.65,631.55L329.28,631.43L329.91,631.44L330.54,631.44L331.17,631.49L331.8,631.52L332.43,631.52L333.06,631.43L333.69,631.56L334.32,631.45L334.95,631.49L335.58,631.49L336.21,631.58L336.84,631.54L337.47,631.59L338.1,631.41L338.74,631.43L339.37,631.42L340,631.47L340.63,631.49L341.26,631.43L341.89,631.51L342.52,631.42L342.52,631.75ZM342.52,631.75L342.52,631.17L343.14,631.2L343.77,631.27L344.4,631.1L345.02,630.95L345.65,631.1L346.27,630.87L346.9,630.56L347.53,630.41L348.15,630.58L348.78,630.26L349.4,630.28L350.03,629.97L350.65,630.26L351.28,629.98L351.91,630.02L352.53,630.14L353.16,630.03L353.78,629.89L354.41,630.4L355.04,630.51L355.66,630.34L356.29,630.41L356.91,630.41L357.54,631.12L358.16,630.61L358.79,630.94L359.42,630.79L360.04,630.94L360.67,631.21L361.29,631.14L361.29,631.75ZM361.29,631.75L361.29,631.72L361.94,631.73L362.58,631.75L363.23,631.75L363.87,631.72L364.52,631.75L365.16,631.75L365.81,631.71L366.45,631.69L367.09,631.75L367.74,631.75L368.38,631.7L369.03,631.75L369.67,631.73L370.32,631.75L370.96,631.75L371.61,631.75L372.25,631.75L372.89,631.75L373.54,631.75L374.18,631.71L374.83,631.73L375.47,631.75L376.12,631.75L376.76,631.75L377.41,631.75L377.41,631.75ZM377.41,631.75L377.41,631.51L378.06,631.5L378.71,631.48L379.36,631.49L380.01,631.41L380.67,631.4L381.32,631.5L381.97,631.54L382.62,631.5L383.27,631.45L383.92,631.37L384.58,631.37L385.23,631.48L385.88,631.41L386.53,631.47L387.18,631.47L387.84,631.48L388.49,631.43L389.14,631.36L389.79,631.39L390.44,631.44L391.09,631.42L391.75,631.48L392.4,631.37L392.4,631.75ZM392.4,631.75L392.4,631.45L393.03,631.41L393.65,631.51L394.28,631.42L394.91,631.44L395.54,631.51L396.16,631.57L396.79,631.44L397.42,631.55L398.05,631.44L398.67,631.35L399.3,631.49L399.93,631.48L400.56,631.36L401.18,631.43L401.81,631.48L402.44,631.41L403.07,631.39L403.69,631.49L404.32,631.5L404.95,631.4L405.58,631.47L406.2,631.4L406.83,631.47L406.83,631.75ZM406.83,631.75L406.83,631.48L407.46,631.54L408.09,631.53L408.72,631.57L409.35,631.53L409.98,631.4L410.61,631.33L411.24,631.48L411.87,631.49L412.5,631.43L413.14,631.46L413.77,631.42L414.4,631.43L415.03,631.43L415.66,631.43L416.29,631.41L416.92,631.54L417.55,631.47L418.18,631.44L418.81,631.42L419.44,631.44L419.44,631.75ZM419.44,631.75L419.44,631.15L420.07,630.03L420.7,622.39L421.33,629.32L421.96,629.55L422.59,629.75L423.22,629.63L423.85,629.73L424.48,630.09L425.11,629.94L425.75,630.41L426.38,630.24L427.01,630.5L427.64,630.67L428.27,630.66L428.9,630.84L429.53,630.88L430.16,630.97L430.79,631.25L430.79,631.75ZM430.79,631.75L430.79,631.48L431.43,631.35L432.07,631.54L432.72,631.54L433.36,631.49L434,631.43L434.65,631.48L435.29,631.5L435.93,631.31L436.57,631.4L437.22,631.45L437.86,631.49L438.5,631.49L439.15,631.45L439.79,631.39L440.43,631.44L441.07,631.42L441.72,631.6L441.72,631.75ZM441.72,631.75L441.72,631.04L442.35,630.21L442.99,630.07L443.63,629.93L444.26,629.36L444.9,629.72L445.53,629.7L446.17,629.62L446.81,629.48L447.44,629.91L448.08,629.89L448.71,630.59L449.35,630.78L449.98,631.36L449.98,631.75ZM449.98,631.75L449.98,631.57L450.61,631.51L451.25,631.54L451.88,631.51L452.51,631.53L453.14,631.44L453.77,631.53L454.4,631.49L455.03,631.5L455.66,631.53L456.29,631.47L456.92,631.52L457.55,631.49L458.18,631.6L458.81,631.53L458.81,631.75ZM458.81,631.75L458.81,631.52L459.48,631.52L460.16,631.54L460.83,631.53L461.5,631.49L462.17,631.53L462.85,631.52L463.52,631.51L464.19,631.61L464.86,631.63L465.54,631.5L465.54,631.75ZM465.54,631.75L465.54,631.52L466.19,631.52L466.84,631.45L467.49,631.48L468.14,631.55L468.78,631.53L469.43,631.51L470.08,631.54L470.73,631.59L471.38,631.5L472.03,631.49L472.68,631.59L472.68,631.75ZM472.68,631.75L472.68,631.5L473.32,631.57L473.96,631.52L474.6,631.53L475.24,631.56L475.88,631.58L476.52,631.5L477.15,631.54L477.79,631.51L478.43,631.51L479.07,631.56L479.71,631.54L480.35,631.43L480.99,631.48L481.63,631.58L482.26,631.51L482.9,631.54L483.54,631.42L484.18,631.47L484.82,631.53L485.46,631.56L486.1,631.44L486.74,631.54L487.37,631.49L488.01,631.56L488.65,631.52L489.29,631.54L489.93,631.63L490.57,631.44L491.21,631.5L491.85,631.52L492.48,631.53L493.12,631.48L493.76,631.48L494.4,631.57L494.4,631.75Z" fill="#c9352b"/>
<path d="M69.3,631.75L69.3,631.75L69.93,631.75L70.57,631.75L71.2,631.75L71.84,631.98L72.47,631.75L73.11,631.75L73.74,631.75L74.37,631.75L75.01,632.41L75.64,632.29L76.28,631.9L76.91,631.75L77.55,631.75L78.18,632.01L78.81,631.76L79.45,632.26L80.08,631.94L80.72,631.78L81.35,631.75L81.99,631.75L82.62,631.92L83.26,631.75L83.89,631.75L84.52,632.37L85.16,631.75L85.79,632.52L86.43,632.2L87.06,631.95L87.7,631.75L88.33,631.75L88.96,632.73L89.6,631.75L90.23,631.75L90.87,631.75L91.5,631.99L92.14,631.88L92.77,631.75L93.4,633.32L94.04,632.53L94.67,635.78L95.31,636.76L95.94,639.08L96.58,637.84L97.21,643.59L97.84,643.3L98.48,642.66L99.11,643.76L99.75,646.22L100.38,650.62L101.02,645.55L101.65,646.25L102.28,641.33L102.92,639.83L103.55,639.01L104.19,639.84L104.19,631.75ZM104.19,631.75L104.19,634.86L104.82,631.75L105.45,634.6L106.08,634.73L106.71,636.17L107.34,635.99L107.97,634.65L108.6,635.06L109.23,634.35L109.86,634.22L110.49,635.29L111.12,636.2L111.75,635.35L112.38,632.54L113.01,634.35L113.65,634.9L114.28,636.52L114.91,632.44L115.54,635.08L116.17,635.67L116.8,636.62L117.43,638.07L118.06,637.61L118.69,637.59L119.32,637.34L119.95,639.94L120.58,639.82L121.21,639.06L121.84,642.64L122.47,646.29L123.1,645.02L123.73,648L124.36,644.19L124.99,648.5L125.63,646.15L126.26,650.37L126.89,648.42L127.52,650.98L128.15,648.12L128.78,647.47L129.41,647.06L130.04,652L130.67,655.16L131.3,652.12L131.93,649.82L132.56,651.16L133.19,650.44L133.82,655.87L134.45,649.82L135.08,655.94L135.71,649.74L136.34,647.75L136.97,649.05L137.6,650.92L138.24,652.5L138.24,631.75ZM138.24,631.75L138.24,642.71L138.87,646.07L139.5,644L140.13,649.31L140.76,647.26L141.39,650.69L142.02,647.97L142.65,646.07L143.28,644.96L143.91,648.87L144.54,646.09L145.17,645.45L145.8,640.53L146.43,645.84L147.06,642.22L147.69,643.76L148.32,644.57L148.95,645.17L149.58,648.28L150.21,646.41L150.85,644.6L151.48,650.64L152.11,648.3L152.74,647.92L153.37,650.83L154,650.49L154.63,652.59L155.26,645.75L155.89,646.23L156.52,643.7L157.15,646.46L157.78,639.9L158.41,637.85L159.04,639.97L159.67,641.04L160.3,638.35L160.93,639.75L161.56,639.6L162.19,640.7L162.82,636.83L163.46,636.35L164.09,637.69L164.72,636.21L165.35,635.16L165.98,635.21L165.98,631.75ZM165.98,631.75L165.98,642.82L166.61,643.01L167.25,642.56L167.89,638.51L168.53,634.43L169.16,640.36L169.8,638.87L170.44,639.9L171.07,636.44L171.71,638.6L172.35,636.69L172.99,637.57L173.62,636.88L174.26,637.03L174.9,635.93L175.53,636.89L176.17,635.66L176.81,636.91L177.45,634.19L178.08,635.71L178.72,635.39L179.36,635.75L180,633.66L180.63,635.04L181.27,633.67L181.91,635.57L182.54,637.39L183.18,635.54L183.82,634.64L184.46,638.28L185.09,636.32L185.73,637.34L186.37,634.65L187,638.52L187.64,637.08L188.28,635.97L188.92,638.44L189.55,638.14L190.19,638.7L190.83,636.12L191.46,635.39L192.1,635.79L192.74,631.75L192.74,631.75ZM192.74,631.75L192.74,632.71L193.37,635.3L194.01,638.35L194.64,637.37L195.27,636.29L195.91,640.54L196.54,644.29L197.18,644.41L197.81,641.05L198.44,644.56L199.08,643.12L199.71,641.52L200.35,649.93L200.98,649.75L201.61,648.79L202.25,648.24L202.88,650.52L203.52,649.22L204.15,648.37L204.78,648.34L205.42,645.08L206.05,647.99L206.69,648.52L207.32,646.02L207.95,649.09L208.59,645.78L209.22,645.76L209.86,644.33L210.49,650.46L211.12,647.09L211.76,646.56L212.39,650.5L213.03,646.78L213.66,648.92L214.29,643.92L214.93,652.94L215.56,647.82L216.2,647.09L216.83,649.38L217.47,646.16L218.1,651.48L218.1,631.75ZM218.1,631.75L218.1,634.71L218.73,635.57L219.36,634.95L219.99,634.59L220.62,635.13L221.25,635.42L221.88,634.3L222.51,633.74L223.14,635.29L223.77,636.87L224.4,636.16L225.03,638.13L225.67,637.52L226.3,649.02L226.93,651.03L227.56,651.77L228.19,657.48L228.82,660.58L229.45,658.6L230.08,660.71L230.71,661.27L231.34,660.7L231.97,657.98L232.6,658.99L233.23,657.29L233.86,662.85L234.49,664.22L235.12,656.71L235.75,659.01L236.38,659.44L237.01,660.56L237.64,661.34L238.28,658.85L238.91,654.79L239.54,653.96L240.17,652.17L240.8,643.97L241.43,639.99L242.06,633.07L242.06,631.75ZM242.06,631.75L242.06,634.21L242.69,633.86L243.33,634.06L243.97,634.5L244.6,634.33L245.24,633.38L245.88,637.3L246.51,635.71L247.15,636.39L247.79,635.36L248.42,634.87L249.06,637.03L249.7,637.54L250.33,636.65L250.97,638.09L251.61,637.75L252.24,637.85L252.88,638.22L253.52,639.97L254.15,639.15L254.79,640.76L255.42,641.25L256.06,639.1L256.7,639.93L257.33,636.9L257.97,635.93L258.61,635.9L259.24,636.05L259.88,635.92L260.52,635.78L261.15,635.69L261.79,635.01L262.43,634.59L263.06,636.02L263.7,635.97L264.34,634.83L264.34,631.75ZM264.34,631.75L264.34,655.69L264.98,652.65L265.61,665.27L266.25,661.89L266.89,659.78L267.53,652.87L268.17,656.76L268.81,650.41L269.45,637.79L270.09,637.69L270.73,637.42L271.37,635.74L272.01,636.84L272.65,632.87L273.29,635.61L273.92,636.16L274.56,635.06L275.2,635.54L275.84,634.91L276.48,634.57L277.12,633.9L277.76,634.58L278.4,634.63L279.04,634.27L279.68,634.95L280.32,635.41L280.96,634.06L281.6,635.34L282.24,634.04L282.87,634.93L283.51,633.67L284.15,633.95L284.79,632.28L284.79,631.75ZM284.79,631.75L284.79,637.11L285.43,639.68L286.07,637.65L286.7,636.71L287.34,636.1L287.98,638.46L288.62,641.16L289.25,641.49L289.89,639.97L290.53,643.59L291.17,643.33L291.8,647.43L292.44,639.98L293.08,638.36L293.71,636.7L294.35,636.42L294.99,637.67L295.63,637.87L296.26,635.83L296.9,635.6L297.54,638.63L298.18,639.25L298.81,641.45L299.45,635.89L300.09,635.96L300.72,636.32L301.36,638.56L302,638.3L302.64,633.97L303.27,637.05L303.91,637.62L304.55,636.1L304.55,631.75ZM304.55,631.75L304.55,639.57L305.18,647.82L305.82,643.04L306.45,646.3L307.09,649.39L307.72,653.21L308.36,652.05L308.99,653.94L309.63,653.43L310.26,651.51L310.9,655.25L311.54,656.69L312.17,653.07L312.81,651.17L313.44,660.62L314.08,655.02L314.71,662.11L315.35,650.93L315.98,658.06L316.62,666.93L317.25,665.26L317.89,652.66L318.52,664.08L319.16,659.49L319.79,657.39L320.43,660.7L321.06,657.45L321.7,649.56L322.33,652.11L322.97,655.28L323.6,643.48L323.6,631.75ZM323.6,631.75L323.6,647.01L324.23,648.66L324.86,647.55L325.49,649.92L326.13,649.7L326.76,643.24L327.39,651.86L328.02,647.98L328.65,651.22L329.28,645.42L329.91,644.8L330.54,644.73L331.17,640.43L331.8,640.68L332.43,640.08L333.06,639.91L333.69,638.03L334.32,638.63L334.95,637.76L335.58,639.94L336.21,636.97L336.84,639.21L337.47,640.05L338.1,638.45L338.74,636.98L339.37,637.8L340,636.92L340.63,638.96L341.26,638.31L341.89,637.89L342.52,637.75L342.52,631.75ZM342.52,631.75L342.52,639.94L343.14,639.91L343.77,639.58L344.4,643.69L345.02,640.88L345.65,640.24L346.27,639.26L346.9,641.41L347.53,641.03L348.15,639.44L348.78,638.44L349.4,640.54L350.03,637.37L350.65,643.03L351.28,640.38L351.91,639.59L352.53,641.2L353.16,644.07L353.78,640.68L354.41,639.42L355.04,640.84L355.66,640.95L356.29,639.48L356.91,640.36L357.54,638.37L358.16,641.23L358.79,639.01L359.42,635.2L360.04,638.34L360.67,638.33L361.29,636.59L361.29,631.75ZM361.29,631.75L361.29,637.83L361.94,642.25L362.58,644.79L363.23,649.9L363.87,650.34L364.52,656.03L365.16,659.15L365.81,646.82L366.45,662.09L367.09,658.86L367.74,664.23L368.38,659.67L369.03,662.84L369.67,664.22L370.32,658.34L370.96,660.73L371.61,651.32L372.25,651.86L372.89,658.51L373.54,652.13L374.18,653.51L374.83,648.54L375.47,649.65L376.12,648.52L376.76,643.02L377.41,643.88L377.41,631.75ZM377.41,631.75L377.41,640.98L378.06,638.41L378.71,641.73L379.36,640.24L380.01,640.52L380.67,639.62L381.32,640.07L381.97,641.18L382.62,641.29L383.27,641.85L383.92,640.2L384.58,641.26L385.23,639.4L385.88,638.66L386.53,640.53L387.18,640.21L387.84,640.18L388.49,639.76L389.14,640.17L389.79,639.99L390.44,638.47L391.09,637.43L391.75,638.64L392.4,640.2L392.4,631.75ZM392.4,631.75L392.4,636.22L393.03,638.39L393.65,642.07L394.28,646.42L394.91,647.58L395.54,643.6L396.16,651.69L396.79,654.2L397.42,647.67L398.05,645.97L398.67,646.43L399.3,650.76L399.93,648.86L400.56,647.92L401.18,648.34L401.81,651.02L402.44,651.27L403.07,644.92L403.69,642.73L404.32,643.75L404.95,644.24L405.58,642.4L406.2,638.13L406.83,638.58L406.83,631.75ZM406.83,631.75L406.83,644.01L407.46,645.28L408.09,646.92L408.72,644.62L409.35,653.46L409.98,647.9L410.61,650.65L411.24,655.89L411.87,651.92L412.5,651.67L413.14,657.03L413.77,655.09L414.4,654.15L415.03,656.39L415.66,649.6L416.29,649.72L416.92,644.01L417.55,649.58L418.18,645.17L418.81,641.7L419.44,641.73L419.44,631.75ZM419.44,631.75L419.44,640.77L420.07,642.58L420.7,643.21L421.33,642.54L421.96,641.92L422.59,637.69L423.22,643.96L423.85,640.9L424.48,643.38L425.11,641.43L425.75,637.31L426.38,639.44L427.01,644.51L427.64,642.53L428.27,639.35L428.9,640.68L429.53,643.2L430.16,640.79L430.79,642.53L430.79,631.75ZM430.79,631.75L430.79,642.4L431.43,644.02L432.07,647.04L432.72,647.92L433.36,644.97L434,654.28L434.65,649.6L435.29,648.12L435.93,651.25L436.57,650.15L437.22,649.57L437.86,643.56L438.5,645.41L439.15,644.02L439.79,642.72L440.43,643.13L441.07,643.75L441.72,644.73L441.72,631.75ZM441.72,631.75L441.72,644.79L442.35,645.49L442.99,644.87L443.63,649.3L444.26,650.86L444.9,651.44L445.53,650.03L446.17,654.66L446.81,653.14L447.44,651.02L448.08,645.11L448.71,647.58L449.35,644.19L449.98,643.94L449.98,631.75ZM449.98,631.75L449.98,637.17L450.61,639.19L451.25,638.79L451.88,634.07L452.51,640.41L453.14,639.95L453.77,640.32L454.4,641.65L455.03,640.6L455.66,637.94L456.29,638.51L456.92,637.52L457.55,638.3L458.18,640.24L458.81,635.54L458.81,631.75ZM458.81,631.75L458.81,635.45L459.48,636.63L460.16,635.85L460.83,638.22L461.5,636L462.17,637.31L462.85,637.95L463.52,636.35L464.19,637.04L464.86,634.97L465.54,635.48L465.54,631.75ZM465.54,631.75L465.54,637.99L466.19,639.24L466.84,638.78L467.49,640.47L468.14,642.12L468.78,640.62L469.43,637.28L470.08,639.27L470.73,635.14L471.38,639.46L472.03,637.85L472.68,637.44L472.68,631.75ZM472.68,631.75L472.68,634.45L473.32,633.38L473.96,633.72L474.6,633.99L475.24,634.8L475.88,633.69L476.52,633.45L477.15,634.17L477.79,633.6L478.43,635.2L479.07,639.1L479.71,638.68L480.35,638.97L480.99,638.32L481.63,642.83L482.26,641.18L482.9,642.18L483.54,643.28L484.18,642.53L484.82,640.04L485.46,645.2L486.1,642.92L486.74,644.52L487.37,644.1L488.01,641.76L488.65,641.46L489.29,642.09L489.93,643.2L490.57,639.83L491.21,637.92L491.85,640.29L492.48,639.18L493.12,636.9L493.76,635.26L494.4,635.04L494.4,631.75Z" fill="#5a98d0"/>
<path d="M69.3,631.75L69.3,631.75L69.93,631.75L70.57,631.75L71.2,631.75L71.84,631.75L72.47,631.75L73.11,631.75L73.74,631.81L74.37,631.75L75.01,631.78L75.64,631.78L76.28,631.75L76.91,631.75L77.55,631.75L78.18,631.75L78.81,631.77L79.45,631.75L80.08,631.76L80.72,631.75L81.35,631.75L81.99,631.75L82.62,631.81L83.26,631.75L83.89,631.75L84.52,631.81L85.16,631.79L85.79,631.75L86.43,631.75L87.06,631.75L87.7,631.79L88.33,631.75L88.96,631.75L89.6,631.77L90.23,631.75L90.87,631.75L91.5,631.81L92.14,631.77L92.77,631.79L93.4,631.76L94.04,632.02L94.67,632.36L95.31,632.91L95.94,633.38L96.58,633.53L97.21,633.7L97.84,634.17L98.48,634L99.11,634.19L99.75,633.88L100.38,634.17L101.02,634.28L101.65,634.63L102.28,634.49L102.92,634.13L103.55,634.4L104.19,633.87L104.19,631.75ZM104.19,631.75L104.19,633.58L104.82,633.52L105.45,633.31L106.08,633.42L106.71,633.63L107.34,633.64L107.97,633.56L108.6,633.7L109.23,633.78L109.86,633.64L110.49,633.44L111.12,633.78L111.75,633.76L112.38,633.76L113.01,633.75L113.65,633.63L114.28,633.48L114.91,633.56L115.54,633.39L116.17,633.8L116.8,633.75L117.43,633.6L118.06,633.63L118.69,633.79L119.32,634L119.95,633.84L120.58,633.48L121.21,633.73L121.84,633.73L122.47,633.7L123.1,633.97L123.73,633.97L124.36,633.68L124.99,633.82L125.63,633.76L126.26,633.33L126.89,633.84L127.52,633.89L128.15,633.55L128.78,634.1L129.41,634.38L130.04,634.44L130.67,634.21L131.3,633.98L131.93,633.54L132.56,633.79L133.19,633.92L133.82,633.76L134.45,634.28L135.08,633.84L135.71,633.78L136.34,634.02L136.97,633.93L137.6,633.99L138.24,634.14L138.24,631.75ZM138.24,631.75L138.24,637.67L138.87,637.89L139.5,638.19L140.13,637.57L140.76,638.32L141.39,637.48L142.02,638.73L142.65,638.79L143.28,638.84L143.91,638.65L144.54,638.58L145.17,638.75L145.8,639.21L146.43,638.47L147.06,639.42L147.69,639.58L148.32,638.15L148.95,637.9L149.58,639.54L150.21,639.15L150.85,638.88L151.48,638.62L152.11,638.82L152.74,638.16L153.37,638.93L154,637.8L154.63,637.47L155.26,638.34L155.89,639.17L156.52,638.7L157.15,637.55L157.78,637.62L158.41,637L159.04,636.81L159.67,636.22L160.3,636.36L160.93,635.62L161.56,635.52L162.19,635.52L162.82,635.29L163.46,635.79L164.09,634.51L164.72,634.21L165.35,634.46L165.98,634.17L165.98,631.75ZM165.98,631.75L165.98,634.08L166.61,634.48L167.25,634.48L167.89,633.67L168.53,633.87L169.16,633.81L169.8,634.31L170.44,633.8L171.07,633.4L171.71,633.74L172.35,633.8L172.99,633.83L173.62,633.81L174.26,633.85L174.9,633.64L175.53,633.8L176.17,633.69L176.81,633.68L177.45,633.7L178.08,633.95L178.72,633.8L179.36,633.88L180,633.55L180.63,633.32L181.27,633.65L181.91,633.86L182.54,633.65L183.18,633.53L183.82,633.29L184.46,633.69L185.09,633.43L185.73,633.24L186.37,633.66L187,633.58L187.64,633.81L188.28,633.28L188.92,633.24L189.55,633.54L190.19,633.82L190.83,633.53L191.46,633.6L192.1,633.19L192.74,633.5L192.74,631.75ZM192.74,631.75L192.74,633.04L193.37,632.72L194.01,633.09L194.64,633.38L195.27,632.99L195.91,633.08L196.54,633.68L197.18,633.64L197.81,633.79L198.44,633.26L199.08,633.93L199.71,633.77L200.35,633.56L200.98,634.09L201.61,633.86L202.25,634.05L202.88,634.3L203.52,634.23L204.15,634.59L204.78,634.5L205.42,634.44L206.05,634.97L206.69,634.38L207.32,634.45L207.95,634.65L208.59,634.22L209.22,634.73L209.86,635.13L210.49,635.28L211.12,634.39L211.76,634.86L212.39,634.53L213.03,634.9L213.66,634.5L214.29,635.21L214.93,634.87L215.56,634.73L216.2,634.31L216.83,634.39L217.47,634.44L218.1,634.92L218.1,631.75ZM218.1,631.75L218.1,633.31L218.73,634.13L219.36,633.61L219.99,633.75L220.62,634.01L221.25,633.43L221.88,634.25L222.51,634.84L223.14,634.49L223.77,634.65L224.4,634.59L225.03,634.72L225.67,634.88L226.3,635.49L226.93,636.33L227.56,636.96L228.19,639.38L228.82,639.03L229.45,639.63L230.08,639.81L230.71,639.69L231.34,639.95L231.97,639.09L232.6,640.64L233.23,639.06L233.86,639.17L234.49,639.88L235.12,640.74L235.75,638.45L236.38,640.8L237.01,639.46L237.64,641.29L238.28,638.93L238.91,638.62L239.54,637.36L240.17,636.37L240.8,635.43L241.43,634.71L242.06,633.23L242.06,631.75ZM242.06,631.75L242.06,633L242.69,632.92L243.33,633.16L243.97,632.99L244.6,633L245.24,633.21L245.88,632.89L246.51,632.51L247.15,633.09L247.79,633.18L248.42,633.09L249.06,632.9L249.7,633.19L250.33,633.32L250.97,633.17L251.61,632.96L252.24,633.08L252.88,633.23L253.52,632.91L254.15,633.38L254.79,632.95L255.42,633.58L256.06,633.12L256.7,633.42L257.33,633.35L257.97,632.9L258.61,633.42L259.24,633.17L259.88,633.25L260.52,633.39L261.15,633.04L261.79,633.31L262.43,633.47L263.06,633.59L263.7,633.64L264.34,633.55L264.34,631.75ZM264.34,631.75L264.34,634.79L264.98,635.17L265.61,635.18L266.25,634.93L266.89,634.68L267.53,635L268.17,635.32L268.81,635.35L269.45,634.7L270.09,635.41L270.73,634.44L271.37,634.37L272.01,634.49L272.65,634.49L273.29,634.22L273.92,634.62L274.56,634.43L275.2,634.23L275.84,633.82L276.48,634.04L277.12,634.17L277.76,634.21L278.4,634.3L279.04,633.63L279.68,633.9L280.32,633.82L280.96,633.48L281.6,634.07L282.24,633.31L282.87,633.42L283.51,633.54L284.15,633.36L284.79,633.46L284.79,631.75ZM284.79,631.75L284.79,633.64L285.43,633.22L286.07,633.45L286.7,633.54L287.34,633.14L287.98,633.12L288.62,633.44L289.25,633.01L289.89,633.56L290.53,633.46L291.17,633.55L291.8,633.66L292.44,633.64L293.08,633.61L293.71,633.52L294.35,633.32L294.99,633.52L295.63,633.32L296.26,633.49L296.9,633.39L297.54,633.5L298.18,633.5L298.81,633.42L299.45,633.44L300.09,633.39L300.72,633.27L301.36,633.62L302,633.35L302.64,633.63L303.27,633.17L303.91,633.22L304.55,633.71L304.55,631.75ZM304.55,631.75L304.55,636.39L305.18,636.8L305.82,636.75L306.45,636.92L307.09,637.62L307.72,637.51L308.36,637.2L308.99,637.91L309.63,639.01L310.26,638.09L310.9,639.03L311.54,638.15L312.17,639.55L312.81,640.35L313.44,640.11L314.08,639.01L314.71,639.91L315.35,638.77L315.98,638.99L316.62,637.91L317.25,640.05L317.89,639.26L318.52,638.09L319.16,637.59L319.79,638.04L320.43,638.29L321.06,638.75L321.7,637.24L322.33,637.84L322.97,638.33L323.6,637.68L323.6,631.75ZM323.6,631.75L323.6,633.65L324.23,634.12L324.86,634.23L325.49,634.3L326.13,633.61L326.76,633.85L327.39,633.69L328.02,634.04L328.65,633.63L329.28,633.58L329.91,634.27L330.54,633.78L331.17,633.73L331.8,634.02L332.43,633.87L333.06,633.78L333.69,633.49L334.32,633.59L334.95,633.67L335.58,633.49L336.21,633.51L336.84,633.53L337.47,633.73L338.1,633.26L338.74,633.36L339.37,633.28L340,633.48L340.63,633.21L341.26,633.39L341.89,633.47L342.52,633.43L342.52,631.75ZM342.52,631.75L342.52,634.71L343.14,634.64L343.77,634.41L344.4,634.54L345.02,634.88L345.65,634.71L346.27,635.22L346.9,634.68L347.53,634.46L348.15,634.23L348.78,634.02L349.4,634.92L350.03,634.62L350.65,634.87L351.28,634.65L351.91,634.85L352.53,634.84L353.16,634.74L353.78,635.09L354.41,634.5L355.04,634.69L355.66,634.27L356.29,634.49L356.91,634.57L357.54,634.08L358.16,634.6L358.79,634.91L359.42,634.45L360.04,633.79L360.67,634.19L361.29,634.46L361.29,631.75ZM361.29,631.75L361.29,634.87L361.94,634.85L362.58,633.92L363.23,635.03L363.87,634.86L364.52,634.5L365.16,634.32L365.81,635.68L366.45,635.29L367.09,634.85L367.74,635.11L368.38,634.88L369.03,634.56L369.67,634.49L370.32,634.76L370.96,634.76L371.61,634.4L372.25,635.39L372.89,634.94L373.54,635.47L374.18,634.39L374.83,634.82L375.47,635.32L376.12,634.52L376.76,634.83L377.41,635.69L377.41,631.75ZM377.41,631.75L377.41,633.65L378.06,633.62L378.71,634.36L379.36,633.84L380.01,634.27L380.67,634.08L381.32,634.32L381.97,633.98L382.62,634.41L383.27,634.1L383.92,633.64L384.58,633.89L385.23,633.83L385.88,633.96L386.53,633.93L387.18,634.13L387.84,633.76L388.49,634.18L389.14,634.09L389.79,634.09L390.44,633.78L391.09,633.76L391.75,634.07L392.4,633.75L392.4,631.75ZM392.4,631.75L392.4,633.79L393.03,634.2L393.65,634.4L394.28,634.46L394.91,634.13L395.54,634.48L396.16,634.57L396.79,634.19L397.42,634.75L398.05,634.74L398.67,634.28L399.3,634.76L399.93,634.33L400.56,634.44L401.18,634.94L401.81,634.61L402.44,635.07L403.07,634.27L403.69,634.92L404.32,635.03L404.95,635.27L405.58,635.44L406.2,635.4L406.83,634.86L406.83,631.75ZM406.83,631.75L406.83,636.83L407.46,636.68L408.09,636.29L408.72,635.98L409.35,635.21L409.98,635.58L410.61,636.16L411.24,636.6L411.87,636.59L412.5,636.06L413.14,636.5L413.77,636.65L414.4,636.62L415.03,635.95L415.66,635.86L416.29,635.73L416.92,636.24L417.55,636.31L418.18,635.52L418.81,636.2L419.44,636.51L419.44,631.75ZM419.44,631.75L419.44,635.67L420.07,634.58L420.7,635.26L421.33,635.12L421.96,635.35L422.59,634.95L423.22,634.98L423.85,635.73L424.48,635.36L425.11,635.71L425.75,635.18L426.38,635.29L427.01,635.45L427.64,634.78L428.27,635.64L428.9,635.08L429.53,635.05L430.16,634.98L430.79,635.59L430.79,631.75ZM430.79,631.75L430.79,636.33L431.43,635.07L432.07,635.14L432.72,635.55L433.36,634.86L434,635.03L434.65,635.4L435.29,635.28L435.93,635.45L436.57,634.87L437.22,635.64L437.86,635.32L438.5,635.21L439.15,635.96L439.79,635.16L440.43,635.09L441.07,635.11L441.72,635.32L441.72,631.75ZM441.72,631.75L441.72,635.39L442.35,635.75L442.99,634.93L443.63,635.39L444.26,635.49L444.9,635.69L445.53,635.62L446.17,634.82L446.81,635.15L447.44,635.58L448.08,635.4L448.71,635.37L449.35,635.47L449.98,635.48L449.98,631.75ZM449.98,631.75L449.98,634.29L450.61,633.85L451.25,634.39L451.88,633.99L452.51,634.16L453.14,634.24L453.77,633.9L454.4,634.54L455.03,633.91L455.66,633.48L456.29,633.89L456.92,633.77L457.55,634.18L458.18,634.05L458.81,634.06L458.81,631.75ZM458.81,631.75L458.81,633.1L459.48,633.71L460.16,633.45L460.83,633.42L461.5,633.7L462.17,633.41L462.85,633.39L463.52,633.37L464.19,633.15L464.86,633.45L465.54,633.63L465.54,631.75ZM465.54,631.75L465.54,634.2L466.19,633.93L466.84,634.17L467.49,634.4L468.14,633.9L468.78,634L469.43,633.84L470.08,633.86L470.73,633.93L471.38,633.63L472.03,633.91L472.68,634.15L472.68,631.75ZM472.68,631.75L472.68,632.86L473.32,633.17L473.96,633.37L474.6,633.63L475.24,633.63L475.88,634.32L476.52,633.77L477.15,634.54L477.79,634.84L478.43,634.83L479.07,634.93L479.71,635.08L480.35,635.26L480.99,635.09L481.63,634.89L482.26,635.98L482.9,637.25L483.54,636.25L484.18,636.05L484.82,635.94L485.46,636.15L486.1,635.73L486.74,635.9L487.37,635.69L488.01,635.51L488.65,634.95L489.29,634.47L489.93,635.01L490.57,634.68L491.21,634.18L491.85,634.32L492.48,633.92L493.12,633.43L493.76,633.93L494.4,633.63L494.4,631.75Z" fill="#2f62a3"/>
<line x1="69.3" x2="494.4" y1="631.75" y2="631.75" stroke="#3a2a20" stroke-width="0.65"/>
<line x1="104.19" x2="104.19" y1="597.5" y2="666.0" stroke="#555" stroke-width="0.75"/>
<line x1="138.24" x2="138.24" y1="597.5" y2="666.0" stroke="#555" stroke-width="0.75"/>
<line x1="165.98" x2="165.98" y1="597.5" y2="666.0" stroke="#555" stroke-width="0.75"/>
<line x1="192.74" x2="192.74" y1="597.5" y2="666.0" stroke="#555" stroke-width="0.75"/>
<line x1="218.1" x2="218.1" y1="597.5" y2="666.0" stroke="#555" stroke-width="0.75"/>
<line x1="242.06" x2="242.06" y1="597.5" y2="666.0" stroke="#555" stroke-width="0.75"/>
<line x1="264.34" x2="264.34" y1="597.5" y2="666.0" stroke="#555" stroke-width="0.75"/>
<line x1="284.79" x2="284.79" y1="597.5" y2="666.0" stroke="#555" stroke-width="0.75"/>
<line x1="304.55" x2="304.55" y1="597.5" y2="666.0" stroke="#555" stroke-width="0.75"/>
<line x1="323.6" x2="323.6" y1="597.5" y2="666.0" stroke="#555" stroke-width="0.75"/>
<line x1="342.52" x2="342.52" y1="597.5" y2="666.0" stroke="#555" stroke-width="0.75"/>
<line x1="361.29" x2="361.29" y1="597.5" y2="666.0" stroke="#555" stroke-width="0.75"/>
<line x1="377.41" x2="377.41" y1="597.5" y2="666.0" stroke="#555" stroke-width="0.75"/>
<line x1="392.4" x2="392.4" y1="597.5" y2="666.0" stroke="#555" stroke-width="0.75"/>
<line x1="406.83" x2="406.83" y1="597.5" y2="666.0" stroke="#555" stroke-width="0.75"/>
<line x1="419.44" x2="419.44" y1="597.5" y2="666.0" stroke="#555" stroke-width="0.75"/>
<line x1="430.79" x2="430.79" y1="597.5" y2="666.0" stroke="#555" stroke-width="0.75"/>
<line x1="441.72" x2="441.72" y1="597.5" y2="666.0" stroke="#555" stroke-width="0.75"/>
<line x1="449.98" x2="449.98" y1="597.5" y2="666.0" stroke="#555" stroke-width="0.75"/>
<line x1="458.81" x2="458.81" y1="597.5" y2="666.0" stroke="#555" stroke-width="0.75"/>
<line x1="465.54" x2="465.54" y1="597.5" y2="666.0" stroke="#555" stroke-width="0.75"/>
<line x1="472.68" x2="472.68" y1="597.5" y2="666.0" stroke="#555" stroke-width="0.75"/>
<line x1="69.3" x2="69.3" y1="597.5" y2="666.0" stroke="#333" stroke-width="0.7"/>
<line x1="69.3" x2="494.4" y1="666.0" y2="666.0" stroke="#333" stroke-width="0.7"/>
<line x1="67.8" x2="69.3" y1="597.55" y2="597.55" stroke="#333" stroke-width="0.5"/>
<text x="66.1" y="599.55" font-size="5.8" fill="#333" text-anchor="end">60%</text>
<line x1="67.8" x2="69.3" y1="608.95" y2="608.95" stroke="#333" stroke-width="0.5"/>
<text x="66.1" y="610.95" font-size="5.8" fill="#333" text-anchor="end">40%</text>
<line x1="67.8" x2="69.3" y1="620.35" y2="620.35" stroke="#333" stroke-width="0.5"/>
<text x="66.1" y="622.35" font-size="5.8" fill="#333" text-anchor="end">20%</text>
<line x1="67.8" x2="69.3" y1="631.75" y2="631.75" stroke="#333" stroke-width="0.5"/>
<text x="66.1" y="633.75" font-size="5.8" fill="#333" text-anchor="end">0%</text>
<line x1="67.8" x2="69.3" y1="643.15" y2="643.15" stroke="#333" stroke-width="0.5"/>
<text x="66.1" y="645.15" font-size="5.8" fill="#333" text-anchor="end">20%</text>
<line x1="67.8" x2="69.3" y1="654.55" y2="654.55" stroke="#333" stroke-width="0.5"/>
<text x="66.1" y="656.55" font-size="5.8" fill="#333" text-anchor="end">40%</text>
<line x1="67.8" x2="69.3" y1="665.95" y2="665.95" stroke="#333" stroke-width="0.5"/>
<text x="66.1" y="667.95" font-size="5.8" fill="#333" text-anchor="end">60%</text>
<text x="51.2" y="613.5" font-size="7.8" fill="#333" text-anchor="middle" transform="rotate(-90 51.2 613.5)">Gain</text>
<text x="51.2" y="649.5" font-size="7.8" fill="#333" text-anchor="middle" transform="rotate(-90 51.2 649.5)">Loss</text>
<line x1="86.74" x2="86.74" y1="666.0" y2="667.3" stroke="#333" stroke-width="0.5"/>
<text x="86.74" y="673.2" font-size="5.3" fill="#444" text-anchor="middle" dominant-baseline="central" transform="rotate(-60 86.74 673.2)">1</text>
<line x1="121.21" x2="121.21" y1="666.0" y2="667.3" stroke="#333" stroke-width="0.5"/>
<text x="121.21" y="673.2" font-size="5.3" fill="#444" text-anchor="middle" dominant-baseline="central" transform="rotate(-60 121.21 673.2)">2</text>
<line x1="152.11" x2="152.11" y1="666.0" y2="667.3" stroke="#333" stroke-width="0.5"/>
<text x="152.11" y="673.2" font-size="5.3" fill="#444" text-anchor="middle" dominant-baseline="central" transform="rotate(-60 152.11 673.2)">3</text>
<line x1="179.36" x2="179.36" y1="666.0" y2="667.3" stroke="#333" stroke-width="0.5"/>
<text x="179.36" y="673.2" font-size="5.3" fill="#444" text-anchor="middle" dominant-baseline="central" transform="rotate(-60 179.36 673.2)">4</text>
<line x1="205.42" x2="205.42" y1="666.0" y2="667.3" stroke="#333" stroke-width="0.5"/>
<text x="205.42" y="673.2" font-size="5.3" fill="#444" text-anchor="middle" dominant-baseline="central" transform="rotate(-60 205.42 673.2)">5</text>
<line x1="230.08" x2="230.08" y1="666.0" y2="667.3" stroke="#333" stroke-width="0.5"/>
<text x="230.08" y="673.2" font-size="5.3" fill="#444" text-anchor="middle" dominant-baseline="central" transform="rotate(-60 230.08 673.2)">6</text>
<line x1="253.2" x2="253.2" y1="666.0" y2="667.3" stroke="#333" stroke-width="0.5"/>
<text x="253.2" y="673.2" font-size="5.3" fill="#444" text-anchor="middle" dominant-baseline="central" transform="rotate(-60 253.2 673.2)">7</text>
<line x1="274.56" x2="274.56" y1="666.0" y2="667.3" stroke="#333" stroke-width="0.5"/>
<text x="274.56" y="673.2" font-size="5.3" fill="#444" text-anchor="middle" dominant-baseline="central" transform="rotate(-60 274.56 673.2)">8</text>
<line x1="294.67" x2="294.67" y1="666.0" y2="667.3" stroke="#333" stroke-width="0.5"/>
<text x="294.67" y="673.2" font-size="5.3" fill="#444" text-anchor="middle" dominant-baseline="central" transform="rotate(-60 294.67 673.2)">9</text>
<line x1="314.08" x2="314.08" y1="666.0" y2="667.3" stroke="#333" stroke-width="0.5"/>
<text x="314.08" y="673.2" font-size="5.3" fill="#444" text-anchor="middle" dominant-baseline="central" transform="rotate(-60 314.08 673.2)">10</text>
<line x1="333.06" x2="333.06" y1="666.0" y2="667.3" stroke="#333" stroke-width="0.5"/>
<text x="333.06" y="673.2" font-size="5.3" fill="#444" text-anchor="middle" dominant-baseline="central" transform="rotate(-60 333.06 673.2)">11</text>
<line x1="351.91" x2="351.91" y1="666.0" y2="667.3" stroke="#333" stroke-width="0.5"/>
<text x="351.91" y="673.2" font-size="5.3" fill="#444" text-anchor="middle" dominant-baseline="central" transform="rotate(-60 351.91 673.2)">12</text>
<line x1="369.35" x2="369.35" y1="666.0" y2="667.3" stroke="#333" stroke-width="0.5"/>
<text x="369.35" y="673.2" font-size="5.3" fill="#444" text-anchor="middle" dominant-baseline="central" transform="rotate(-60 369.35 673.2)">13</text>
<line x1="384.9" x2="384.9" y1="666.0" y2="667.3" stroke="#333" stroke-width="0.5"/>
<text x="384.9" y="673.2" font-size="5.3" fill="#444" text-anchor="middle" dominant-baseline="central" transform="rotate(-60 384.9 673.2)">14</text>
<line x1="399.61" x2="399.61" y1="666.0" y2="667.3" stroke="#333" stroke-width="0.5"/>
<text x="399.61" y="673.2" font-size="5.3" fill="#444" text-anchor="middle" dominant-baseline="central" transform="rotate(-60 399.61 673.2)">15</text>
<line x1="413.14" x2="413.14" y1="666.0" y2="667.3" stroke="#333" stroke-width="0.5"/>
<text x="413.14" y="673.2" font-size="5.3" fill="#444" text-anchor="middle" dominant-baseline="central" transform="rotate(-60 413.14 673.2)">16</text>
<line x1="425.11" x2="425.11" y1="666.0" y2="667.3" stroke="#333" stroke-width="0.5"/>
<text x="425.11" y="673.2" font-size="5.3" fill="#444" text-anchor="middle" dominant-baseline="central" transform="rotate(-60 425.11 673.2)">17</text>
<line x1="436.25" x2="436.25" y1="666.0" y2="667.3" stroke="#333" stroke-width="0.5"/>
<text x="436.25" y="673.2" font-size="5.3" fill="#444" text-anchor="middle" dominant-baseline="central" transform="rotate(-60 436.25 673.2)">18</text>
<line x1="445.85" x2="445.85" y1="666.0" y2="667.3" stroke="#333" stroke-width="0.5"/>
<text x="445.85" y="673.2" font-size="5.3" fill="#444" text-anchor="middle" dominant-baseline="central" transform="rotate(-60 445.85 673.2)">19</text>
<line x1="454.4" x2="454.4" y1="666.0" y2="667.3" stroke="#333" stroke-width="0.5"/>
<text x="454.4" y="673.2" font-size="5.3" fill="#444" text-anchor="middle" dominant-baseline="central" transform="rotate(-60 454.4 673.2)">20</text>
<line x1="462.17" x2="462.17" y1="666.0" y2="667.3" stroke="#333" stroke-width="0.5"/>
<text x="462.17" y="673.2" font-size="5.3" fill="#444" text-anchor="middle" dominant-baseline="central" transform="rotate(-60 462.17 673.2)">21</text>
<line x1="469.11" x2="469.11" y1="666.0" y2="667.3" stroke="#333" stroke-width="0.5"/>
<text x="469.11" y="673.2" font-size="5.3" fill="#444" text-anchor="middle" dominant-baseline="central" transform="rotate(-60 469.11 673.2)">22</text>
<line x1="483.54" x2="483.54" y1="666.0" y2="667.3" stroke="#333" stroke-width="0.5"/>
<text x="483.54" y="673.2" font-size="5.3" fill="#444" text-anchor="middle" dominant-baseline="central" transform="rotate(-60 483.54 673.2)">X</text>
<circle cx="224.6" cy="613.8" r="1.0" fill="#111"/>
<text x="223" y="617.2" font-size="4.6" fill="#222" text-anchor="end">VEGFA</text>
<circle cx="282.2" cy="614.2" r="1.0" fill="#111"/>
<text x="285.6" y="615.2" font-size="4.6" fill="#222" text-anchor="start">MYC</text>
<circle cx="342.2" cy="623" r="1.0" fill="#111"/>
<text x="341" y="625" font-size="4.6" fill="#222" text-anchor="end">FOXM1</text>
<circle cx="350" cy="623" r="1.0" fill="#111"/>
<text x="353.8" y="625" font-size="4.6" fill="#222" text-anchor="start">CDK4</text>
<circle cx="391.2" cy="623" r="1.0" fill="#111"/>
<text x="394" y="622.8" font-size="4.6" fill="#222" text-anchor="start">AKT1</text>
<circle cx="419.8" cy="614.4" r="1.0" fill="#111"/>
<text x="421.2" y="612.6" font-size="4.6" fill="#222" text-anchor="start">AURKB</text>
<circle cx="446" cy="614.2" r="1.0" fill="#111"/>
<text x="445" y="619.6" font-size="4.6" fill="#222" text-anchor="end">CCNE1</text>
<circle cx="316.5" cy="648.8" r="1.0" fill="#111"/>
<text x="314.5" y="650.6" font-size="4.6" fill="#222" text-anchor="end">PTEN</text>
<circle cx="367.4" cy="648.8" r="1.0" fill="#111"/>
<text x="372.2" y="649.4" font-size="4.6" fill="#222" text-anchor="start">RB1</text>
<circle cx="419.8" cy="648.8" r="1.0" fill="#111"/>
<text x="416" y="650.6" font-size="4.6" fill="#222" text-anchor="end">TP53</text>
<path d="M224.6,613.8L224,626M419.8,614.4L420.6,620M446,614.2L440,615.5M419.8,648.8L416.5,648.8M367.4,648.8L371.5,648.8M350,623L353,623M342.2,623L341.5,623" stroke="#222" stroke-width="0.45" fill="none"/>
</svg></body></html>
